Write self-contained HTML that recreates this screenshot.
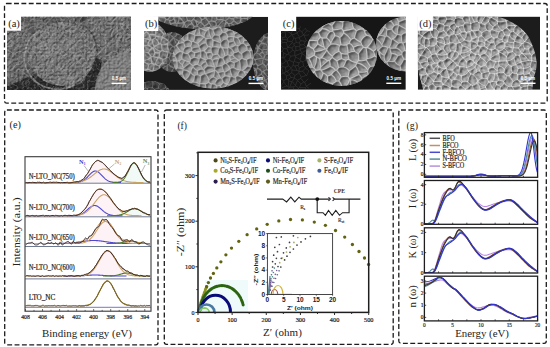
<!DOCTYPE html>
<html><head><meta charset="utf-8"><style>
html,body{margin:0;padding:0;background:#fff;width:550px;height:347px;overflow:hidden}
svg{display:block}
</style></head><body>
<svg width="550" height="347" viewBox="0 0 550 347">
<defs>
<filter id="net" x="0" y="0" width="100%" height="100%" color-interpolation-filters="sRGB">
  <feTurbulence type="turbulence" baseFrequency="0.16" numOctaves="2" seed="4" result="t"/>
  <feColorMatrix in="t" type="matrix" values="0 0 0 0 1  0 0 0 0 1  0 0 0 0 1  -4 0 0 0 1.05"/>
</filter>
<filter id="net2" x="0" y="0" width="100%" height="100%" color-interpolation-filters="sRGB">
  <feTurbulence type="turbulence" baseFrequency="0.11" numOctaves="2" seed="9" result="t"/>
  <feColorMatrix in="t" type="matrix" values="0 0 0 0 1  0 0 0 0 1  0 0 0 0 1  -4 0 0 0 1.0"/>
</filter>
<filter id="net3" x="0" y="0" width="100%" height="100%" color-interpolation-filters="sRGB">
  <feTurbulence type="turbulence" baseFrequency="0.17" numOctaves="2" seed="2" result="t"/>
  <feColorMatrix in="t" type="matrix" values="0 0 0 0 1  0 0 0 0 1  0 0 0 0 1  -4.5 0 0 0 1.1"/>
</filter>
<filter id="dk" x="0" y="0" width="100%" height="100%" color-interpolation-filters="sRGB">
  <feTurbulence type="fractalNoise" baseFrequency="0.2" numOctaves="2" seed="5" result="t"/>
  <feColorMatrix in="t" type="matrix" values="0 0 0 0 0  0 0 0 0 0  0 0 0 0 0  2.2 0 0 0 -1.0"/>
</filter>

<clipPath id="cla"><rect x="7" y="16.6" width="124" height="73.3"/></clipPath>
<clipPath id="clb"><rect x="144" y="16.8" width="124" height="73.1"/></clipPath>
<clipPath id="clc"><rect x="281" y="16.6" width="124.8" height="73.2"/></clipPath>
<clipPath id="cld"><rect x="417.8" y="16.6" width="122.2" height="73.2"/></clipPath>
<filter id="emb" x="410" y="10" width="130" height="85" filterUnits="userSpaceOnUse" color-interpolation-filters="sRGB">
  <feGaussianBlur in="SourceAlpha" stdDeviation="1.1" result="b"/>
  <feDiffuseLighting in="b" surfaceScale="1.3" diffuseConstant="1" lighting-color="#b5b5b5" result="l"><feDistantLight azimuth="225" elevation="45"/></feDiffuseLighting>
</filter>
<filter id="embA" x="0" y="0" width="100%" height="100%" color-interpolation-filters="sRGB">
  <feTurbulence type="turbulence" baseFrequency="0.28" numOctaves="2" seed="2" result="t"/>
  <feColorMatrix in="t" type="matrix" values="0 0 0 0 0  0 0 0 0 0  0 0 0 0 0  -2.5 0 0 0 1" result="a"/>
  <feDiffuseLighting in="a" surfaceScale="0.9" diffuseConstant="1" lighting-color="#b5b5b5"><feDistantLight azimuth="225" elevation="45"/></feDiffuseLighting>
</filter>
<filter id="dk2" x="0" y="0" width="100%" height="100%" color-interpolation-filters="sRGB">
  <feTurbulence type="fractalNoise" baseFrequency="0.35" numOctaves="1" seed="8" result="t"/>
  <feColorMatrix in="t" type="matrix" values="0 0 0 0 0  0 0 0 0 0  0 0 0 0 0  2.5 0 0 0 -0.9"/>
</filter>
<filter id="soft2" x="0" y="0" width="100%" height="100%"><feGaussianBlur stdDeviation="0.6"/></filter>
<filter id="soft" x="0" y="0" width="100%" height="100%"><feGaussianBlur stdDeviation="0.45"/></filter>
<radialGradient id="gapd"><stop offset="0" stop-color="#1e1e1e" stop-opacity="0.95"/><stop offset="1" stop-color="#1e1e1e" stop-opacity="0"/></radialGradient>
<radialGradient id="sg1" cx="0.4" cy="0.35" r="0.75"><stop offset="0" stop-color="#6c6c6c"/><stop offset="0.85" stop-color="#646464"/><stop offset="1" stop-color="#646464"/></radialGradient>
<clipPath id="sc1"><ellipse cx="8" cy="46" rx="23" ry="34"/></clipPath>
<radialGradient id="sg2" cx="0.4" cy="0.35" r="0.75"><stop offset="0" stop-color="#6e6e6e"/><stop offset="0.85" stop-color="#666666"/><stop offset="1" stop-color="#7a7a7a"/></radialGradient>
<clipPath id="sc2"><ellipse cx="116" cy="30" rx="32" ry="31"/></clipPath>
<radialGradient id="sg3" cx="0.4" cy="0.35" r="0.75"><stop offset="0" stop-color="#727272"/><stop offset="0.85" stop-color="#6e6e6e"/><stop offset="1" stop-color="#8c8c8c"/></radialGradient>
<clipPath id="sc3"><ellipse cx="62" cy="54" rx="33" ry="32"/></clipPath>
<radialGradient id="sg4" cx="0.4" cy="0.35" r="0.75"><stop offset="0" stop-color="#828282"/><stop offset="0.85" stop-color="#7c7c7c"/><stop offset="1" stop-color="#8e8e8e"/></radialGradient>
<clipPath id="sc4"><ellipse cx="128" cy="91" rx="33" ry="39"/></clipPath>
<radialGradient id="sg5" cx="0.4" cy="0.35" r="0.75"><stop offset="0" stop-color="#727272"/><stop offset="0.85" stop-color="#646464"/><stop offset="1" stop-color="#646464"/></radialGradient>
<clipPath id="sc5"><ellipse cx="203" cy="11" rx="52" ry="18"/></clipPath>
<radialGradient id="sg6" cx="0.4" cy="0.35" r="0.75"><stop offset="0" stop-color="#5e5e5e"/><stop offset="0.85" stop-color="#565656"/><stop offset="1" stop-color="#565656"/></radialGradient>
<clipPath id="sc6"><ellipse cx="172" cy="52" rx="16" ry="20"/></clipPath>
<radialGradient id="sg7" cx="0.4" cy="0.35" r="0.75"><stop offset="0" stop-color="#929292"/><stop offset="0.85" stop-color="#848484"/><stop offset="1" stop-color="#848484"/></radialGradient>
<clipPath id="sc7"><ellipse cx="150" cy="47" rx="19" ry="25"/></clipPath>
<radialGradient id="sg8" cx="0.4" cy="0.35" r="0.75"><stop offset="0" stop-color="#686868"/><stop offset="0.85" stop-color="#5a5a5a"/><stop offset="1" stop-color="#5a5a5a"/></radialGradient>
<clipPath id="sc8"><ellipse cx="272" cy="62" rx="19" ry="30"/></clipPath>
<radialGradient id="sg9" cx="0.4" cy="0.35" r="0.75"><stop offset="0" stop-color="#4a4a4a"/><stop offset="0.85" stop-color="#404040"/><stop offset="1" stop-color="#404040"/></radialGradient>
<clipPath id="sc9"><ellipse cx="152" cy="93" rx="18" ry="12"/></clipPath>
<radialGradient id="sg10" cx="0.4" cy="0.35" r="0.75"><stop offset="0" stop-color="#9a9a9a"/><stop offset="0.85" stop-color="#989898"/><stop offset="1" stop-color="#b0b0b0"/></radialGradient>
<clipPath id="sc10"><ellipse cx="213" cy="57.5" rx="40.5" ry="31"/></clipPath>
<filter id="emb10" x="172.5" y="26.5" width="81" height="62" filterUnits="userSpaceOnUse" color-interpolation-filters="sRGB"><feGaussianBlur in="SourceAlpha" stdDeviation="1.1" result="b"/><feDiffuseLighting in="b" surfaceScale="1.3" diffuseConstant="1" lighting-color="#b5b5b5"><feDistantLight azimuth="225" elevation="45"/></feDiffuseLighting></filter>
<radialGradient id="sg11" cx="0.4" cy="0.35" r="0.75"><stop offset="0" stop-color="#9a9a9a"/><stop offset="0.85" stop-color="#969696"/><stop offset="1" stop-color="#b0b0b0"/></radialGradient>
<clipPath id="sc11"><ellipse cx="407" cy="44" rx="31" ry="27.5"/></clipPath>
<filter id="emb11" x="376" y="16.5" width="62" height="55" filterUnits="userSpaceOnUse" color-interpolation-filters="sRGB"><feGaussianBlur in="SourceAlpha" stdDeviation="1.1" result="b"/><feDiffuseLighting in="b" surfaceScale="1.3" diffuseConstant="1" lighting-color="#b5b5b5"><feDistantLight azimuth="225" elevation="45"/></feDiffuseLighting></filter>
<radialGradient id="sg12" cx="0.4" cy="0.35" r="0.75"><stop offset="0" stop-color="#9e9e9e"/><stop offset="0.85" stop-color="#9a9a9a"/><stop offset="1" stop-color="#b8b8b8"/></radialGradient>
<clipPath id="sc12"><ellipse cx="341.5" cy="53.5" rx="35.5" ry="32.5"/></clipPath>
<filter id="emb12" x="306" y="21" width="71" height="65" filterUnits="userSpaceOnUse" color-interpolation-filters="sRGB"><feGaussianBlur in="SourceAlpha" stdDeviation="1.1" result="b"/><feDiffuseLighting in="b" surfaceScale="1.3" diffuseConstant="1" lighting-color="#b5b5b5"><feDistantLight azimuth="225" elevation="45"/></feDiffuseLighting></filter>
<clipPath id="dshape"><path d="M410,10 L495,10 L498,16.6 C510,20 522,27 528,36 C533,45 537,56 536.6,65 C536.4,70 535,74 533.5,78 L532,95 L424.5,95 L418,70 Z"/></clipPath>
<radialGradient id="dg" cx="0.55" cy="0.62" r="0.62"><stop offset="0" stop-color="#b0b0b0"/><stop offset="0.7" stop-color="#a2a2a2"/><stop offset="1" stop-color="#868686"/></radialGradient>
<clipPath id="eL"><rect x="25" y="150" width="95" height="170"/></clipPath><clipPath id="eR"><rect x="120" y="150" width="40" height="170"/></clipPath></defs>
<rect width="550" height="347" fill="#fff"/>
<rect x="4.5" y="3.5" width="542.7" height="99.7" rx="2.2" fill="none" stroke="#1c1c1c" stroke-width="1.3" stroke-dasharray="4.9 2.45"/>
<rect x="4.7" y="110" width="153.3" height="234.8" rx="2.2" fill="none" stroke="#1c1c1c" stroke-width="1.3" stroke-dasharray="4.9 2.45"/>
<rect x="164.3" y="110" width="228.9" height="234.3" rx="2.2" fill="none" stroke="#1c1c1c" stroke-width="1.3" stroke-dasharray="4.9 2.45"/>
<rect x="398.8" y="110" width="147.5" height="233.3" rx="2.2" fill="none" stroke="#1c1c1c" stroke-width="1.3" stroke-dasharray="4.9 2.45"/>
<g clip-path="url(#cla)" filter="url(#soft2)">
<rect x="7" y="16.6" width="124" height="73.30000000000001" fill="#5a5a5a"/>
<path d="M7,92 L7,86 L22,80 L34,74 L50,82 L70,88 L84,82 L90,68 L96,58 L102,60 L100,72 L94,92 Z" fill="#2a2a2a"/>
<ellipse cx="84" cy="19" rx="7" ry="5" fill="url(#gapd)" opacity="0.5"/>
<ellipse cx="8" cy="46" rx="23" ry="34" fill="url(#sg1)"/>
<ellipse cx="116" cy="30" rx="32" ry="31" fill="url(#sg2)"/>
<ellipse cx="62" cy="54" rx="33" ry="32" fill="url(#sg3)"/>
<path d="M40,30 A33,32 0 0 0 75,84.5" fill="none" stroke="#a0a0a0" stroke-width="1.6" opacity="0.6"/>
<path d="M85,26 A33,32 0 0 1 93,66" fill="none" stroke="#303030" stroke-width="1.4" opacity="0.5"/>
<rect x="7" y="16.6" width="124" height="73.30000000000001" filter="url(#embA)" style="mix-blend-mode:overlay" opacity="0.55"/>
<rect x="7" y="16.6" width="124" height="73.30000000000001" filter="url(#net3)" opacity="0.22"/>
<ellipse cx="128" cy="91" rx="33" ry="39" fill="url(#sg4)"/>
<g clip-path="url(#sc4)"><rect x="7" y="16.6" width="124" height="73.3" filter="url(#embA)" style="mix-blend-mode:overlay" opacity="0.4"/></g>
</g>
<g clip-path="url(#clb)" filter="url(#soft)">
<rect x="144" y="16.8" width="124" height="73.10000000000001" fill="#1c1c1c"/>
<ellipse cx="203" cy="11" rx="52" ry="18" fill="url(#sg5)"/>
<rect clip-path="url(#sc5)" x="151" y="-7" width="104" height="36" filter="url(#dk2)" opacity="0.4"/>
<path clip-path="url(#sc5)" d="M230.4 28.6Q229.1 26.3 228.6 23.7M233 28.2Q233.4 26.9 234.6 26.2M234.6 26.2Q233.2 24.1 230.8 23.4M228.6 23.7Q229.6 23.1 230.8 23.4M226.1 22.4Q225 24 224.7 26M226.1 22.4Q227.4 22.9 228.6 23.7M227.8 31.6Q226.3 29.9 224.7 28.2M224.7 28.2Q224.9 27.1 224.7 26M239.4 27.6Q238 26.6 238 24.9M238 24.9Q236.3 25.6 234.6 26.2M234 20.8Q236.1 22.4 238.1 24.2M234 20.8Q232.5 22.2 230.8 23.4M238.1 24.2Q238.2 24.6 238 24.9M233.6 18.8Q231 19.3 229.1 17.5M233.6 18.8Q233.8 19.8 234 20.8M226.1 22.4Q225.7 21.6 225.4 20.8M229.1 17.5Q227.5 19.5 225.4 20.8M238.7 1.3Q238.7 1.3 238.7 1.4M238.7 1.3Q240 -0.6 241.8 -2M238.7 1.4Q240.4 3.7 242.8 5.4M242.8 5.4Q246.1 3.3 247.5 -0.3M247.5 -0.3Q244.9 -1.9 241.8 -2M235.5 -5.4Q236.9 -2.8 235.7 -0.2M235.7 -0.2Q237.3 0.3 238.7 1.3M241.8 -2Q241.7 -3.9 241.7 -5.7M217.2 19.7Q215.9 20.5 215.4 21.9M217.2 19.7Q220.1 19.6 223 19.3M223 19.3Q223.3 19.8 223.9 20.1M223.9 20.1Q220.3 22.6 217.9 26.3M215.4 21.9Q216.6 23.6 216.2 25.6M217.9 26.3Q217.2 25.6 216.2 25.6M225.4 20.8Q224.7 20.4 223.9 20.1M224.7 26Q221.4 25.9 218.2 26.6M217.9 26.3Q218.1 26.4 218.2 26.6M224.7 28.2Q221.8 28.5 220 30.7M218.2 26.6Q218 29.1 220 30.7M227.7 -3.5Q226.8 -4.3 226.1 -5.3M227.7 -3.5Q230.4 -5.3 233.1 -7M226.1 -5.3Q225.7 -8.2 227.6 -10.5M238.1 24.2Q239.5 23.3 240.3 21.8M240.3 21.8Q243.6 23.8 247.4 24.7M233.6 18.8Q234.2 17.6 235.4 16.9M235.4 16.9Q237.8 18.3 240.6 17.9M240.3 21.8Q240.7 20.2 240.9 18.6M240.6 17.9Q240.6 18.3 240.9 18.6M235.4 16.9Q235.7 14.2 234.4 11.8M229.1 17.5Q228.5 15.4 229.5 13.4M229.5 13.4Q231.7 12 234.4 11.8M237.5 10.3Q238.7 12.9 241.3 14.3M237.5 10.3Q236.5 10.7 235.6 10.2M240.6 17.9Q240.3 16 241.3 14.3M234.4 11.8Q235.3 11.3 235.6 10.2M171.6 -6Q172.8 -4.7 174.5 -4.3M170.2 -5.5Q170.3 -4 169.7 -2.6M169.7 -2.6Q170.5 -0.3 170.5 2.1M172.2 2.6Q171.2 2.8 170.5 2.1M172.2 2.6Q173.4 0.4 175.8 -0.4M175.8 -0.4Q174.2 -2 174.5 -4.3M175.6 -10.7Q177.6 -7.6 180.2 -4.8M174.5 -4.3Q177.4 -4.2 180.2 -4.8M207.8 -0.3Q207.5 -0.7 207.4 -1.2M207.8 -0.3Q209.7 1.1 212 1.2M212 1.2Q213.5 -0.9 215 -3M215 -3Q213.7 -5.4 212 -7.5M207.4 -1.2Q210.2 -4 212 -7.5M258.1 14.7Q256.1 15.7 254 15.4M254 15.4Q253.6 17.9 254.7 20.1M240.9 18.6Q244.2 18.3 247.5 18.7M247.5 18.7Q247.8 21.1 248.1 23.6M219.1 8.4Q222 5.7 225.9 5.6M219.1 8.4Q217.8 7.8 217 6.6M217 6.6Q216.8 5.8 216.7 5.1M218.7 2.6Q217.4 3.6 216.7 5.1M218.7 2.6Q221.2 1.8 223.7 1.3M223.7 1.3Q224.7 3.5 225.9 5.6M228.2 12.4Q228.1 10.7 227.1 9.3M228.2 12.4Q225.3 13.9 222.2 14.8M227.1 9.3Q224.4 12.5 220.3 12.3M222.2 14.8Q221.3 13.5 220.3 12.3M223 19.3Q223.6 16.8 222.2 14.8M229.5 13.4Q228.6 13.2 228.2 12.4M220.1 12.2Q220.2 12.3 220.3 12.3M220.1 12.2Q219.9 10.2 219.1 8.4M225.9 5.6Q226.6 5.9 227.2 6.2M227.2 6.2Q227.8 7.8 227.1 9.3M215.4 15.1Q216.3 17.4 217.2 19.7M215.4 15.1Q217.1 12.6 220.1 12.2M170.9 29Q173.6 27 176.8 27.6M179.2 29.9Q177.8 28.9 176.8 27.6M161.5 10.6Q164 12.6 165 15.7M161.5 10.6Q163.3 9.7 165.1 8.8M165.1 8.8Q166.2 9.9 167.7 10M167.7 10Q168 12 167.2 14M167.2 14Q165.7 14.3 165 15.7M169.7 -2.6Q167.6 -1.3 165.2 -0.7M162.1 -2.3Q163.4 -1 165.2 -0.7M170.5 2.1Q169.9 2.5 169.4 3M169.4 3Q167.4 2.9 165.7 3.8M165.2 -0.7Q164.7 1.6 165.7 3.8M170 9.5Q170.8 6.2 169.4 3M170 9.5Q168.9 10.1 167.7 10M165.1 8.8Q166.2 6.4 165.3 4.1M165.3 4.1Q165.5 3.8 165.7 3.8M180.2 -4.8Q180.3 -4.7 180.5 -4.7M180.5 -4.7Q181.2 -5.7 182.5 -5.8M182.3 -10.4Q182.8 -8.1 182.5 -5.8M197.1 -10Q197.5 -8.5 196.7 -7.1M196.7 -7.1Q194.2 -6.6 191.9 -5.5M189.3 -10.3Q190.2 -8.4 190.4 -6.3M191.9 -5.5Q191.2 -5.9 190.4 -6.3M182.5 -5.8Q184.4 -5.7 186 -4.5M190.4 -6.3Q188.3 -5.2 186 -4.5M247.5 -0.3Q247.9 -0.3 248.2 -0.6M221.9 -1.7Q221.2 -3.8 220.2 -5.6M221.9 -1.7Q220.1 -1 218.3 -0.3M220.2 -5.6Q218.3 -4.7 217 -3.1M218.3 -0.3Q218.3 -2 217 -3.1M227.7 -3.5Q227.7 -3.2 227.7 -2.8M226.1 -5.3Q223.1 -5 220.8 -6.9M220.8 -6.9Q220.7 -6.2 220.2 -5.6M223.8 0.7Q225.2 -1.7 227.7 -2.8M223.8 0.7Q222.7 -0.4 221.9 -1.7M218.7 2.6Q218.8 1.1 218.3 -0.3M223.8 0.7Q223.7 0.9 223.7 1.3M216.7 5.1Q214.1 4.5 212.7 2.4M212.7 2.4Q212.1 1.9 212 1.2M215 -3Q216 -3.2 217 -3.1M220.8 -6.9Q220.8 -7.3 220.6 -7.7M206.1 2.5Q203.8 3.1 201.4 3.5M206.1 2.5Q207 1.1 207.8 -0.3M201.4 3.5Q201.2 0.9 202.1 -1.6M207.4 -1.2Q206.6 -1.8 205.7 -2.4M205.7 -2.4Q203.9 -2.1 202.1 -1.6M196.7 -7.1Q197.5 -6.8 198 -6.2M197.8 -0.3Q198.7 -1.4 199.3 -2.7M197.8 -0.3Q195.3 -1.8 192.3 -2M192.3 -2Q191.8 -3.7 191.9 -5.5M198 -6.2Q198.7 -4.5 199.3 -2.7M198 -6.2Q200.6 -7.9 203.7 -7.5M202.3 -11.9Q203.6 -9.9 203.7 -7.5M205.7 -2.4Q204 -4.5 204.5 -7.2M202.1 -1.6Q200.5 -1.5 199.3 -2.7M203.7 -7.5Q204.2 -7.5 204.5 -7.2M212 -7.5Q212 -7.6 212 -7.7M213.5 -10.7Q212.4 -9.4 212 -7.7M204.5 -7.2Q205.3 -7.6 206 -8.2M212 -7.7Q209.1 -8.8 206 -8.2M253.7 15.3Q252.3 15.5 251 14.9M253.7 15.3Q253.7 12.1 254.7 9M251 14.9Q250.6 11.8 249.8 8.8M254.7 9Q253.3 7.3 251.2 6.9M249.8 8.8Q250.4 7.9 250.9 7M250.9 7Q251 6.9 251.2 6.9M254 15.4Q253.8 15.4 253.7 15.3M247.5 18.7Q247.7 16.6 249.5 15.4M249.5 15.4Q250.3 15.4 251 14.9M257.9 7Q255.9 7.4 254.7 9M254.6 2.7Q253.6 5.4 251.2 6.9M249.4 5.6Q250 2.5 248.7 -0.4M249.4 5.6Q250.4 6 250.9 7M244.8 12.7Q245 12.8 245.2 12.8M244.8 12.7Q244.5 9.1 242.8 5.8M245.2 12.8Q246.4 10.8 247.7 8.9M247.7 8.9Q245.4 7.4 243.1 5.8M243.1 5.8Q243 5.8 242.9 5.7M242.9 5.7Q242.8 5.8 242.8 5.8M241.3 14.3Q242.9 13.1 244.8 12.7M249.5 15.4Q247 14.6 245.2 12.8M237.5 10.3Q240.8 8.8 242.8 5.8M249.8 8.8Q248.8 8.8 247.7 8.9M249.4 5.6Q246.3 5.7 243.1 5.8M242.8 5.4Q242.8 5.6 242.9 5.7M228.6 5.7Q229.4 3 231.8 1.6M228.6 5.7Q232.9 6.6 235.5 10.1M235.5 7.4Q234.8 8.8 235.5 10.1M235.5 7.4Q234.5 4.2 232.4 1.5M232.4 1.5Q232.1 1.5 231.8 1.6M227.7 -2.8Q229.6 -0.5 231.8 1.6M227.2 6.2Q227.8 5.8 228.6 5.7M235.6 10.2Q235.5 10.2 235.5 10.1M238.7 1.4Q236.8 4.3 235.5 7.4M235.7 -0.2Q234.5 1.5 232.4 1.5M186.7 29.3Q186 31.4 183.9 32.2M186.7 29.3Q189.4 29.4 191.9 30.4M186.7 29.3Q186.7 28.7 186.5 28.1M179.2 29.9Q183.1 27.7 184.3 23.4M186.5 28.1Q185.3 25.8 184.3 23.4M176.8 27.6Q176.6 25.7 177.1 23.7M177.3 23.6Q177.2 23.6 177.1 23.7M177.3 23.6Q180.7 22.5 184.2 22.9M184.3 23.4Q184.2 23.1 184.2 22.9M179.1 16.5Q181.7 19.6 184.3 22.8M179.1 16.5Q179 16.5 179 16.5M179 16.5Q179.6 20.4 177.3 23.6M184.3 22.8Q184.3 22.8 184.2 22.9M189.9 2.6Q188.4 0.2 185.8 -0.9M189.9 2.6Q190 2.6 190.2 2.6M192.3 -2Q191.5 -0.2 191.4 1.7M185.8 -0.9Q185.8 -2.7 186 -4.5M191.4 1.7Q190.8 2.1 190.2 2.6M197.8 -0.3Q196.9 1.8 197.6 3.9M191.4 1.7Q194.6 2.5 197.6 3.9M201.4 3.5Q200.6 5.2 198.9 5.8M197.6 3.9Q198.1 5 198.9 5.8M179.1 16.5Q179.1 16 179.4 15.8M179.4 15.8Q181.9 14.5 184.3 13.1M184.3 13.1Q185.5 14.1 186.5 15.4M184.3 22.8Q185.8 21.5 187.6 20.4M186.5 15.4Q186.4 18 187.6 20.4M206.1 2.5Q205.8 4.7 206.9 6.6M212.7 2.4Q209.7 3.9 209 7.2M209 7.2Q208 6.6 206.9 6.6M177.1 23.7Q176.3 23 175.2 22.8M175.2 22.8Q172.7 22.6 170.9 24.2M169.3 28.1Q169.9 26.1 170.9 24.2M158.1 4.6Q156.8 3.9 155.7 2.7M158.1 4.6Q159.3 3 161.2 2.9M155.7 2.7Q156.4 0.3 157.2 -2.1M161.2 2.9Q160.4 0.4 161.7 -1.8M157.2 -2.1Q159.5 -2.6 161.7 -1.8M152.3 2.5Q154 2.5 155.7 2.7M162.1 -2.3Q161.9 -2.1 161.7 -1.8M165.3 4.1Q163.4 3 161.2 2.9M170 9.5Q171.4 9.9 172.9 10.4M172.9 10.4Q173.4 10.2 173.9 9.9M172.2 2.6Q173 2.9 173.2 3.7M173.9 9.9Q174.2 6.7 173.2 3.7M179.4 15.8Q178.4 12.4 175.9 9.9M184.3 13.1Q183.6 11.2 184.6 9.5M184.6 9.5Q181.9 8.8 179.4 7.3M175.9 9.9Q177.8 8.9 179.4 7.3M206 -8.2Q205.7 -10.5 206.9 -12.5M216.2 25.6Q213.6 26.5 211.9 28.7M213.7 30.7Q213.2 29.3 211.8 28.8M211.9 28.7Q211.9 28.7 211.8 28.8M186.5 15.4Q189.8 14.7 192.9 13.3M185.6 8.7Q185 9 184.6 9.5M185.6 8.7Q188.5 10.7 191.9 10M192.9 13.3Q193.1 11.4 191.9 10M189.9 2.6Q188.4 4.5 186.4 5.7M190.2 2.6Q191.1 5.7 193 8.4M186.4 5.7Q186.6 7.4 185.6 8.7M191.9 10Q192.8 9.4 193 8.4M198.9 5.8Q198.9 5.9 198.9 6M193 8.4Q195.7 6.6 198.9 6M203.2 9.1Q205.2 8 206.9 6.6M203.2 9.1Q201.1 8.6 199.5 7.1M199.5 7.1Q199.1 6.6 198.9 6M164.6 17.7Q165.4 18.5 165.8 19.5M164.6 17.7Q161.6 17.2 158.6 17.7M165.8 19.5Q164.7 22 163.7 24.6M158.6 17.7Q159.6 21.9 162.9 24.8M163.7 24.6Q163.3 24.6 162.9 24.8M169.3 28.1Q166.9 25.7 163.7 24.6M167.5 19.5Q168.9 19.6 169.7 20.7M167.5 19.5Q169.7 17.7 171 15.2M169.7 20.7Q172.1 20.6 173.7 18.8M172.1 14.9Q173.6 15.7 174.2 17.3M172.1 14.9Q171.5 14.9 171 15.2M174.2 17.3Q173.7 18 173.7 18.8M170.9 24.2Q169.6 22.7 169.7 20.7M165.8 19.5Q166.6 19.6 167.5 19.5M167.2 14Q169.2 14.2 171 15.2M165 15.7Q164.9 16.7 164.6 17.7M175.2 22.8Q175.4 20.4 173.7 18.8M172.9 10.4Q172.3 12.6 172.1 14.9M179 16.5Q176.6 17 174.2 17.3M173.9 9.9Q174.9 10.2 175.9 9.9M150 4.5Q151.5 6.8 152.5 9.3M158.1 4.6Q158.9 6.5 158.2 8.5M158.2 8.5Q155.1 7.5 152.5 9.3M161.5 10.6Q160.5 10.9 159.5 10.5M158.2 8.5Q158.4 9.7 159.5 10.5M147.2 11Q150 11.6 152.2 9.9M152.5 9.3Q152.4 9.6 152.2 9.9M178.5 0.5Q179 -0.7 180.2 -1.2M178.5 0.5Q178.7 2.3 178.7 4.1M180.2 -1.2Q181.8 -0.1 183.6 0.8M178.7 4.1Q178.8 4.3 178.9 4.4M178.9 4.4Q181.7 4.6 183.5 2.5M183.6 0.8Q183.7 1.7 183.5 2.5M175.8 -0.4Q177.4 -0.6 178.5 0.5M180.5 -4.7Q179.5 -3 180.2 -1.2M173.2 3.7Q176.1 2.5 178.7 4.1M185.8 -0.9Q184.3 -0.6 183.6 0.8M179.4 7.3Q179.7 5.8 178.9 4.4M186.4 5.7Q185.6 3.6 183.5 2.5M211.8 28.8Q210.8 29.6 209.7 30.2M192.9 13.3Q194.5 14 195.4 15.5M199.5 7.1Q197.6 11 196.6 15.2M196.6 15.2Q196 15.4 195.4 15.5M211.9 28.7Q211.1 25.2 208.9 22.4M209.7 30.2Q207 30.8 204.4 29.8M204.4 29.8Q204.3 27.8 204.3 25.8M204.3 25.8Q207.3 25.1 208.9 22.4M215.4 15.1Q214.1 14.6 212.7 14.4M217 6.6Q213.7 7.4 212.1 10.3M212.7 14.4Q212.9 12.3 212.1 10.3M209 7.2Q210.2 8.1 210.6 9.6M212.1 10.3Q211.4 9.8 210.6 9.6M203.2 9.1Q203.9 9.9 203.9 10.9M210.6 9.6Q209 11.7 206.3 12.1M203.9 10.9Q205 11.6 206.3 12.1M198.2 15.9Q197.2 15.9 196.6 15.2M198.2 15.9Q199.9 13.3 202.9 12.8M203.9 10.9Q203.5 11.9 202.9 12.8M198.2 15.9Q200.5 17.2 201.6 19.6M201.6 19.6Q203.4 19.2 205 18.2M202.9 12.8Q204.6 15.3 205 18.2M197.1 25.4Q197 25.8 196.7 26M197.1 25.4Q196.4 22.9 195.4 20.5M196.7 26Q195.4 26.3 194 26.7M194 26.7Q193.5 24.7 191.8 23.5M191.8 23.5Q191.7 22.1 190.7 21.1M190.7 21.1Q192.6 20.6 193.5 18.8M195.4 20.5Q194.1 20 193.5 18.8M200.5 22.3Q197.5 22.6 195.4 20.5M200.5 22.3Q198.4 23.4 197.1 25.4M191.9 30.4Q192.4 29.5 193.1 28.8M186.5 28.1Q188.1 24.6 191.8 23.5M193.1 28.8Q193.6 27.8 194 26.7M187.6 20.4Q189.2 20.5 190.7 21.1M195.4 15.5Q194.9 17.4 193.5 18.8M200.5 22.3Q200.8 22.2 201 22M201 22Q201.6 20.9 201.6 19.6M158.6 17.7Q157.5 17.6 156.5 17M155 23.4Q156.3 20.3 156.5 17M159.5 10.5Q158.9 14.1 156.5 16.9M152.2 9.9Q151.4 12.8 152.7 15.6M152.7 15.6Q154.7 16.1 156.5 16.9M147.2 11Q148.4 13.6 149.5 16.2M152.7 15.6Q151.2 16.4 149.5 16.2M156.5 17Q156.5 17 156.5 16.9M149.3 16.4Q149.4 16.3 149.5 16.2M193.1 28.8Q196.3 31.7 200.5 32.6M196.7 26Q200.5 27.6 202.5 31.3M204.4 29.8Q203.5 30.5 202.7 31.2M204.3 25.8Q202.5 24.1 201 22M211.8 20.8Q210.1 20.9 208.9 22.2M211.8 20.8Q212.2 18 211.8 15.2M208.9 22.2Q207.5 20.1 205.7 18.2M205.7 18.2Q206.4 16.5 208 15.6M211.8 15.2Q209.9 16.1 208 15.6M215.4 21.9Q213.7 21.2 211.8 20.8M208.9 22.4Q209 22.3 208.9 22.2M212.7 14.4Q212.4 15 211.8 15.2M205 18.2Q205.4 18.2 205.7 18.2M206.3 12.1Q207.4 13.7 208 15.6" stroke="#c4c4c4" stroke-width="1.2" opacity="0.5" fill="none" stroke-linecap="round"/>
<ellipse cx="172" cy="52" rx="16" ry="20" fill="url(#sg6)"/>
<rect clip-path="url(#sc6)" x="156" y="32" width="32" height="40" filter="url(#dk2)" opacity="0.4"/>
<path clip-path="url(#sc6)" d="M184.3 40.4Q185 40.1 185.2 39.5M184.3 40.4Q188.8 39.9 192.4 42.6M191 36.5Q187.6 37.1 185.2 39.5M186.5 34Q186.9 37 185.2 39.5M167.2 73.3Q167.1 69.4 167.3 65.5M162.2 71.6Q162.8 70.2 162.5 68.6M167.3 65.5Q164.5 66.4 162.5 68.6M158.9 64.8Q160.1 67.3 162.5 68.6M158.9 64.8Q157.7 65.4 156.3 65.5M190 68.9Q186.5 66 182.7 63.4M185.6 70.8Q182.7 69.8 181.2 67.3M181.2 67.3Q181.7 66.7 181.6 65.9M181.6 65.9Q182.5 64.8 182.7 63.4M179.3 75Q178.1 72.1 177.5 69.1M177.5 69.1Q175.9 68.5 174.3 67.9M171.1 73.3Q172.3 74.1 173.6 74.7M171.1 73.3Q172 70.4 173.8 68M174.3 67.9Q174.1 68 173.8 68M181.2 67.3Q179 67.4 177.5 69.1M181.6 65.9Q178.5 65.4 176.4 63.1M176.4 63.1Q174.3 65 174.3 67.9M169.4 74.2Q170.3 73.8 171.1 73.3M184.3 40.4Q183.9 40.5 183.6 40.7M186.5 44.9Q185 42.8 183.6 40.7M186.5 44.9Q189.3 44.4 191.3 46.3M186.5 44.9Q186.1 47.3 184.9 49.4M190.3 50.3Q187.6 50 184.9 49.4M180.5 44.3Q182.8 46.9 182.3 50.3M180.5 44.3Q178.8 45.4 176.9 44.6M176.9 44.6Q176.2 46.2 174.5 46.7M182.1 50.6Q182.2 50.4 182.3 50.3M182.1 50.6Q178.6 51.8 175.5 49.8M174.5 46.7Q174.3 48.5 175.5 49.8M183.6 40.7Q183.6 40.7 183.5 40.7M182.5 32Q181.3 33 180.6 34.3M180.6 34.3Q183.5 36.8 183.5 40.7M180.5 44.3Q181.7 42.8 182.8 41.2M184.9 49.4Q183.7 50.2 182.3 50.3M182.8 41.2Q183.3 41.1 183.5 40.7M176.9 44.6Q174.9 41.6 173.9 38.2M182.8 41.2Q177.9 41.1 173.9 38.2M170.3 44.6Q169.9 43.5 169.6 42.3M170.3 44.6Q171.6 45.3 172.7 46.4M169.6 42.3Q170.8 39.4 173.6 37.9M172.7 46.4Q173.5 46.8 174.5 46.7M173.9 38.2Q173.7 38.1 173.6 37.9M170.3 44.6Q168.5 45.3 167.6 47.1M169.6 42.3Q168.9 41.9 168.1 41.8M167.6 47.1Q166 46.3 164.2 46.7M164.2 46.7Q163.6 45.5 162.5 44.6M162.5 44.6Q165.9 44.3 168.1 41.8M167.6 47.1Q166.9 49.6 168.4 51.8M164.2 46.7Q165.5 49.7 164 52.5M164 52.5Q166.1 51.6 168.4 51.8M172.7 46.4Q169.8 48.5 169.2 52.1M175.5 49.8Q174.6 51.8 173.9 53.8M173.9 53.8Q172.4 53.2 171 53.8M171 53.8Q170 53 169.2 52.1M168.4 51.8Q168.8 51.9 169.2 52.1M190.6 52.9Q188.6 53 187 54.2M182.1 50.6Q182.3 51.3 182.1 52M182.1 52Q184.6 52.8 187 54.2M174.3 54.2Q177.2 56 180.6 55.8M174.3 54.2Q174.1 54 173.9 53.8M182.1 52Q181.1 53.8 180.6 55.8M174.3 54.2Q175.3 57 174.4 59.9M174.4 59.9Q175.8 60.1 176.8 61.1M176.8 61.1Q179.7 61.2 181.6 59.1M180.6 55.8Q181.6 57.3 181.6 59.1M177.1 34.2Q175.9 36.5 173.6 37.6M177.1 34.2Q175.1 32.4 175.3 29.8M172.6 29.7Q172.1 32.8 169.7 34.5M169.7 34.5Q171.8 35.9 173.6 37.6M180.6 34.3Q178.8 34 177.1 34.2M173.6 37.9Q173.7 37.7 173.6 37.6M160.9 62Q159.2 62.9 158.9 64.8M160.9 62Q160.4 60.4 160.5 58.7M155.1 58.8Q157.8 58.7 160.5 58.7M158.3 34.8Q160.3 34.3 162.4 34.2M162.4 34.2Q162.6 32.3 163 30.4M164.8 36.8Q166.8 36 167.9 34.2M164.8 36.8Q164.6 37.2 164.4 37.7M167.9 41.6Q166.7 39.2 164.4 37.7M167.9 41.6Q169.6 38.1 168.6 34.4M168.6 34.4Q168.2 34.3 167.9 34.2M165.5 29.2Q167.1 31.5 167.9 34.2M162.4 34.2Q164.1 35 164.8 36.8M168.1 41.8Q168.1 41.7 167.9 41.6M169.7 34.5Q169.2 34.3 168.6 34.4M165 57.2Q167.1 57.8 169.2 57.7M165 57.2Q166.3 60.2 166.2 63.4M169.2 57.7Q169.5 59.4 170.4 60.9M170.4 60.9Q170.1 62.9 168.8 64.4M166.2 63.4Q166.9 64.3 168 64.6M168.8 64.4Q168.4 64.3 168 64.6M164 52.5Q163.1 53.5 161.9 54.1M171 53.8Q169.9 55.7 169.2 57.7M161.9 54.1Q162 54.8 162.1 55.5M162.1 55.5Q163.7 56.1 165 57.2M160.9 62Q163.3 63.8 166.2 63.4M160.5 58.7Q161 57 162.1 55.5M174.4 59.9Q172.2 59.8 170.4 60.9M176.4 63.1Q176.8 62.2 176.8 61.1M173.8 68Q170.6 67.1 168.8 64.4M167.3 65.5Q167.8 65.2 168 64.6M190.5 58.3Q188 58.6 185.4 58.2M189.4 63.3Q186 62.7 182.9 61.4M185.4 58.2Q183.8 59 182.2 59.5M182.9 61.4Q182.5 60.5 182.2 59.5M187 54.2Q186.4 56.2 185.4 58.2M182.7 63.4Q183.1 62.4 182.9 61.4M181.6 59.1Q181.9 59.3 182.2 59.5M159.9 45.7Q157.9 47.2 155.4 47.2M159.9 45.7Q159.1 49.4 160.3 53M155.4 47.2Q155.1 48.5 154.6 49.8M154.6 49.8Q155.1 50.8 155.7 51.7M155.7 51.7Q156.6 51.9 157.2 52.6M160.3 53Q158.8 52.5 157.2 52.6M162.5 44.6Q161.8 44.3 161.1 44.1M161.9 54.1Q161.2 53.4 160.3 53M161.1 44.1Q160.1 44.7 159.9 45.7M151.2 55.4Q152.6 52.6 155.7 51.7M154.6 58.1Q155.9 55.4 157.2 52.6M160.3 39.9Q161.1 41.4 160.6 42.9M160.3 39.9Q158.7 38.9 157.4 37.5M160.6 42.9Q156.7 42.6 152.8 43.3M161.1 44.1Q161 43.5 160.6 42.9M164.4 37.7Q162.6 39.3 160.3 39.9M155.4 47.2Q154.9 44.7 152.8 43.3" stroke="#b4b4b4" stroke-width="1.1" opacity="0.45" fill="none" stroke-linecap="round"/>
<ellipse cx="150" cy="47" rx="19" ry="25" fill="url(#sg7)"/>
<rect clip-path="url(#sc7)" x="131" y="22" width="38" height="50" filter="url(#dk2)" opacity="0.4"/>
<path clip-path="url(#sc7)" d="M130.8 51.4Q128.5 52.1 126.2 52.7M130.8 51.4Q131.4 51.4 132 51.7M132 51.7Q134.2 53.7 134.6 56.6M125.8 58.2Q129.8 55.3 134.6 56.6M168.9 50.6Q170.4 48.8 172.6 48.2M168.9 50.6Q168.9 51.3 168.5 51.9M174.4 54.1Q171.5 53.1 168.6 52.1M168.5 51.9Q168.5 52 168.6 52.1M134 67.4Q135.9 66.8 137.6 67.8M137.6 67.8Q139.5 70.6 138.7 73.8M134.6 56.6Q134.7 56.8 134.9 56.8M133 62.5Q132.5 59.2 134.9 56.8M130.8 51.4Q128.6 48 128.7 44M135.7 37.2Q132 38.6 129.4 41.6M135.7 37.2Q135.9 39.8 136.6 42.2M136.6 42.2Q135.5 43.5 134.3 44.6M134.3 44.6Q132.1 42.8 129.4 43.3M132 51.7Q132.8 49.9 134.6 49.2M134.6 49.2Q135 48.2 135.1 47.2M135.1 47.2Q135.2 45.8 134.3 44.6M170.6 61Q169.5 58.4 166.9 57.4M166.9 57.4Q165.3 59.2 162.9 59.3M167.3 66.3Q165.2 64.3 162.9 62.6M162.9 62.6Q162.5 60.9 162.9 59.3M166.9 57.4Q167.4 54.6 168.6 52.1M168.5 51.9Q165 52.2 162.2 50.2M162.2 50.2Q161.4 51.2 160.2 51.4M159.6 52.6Q160.2 52.1 160.2 51.4M159.6 52.6Q159.7 55 159 57.4M162.9 59.3Q160.9 58.4 159 57.4M153 56.3Q155.5 57.5 158.2 57.7M153 56.3Q154.7 54.6 154.7 52.3M154.7 52.3Q157.1 53.3 159.6 52.6M159 57.4Q158.6 57.5 158.2 57.7M143.6 74.6Q144.3 73.8 144.3 72.7M144.3 72.7Q148.3 72.8 152 74.7M137.6 67.8Q139.3 68 140.9 67.2M140.9 67.2Q143.4 68.2 144.4 70.8M144.3 72.7Q144.6 71.7 144.4 70.8M162.9 62.6Q160.7 63.9 159.4 66.2M158.2 57.7Q156.1 60.6 155.2 64.1M155.2 64.1Q157.2 65.5 159.4 66.2M157.7 76.2Q158.8 73.5 157.3 70.9M162.8 70.3Q161.1 70 160 68.7M157.3 70.9Q158.6 69.8 160 68.7M160 68.7Q159.4 67.5 159.4 66.2M148.3 19.7Q146.2 22.7 144 25.6M148.3 19.7Q149.5 21.5 151.4 22.5M151.4 22.5Q149.2 25.3 148.8 28.8M144 25.6Q144 25.7 144.1 25.9M144.1 25.9Q146.4 27 147.2 29.4M148.8 28.8Q148.1 29.4 147.2 29.4M140.4 22.8Q142 24.5 144 25.6M155.1 18.8Q154.5 20.5 154.4 22.2M154.4 22.2Q152.9 21.9 151.4 22.5M138.1 30.3Q140.8 27.7 144.1 25.9M138.1 30.3Q136.9 28.7 135.4 27.4M138.1 30.3Q139.3 32.3 139.6 34.6M139.6 34.6Q141 35.3 142.6 35.3M147.2 29.4Q147.3 30.8 146.4 31.9M142.6 35.3Q144.3 33.4 146.4 31.9M135 56.8Q136.6 59.9 139.9 61.1M135 56.8Q139 55.5 142.3 52.9M142.4 52.9Q142.3 52.9 142.3 52.9M142.4 52.9Q143.1 56.8 143.8 60.7M139.9 61.1Q141.5 61 142.7 62M143.8 60.7Q143.8 61.1 143.6 61.4M142.7 62Q143.3 61.9 143.6 61.4M133.7 64.3Q136.3 61.9 139.9 61.1M134.9 56.8Q134.9 56.8 135 56.8M134.6 49.2Q139 49.9 142.3 52.9M135.1 47.2Q139.1 48.8 143 46.8M143 46.8Q143 49.3 143.4 51.8M143.4 51.8Q143 52.4 142.4 52.9M148.4 52.6Q149.6 54.8 151.3 56.6M148.4 52.6Q145.8 52.6 143.4 51.8M151.3 56.6Q151.2 57 150.9 57.3M150.9 57.3Q148 60.3 143.8 60.7M140.9 67.2Q141.3 64.4 142.7 62M165.7 28Q164.3 30.6 165.4 33.3M169.6 34.2Q167.5 33.8 165.4 33.3M147.7 69.1Q150 69.9 152.1 71M147.7 69.1Q148.2 66.8 148.9 64.5M148.9 64.5Q150.1 63.4 151.7 63.4M152.1 71Q152.8 70.8 153.2 70.1M153.2 70.1Q154 67.3 154.1 64.4M151.7 63.4Q153 63.7 154.1 64.4M144.4 70.8Q146 69.8 147.7 69.1M152 74.7Q152.7 72.9 152.1 71M143.6 61.4Q146.1 63.2 148.9 64.5M150.9 57.3Q151.9 60.3 151.7 63.4M157.3 70.9Q155.1 71.2 153.2 70.1M155.2 64.1Q154.6 64 154.1 64.4M151.3 56.6Q152.2 56.5 153 56.3M133.6 27.5Q132.5 30.9 132.7 34.6M132.7 34.6Q130.7 34.8 128.6 34.7M135.9 36.4Q134.2 35.7 132.7 34.6M135.9 36.4Q137.5 35 139.6 34.6M154.4 22.2Q155.9 23.5 157.3 24.8M161.8 17.2Q158.3 20.3 157.3 24.8M148.4 52.6Q149.4 49.3 152.6 47.9M154.7 52.3Q154.1 50 153.2 47.7M152.6 47.9Q152.9 47.8 153.2 47.7M160.2 51.4Q156.4 50.2 154.1 47M153.2 47.7Q153.5 47.1 154.1 47M148.9 34.2Q149.8 37.1 151 39.9M148.9 34.2Q152.4 34.3 155.8 35M155.1 38.2Q153.4 38.8 152.2 40M155.1 38.2Q155.7 37.2 156.2 36.1M152.2 40Q151.6 40 151 39.9M155.8 35Q155.9 35.6 156.2 36.1M155.8 29.8Q155.5 32.4 155.8 35M155.8 29.8Q152.2 30.1 148.8 28.8M146.4 31.9Q147.9 32.7 148.9 34.2M159.1 43.7Q158.1 40.2 155.1 38.2M159.1 43.7Q156.6 45.2 154.2 46.8M154.2 46.8Q152.5 43.6 152.2 40M157.8 28Q156.5 28.5 155.8 29.8M157.8 28Q161.3 30.7 164 34.1M162.3 36.8Q162.7 35.2 164 34.1M162.3 36.8Q159.2 37.3 156.2 36.1M162.5 37.2Q166.2 38.7 168.9 41.7M162.5 37.2Q160.8 40.2 160.6 43.7M161.6 44.5Q161 44.2 160.6 43.7M161.6 44.5Q164.9 45.4 167.8 43.6M167.8 43.6Q168 42.4 168.9 41.7M162.3 36.8Q162.4 37 162.5 37.2M170.6 40.8Q169.6 41.1 168.9 41.7M164 34.1Q164.9 34.1 165.4 33.3M159.1 43.7Q159.9 44 160.6 43.7M162.2 50.2Q161.5 47.4 161.6 44.5M154.1 47Q154.2 46.9 154.2 46.8M168.9 50.6Q166.7 47.3 167.8 43.6M135.9 36.4Q135.9 36.9 135.7 37.2M162.3 26.8Q162.4 23.1 165 20.4M162.3 26.8Q160.1 26.7 158.1 27.4M165 20.4Q162.6 24.8 157.8 26M158.1 27.4Q157.6 26.7 157.8 26M165.7 28Q164.2 27 162.3 26.8M157.8 28Q157.8 27.6 158.1 27.4M157.3 24.8Q157.5 25.4 157.8 26M143.6 38.7Q147.2 38.1 150 40.3M143.6 38.7Q143.1 41.2 142.3 43.6M150 40.3Q147.8 42.1 148 44.9M148 44.9Q145.7 46 143.2 46M143.2 46Q143.3 44.6 142.3 43.6M142.6 35.3Q142.9 37.1 143.6 38.7M151 39.9Q150.4 39.9 150 40.3M136.6 42.2Q139.6 42.3 142.3 43.6M152.6 47.9Q150.4 46.3 148 44.9M143 46.8Q143 46.4 143.2 46" stroke="#d0d0d0" stroke-width="1.2" opacity="0.55" fill="none" stroke-linecap="round"/>
<ellipse cx="272" cy="62" rx="19" ry="30" fill="url(#sg8)"/>
<rect clip-path="url(#sc8)" x="253" y="32" width="38" height="60" filter="url(#dk2)" opacity="0.4"/>
<path clip-path="url(#sc8)" d="M287.8 84.3Q286.8 80.8 287.1 77.2M287.8 84.3Q285.5 84.8 283.3 84.3M283.3 84.3Q282.7 81.9 280.8 80.1M287.1 77.2Q283.7 78.1 280.8 80.1M282.1 86.4Q283.1 85.6 283.3 84.3M282.1 86.4Q279.6 85.6 277.1 86.6M280.2 79.7Q280.4 80.1 280.8 80.1M280.2 79.7Q278.6 79.2 277 79.1M277 79.1Q276.3 79.9 275.3 80.1M275.3 80.1Q275.1 81.2 274.7 82.2M274.7 82.2Q275.9 84.4 277.1 86.6M291.1 67.7Q291.3 68.2 291.9 68.3M291.1 67.7Q291.3 65.5 290.1 63.6M290.1 63.6Q290.9 63.2 291.5 62.5M293.1 68.3Q292.5 68.1 291.9 68.3M292.8 62.1Q292.2 62.6 291.5 62.5M293.4 53.5Q292.1 54.4 290.7 55.1M290.7 55.1Q291.1 58.8 291.5 62.5M286.5 48.5Q287.5 48.2 288.4 47.9M286.5 48.5Q286 48.5 285.6 48.2M285.6 48.2Q283.1 46.5 281.2 44.1M288.9 45.2Q286.9 43.3 284.2 42.7M288.9 45.2Q288.3 46.5 288.4 47.9M284.2 42.7Q282.5 42.9 281.2 44.1M280 52.1Q282.7 50 285.6 48.2M280 52.1Q279 51.2 278.6 50M281.2 44.1Q280.7 44 280.2 43.9M278.6 50Q280.8 47.3 280.2 43.9M291.2 41.6Q290.3 43.6 288.9 45.2M292.5 50.5Q290.2 49.6 288.4 47.9M265.9 66.5Q264.6 64.6 262.7 63.5M265.9 66.5Q267.6 64.4 269.4 62.5M262.7 63.5Q262.3 61 263.5 58.8M263.5 58.8Q265.1 59.3 266.7 60M269.4 62.5Q268.5 60.8 266.7 60M290.7 55.1Q290.1 55.1 289.5 55.4M286.5 48.5Q286.2 51 285.7 53.6M285.7 53.6Q288 53.7 289.5 55.4M282.8 74.4Q284.9 75.2 287.1 74.8M282.8 74.4Q282 73.1 281.1 72M287.1 74.8Q286 72.4 286.2 69.8M286.2 69.8Q284 69.8 282.6 68.1M281.1 72Q280.9 70.6 281.7 69.3M282.6 68.1Q282.4 68.9 281.7 69.3M280.2 79.7Q281.4 77 282.8 74.4M276.9 74.6Q277.4 76.9 277 79.1M276.9 74.6Q279.4 73.9 281.1 72M276.9 74.6Q276.2 73.7 275.4 72.8M275.4 72.8Q276.5 71.4 276.8 69.8M276.8 69.8Q279.3 69.5 281.7 69.3M287.5 76.7Q287.4 75.8 287.2 74.9M287.5 76.7Q290.4 78.9 294 79.1M287.2 74.9Q290 74.7 291.9 72.6M287.1 77.2Q287.2 76.9 287.5 76.7M287.1 74.8Q287.1 74.9 287.2 74.9M291.1 67.7Q289 69.6 286.2 69.8M291.9 68.3Q291.6 70.5 291.9 72.6M254.6 85.3Q256.1 82.9 257.2 80.3M252.6 78.5Q254.8 78 256.8 78.9M257.2 80.3Q257.1 79.6 256.8 78.9M254.7 85.4Q257.6 85.2 260.3 86.1M262.3 89.1Q261.7 87.3 260.3 86.1M262.3 89.1Q260.7 89.9 260 91.6M268 95.1Q267.7 93.3 267.6 91.5M262.3 89.1Q263.7 88.5 265.1 89.1M267.6 91.5Q266.6 90 265.1 89.1M276.3 88.4Q274.3 87.9 272.4 88.8M276.3 88.4Q277.9 90.7 278.5 93.4M272.4 88.8Q273 91.6 274.8 93.7M274.8 93.7Q276.4 94.1 278 93.9M274.7 82.2Q273.2 84 271.3 85.2M277.1 86.6Q277 87.6 276.3 88.4M271.3 85.2Q271.7 86.8 271.5 88.5M271.5 88.5Q272 88.6 272.4 88.8M269.2 96.2Q272.3 95.5 274.8 93.7M271.5 88.5Q269.5 89.9 267.6 91.5M263.5 58.8Q263.4 58.6 263.3 58.4M263.3 58.4Q264.8 57.2 265 55.3M266.7 60Q269.7 58.9 271.5 56.3M271.5 56.3Q269.6 54.5 267.1 53.9M265 55.3Q266.1 54.6 267.1 53.9M278.6 50Q276.1 49.6 273.6 50M273.6 50Q273.5 49.9 273.4 49.8M273.4 49.8Q273.2 46.2 273.3 42.7M280.2 43.9Q279.3 43.5 279 42.5M273.3 42.7Q276.1 41.9 279 42.5M257.7 68.3Q257.8 67 257.7 65.8M257.7 68.3Q257.1 69.1 256.2 69.3M257.7 65.8Q257.2 64.2 255.7 63.5M255.7 63.5Q252.8 65.1 249.8 66.3M256.2 69.3Q253.2 67.4 249.8 66.3M262.7 63.5Q260.4 65 257.7 65.8M263.3 58.4Q262.8 58.2 262.3 58.1M255.7 63.5Q256.2 61.5 255 59.8M262.3 58.1Q258.6 58.8 255 59.8M249.8 58.8Q251.6 58.2 253.5 58.3M249 49.9Q250.6 53.5 254.5 54.4M254.5 54.4Q253.1 56.1 253.5 58.3M253.5 58.3Q254.2 59.1 255 59.8M264.1 36.8Q263.5 39.7 261.3 41.6M264.1 36.8Q262.1 34.3 262.7 31.1M261.3 41.6Q258.3 40.9 256.3 38.7M272 62.4Q272.1 61.3 271.9 60.1M272 62.4Q270.7 62.5 269.4 62.5M271.5 56.3Q271.6 56.4 271.7 56.4M271.9 60.1Q272 58.2 271.7 56.4M273.6 50Q273.1 52.7 273.3 55.5M273.4 49.8Q270.6 50 267.9 49.9M267.1 53.9Q266.5 51.7 267.9 49.9M271.7 56.4Q272.5 55.9 273.3 55.5M269.7 77.1Q272.6 75.5 273.7 72.3M269.7 77.1Q269.3 73.4 268 69.9M273.7 72.3Q271.9 71.2 270.9 69.4M268 69.9Q269.4 69.4 270.9 69.4M275.3 80.1Q272.3 79.3 269.6 77.7M269.6 77.7Q269.6 77.4 269.7 77.1M275.4 72.8Q274.4 72.9 273.7 72.3M276.8 69.8Q276.7 66.7 274.5 64.6M274.5 64.6Q271.9 66.4 270.9 69.4M265.9 66.5Q266.5 67.8 266.4 69.4M266.4 69.4Q267.2 69.8 268 69.9M272 62.4Q273.6 62.9 274.5 64.3M274.5 64.3Q274.5 64.5 274.5 64.6M274.5 64.3Q276.6 63.5 278.6 62.7M282.6 68.1Q282.7 66.5 282 65M278.6 62.7Q280.8 63.1 282 65M290.1 63.6Q288.8 62.3 287 62.3M282 65Q284.1 62.9 287 62.3M289.5 55.4Q288.7 58 286.7 59.7M287 62.3Q287.3 60.9 286.7 59.7M289.4 89.3Q285.8 90.4 282.3 89.4M282.3 89.4Q282.3 91 281.5 92.5M282.1 86.4Q281.5 88 282.3 89.4M260.3 86.1Q260.7 84.2 262.1 82.9M265.1 89.1Q265.1 88.1 265.6 87.2M262.1 82.9Q264.3 84.7 265.6 87.2M257.2 80.3Q259.8 80.8 262.4 81.6M262.1 82.9Q262.2 82.3 262.4 81.6M271.3 85.2Q269.3 85 267.7 83.9M267.7 83.9Q266.6 85.6 265.6 87.2M269.3 77.8Q265.5 75.4 263.4 71.4M269.3 77.8Q267.6 78.9 265.9 79.9M265.9 79.9Q265.5 79.8 265.1 79.8M265.1 79.8Q264.3 76.4 261.5 74.2M261.5 74.2Q261.3 73 262 72M262 72Q262.7 71.6 263.4 71.4M266.4 69.4Q264.9 70.3 263.4 71.4M269.6 77.7Q269.4 77.7 269.3 77.8M267.7 83.9Q265.9 82.3 265.9 79.9M262.4 81.6Q263.9 80.9 265.1 79.8M257.4 76.5Q257.2 77.7 256.8 78.9M257.4 76.5Q259.4 75.3 261.5 74.2M257.7 68.3Q260.7 69.2 262 72M287.4 33.3Q284.9 34.2 282.3 34.5M287.8 38.5Q284.9 39.2 282 38.7M282 38.7Q282.1 36.6 282.3 34.5M284.2 42.7Q285.6 40.2 287.8 38.5M279.2 41.4Q278.9 41.9 279 42.5M279.2 41.4Q281 40.4 282 38.7M264.1 36.8Q265.6 37.8 267.5 37.4M266.6 44.5Q267.3 43.9 268.2 43.5M266.6 44.5Q264.2 43.6 261.8 42.9M261.8 42.9Q261.6 42.2 261.3 41.6M268.2 43.5Q266.6 40.6 267.5 37.4M266.6 44.5Q267.7 46.7 267.3 49.1M267.3 49.1Q267.6 49.5 267.9 49.9M273.3 42.7Q273.3 42.6 273.2 42.6M268.2 43.5Q270.5 42.1 273.2 42.6M262.7 31.1Q265.6 31 268.4 31.4M268.4 31.4Q270.6 33.1 270.7 36M267.5 37.4Q268.8 36.1 270.7 36M252.1 73.9Q254 75.3 256.4 75.6M250.8 72.7Q253.7 71.5 256 69.5M256.4 75.6Q257.3 72.5 256 69.5M257.4 76.5Q257 75.9 256.4 75.6M256.2 69.3Q256.1 69.4 256 69.5M259.3 54.4Q257.9 53.4 256.5 52.8M259.3 54.4Q260.4 52.7 262.3 52.2M256.5 52.8Q257.7 50.7 258 48.3M261.8 50.2Q262.4 51.1 262.3 52.2M261.8 50.2Q260.3 48.8 258.5 48M258 48.3Q258.2 48.2 258.2 48.1M258.5 48Q258.3 48 258.2 48.1M262.3 58.1Q261.6 55.6 259.3 54.4M254.5 54.4Q255.4 53.4 256.5 52.8M265 55.3Q263.7 53.7 262.3 52.2M250.8 47.5Q254.4 47.9 258 48.3M267.3 49.1Q264.5 49.3 261.8 50.2M261.8 42.9Q258.9 44.6 258.5 48M253.2 42.1Q257 44.1 258.2 48.1M278.7 61.8Q281 59.5 283.7 57.7M278.7 61.8Q278.2 59.8 277.7 57.7M277.5 56.7Q277.6 57.2 277.7 57.7M277.5 56.7Q278.5 54.7 280.3 53.4M283.7 57.7Q283.3 56.1 282.9 54.5M280.3 53.4Q281.4 54.5 282.9 54.5M278.6 62.7Q278.5 62.3 278.7 61.8M286.7 59.7Q284.8 59.3 283.7 57.7M271.9 60.1Q274.8 58.9 277.7 57.7M273.3 55.5Q275.3 56.3 277.5 56.7M280 52.1Q279.9 52.8 280.3 53.4M285.7 53.6Q284.2 53.6 282.9 54.5M268.4 31.4Q270.1 29.7 271.8 27.9M271.4 36.2Q271.7 36.9 272.3 37.5M271.4 36.2Q272.8 33.6 275.2 31.9M272.3 37.5Q275.4 38.1 278 36.2M275.2 31.9Q276.6 32.9 278.2 32.4M278 36.2Q278.1 34.8 278.8 33.5M278.8 33.5Q278.7 32.8 278.2 32.4M273.2 42.6Q272 40.2 272.3 37.5M270.7 36Q271.1 36 271.4 36.2M271.8 27.9Q273.2 30.2 275.2 31.9M279.2 41.4Q279.9 38.5 278 36.2M280.3 27.5Q279.1 29.9 278.2 32.4M282.3 34.5Q280.7 33.6 278.8 33.5" stroke="#bcbcbc" stroke-width="1.1" opacity="0.45" fill="none" stroke-linecap="round"/>
<ellipse cx="152" cy="93" rx="18" ry="12" fill="url(#sg9)"/>
<rect clip-path="url(#sc9)" x="134" y="81" width="36" height="24" filter="url(#dk2)" opacity="0.4"/>
<path clip-path="url(#sc9)" d="M143.8 101.2Q145.4 98.9 146.2 96.3M143.8 101.2Q142.9 101.4 142 101.5M142 101.5Q142 96.8 138.3 93.9M146.2 96.3Q143.7 95.2 142.4 92.8M142.4 92.8Q140.5 94 138.3 93.9M144.8 82.5Q147.9 82.2 150.4 80.4M144.8 82.5Q144.1 81.5 142.9 81.3M149.8 76.7Q151 78.4 150.4 80.4M171.9 86.9Q170.1 88 168.1 88.7M168.1 88.7Q171.3 91.3 171.5 95.5M133.5 99.6Q134.7 98.9 136 98.5M136 98.5Q136 95.8 137.7 93.8M137.7 93.8Q137.3 93 136.4 92.8M132.3 93Q134.4 93.4 136.4 92.8M136 98.5Q136.9 100.9 139.3 101.9M134.9 104.6Q137.3 103.6 139.3 101.9M142 101.5Q142 101.5 142 101.5M137.7 93.8Q138.1 93.7 138.3 93.9M139.3 101.9Q140.6 101.6 142 101.5M154.1 102.1Q154.6 105.1 152.5 107.4M154.1 102.1Q150.7 103.9 147.2 102.6M147.6 107Q147 104.9 146.1 103M147.2 102.6Q146.6 102.7 146.1 103M154.8 101.1Q154.5 101.6 154.1 102.1M154.8 101.1Q153 99.6 150.9 98.5M150.9 98.5Q149.3 100.8 147.2 102.6M150.9 98.5Q150.1 97.5 149.6 96.4M149.6 96.4Q148 96.1 146.4 96.2M143.8 101.2Q144.9 102.2 146.1 103M146.4 96.2Q146.3 96.2 146.2 96.3M152.3 93.5Q150.4 92 147.9 91.3M152.3 93.5Q153.2 92.6 154.5 92.5M154.5 92.5Q154.8 91.1 154.4 89.7M154.4 89.7Q152.9 88.8 152.3 87.2M152.3 87.2Q149.5 86.8 147.2 88.5M147.2 88.5Q147.6 89.9 147.9 91.3M149.6 96.4Q150.8 94.8 152.3 93.5M146.4 96.2Q147.3 93.8 147.9 91.3M154.8 101.1Q155.5 101.2 156 100.7M156 100.7Q157.9 97.9 156.9 94.8M156.9 94.8Q155.2 94.1 154.5 92.5M159.4 84Q158.3 85.8 158.3 88M159.4 84Q157.6 82.2 155.2 81.4M158.3 88Q156.2 88.6 154.4 89.7M153 82.1Q153.9 81.3 155.2 81.4M153 82.1Q153 84.7 152.3 87.2M144.8 82.5Q145.8 85.1 145.2 87.9M145.2 87.9Q146.1 88.3 147.2 88.5M150.4 80.4Q152 80.8 153 82.1M145.2 87.9Q144.8 88.3 144.2 88.5M144.2 88.5Q142.4 90.3 142.4 92.8M165.8 87.7Q163.6 89.1 161 89.6M165.8 87.7Q166.7 87.9 167.1 88.6M167.1 88.6Q164.9 90.9 164.7 94M161 89.6Q160.3 91.8 159.9 94.1M164.7 94Q163.1 95 161.2 94.6M161.2 94.6Q160.6 94.3 159.9 94.1M163.7 83.3Q161.4 82.9 159.4 84M163.7 83.3Q165.8 85 165.8 87.7M158.3 88Q159.5 89 161 89.6M163.7 83.3Q163.7 82.8 164 82.3M168.1 88.7Q167.6 88.8 167.1 88.6M156.9 94.8Q158.3 93.8 159.9 94.1M171.1 96.1Q169 96.3 167.2 97.6M167.2 97.6Q167 99 166.2 100.2M166.2 100.2Q168 101.8 169.8 103.5M164.7 94Q166.7 95.3 167.2 97.6M140.2 87.4Q138.7 87.5 137.4 88M140.2 87.4Q141.4 85.2 140.6 82.7M137.4 88Q136.3 85.7 134.7 83.7M140.6 82.7Q137.7 83.8 134.7 83.7M144.2 88.5Q142.3 87.4 140.2 87.4M136.4 92.8Q137.2 90.5 137.4 88M142.9 81.3Q141.7 81.9 140.6 82.7M162.3 102.7Q163.2 101.4 164.6 100.8M162.3 102.7Q160.5 102.6 158.8 102.1M158.8 102.1Q158.7 102 158.6 102M158.6 102Q160.8 99.8 161.7 96.8M164.6 100.8Q163.2 98.8 161.7 96.8M163.6 107.1Q163.6 104.7 162.3 102.7M166.2 100.2Q165.4 100.4 164.6 100.8M157.9 108Q157.1 104.9 158.8 102.1M156 100.7Q157.5 100.9 158.6 102M161.2 94.6Q161.7 95.6 161.7 96.8M155.2 81.4Q157.4 79.9 157.7 77.3M142 101.5Q142.7 105.1 140.9 108.4" stroke="#a0a0a0" stroke-width="1.0" opacity="0.35" fill="none" stroke-linecap="round"/>
<ellipse cx="213" cy="57.5" rx="40.5" ry="31" fill="url(#sg10)"/>
<rect clip-path="url(#sc10)" x="172.5" y="26.5" width="81" height="62" filter="url(#dk2)" opacity="0.2"/>
<g clip-path="url(#sc10)"><g filter="url(#emb10)" style="mix-blend-mode:overlay" opacity="0.6"><path d="M204.2 50.5Q204.7 52.2 206.3 52.9M204.2 50.5Q202.4 51.1 200.5 50.9M206.3 52.9Q206.5 55.9 207.7 58.6M205.8 59.8Q206.9 59.5 207.7 58.6M205.8 59.8Q203.1 58.7 200.4 57.6M200.4 57.6Q201.1 54.3 200.5 50.9M193.3 41.2Q194.9 43.2 197.5 43.1M193.3 41.2Q192.3 41.3 191.4 41.9M191.4 41.9Q192 44.3 190.4 46.1M197.5 43.1Q198.9 44.7 198.7 46.9M191.6 48.4Q191.5 47 190.4 46.1M191.6 48.4Q195 46.6 198.7 47M198.7 47Q198.7 46.9 198.7 46.9M203.8 37.1Q201.1 40.6 197.5 43.1M203.8 37.1Q202.2 35.6 200.1 35.1M194.9 35.4Q197.5 35.3 200.1 35.1M194.9 35.4Q194.7 38.5 193.3 41.2M187.7 53.5Q189.7 55.9 190.4 59M187.7 53.5Q189.2 51.6 191.4 50.7M191.4 50.7Q193 51.7 194.6 52.6M194.6 52.6Q194.8 55 193.9 57.2M190.4 59Q192.1 58.1 193.9 57.2M200.4 50.9Q197.8 52.6 194.6 52.6M200.4 50.9Q200.4 48.6 198.7 47M191.6 48.4Q191.8 49.6 191.4 50.7M199.3 58.4Q196.7 57.5 193.9 57.2M199.3 58.4Q199.8 58 200.4 57.6M200.4 50.9Q200.5 50.9 200.5 50.9M205.8 59.8Q205.6 60.6 205.6 61.5M199.3 58.4Q198.9 61.4 197.5 64.1M197.5 64.1Q198.7 65.6 200.6 65.7M205.6 61.5Q202.2 62.5 200.6 65.7M189.5 62Q190.6 60.6 190.4 59M189.5 62Q189.5 62.5 189.8 63.1M197.5 64.1Q194.9 64.1 193.1 65.9M189.8 63.1Q191.3 64.6 193.1 65.9M200.6 65.7Q202 67 202.4 68.9M197.2 70.6Q199.5 69 202.4 68.9M197.2 70.6Q194.6 69.3 193.1 66.7M193.1 65.9Q193.3 66.3 193.1 66.7M174.7 56Q174.8 55.5 175 55.1M174.7 56Q171.6 56.3 168.6 56.7M175 55.1Q172.8 52.3 170.9 49.3M169.3 62.8Q172.5 60.4 176.6 60.9M176.6 60.9Q176.4 58.1 174.7 56M170.9 40.5Q171.6 43.9 174.7 45.4M174.7 45.4Q172.4 47 170.9 49.3M203.8 37.1Q203.9 37 204 37.1M200.1 35.1Q199.1 31.2 198.6 27.3M198.6 27.3Q202.2 29.6 206.3 30.8M204 37.1Q204 33.6 206.3 30.8M209.2 27.9Q208.9 28.1 208.8 28.4M209.2 27.9Q204.8 25.6 201.1 22.3M198.6 27.3Q198.3 26.8 198 26.4M198 26.4Q198.6 23.9 200.6 22.4M206.3 30.8Q207.5 29.6 208.8 28.4M209.3 27.9Q209.3 27.9 209.2 27.9M209.3 27.9Q210.5 25.3 210.6 22.4M209.3 27.9Q211.1 28.5 212.8 29.3M212.8 29.3Q215.7 29 217.8 26.8M216.7 20.4Q218.4 23.4 217.8 26.8M194 34.4Q195.9 30.8 196.3 26.8M194 34.4Q194.7 34.7 194.9 35.4M198 26.4Q197.5 26.6 197.1 26.5M182.5 26Q186.6 27 189.2 30.4M180.1 31.5Q182.3 31.7 183.9 33.3M183.9 33.3Q185.8 34 187.8 33.9M187.8 33.9Q188.2 33.2 189.1 32.9M189.1 32.9Q188.6 31.6 189.2 30.4M191.7 26.3Q190.2 28.2 189.2 30.4M183 39.3Q182.8 36.2 183.9 33.3M183 39.3Q180.2 38.9 178.5 36.6M187.6 39.9Q185.9 40.3 184.4 41.1M187.6 39.9Q188 36.9 187.8 33.9M183 39.3Q183.7 40.2 184.4 41.1M187.6 39.9Q189.9 40.1 191.4 41.9M194 34.4Q191.6 33.6 189.1 32.9M200.8 92.2Q202.5 89.6 205.7 89.2M205.7 89.2Q207.8 90.3 209.7 91.7M199 86.9Q200.5 89.3 200.8 92.2M199 86.9Q197.3 89.3 194.4 89.6M216.6 89.8Q217.3 90.8 217.8 92M216.6 89.8Q213.5 90.6 210.2 91M194.4 89.6Q191.2 88.4 189.7 85.3M189.7 85.3Q189.7 88.4 187.4 90.3M189.8 83.1Q188.3 80.9 185.6 80.4M189.8 83.1Q190 84.3 189.7 85.3M183.6 81.2Q184.5 80.5 185.6 80.4M183.6 81.2Q182.1 84.7 180.9 88.4M211.6 52.5Q208.9 52.1 206.3 52.9M211.6 52.5Q212.3 53.7 212.8 55.1M207.7 58.6Q209.3 58.6 210.9 58.5M210.9 58.5Q211.9 56.8 212.8 55.1M185.6 79.6Q183 77.2 182.4 73.7M185.6 79.6Q189 76.7 190.3 72.5M190.3 72.5Q187.2 69.9 183.1 69.8M182.4 73.7Q182.5 71.7 183.1 69.8M183.6 67.7Q182.9 68.2 182.8 69.1M183.6 67.7Q186.6 65.3 189.8 63.1M182.8 69.1Q183 69.4 183.1 69.8M190.7 72.3Q190.5 72.4 190.3 72.5M190.7 72.3Q190.7 69 193.1 66.7M182.3 64.7Q179.6 63.4 178.8 60.6M182.3 64.7Q184.2 62.9 184.5 60.3M178.8 60.6Q180.6 60.2 181.9 58.9M184.5 60.3Q182.9 60.1 181.9 58.9M176.9 68Q177.5 64.5 176.6 60.9M176.9 68Q180 67.8 182.8 69.1M183.6 67.7Q182.4 66.5 182.3 64.7M176.6 60.9Q177.8 61.2 178.8 60.6M189.5 62Q186.8 61.5 184.5 60.3M187.7 53.5Q185.2 53.7 183.2 52.1M183.2 52.1Q181.3 55.3 181.9 58.9M182.9 51.8Q181.5 52.1 180.4 51.1M182.9 51.8Q182.9 49 185.1 47.3M180.4 51.1Q178.2 48.4 176.3 45.5M185.1 47.3Q184.4 44.8 183.6 42.3M183.6 42.3Q180.8 43.1 177.9 43.9M177.9 43.9Q177.2 44.8 176.3 45.5M176.6 60.9Q176.6 60.9 176.6 60.9M183.2 52.1Q183.1 51.9 182.9 51.8M175 55.1Q176.9 52.1 180.4 51.1M190.4 46.1Q187.6 45.9 185.1 47.3M174.7 45.4Q175.5 45.1 176.3 45.5M184.4 41.1Q184.3 41.9 183.6 42.3M178.1 37.1Q179.6 40.5 177.9 43.9M205.8 38.6Q208.5 38.7 211.1 38.2M205.8 38.6Q205.8 40.6 206.1 42.6M206.1 42.6Q206.7 44.9 208 46.8M212.9 40Q213.1 43.5 212.4 47M212.9 40Q212.1 39.2 211.8 38.2M208 46.8Q209.9 46.2 211.4 47.4M211.8 38.2Q211.4 38.2 211.1 38.2M211.4 47.4Q211.8 47.1 212.4 47M204 37.1Q205 37.7 205.8 38.6M208.8 28.4Q208.3 33.7 211.1 38.2M198.7 46.9Q201.4 42.9 206.1 42.6M204.2 50.5Q206.5 49 208 46.8M211.6 52.5Q210.4 50 211.4 47.4M214.8 34.7Q213.2 32.2 212.8 29.3M214.8 34.7Q212.7 35.9 211.8 38.2M220.6 27.9Q219.3 27 217.8 26.8M220.6 27.9Q221.8 24.7 224.8 23.3M210.9 58.5Q211.4 59.6 212.4 60.3M212.4 60.3Q215.1 58 218.6 58.7M212.8 55.1Q215.3 54.5 217.8 54M218.6 58.7Q219.1 57.8 220.1 57.2M220.1 57.2Q218.7 55.8 217.8 54M212.4 47Q216 46 219.4 47.5M217.8 54Q217.6 50.5 219.4 47.5M220.1 57.2Q221.3 57.8 222.7 58M219.4 47.5Q220.1 47.1 220.8 46.5M220.8 46.5Q224.7 50.4 224.7 55.9M222.7 58Q223.5 56.8 224.7 55.9M210.2 91Q210.9 87.5 211.3 83.9M205.7 89.2Q205.9 86.4 205.2 83.8M205.2 83.8Q207.3 83.6 208.8 82M211.3 83.9Q209.7 83.5 208.8 82M203.8 69.9Q205 71.5 204.8 73.5M203.8 69.9Q204.8 67.2 207.4 65.9M207.4 65.9Q211.1 65.8 214.5 67M204.8 73.5Q205 73.7 205.2 73.7M205.2 73.7Q209.9 72.4 214.3 70.4M214.5 67Q214.7 67.2 214.9 67.4M214.9 67.4Q214.5 68.7 214.6 70M214.6 70Q214.5 70.2 214.3 70.4M205.6 61.5Q207.2 63.4 207.4 65.9M202.4 68.9Q203.3 69.2 203.8 69.9M212.4 60.3Q213.4 63.7 214.5 67M213.3 76.7Q210.4 77.6 208.9 80.1M213.3 76.7Q214.8 73.7 214.3 70.4M208.9 80.1Q207.9 76.4 205.2 73.7M216.6 66.5Q217 62.5 218.6 58.7M216.6 66.5Q215.7 66.9 214.9 67.4M177 75.4Q176.6 75.9 176.7 76.6M177 75.4Q175.8 72.6 174.3 70M174.3 70Q173.4 70.5 172.4 70M183.6 81.2Q180.8 79.5 177.7 80.5M185.6 80.4Q185.6 80 185.6 79.6M182.4 73.7Q179.5 73.9 177 75.4M176.9 68Q176 69.5 174.3 70M217.7 72.5Q219.2 75.2 220.6 78M217.7 72.5Q216.6 70.7 214.6 70M213.3 76.7Q215.6 77.7 217.4 79.3M220.6 78Q218.7 77.9 217.4 79.3M211.3 83.9Q213.1 83.4 214.7 84.2M208.8 82Q208.7 81.1 208.9 80.1M217.4 79.3Q215 81.2 214.7 84.2M216.6 89.8Q216.8 87.9 216.8 86.1M223.5 90.2Q221.2 88.4 220.1 85.6M220.1 85.6Q218.4 85.4 216.8 86.1M216.8 86.1Q216.1 84.8 214.7 84.2M216.6 66.5Q219.3 66.1 222 65.5M217.7 72.5Q220.6 72 223.5 71.3M223.5 71.3Q222.5 68.5 222 65.5M222.7 58Q224.2 60.5 224.8 63.4M222 65.5Q223.2 64.2 224.8 63.4M223.5 71.3Q224.1 71.8 224.7 72.3M224.8 63.4Q225.5 63.3 226.1 63.6M226.1 63.6Q228.9 65.4 229.7 68.6M224.7 72.3Q227.6 71 229.7 68.6M245.5 75.5Q249.4 73.8 253.4 75.4M245.5 75.5Q244.4 77.5 245.2 79.7M245.2 79.7Q245.5 80.7 246 81.7M252.9 72.6Q252.9 69.7 251.3 67.2M252.1 66.4Q255 64.1 258.7 64.5M252.1 66.4Q251.8 66.9 251.3 67.2M243.9 71.6Q248.3 73 252.9 72.6M243.9 71.6Q245.2 73.4 245.5 75.5M243.9 71.6Q243.1 70.9 242.3 70.3M251.3 67.2Q249.6 65.9 247.3 65.9M242.3 70.3Q245.5 68.8 247.3 65.9M214.8 34.7Q217 35.1 219.2 35.3M220.6 27.9Q221.6 29.9 222.4 32M222.4 32Q221.2 34.1 219.2 35.3M232.4 30Q229.5 29.6 227.1 31.1M232.4 30Q233.7 31.9 234.4 34M234.4 34Q233.9 35.2 234 36.4M227.7 36.9Q227.4 34.3 225.4 32.5M227.7 36.9Q230.7 36.2 233.8 36.6M234 36.4Q233.9 36.5 233.8 36.6M227.1 31.1Q226 31.6 225.4 32.5M226.8 23.6Q227.9 27.3 227.1 31.1M233.1 27.9Q232.5 28.8 232.4 30M241.7 31.1Q237.7 31.7 234.4 34M244 33.2Q244.2 34.4 243.4 35.4M243.4 35.4Q240.4 36.4 237.4 37.7M237.4 37.7Q235.4 37.8 234 36.4M222.4 32Q223.9 32.6 225.4 32.5M197.6 74.8Q199.2 75 200.4 76M197.6 74.8Q195.8 74.4 194.3 75.5M200.4 76Q200.6 79.8 199.6 83.4M194.3 75.5Q194.8 79.2 192.4 82.2M192.4 82.2Q196.1 81.7 199.3 83.6M199.3 83.6Q199.5 83.5 199.6 83.4M197.2 70.6Q197.6 72.7 197.6 74.8M204.8 73.5Q202.3 74.3 200.4 76M190.7 72.3Q191.9 74.6 194.3 75.5M205.2 83.8Q202.4 83.9 199.6 83.4M189.8 83.1Q191.3 83.2 192.4 82.2M199 86.9Q199.5 85.3 199.3 83.6M240.8 88.5Q239.4 85.8 236.9 84.1M246 81.7Q241.4 84 236.5 82.6M236.5 82.6Q236.7 83.3 236.9 84.1M235.6 86.3Q236.7 85.5 236.9 84.1M220.6 78Q221.2 78.2 221.8 78.3M220.1 85.6Q222 84.2 223.2 82.2M221.8 78.3Q222.4 80.3 223.2 82.2M224.7 72.3Q224.5 74.1 225 75.9M221.8 78.3Q223.2 76.8 225 75.9M223.5 90.2Q224.9 86.9 227.2 84.1M223.2 82.2Q224.9 83.9 227.2 84.1M245.2 79.7Q241.9 76.4 237.4 75.5M242.3 70.3Q241.3 69.8 240.3 70.2M237.4 75.5Q238.1 72.4 240.3 70.2M247.3 65.9Q247.1 62.7 246.4 59.6M246.4 59.6Q243.9 59.7 242 58M242 58Q240.6 59 239.4 60.2M239.4 60.2Q240.5 65.1 240.2 70M240.3 70.2Q240.3 70.1 240.2 70M239.4 60.2Q239.1 60.3 238.8 60.2M238.8 60.2Q236.6 61.8 234 62.5M234 62.5Q234.8 65.1 233.6 67.5M240.2 70Q236.5 69.8 233.6 67.5M226.1 63.6Q227.8 61.9 230.2 61M229.7 68.6Q229.8 68.6 229.9 68.7M230.2 61Q232.1 61.8 234 62.5M233.6 67.5Q231.5 67.5 229.9 68.7M249.4 50.9Q251 50.8 252 49.6M249.4 50.9Q251.3 54.2 250.6 57.9M252 49.6Q255.4 52.5 256.1 56.9M250.6 57.9Q251.6 57.8 252.5 58.2M252.5 58.2Q253.8 57.5 255.2 57.9M255.2 57.9Q255.9 57.6 256.1 56.9M241.3 53.6Q242.6 55.7 242 58M241.3 53.6Q243.9 51.4 247 50M247 50Q248.2 50.3 249.4 50.9M246.4 59.6Q248.2 57.9 250.6 57.9M257.1 49.1Q255 49.6 253.3 48.4M253.3 48.4Q252.9 49.3 252 49.6M252.1 66.4Q253.7 62.4 252.5 58.2M258.8 64.4Q257.8 60.7 255.2 57.9M252.1 43.6Q252.3 42.2 253.1 41.1M252.1 43.6Q249.4 45.6 246.1 45.7M246.1 45.7Q244.9 43.9 242.9 43.1M252.2 39.7Q248.2 40.8 244.2 40.1M242.9 43.1Q243.5 41.6 244.2 40.1M253.3 48.4Q253.6 45.8 252.1 43.6M247 50Q247.3 47.7 246.1 45.7M241.3 53.6Q239.5 52.8 238.6 51M238.6 51Q237.2 48.5 238.1 45.9M240.4 44Q239.7 45.4 238.1 45.9M240.4 44Q241.7 43.5 242.9 43.1M243.4 35.4Q243.4 37.8 244.2 40.1M240.4 44Q239.9 40.4 237.4 37.7M220.8 46.5Q220.8 46.5 220.8 46.5M224.7 55.9Q226.4 55.7 227.6 54.5M227.6 54.5Q228.4 51.1 227.5 47.7M227.5 47.7Q223.9 48.7 220.8 46.5M219.2 35.3Q220 38.6 221 41.8M227.7 36.9Q227.5 37.9 226.9 38.7M226.9 38.7Q223.3 39 221 41.8M212.9 40Q216.8 41.3 220.7 42.8M220.8 46.5Q220.3 44.6 220.7 42.8M220.7 42.8Q220.8 42.3 221 41.8M230.4 59.6Q232.9 58.6 235.5 58M230.4 59.6Q229.3 57.7 230.2 55.7M230.2 55.7Q231.6 55.4 232.8 54.6M235.5 58Q233.3 56.9 232.8 54.6M230.2 61Q230.3 60.3 230.4 59.6M238.8 60.2Q237 59.3 235.5 58M227.6 54.5Q228.9 55 230.2 55.7M238.6 51Q236.6 52.6 234 52.8M234 52.8Q233.2 53.5 232.8 54.6M235.6 45Q235 42.6 233.6 40.7M235.6 45Q232.6 47.3 228.9 47.3M233.6 40.7Q231.4 41.9 228.9 42M228.9 42Q227.7 44.5 228.5 47.2M228.9 47.3Q228.7 47.3 228.5 47.2M238.1 45.9Q237 45.1 235.6 45M233.8 36.6Q233.4 38.6 233.6 40.7M234 52.8Q232.6 48.9 228.9 47.3M226.9 38.7Q227.7 40.5 228.9 42M227.5 47.7Q228.1 47.7 228.5 47.2M235.4 77.2Q233.4 77.5 232 76.1M235.4 77.2Q236 79.6 236.1 82.1M236.1 82.1Q233.1 84.8 229 85M230 76.8Q230.1 81 227.3 84.1M230 76.8Q231.1 76.7 232 76.1M229 85Q228.1 84.7 227.3 84.1M237.4 75.5Q236.1 75.9 235.4 77.2M229.9 68.7Q230.4 72.6 232 76.1M236.5 82.6Q236.3 82.3 236.1 82.1M230.5 89.4Q229 87.5 229 85M225 75.9Q227.6 75.6 230 76.8M227.2 84.1Q227.2 84.2 227.3 84.1" stroke="#fff" stroke-width="2.2" fill="none" stroke-linecap="round"/></g></g>
<path clip-path="url(#sc10)" d="M204.2 50.5Q204.7 52.2 206.3 52.9M204.2 50.5Q202.4 51.1 200.5 50.9M206.3 52.9Q206.5 55.9 207.7 58.6M205.8 59.8Q206.9 59.5 207.7 58.6M205.8 59.8Q203.1 58.7 200.4 57.6M200.4 57.6Q201.1 54.3 200.5 50.9M193.3 41.2Q194.9 43.2 197.5 43.1M193.3 41.2Q192.3 41.3 191.4 41.9M191.4 41.9Q192 44.3 190.4 46.1M197.5 43.1Q198.9 44.7 198.7 46.9M191.6 48.4Q191.5 47 190.4 46.1M191.6 48.4Q195 46.6 198.7 47M198.7 47Q198.7 46.9 198.7 46.9M203.8 37.1Q201.1 40.6 197.5 43.1M203.8 37.1Q202.2 35.6 200.1 35.1M194.9 35.4Q197.5 35.3 200.1 35.1M194.9 35.4Q194.7 38.5 193.3 41.2M187.7 53.5Q189.7 55.9 190.4 59M187.7 53.5Q189.2 51.6 191.4 50.7M191.4 50.7Q193 51.7 194.6 52.6M194.6 52.6Q194.8 55 193.9 57.2M190.4 59Q192.1 58.1 193.9 57.2M200.4 50.9Q197.8 52.6 194.6 52.6M200.4 50.9Q200.4 48.6 198.7 47M191.6 48.4Q191.8 49.6 191.4 50.7M199.3 58.4Q196.7 57.5 193.9 57.2M199.3 58.4Q199.8 58 200.4 57.6M200.4 50.9Q200.5 50.9 200.5 50.9M205.8 59.8Q205.6 60.6 205.6 61.5M199.3 58.4Q198.9 61.4 197.5 64.1M197.5 64.1Q198.7 65.6 200.6 65.7M205.6 61.5Q202.2 62.5 200.6 65.7M189.5 62Q190.6 60.6 190.4 59M189.5 62Q189.5 62.5 189.8 63.1M197.5 64.1Q194.9 64.1 193.1 65.9M189.8 63.1Q191.3 64.6 193.1 65.9M200.6 65.7Q202 67 202.4 68.9M197.2 70.6Q199.5 69 202.4 68.9M197.2 70.6Q194.6 69.3 193.1 66.7M193.1 65.9Q193.3 66.3 193.1 66.7M174.7 56Q174.8 55.5 175 55.1M174.7 56Q171.6 56.3 168.6 56.7M175 55.1Q172.8 52.3 170.9 49.3M169.3 62.8Q172.5 60.4 176.6 60.9M176.6 60.9Q176.4 58.1 174.7 56M170.9 40.5Q171.6 43.9 174.7 45.4M174.7 45.4Q172.4 47 170.9 49.3M203.8 37.1Q203.9 37 204 37.1M200.1 35.1Q199.1 31.2 198.6 27.3M198.6 27.3Q202.2 29.6 206.3 30.8M204 37.1Q204 33.6 206.3 30.8M209.2 27.9Q208.9 28.1 208.8 28.4M209.2 27.9Q204.8 25.6 201.1 22.3M198.6 27.3Q198.3 26.8 198 26.4M198 26.4Q198.6 23.9 200.6 22.4M206.3 30.8Q207.5 29.6 208.8 28.4M209.3 27.9Q209.3 27.9 209.2 27.9M209.3 27.9Q210.5 25.3 210.6 22.4M209.3 27.9Q211.1 28.5 212.8 29.3M212.8 29.3Q215.7 29 217.8 26.8M216.7 20.4Q218.4 23.4 217.8 26.8M194 34.4Q195.9 30.8 196.3 26.8M194 34.4Q194.7 34.7 194.9 35.4M198 26.4Q197.5 26.6 197.1 26.5M182.5 26Q186.6 27 189.2 30.4M180.1 31.5Q182.3 31.7 183.9 33.3M183.9 33.3Q185.8 34 187.8 33.9M187.8 33.9Q188.2 33.2 189.1 32.9M189.1 32.9Q188.6 31.6 189.2 30.4M191.7 26.3Q190.2 28.2 189.2 30.4M183 39.3Q182.8 36.2 183.9 33.3M183 39.3Q180.2 38.9 178.5 36.6M187.6 39.9Q185.9 40.3 184.4 41.1M187.6 39.9Q188 36.9 187.8 33.9M183 39.3Q183.7 40.2 184.4 41.1M187.6 39.9Q189.9 40.1 191.4 41.9M194 34.4Q191.6 33.6 189.1 32.9M200.8 92.2Q202.5 89.6 205.7 89.2M205.7 89.2Q207.8 90.3 209.7 91.7M199 86.9Q200.5 89.3 200.8 92.2M199 86.9Q197.3 89.3 194.4 89.6M216.6 89.8Q217.3 90.8 217.8 92M216.6 89.8Q213.5 90.6 210.2 91M194.4 89.6Q191.2 88.4 189.7 85.3M189.7 85.3Q189.7 88.4 187.4 90.3M189.8 83.1Q188.3 80.9 185.6 80.4M189.8 83.1Q190 84.3 189.7 85.3M183.6 81.2Q184.5 80.5 185.6 80.4M183.6 81.2Q182.1 84.7 180.9 88.4M211.6 52.5Q208.9 52.1 206.3 52.9M211.6 52.5Q212.3 53.7 212.8 55.1M207.7 58.6Q209.3 58.6 210.9 58.5M210.9 58.5Q211.9 56.8 212.8 55.1M185.6 79.6Q183 77.2 182.4 73.7M185.6 79.6Q189 76.7 190.3 72.5M190.3 72.5Q187.2 69.9 183.1 69.8M182.4 73.7Q182.5 71.7 183.1 69.8M183.6 67.7Q182.9 68.2 182.8 69.1M183.6 67.7Q186.6 65.3 189.8 63.1M182.8 69.1Q183 69.4 183.1 69.8M190.7 72.3Q190.5 72.4 190.3 72.5M190.7 72.3Q190.7 69 193.1 66.7M182.3 64.7Q179.6 63.4 178.8 60.6M182.3 64.7Q184.2 62.9 184.5 60.3M178.8 60.6Q180.6 60.2 181.9 58.9M184.5 60.3Q182.9 60.1 181.9 58.9M176.9 68Q177.5 64.5 176.6 60.9M176.9 68Q180 67.8 182.8 69.1M183.6 67.7Q182.4 66.5 182.3 64.7M176.6 60.9Q177.8 61.2 178.8 60.6M189.5 62Q186.8 61.5 184.5 60.3M187.7 53.5Q185.2 53.7 183.2 52.1M183.2 52.1Q181.3 55.3 181.9 58.9M182.9 51.8Q181.5 52.1 180.4 51.1M182.9 51.8Q182.9 49 185.1 47.3M180.4 51.1Q178.2 48.4 176.3 45.5M185.1 47.3Q184.4 44.8 183.6 42.3M183.6 42.3Q180.8 43.1 177.9 43.9M177.9 43.9Q177.2 44.8 176.3 45.5M176.6 60.9Q176.6 60.9 176.6 60.9M183.2 52.1Q183.1 51.9 182.9 51.8M175 55.1Q176.9 52.1 180.4 51.1M190.4 46.1Q187.6 45.9 185.1 47.3M174.7 45.4Q175.5 45.1 176.3 45.5M184.4 41.1Q184.3 41.9 183.6 42.3M178.1 37.1Q179.6 40.5 177.9 43.9M205.8 38.6Q208.5 38.7 211.1 38.2M205.8 38.6Q205.8 40.6 206.1 42.6M206.1 42.6Q206.7 44.9 208 46.8M212.9 40Q213.1 43.5 212.4 47M212.9 40Q212.1 39.2 211.8 38.2M208 46.8Q209.9 46.2 211.4 47.4M211.8 38.2Q211.4 38.2 211.1 38.2M211.4 47.4Q211.8 47.1 212.4 47M204 37.1Q205 37.7 205.8 38.6M208.8 28.4Q208.3 33.7 211.1 38.2M198.7 46.9Q201.4 42.9 206.1 42.6M204.2 50.5Q206.5 49 208 46.8M211.6 52.5Q210.4 50 211.4 47.4M214.8 34.7Q213.2 32.2 212.8 29.3M214.8 34.7Q212.7 35.9 211.8 38.2M220.6 27.9Q219.3 27 217.8 26.8M220.6 27.9Q221.8 24.7 224.8 23.3M210.9 58.5Q211.4 59.6 212.4 60.3M212.4 60.3Q215.1 58 218.6 58.7M212.8 55.1Q215.3 54.5 217.8 54M218.6 58.7Q219.1 57.8 220.1 57.2M220.1 57.2Q218.7 55.8 217.8 54M212.4 47Q216 46 219.4 47.5M217.8 54Q217.6 50.5 219.4 47.5M220.1 57.2Q221.3 57.8 222.7 58M219.4 47.5Q220.1 47.1 220.8 46.5M220.8 46.5Q224.7 50.4 224.7 55.9M222.7 58Q223.5 56.8 224.7 55.9M210.2 91Q210.9 87.5 211.3 83.9M205.7 89.2Q205.9 86.4 205.2 83.8M205.2 83.8Q207.3 83.6 208.8 82M211.3 83.9Q209.7 83.5 208.8 82M203.8 69.9Q205 71.5 204.8 73.5M203.8 69.9Q204.8 67.2 207.4 65.9M207.4 65.9Q211.1 65.8 214.5 67M204.8 73.5Q205 73.7 205.2 73.7M205.2 73.7Q209.9 72.4 214.3 70.4M214.5 67Q214.7 67.2 214.9 67.4M214.9 67.4Q214.5 68.7 214.6 70M214.6 70Q214.5 70.2 214.3 70.4M205.6 61.5Q207.2 63.4 207.4 65.9M202.4 68.9Q203.3 69.2 203.8 69.9M212.4 60.3Q213.4 63.7 214.5 67M213.3 76.7Q210.4 77.6 208.9 80.1M213.3 76.7Q214.8 73.7 214.3 70.4M208.9 80.1Q207.9 76.4 205.2 73.7M216.6 66.5Q217 62.5 218.6 58.7M216.6 66.5Q215.7 66.9 214.9 67.4M177 75.4Q176.6 75.9 176.7 76.6M177 75.4Q175.8 72.6 174.3 70M174.3 70Q173.4 70.5 172.4 70M183.6 81.2Q180.8 79.5 177.7 80.5M185.6 80.4Q185.6 80 185.6 79.6M182.4 73.7Q179.5 73.9 177 75.4M176.9 68Q176 69.5 174.3 70M217.7 72.5Q219.2 75.2 220.6 78M217.7 72.5Q216.6 70.7 214.6 70M213.3 76.7Q215.6 77.7 217.4 79.3M220.6 78Q218.7 77.9 217.4 79.3M211.3 83.9Q213.1 83.4 214.7 84.2M208.8 82Q208.7 81.1 208.9 80.1M217.4 79.3Q215 81.2 214.7 84.2M216.6 89.8Q216.8 87.9 216.8 86.1M223.5 90.2Q221.2 88.4 220.1 85.6M220.1 85.6Q218.4 85.4 216.8 86.1M216.8 86.1Q216.1 84.8 214.7 84.2M216.6 66.5Q219.3 66.1 222 65.5M217.7 72.5Q220.6 72 223.5 71.3M223.5 71.3Q222.5 68.5 222 65.5M222.7 58Q224.2 60.5 224.8 63.4M222 65.5Q223.2 64.2 224.8 63.4M223.5 71.3Q224.1 71.8 224.7 72.3M224.8 63.4Q225.5 63.3 226.1 63.6M226.1 63.6Q228.9 65.4 229.7 68.6M224.7 72.3Q227.6 71 229.7 68.6M245.5 75.5Q249.4 73.8 253.4 75.4M245.5 75.5Q244.4 77.5 245.2 79.7M245.2 79.7Q245.5 80.7 246 81.7M252.9 72.6Q252.9 69.7 251.3 67.2M252.1 66.4Q255 64.1 258.7 64.5M252.1 66.4Q251.8 66.9 251.3 67.2M243.9 71.6Q248.3 73 252.9 72.6M243.9 71.6Q245.2 73.4 245.5 75.5M243.9 71.6Q243.1 70.9 242.3 70.3M251.3 67.2Q249.6 65.9 247.3 65.9M242.3 70.3Q245.5 68.8 247.3 65.9M214.8 34.7Q217 35.1 219.2 35.3M220.6 27.9Q221.6 29.9 222.4 32M222.4 32Q221.2 34.1 219.2 35.3M232.4 30Q229.5 29.6 227.1 31.1M232.4 30Q233.7 31.9 234.4 34M234.4 34Q233.9 35.2 234 36.4M227.7 36.9Q227.4 34.3 225.4 32.5M227.7 36.9Q230.7 36.2 233.8 36.6M234 36.4Q233.9 36.5 233.8 36.6M227.1 31.1Q226 31.6 225.4 32.5M226.8 23.6Q227.9 27.3 227.1 31.1M233.1 27.9Q232.5 28.8 232.4 30M241.7 31.1Q237.7 31.7 234.4 34M244 33.2Q244.2 34.4 243.4 35.4M243.4 35.4Q240.4 36.4 237.4 37.7M237.4 37.7Q235.4 37.8 234 36.4M222.4 32Q223.9 32.6 225.4 32.5M197.6 74.8Q199.2 75 200.4 76M197.6 74.8Q195.8 74.4 194.3 75.5M200.4 76Q200.6 79.8 199.6 83.4M194.3 75.5Q194.8 79.2 192.4 82.2M192.4 82.2Q196.1 81.7 199.3 83.6M199.3 83.6Q199.5 83.5 199.6 83.4M197.2 70.6Q197.6 72.7 197.6 74.8M204.8 73.5Q202.3 74.3 200.4 76M190.7 72.3Q191.9 74.6 194.3 75.5M205.2 83.8Q202.4 83.9 199.6 83.4M189.8 83.1Q191.3 83.2 192.4 82.2M199 86.9Q199.5 85.3 199.3 83.6M240.8 88.5Q239.4 85.8 236.9 84.1M246 81.7Q241.4 84 236.5 82.6M236.5 82.6Q236.7 83.3 236.9 84.1M235.6 86.3Q236.7 85.5 236.9 84.1M220.6 78Q221.2 78.2 221.8 78.3M220.1 85.6Q222 84.2 223.2 82.2M221.8 78.3Q222.4 80.3 223.2 82.2M224.7 72.3Q224.5 74.1 225 75.9M221.8 78.3Q223.2 76.8 225 75.9M223.5 90.2Q224.9 86.9 227.2 84.1M223.2 82.2Q224.9 83.9 227.2 84.1M245.2 79.7Q241.9 76.4 237.4 75.5M242.3 70.3Q241.3 69.8 240.3 70.2M237.4 75.5Q238.1 72.4 240.3 70.2M247.3 65.9Q247.1 62.7 246.4 59.6M246.4 59.6Q243.9 59.7 242 58M242 58Q240.6 59 239.4 60.2M239.4 60.2Q240.5 65.1 240.2 70M240.3 70.2Q240.3 70.1 240.2 70M239.4 60.2Q239.1 60.3 238.8 60.2M238.8 60.2Q236.6 61.8 234 62.5M234 62.5Q234.8 65.1 233.6 67.5M240.2 70Q236.5 69.8 233.6 67.5M226.1 63.6Q227.8 61.9 230.2 61M229.7 68.6Q229.8 68.6 229.9 68.7M230.2 61Q232.1 61.8 234 62.5M233.6 67.5Q231.5 67.5 229.9 68.7M249.4 50.9Q251 50.8 252 49.6M249.4 50.9Q251.3 54.2 250.6 57.9M252 49.6Q255.4 52.5 256.1 56.9M250.6 57.9Q251.6 57.8 252.5 58.2M252.5 58.2Q253.8 57.5 255.2 57.9M255.2 57.9Q255.9 57.6 256.1 56.9M241.3 53.6Q242.6 55.7 242 58M241.3 53.6Q243.9 51.4 247 50M247 50Q248.2 50.3 249.4 50.9M246.4 59.6Q248.2 57.9 250.6 57.9M257.1 49.1Q255 49.6 253.3 48.4M253.3 48.4Q252.9 49.3 252 49.6M252.1 66.4Q253.7 62.4 252.5 58.2M258.8 64.4Q257.8 60.7 255.2 57.9M252.1 43.6Q252.3 42.2 253.1 41.1M252.1 43.6Q249.4 45.6 246.1 45.7M246.1 45.7Q244.9 43.9 242.9 43.1M252.2 39.7Q248.2 40.8 244.2 40.1M242.9 43.1Q243.5 41.6 244.2 40.1M253.3 48.4Q253.6 45.8 252.1 43.6M247 50Q247.3 47.7 246.1 45.7M241.3 53.6Q239.5 52.8 238.6 51M238.6 51Q237.2 48.5 238.1 45.9M240.4 44Q239.7 45.4 238.1 45.9M240.4 44Q241.7 43.5 242.9 43.1M243.4 35.4Q243.4 37.8 244.2 40.1M240.4 44Q239.9 40.4 237.4 37.7M220.8 46.5Q220.8 46.5 220.8 46.5M224.7 55.9Q226.4 55.7 227.6 54.5M227.6 54.5Q228.4 51.1 227.5 47.7M227.5 47.7Q223.9 48.7 220.8 46.5M219.2 35.3Q220 38.6 221 41.8M227.7 36.9Q227.5 37.9 226.9 38.7M226.9 38.7Q223.3 39 221 41.8M212.9 40Q216.8 41.3 220.7 42.8M220.8 46.5Q220.3 44.6 220.7 42.8M220.7 42.8Q220.8 42.3 221 41.8M230.4 59.6Q232.9 58.6 235.5 58M230.4 59.6Q229.3 57.7 230.2 55.7M230.2 55.7Q231.6 55.4 232.8 54.6M235.5 58Q233.3 56.9 232.8 54.6M230.2 61Q230.3 60.3 230.4 59.6M238.8 60.2Q237 59.3 235.5 58M227.6 54.5Q228.9 55 230.2 55.7M238.6 51Q236.6 52.6 234 52.8M234 52.8Q233.2 53.5 232.8 54.6M235.6 45Q235 42.6 233.6 40.7M235.6 45Q232.6 47.3 228.9 47.3M233.6 40.7Q231.4 41.9 228.9 42M228.9 42Q227.7 44.5 228.5 47.2M228.9 47.3Q228.7 47.3 228.5 47.2M238.1 45.9Q237 45.1 235.6 45M233.8 36.6Q233.4 38.6 233.6 40.7M234 52.8Q232.6 48.9 228.9 47.3M226.9 38.7Q227.7 40.5 228.9 42M227.5 47.7Q228.1 47.7 228.5 47.2M235.4 77.2Q233.4 77.5 232 76.1M235.4 77.2Q236 79.6 236.1 82.1M236.1 82.1Q233.1 84.8 229 85M230 76.8Q230.1 81 227.3 84.1M230 76.8Q231.1 76.7 232 76.1M229 85Q228.1 84.7 227.3 84.1M237.4 75.5Q236.1 75.9 235.4 77.2M229.9 68.7Q230.4 72.6 232 76.1M236.5 82.6Q236.3 82.3 236.1 82.1M230.5 89.4Q229 87.5 229 85M225 75.9Q227.6 75.6 230 76.8M227.2 84.1Q227.2 84.2 227.3 84.1" stroke="#d4d4d4" stroke-width="1.1" opacity="0.55" fill="none" stroke-linecap="round"/>
</g>
<g clip-path="url(#clc)" filter="url(#soft)">
<rect x="281" y="16.6" width="124.80000000000001" height="73.19999999999999" fill="#141414"/>
<path d="M277.2 50L280.1 52.3M277.2 50L281.6 46.5M283.5 48.9L281.6 46.5M283.5 48.9L282.2 51.2M280.1 52.3L282.2 51.2M280.2 27.1L279.5 29.4M279.5 29.4L276.5 31.5M300.2 59.6L302.1 53.8M300.2 59.6L295.5 57M295 55.9L295.5 57M295 55.9L301.7 53M301.7 53L302.1 53.8M294.2 61.5L295.5 57M294.2 61.5L299.1 62.9M299.1 62.9L301.1 61.3M301.1 61.3L300.2 59.6M308.9 52.9L306.4 50.3M308 54.4L305.4 55.8M305.4 55.8L302.1 53.8M301.7 52.7L306.4 50.3M301.7 52.7L301.7 53M292.4 92.9L288.8 89.5M294 92.6L293.1 86.8M293.1 86.8L289.8 87.2M289.8 87.2L289.1 87.4M289.1 87.4L288.8 89.5M286.1 94.7L286.5 91.8M288.8 89.5L286.5 91.8M281.2 93.3L282.4 90M286.5 91.8L282.4 90M289.8 87.2L291.9 81.6M291.9 81.6L288.8 80.9M289.1 87.4L288.1 86.5M288.8 80.9L288.1 86.5M282.4 90L281.6 88.5M281.6 88.5L281.9 87.7M281.9 87.7L286.8 86M288.1 86.5L286.8 86M281.3 85.1L281.9 87.7M281.3 85.1L283.9 82.1M286.8 86L283.9 82.1M310.3 90.3L305.9 93.7M288.8 80.9L287.9 79.7M287.9 79.7L286.6 79.2M283.9 82.1L283.8 80.5M283.8 80.5L286.6 79.2M281.6 46.5L280.7 44.9M280.7 44.9L278.4 45.2M279 56.1L280.1 52.3M279.5 29.4L282.9 32.3M282.9 32.3L279.9 35.2M279.9 35.2L278 35.1M280.7 44.9L282 42.3M276.1 39.6L281.6 41.5M282 42.3L281.6 41.5M282.2 37.7L279.9 35.2M282.2 37.7L282 39.3M282 39.3L281.6 41.5M306.4 50.3L306.6 47.5M307.7 47L306.6 47.5M282 42.3L286.5 42.5M286.5 42.5L287.7 41M282 39.3L287.6 39.9M287.6 39.9L287.7 41M282.2 37.7L285.5 37M287.6 39.9L287.6 38.3M285.5 37L287.6 38.3M305.4 67.8L303.6 65.9M305.4 67.8L308.3 64.7M303.6 65.9L302.6 61.7M308.3 64.7L305.8 60.4M302.6 61.7L305.7 60.4M305.8 60.4L305.7 60.4M309 70.8L305.5 68.3M305.5 68.3L305.4 67.8M310.5 59.4L305.8 60.4M305.4 55.8L305.7 60.4M301.1 61.3L302.6 61.7M299.1 62.9L298.1 65.3M303.6 65.9L299.3 68M299.3 68L298.1 65.3M299.3 68L298.9 71.2M298.1 65.3L294.9 65.9M294.9 65.9L297.2 70.5M297.2 70.5L298.9 71.2M305.5 68.3L302.5 71.1M302.5 71.1L299.1 71.6M299.1 71.6L298.9 71.2M289.4 74.7L286.6 75.9M289.4 74.7L289.7 74.1M289.7 74.1L287 71.5M286.6 75.9L284 73.2M284 73.2L286 71.6M286 71.6L287 71.5M291 77.5L287.9 79.7M291 77.5L289.4 74.7M286.6 79.2L286.6 75.9M291.1 68.5L287 71.5M291.1 68.5L292 69.9M291.9 72.6L292 69.9M291.9 72.6L289.7 74.1M281.7 64.4L280.3 59.7M281.7 64.4L286.4 61.1M286.4 61.1L283.9 58.1M283.9 58.1L282.8 57.9M282.8 57.9L280.7 57.8M280.7 57.8L280.3 59.7M281.6 64.8L281.7 64.4M281.6 64.8L277 64M276.6 62.3L280.3 59.7M283.8 53L282.8 57.9M283.8 53L286.8 54.6M286.8 54.6L283.9 58.1M279 56.1L280.7 57.8M283.8 53L282.2 51.2M293.1 65.6L291 67.6M293.1 65.6L293.4 62.1M291 67.6L288.4 66M288.4 66L287.3 61.3M293.4 62.1L289.1 60.2M289.1 60.2L287.3 61.3M291.1 68.5L291 67.6M294.9 65.9L293.1 65.6M292 69.9L297.2 70.5M294.2 61.5L293.4 62.1M285.5 67.2L288.4 66M285.5 67.2L286 71.6M282.1 66.7L285.5 67.2M282.1 66.7L281.6 64.8M286.4 61.1L287.3 61.3M300.2 49.8L300.3 49.2M300.2 49.8L295.9 50.7M295.7 46.4L295.9 50.7M295.7 46.4L299.7 46.3M299.7 46.3L300.3 49.2M301.7 52.7L300.2 49.8M306.6 47.5L306.1 47.2M300.3 49.2L306.1 47.2M283.5 48.9L286.8 48.3M286.5 42.5L287.6 47.4M286.8 48.3L287.6 47.4M277.7 92.1L279.2 88.9M279.2 88.9L277.2 87.4M281.6 88.5L279.2 88.9M281.3 85.1L276.7 82.9M281.6 79.3L283.8 80.5M281.6 79.3L277.7 81.7M298.6 89.8L303.5 92.6M298.6 89.8L298.6 88M298.6 88L299.5 87.4M299.5 87.4L305.5 87.3M305.5 87.3L304.7 92.7M296.7 93L298.6 89.8M293.1 86.8L295.6 85.9M295.6 85.9L298.6 88M308.9 88.1L306.3 86.5M306.3 86.5L305.5 87.3M306.3 86.5L306.3 86.2M311 83.1L306.3 86.2M280.5 74.8L283.1 73.1M280.5 74.8L278.1 74.1M283.1 73.1L281.7 67.4M281.7 67.4L277.8 69.2M281.6 79.3L280.5 74.8M284 73.2L283.1 73.1M282.1 66.7L281.7 67.4M306.2 40.6L307.1 40.8M306.2 40.6L304.1 35.4M309.2 34.9L304.1 35.4M305.4 41.2L303.9 44.7M305.4 41.2L300.3 40.7M303.9 44.7L300.1 45.1M300.3 40.7L299.4 43M299.4 43L300.1 45.1M306.2 40.6L305.4 41.2M306.1 47.2L303.9 44.7M299.6 37.3L303.5 35M299.6 37.3L299.4 37.6M299.4 37.6L300.3 40.7M303.5 35L304.1 35.4M299.7 46.3L300.1 45.1M299.4 37.6L295.5 38.3M296.2 42.5L295.5 38.3M296.2 42.5L299.4 43M287.9 47.4L291.9 48M287.9 47.4L292.2 42.6M291.9 48L294 45.6M294 45.6L293.8 44M293.8 44L292.2 42.6M291.8 41.8L287.7 41M291.8 41.8L292.2 42.6M287.6 47.4L287.9 47.4M295.7 46.4L294 45.6M296.2 42.5L293.8 44M295.5 38.3L293.9 37.9M293.9 37.9L291.8 41.8M294.8 51.4L292.9 50.1M294.8 51.4L294.8 55.8M292.9 50.1L288.7 53.5M294.8 55.8L290.6 56.1M290.6 56.1L288.6 54.1M288.6 54.1L288.7 53.5M295.9 50.7L294.8 51.4M291.9 48L292.9 50.1M295 55.9L294.8 55.8M286.8 48.3L288.7 53.5M289.1 60.2L290.6 56.1M286.8 54.6L288.6 54.1M291.9 81.6L292.2 81.5M295.6 85.9L295.5 85.5M292.2 81.5L295.5 85.5M306.3 86.2L304.6 82.1M304.6 82.1L308.5 78.8M309 70.8L306.7 75.5M307 75.9L306.7 75.5M302.5 71.1L306.4 75.4M306.7 75.5L306.4 75.4M282.9 32.3L285 31.7M283 26.3L285 31.7M285.5 37L285.2 31.7M285 31.7L285.2 31.7M305.3 28.2L306.9 30.7M305.3 28.2L301.9 31.9M306.9 30.7L303.5 35M301.9 31.9L303.5 35M305.3 27.7L305.3 28.2M310 31.4L306.9 30.7M303.5 35L303.5 35M291 77.5L294.3 77.9M292.2 81.5L294.4 78.1M294.3 77.9L294.4 78.1M291.9 72.6L294.8 75.6M294.3 77.9L294.8 75.6M299.1 71.6L298.9 72.8M294.8 75.6L298.9 72.8M306.4 75.4L301.3 77M298.9 72.8L301.3 77M301 83.9L297.4 80.5M301 83.9L303.8 81.9M303.8 81.9L300.9 78.4M300.9 78.4L297.4 80.2M297.4 80.5L297.4 80.2M299.5 87.4L301 83.9M295.5 85.5L297.4 80.5M304.6 82.1L303.8 81.9M301.3 77L300.9 78.4M294.4 78.1L297.4 80.2M293.9 37.9L292 35M287.6 38.3L291.6 34.8M292 35L291.6 34.8M299.6 37.3L297.1 33.1M292 35L297.1 33.1M285.2 31.7L287.4 31.4M288.9 26.9L287.4 31.4M291.6 34.8L291.1 33.5M287.4 31.4L291.1 33.5M294.3 27.7L299.5 28.7M297.2 32.7L293.9 28.5M297.2 32.7L300 30.5M294 27.9L293.9 28.5M300 30.5L299.5 28.7M300.9 26.2L299.5 28.7M297.1 33.1L297.2 32.7M291.1 33.5L293.9 28.5M301.9 31.9L300 30.5" stroke="#383838" stroke-width="0.7" fill="none"/>
<ellipse cx="407" cy="44" rx="31" ry="27.5" fill="url(#sg11)"/>
<rect clip-path="url(#sc11)" x="376" y="16.5" width="62" height="55" filter="url(#dk2)" opacity="0.2"/>
<g clip-path="url(#sc11)"><g filter="url(#emb11)" style="mix-blend-mode:overlay" opacity="0.6"><path d="M381.8 44.8Q379.8 41.1 376.2 38.8M381.8 44.8Q384.1 40.8 385.3 36.4M376.2 38.8Q377 36.9 378.7 35.8M385.3 36.4Q382.1 34.9 378.7 35.8M386.7 35.8Q385.9 32.6 387.1 29.6M386.7 35.8Q386.1 36.3 385.3 36.4M387.1 29.6Q386.3 28.1 384.7 27.3M378.7 35.2Q378.7 35.5 378.7 35.8M378.7 35.2Q382.9 32.4 384.1 27.5M384.1 27.5Q384.4 27.5 384.7 27.3M394 25.7Q392.7 27.2 391.7 29M394 25.7Q392.9 22.8 390.5 20.9M391.7 29Q389.4 29.5 387.1 29.6M390.5 20.9Q388.2 20.9 385.9 21.1M384.7 27.3Q385.4 24.2 385.9 21.1M391.7 29Q393.1 32.9 397 34.6M397 34.6Q395.6 37.7 392.4 38.9M386.7 35.8Q389.3 37.1 391.3 39.3M392.4 38.9Q392 39.4 391.3 39.3M398.1 24.5Q395.9 24.4 394 25.7M398.1 24.5Q398.9 23.3 398.7 21.8M390.5 20.9Q392.1 17.9 395.2 16.5M395.2 16.5Q398 18.4 398.7 21.8M413.1 52.7Q412.6 56.4 412 60.1M413.1 52.7Q412.5 50.8 411.5 49.1M412 60.1Q410.9 53.9 405.6 50.5M411.5 49.1Q408.9 51.1 405.6 50.5M412.1 48.2Q412 44.5 410.6 41M412.1 48.2Q411.8 48.7 411.5 49.1M404.2 50.6Q405 46.6 402.8 43.2M404.2 50.6Q404.9 50.5 405.6 50.5M410.6 41Q406.4 41.1 402.8 43.2M398.1 24.5Q398.4 24.8 398.6 25.1M397 34.6Q397.1 34.5 397.2 34.5M398.6 25.1Q397.1 29.7 397.2 34.5M392.4 38.9Q395.5 41.1 398.6 43.3M398.6 43.3Q400.2 42.6 401.9 42.4M401.9 42.4Q401.3 38.9 401.3 35.3M397.2 34.5Q399.4 34.2 401.3 35.3M402.7 12.2Q403.5 15.8 405.4 19.1M413.4 12.1Q411.8 16.9 408.7 21M408.7 21Q406.9 20.2 405.4 19.1M395.2 16.5Q394.8 14.1 395.4 11.7M398.7 21.8Q401.9 20.1 405.4 19.1M400.5 70Q400.2 70.2 399.9 70.5M400.5 70Q402.3 69.7 404.1 70.3M399.9 70.5Q399.9 73.6 398.7 76.5M404.1 70.3Q407.3 71.4 408.5 74.7M411.9 61.1Q411.9 63 411.6 64.9M411.9 61.1Q407.9 59.6 403.7 58.9M400.5 70Q400.8 67.7 400 65.6M400 65.6Q402.4 62.5 403.7 58.9M404.1 70.3Q409 69.2 411.6 64.9M437.9 52.6Q439.2 53 440.4 53.6M437.9 52.6Q436.8 49.5 437.2 46.3M437.2 46.3Q437.5 45.8 437.8 45.4M437.8 45.4Q439.9 43.4 442.7 42.5M432.7 55.4Q431.8 58.1 433.2 60.5M432.7 55.4Q435.6 54.6 437.9 52.6M433.2 60.5Q433.7 62.9 435.8 64M419.4 59.6Q417.6 57 417.3 53.9M419.4 59.6Q420.8 59.5 422 60.1M422 60.1Q424.8 57.2 426.8 53.6M417.3 53.9Q420 50.9 423.1 48.2M426.8 53.6Q425.7 52.2 425.4 50.4M425.4 50.4Q423.9 49.6 423.1 48.2M412 61.1Q415.5 59.7 419.4 59.6M412 61.1Q411.9 60.6 412 60.1M413.1 52.7Q415.2 53.4 417.3 53.9M432.7 55.4Q429.8 54.2 426.8 53.6M433.2 60.5Q428.3 61.2 425.6 65.4M423.9 65.1Q424.7 65.2 425.6 65.4M423.9 65.1Q422.3 62.8 422 60.1M421.9 46.3Q417.5 49.7 412.1 48.2M421.9 46.3Q422.5 47.2 423.1 48.2M432.5 45.1Q434.7 46.3 437.2 46.3M432.5 45.1Q428.5 47.3 425.4 50.4M400 65.6Q396.2 64.4 394.4 60.9M394.4 60.9Q396.5 58.4 397.9 55.5M403.7 58.9Q402.1 56.6 401.7 53.9M397.9 55.5Q400.2 55.5 401.7 53.9M404.2 50.6Q402.9 51.4 402 52.7M398.6 43.3Q396.4 45.2 395.3 47.9M401.9 42.4Q402.3 42.9 402.8 43.2M395.3 47.9Q399.7 48.8 402 52.7M411.9 61.1Q412 61.1 412 61.1M402 52.7Q402.1 53.3 401.7 53.9M399.9 70.5Q395.2 72.2 390.9 69.6M390.9 69.6Q390.8 70.6 389.9 71.1M421.9 46.3Q421.8 45 422.2 43.8M410.6 41Q411.7 40 411.6 38.4M411.6 38.4Q417.2 40.6 422.2 43.8M409.8 23.2Q413.2 23.1 416.5 24.1M409.8 23.2Q408.6 26.5 406.4 29.2M416.5 24.1Q416.5 31.1 411.3 35.9M406.4 29.2Q406.4 30.8 406.4 32.4M411.3 35.9Q409.7 32.9 406.4 32.4M418.5 24Q417.5 23.7 416.5 24.1M418.5 24Q420.5 22.7 420.9 20.3M420.9 20.3Q415.6 17.6 413.4 12.1M408.7 21Q409.5 22 409.8 23.2M398.6 25.1Q402.4 27.3 406.4 29.2M401.3 35.3Q403.1 32.6 406.4 32.4M411.6 38.4Q411 37.3 411.4 36.1M411.4 36.1Q411.4 36 411.3 35.9M420.9 20.3Q421.2 20 421.6 19.9M421.6 19.9Q421.8 18 423.2 16.7M414.5 68.1Q414.6 69.6 415 71.1M414.5 68.1Q419.5 68 423.7 65.4M415 71.1Q418.9 70.8 422.3 72.5M423.7 65.4Q422 68.8 422.3 72.5M411.6 64.9Q412.4 67.1 414.5 68.1M413.6 74.1Q414.8 72.8 415 71.1M423.9 65.1Q423.8 65.3 423.7 65.4M425.6 65.4Q429.6 66.9 432.1 70.3M371.6 48.3Q373.5 50 376.1 50.5M376.1 50.5Q373.8 54.9 374 59.8M394.4 60.9Q391.5 62.1 388.5 60.9M390.9 69.6Q388 66.2 386.7 62M386.7 62Q387.5 61.3 388.5 60.9M397.9 55.5Q394.9 53.2 391.1 53.4M388.5 60.9Q391.5 57.8 391.1 53.4M395.3 47.9Q392.6 48.6 389.9 47.9M391.1 53.4Q390.1 50.7 389.9 47.9M391.3 39.3Q391.7 43.7 389.2 47.3M389.2 47.3Q389.6 47.4 389.9 47.9M384.1 27.5Q380.7 25.4 376.9 26.6M376.2 38.8Q373.8 38.8 371.6 39.4M378.7 35.2Q375.8 32.2 375.2 28M411.4 36.1Q414.8 35.1 418 33.8M422.2 43.8Q422.9 41.6 424.3 39.7M424.3 39.7Q422.6 35.3 418 33.8M432.5 45.1Q431 41 428.1 37.6M424.3 39.7Q426.2 38.6 428.1 37.6M436.8 42.9Q432.8 39.9 428.7 36.9M436.8 42.9Q437.9 43.9 437.8 45.4M428.1 37.6Q428.3 37.1 428.7 36.9M421.6 19.9Q426.8 21 431.6 23.3M436.8 42.9Q434.7 38.8 436.1 34.4M428.7 36.9Q429.1 36.4 429.3 35.9M429.3 35.9Q432.8 35.7 436.1 34.4M436.1 34.4Q437.6 32.7 439.8 32.3M386.7 62Q386.2 62 385.7 61.9M384.1 70.7Q385.1 66.6 383.9 62.4M385.7 61.9Q384.9 62.6 383.9 62.4M380.1 63.1Q380.9 62.6 381.8 62.6M383.9 62.4Q382.9 63 381.8 62.6M428.4 28.4Q428.8 31.7 428.9 35.1M428.4 28.4Q424.4 25.9 419.8 26.7M428.9 35.1Q423.7 33.2 419.8 29.3M419.8 26.7Q419.4 28 419.8 29.3M431.6 23.3Q430 25.9 428.4 28.4M429.3 35.9Q429.1 35.5 428.9 35.1M418.5 24Q418.7 25.6 419.8 26.7M418 33.8Q419.6 31.8 419.8 29.3M384.4 55.6Q380.9 54 378.8 50.8M384.4 55.6Q386.4 51.6 387.9 47.4M382.4 46.4Q380.1 47.9 378.3 50.1M382.4 46.4Q385.3 46 387.9 47.4M378.3 50.1Q378.5 50.4 378.8 50.8M385.7 61.9Q383.5 59.1 384.4 55.6M381.8 62.6Q379.9 56.8 378.8 50.8M389.2 47.3Q388.5 47.2 387.9 47.4M381.8 44.8Q382.4 45.5 382.4 46.4M376.1 50.5Q377.2 50.5 378.3 50.1" stroke="#fff" stroke-width="2.2" fill="none" stroke-linecap="round"/></g></g>
<path clip-path="url(#sc11)" d="M381.8 44.8Q379.8 41.1 376.2 38.8M381.8 44.8Q384.1 40.8 385.3 36.4M376.2 38.8Q377 36.9 378.7 35.8M385.3 36.4Q382.1 34.9 378.7 35.8M386.7 35.8Q385.9 32.6 387.1 29.6M386.7 35.8Q386.1 36.3 385.3 36.4M387.1 29.6Q386.3 28.1 384.7 27.3M378.7 35.2Q378.7 35.5 378.7 35.8M378.7 35.2Q382.9 32.4 384.1 27.5M384.1 27.5Q384.4 27.5 384.7 27.3M394 25.7Q392.7 27.2 391.7 29M394 25.7Q392.9 22.8 390.5 20.9M391.7 29Q389.4 29.5 387.1 29.6M390.5 20.9Q388.2 20.9 385.9 21.1M384.7 27.3Q385.4 24.2 385.9 21.1M391.7 29Q393.1 32.9 397 34.6M397 34.6Q395.6 37.7 392.4 38.9M386.7 35.8Q389.3 37.1 391.3 39.3M392.4 38.9Q392 39.4 391.3 39.3M398.1 24.5Q395.9 24.4 394 25.7M398.1 24.5Q398.9 23.3 398.7 21.8M390.5 20.9Q392.1 17.9 395.2 16.5M395.2 16.5Q398 18.4 398.7 21.8M413.1 52.7Q412.6 56.4 412 60.1M413.1 52.7Q412.5 50.8 411.5 49.1M412 60.1Q410.9 53.9 405.6 50.5M411.5 49.1Q408.9 51.1 405.6 50.5M412.1 48.2Q412 44.5 410.6 41M412.1 48.2Q411.8 48.7 411.5 49.1M404.2 50.6Q405 46.6 402.8 43.2M404.2 50.6Q404.9 50.5 405.6 50.5M410.6 41Q406.4 41.1 402.8 43.2M398.1 24.5Q398.4 24.8 398.6 25.1M397 34.6Q397.1 34.5 397.2 34.5M398.6 25.1Q397.1 29.7 397.2 34.5M392.4 38.9Q395.5 41.1 398.6 43.3M398.6 43.3Q400.2 42.6 401.9 42.4M401.9 42.4Q401.3 38.9 401.3 35.3M397.2 34.5Q399.4 34.2 401.3 35.3M402.7 12.2Q403.5 15.8 405.4 19.1M413.4 12.1Q411.8 16.9 408.7 21M408.7 21Q406.9 20.2 405.4 19.1M395.2 16.5Q394.8 14.1 395.4 11.7M398.7 21.8Q401.9 20.1 405.4 19.1M400.5 70Q400.2 70.2 399.9 70.5M400.5 70Q402.3 69.7 404.1 70.3M399.9 70.5Q399.9 73.6 398.7 76.5M404.1 70.3Q407.3 71.4 408.5 74.7M411.9 61.1Q411.9 63 411.6 64.9M411.9 61.1Q407.9 59.6 403.7 58.9M400.5 70Q400.8 67.7 400 65.6M400 65.6Q402.4 62.5 403.7 58.9M404.1 70.3Q409 69.2 411.6 64.9M437.9 52.6Q439.2 53 440.4 53.6M437.9 52.6Q436.8 49.5 437.2 46.3M437.2 46.3Q437.5 45.8 437.8 45.4M437.8 45.4Q439.9 43.4 442.7 42.5M432.7 55.4Q431.8 58.1 433.2 60.5M432.7 55.4Q435.6 54.6 437.9 52.6M433.2 60.5Q433.7 62.9 435.8 64M419.4 59.6Q417.6 57 417.3 53.9M419.4 59.6Q420.8 59.5 422 60.1M422 60.1Q424.8 57.2 426.8 53.6M417.3 53.9Q420 50.9 423.1 48.2M426.8 53.6Q425.7 52.2 425.4 50.4M425.4 50.4Q423.9 49.6 423.1 48.2M412 61.1Q415.5 59.7 419.4 59.6M412 61.1Q411.9 60.6 412 60.1M413.1 52.7Q415.2 53.4 417.3 53.9M432.7 55.4Q429.8 54.2 426.8 53.6M433.2 60.5Q428.3 61.2 425.6 65.4M423.9 65.1Q424.7 65.2 425.6 65.4M423.9 65.1Q422.3 62.8 422 60.1M421.9 46.3Q417.5 49.7 412.1 48.2M421.9 46.3Q422.5 47.2 423.1 48.2M432.5 45.1Q434.7 46.3 437.2 46.3M432.5 45.1Q428.5 47.3 425.4 50.4M400 65.6Q396.2 64.4 394.4 60.9M394.4 60.9Q396.5 58.4 397.9 55.5M403.7 58.9Q402.1 56.6 401.7 53.9M397.9 55.5Q400.2 55.5 401.7 53.9M404.2 50.6Q402.9 51.4 402 52.7M398.6 43.3Q396.4 45.2 395.3 47.9M401.9 42.4Q402.3 42.9 402.8 43.2M395.3 47.9Q399.7 48.8 402 52.7M411.9 61.1Q412 61.1 412 61.1M402 52.7Q402.1 53.3 401.7 53.9M399.9 70.5Q395.2 72.2 390.9 69.6M390.9 69.6Q390.8 70.6 389.9 71.1M421.9 46.3Q421.8 45 422.2 43.8M410.6 41Q411.7 40 411.6 38.4M411.6 38.4Q417.2 40.6 422.2 43.8M409.8 23.2Q413.2 23.1 416.5 24.1M409.8 23.2Q408.6 26.5 406.4 29.2M416.5 24.1Q416.5 31.1 411.3 35.9M406.4 29.2Q406.4 30.8 406.4 32.4M411.3 35.9Q409.7 32.9 406.4 32.4M418.5 24Q417.5 23.7 416.5 24.1M418.5 24Q420.5 22.7 420.9 20.3M420.9 20.3Q415.6 17.6 413.4 12.1M408.7 21Q409.5 22 409.8 23.2M398.6 25.1Q402.4 27.3 406.4 29.2M401.3 35.3Q403.1 32.6 406.4 32.4M411.6 38.4Q411 37.3 411.4 36.1M411.4 36.1Q411.4 36 411.3 35.9M420.9 20.3Q421.2 20 421.6 19.9M421.6 19.9Q421.8 18 423.2 16.7M414.5 68.1Q414.6 69.6 415 71.1M414.5 68.1Q419.5 68 423.7 65.4M415 71.1Q418.9 70.8 422.3 72.5M423.7 65.4Q422 68.8 422.3 72.5M411.6 64.9Q412.4 67.1 414.5 68.1M413.6 74.1Q414.8 72.8 415 71.1M423.9 65.1Q423.8 65.3 423.7 65.4M425.6 65.4Q429.6 66.9 432.1 70.3M371.6 48.3Q373.5 50 376.1 50.5M376.1 50.5Q373.8 54.9 374 59.8M394.4 60.9Q391.5 62.1 388.5 60.9M390.9 69.6Q388 66.2 386.7 62M386.7 62Q387.5 61.3 388.5 60.9M397.9 55.5Q394.9 53.2 391.1 53.4M388.5 60.9Q391.5 57.8 391.1 53.4M395.3 47.9Q392.6 48.6 389.9 47.9M391.1 53.4Q390.1 50.7 389.9 47.9M391.3 39.3Q391.7 43.7 389.2 47.3M389.2 47.3Q389.6 47.4 389.9 47.9M384.1 27.5Q380.7 25.4 376.9 26.6M376.2 38.8Q373.8 38.8 371.6 39.4M378.7 35.2Q375.8 32.2 375.2 28M411.4 36.1Q414.8 35.1 418 33.8M422.2 43.8Q422.9 41.6 424.3 39.7M424.3 39.7Q422.6 35.3 418 33.8M432.5 45.1Q431 41 428.1 37.6M424.3 39.7Q426.2 38.6 428.1 37.6M436.8 42.9Q432.8 39.9 428.7 36.9M436.8 42.9Q437.9 43.9 437.8 45.4M428.1 37.6Q428.3 37.1 428.7 36.9M421.6 19.9Q426.8 21 431.6 23.3M436.8 42.9Q434.7 38.8 436.1 34.4M428.7 36.9Q429.1 36.4 429.3 35.9M429.3 35.9Q432.8 35.7 436.1 34.4M436.1 34.4Q437.6 32.7 439.8 32.3M386.7 62Q386.2 62 385.7 61.9M384.1 70.7Q385.1 66.6 383.9 62.4M385.7 61.9Q384.9 62.6 383.9 62.4M380.1 63.1Q380.9 62.6 381.8 62.6M383.9 62.4Q382.9 63 381.8 62.6M428.4 28.4Q428.8 31.7 428.9 35.1M428.4 28.4Q424.4 25.9 419.8 26.7M428.9 35.1Q423.7 33.2 419.8 29.3M419.8 26.7Q419.4 28 419.8 29.3M431.6 23.3Q430 25.9 428.4 28.4M429.3 35.9Q429.1 35.5 428.9 35.1M418.5 24Q418.7 25.6 419.8 26.7M418 33.8Q419.6 31.8 419.8 29.3M384.4 55.6Q380.9 54 378.8 50.8M384.4 55.6Q386.4 51.6 387.9 47.4M382.4 46.4Q380.1 47.9 378.3 50.1M382.4 46.4Q385.3 46 387.9 47.4M378.3 50.1Q378.5 50.4 378.8 50.8M385.7 61.9Q383.5 59.1 384.4 55.6M381.8 62.6Q379.9 56.8 378.8 50.8M389.2 47.3Q388.5 47.2 387.9 47.4M381.8 44.8Q382.4 45.5 382.4 46.4M376.1 50.5Q377.2 50.5 378.3 50.1" stroke="#dcdcdc" stroke-width="1.1" opacity="0.6" fill="none" stroke-linecap="round"/>
<ellipse cx="341.5" cy="53.5" rx="35.5" ry="32.5" fill="url(#sg12)"/>
<rect clip-path="url(#sc12)" x="306" y="21" width="71" height="65" filter="url(#dk2)" opacity="0.2"/>
<g clip-path="url(#sc12)"><g filter="url(#emb12)" style="mix-blend-mode:overlay" opacity="0.6"><path d="M350.6 79.8Q350.6 83.7 350.8 87.7M350.6 79.8Q356.4 80 360.1 84.5M321.8 37.8Q324.2 38.3 326.5 37.7M321.8 37.8Q321 37.8 320.4 37.2M318.4 32.3Q319.5 34.7 320.4 37.2M318.4 32.3Q320.6 30.8 322 28.6M326.5 37.7Q326.9 33.9 329.9 31.7M322 28.6Q326.6 28.5 329.9 31.7M330.7 42.9Q329.4 39.6 326.5 37.7M330.7 42.9Q332.6 39.2 334.8 35.7M334.8 35.7Q334.7 32.7 332.3 30.9M329.9 31.7Q331.3 31.7 332.3 30.9M354.3 38Q355 34.4 356.4 30.9M354.3 38Q357.3 40.4 360.6 42.2M356.4 30.9Q359.3 28.4 363.1 29.2M364.4 30.9Q363.8 30 363.1 29.2M364.4 30.9Q364.6 33.7 366.8 35.3M360.6 42.2Q362 37.2 366.8 35.3M364.4 30.9Q369.1 29.2 374 29.8M374 29.8Q374.5 34.3 371.4 37.6M366.8 35.3Q369.7 35.4 371.4 37.6M339.8 37.6Q342.4 35.7 343.6 32.8M339.8 37.6Q340.2 41.1 340.9 44.5M343.6 32.8Q348.2 35.4 351.1 39.7M340.9 44.5Q343.8 45.6 346.7 44.7M346.7 44.7Q347.7 43.8 349 43.3M351.1 39.7Q349.6 41.2 349 43.3M334.8 35.7Q337.7 35.5 339.8 37.6M341.9 28.5Q342.3 30 343.6 30.8M341.9 28.5Q337.5 29.7 332.9 29.9M343.6 30.8Q343.4 31.8 343.6 32.8M332.9 29.9Q332.8 30.5 332.3 30.9M339.6 45.4Q340.2 44.9 340.9 44.5M339.6 45.4Q335.6 43.2 331 44.1M331 44.1Q330.7 43.5 330.7 42.9M354.3 38Q352.3 38.1 351.1 39.7M356.4 30.9Q355.4 29.4 353.8 28.6M343.6 30.8Q348.7 29.9 353.8 28.6M353.3 47.2Q353.4 49.5 354.8 51.4M353.3 47.2Q352.1 44.2 349 43.3M354.8 51.4Q351.2 51.3 348 52.9M348 52.9Q348 48.7 346.7 44.7M353.3 47.2Q357.2 45.1 361.6 44.8M361.6 44.8Q361.7 43.3 360.6 42.2M356.8 13.9Q355.2 18.1 353.2 22.2M347.5 15.1Q346.7 17.2 346.9 19.4M346.9 19.4Q350.3 19.9 352.2 22.8M353.2 22.2Q352.7 22.5 352.2 22.8M342.7 22Q344.5 20.1 346.9 19.4M342.7 22Q343.2 25.3 341.9 28.5M353.8 28.6Q352.1 26 352.2 22.8M350.6 79.8Q350.1 79.4 349.8 78.8M342.4 88.9Q348.3 85.5 349.8 78.8M372.8 39.2Q372.3 38.2 371.4 37.6M372.8 39.2Q374.7 39.7 376.6 39.8M318.4 32.3Q317.4 32 316.3 31.9M318.5 18.8Q321 22.5 322.2 26.9M322 28.6Q322.1 27.7 322.2 26.9M316.3 31.9Q313 27.8 311.7 22.6M332 25.5Q330.1 24.5 328.3 23.4M332 25.5Q334.2 22.3 336.4 19.2M328.3 23.4Q325.8 19.9 326.2 15.7M336.4 19.2Q336.4 18.2 335.6 17.6M322.2 26.9Q324.7 24.3 328.3 23.4M332.9 29.9Q332.1 27.7 332 25.5M342.7 22Q339.2 21.4 336.4 19.2M324.2 47.3Q323 42.6 321.8 37.8M324.2 47.3Q324.5 48.2 325.3 48.8M331 44.1Q328.1 46 326.6 49.2M325.3 48.8Q326 48.7 326.6 49.2M339.6 45.4Q338.3 48.2 338.9 51.3M326.6 49.2Q326.8 49.6 326.8 50M326.8 50Q328.6 53.8 332.2 56.1M332.2 56.1Q334.8 52.6 338.9 51.3M348 52.9Q347.8 53.3 347.6 53.7M347.6 53.7Q344.3 54.6 341.1 53.3M338.9 51.3Q340.2 52.1 341.1 53.3M324.2 47.3Q320.6 46 317.7 43.7M320.4 37.2Q318.6 38.6 317.6 40.7M317.7 43.7Q317.7 42.2 317.6 40.7M312.4 67Q306.4 67.4 300.4 68.3M312.4 67Q311.5 62.2 308.7 58.2M300.4 67.8Q302.7 62.2 307 58M308.7 58.2Q307.9 57.8 307 58M309.1 40.1Q308.7 42.8 309 45.6M309.1 40.1Q313.3 40.4 317.6 40.7M317.7 43.7Q316.1 46.6 313.4 48.7M309 45.6Q310.6 48 313.4 48.7M325.3 48.8Q320.4 51.7 314.8 51.7M313.4 48.7Q313.6 50.4 314.8 51.7M307 58Q304.4 55.6 301.6 53.3M308.7 58.2Q311.6 56.9 314.2 55M309 45.6Q304.5 46.2 301.7 49.7M314.8 51.7Q314.8 53.4 314.2 55M354.8 51.4Q356.5 52.5 358.2 53.7M361.6 44.8Q362.9 45.7 363.3 47.2M363.3 47.2Q360.6 50.3 358.2 53.7M356.5 62.5Q357.7 61.6 358.5 60.2M356.5 62.5Q352 62.3 348.7 59.1M348.7 59.1Q348.9 56.3 347.6 53.7M358.2 53.7Q358.9 56.9 358.5 60.2M372.8 39.2Q370.8 43.9 367 47.4M363.3 47.2Q364.6 47.7 366 47.6M367 47.4Q366.5 47.4 366 47.6M375.7 75.8Q374.1 71.7 375.8 67.7M375.8 67.7Q378.4 68.5 381 67.9M367.8 70Q367.9 70.5 367.7 70.9M367.8 70Q363.7 63.9 356.4 62.9M367.7 70.9Q363.2 73 358.6 71.7M358.6 71.7Q357.8 68.4 355.5 65.8M356.4 62.9Q356.4 64.5 355.5 65.8M349.3 70.6Q348.6 73.6 348.1 76.5M349.3 70.6Q352.6 68.5 355.5 65.8M358.8 74.5Q358.6 73.1 358.6 71.7M358.8 74.5Q354.3 76.7 349.8 78.7M348.1 76.5Q348.5 77.9 349.8 78.7M371.4 76.5Q369.9 75.6 368.5 74.6M368.5 74.6Q364.9 76.1 361.8 78.4M361 83.5Q360.8 80.9 361.8 78.4M358.8 74.5Q360.9 76 361.8 78.4M367.7 70.9Q367.2 73 368.5 74.6M349.8 78.8Q349.8 78.8 349.8 78.7M363.2 29Q368.4 27.8 372.7 24.7M363.2 29Q362 24.3 362.9 19.5M363.1 29.2Q363.2 29.1 363.2 29M353.2 22.2Q358.7 23 362.9 19.5M308.9 39.6Q305.4 39.9 302.2 38.3M308.9 39.6Q308.6 36.5 310.7 34.2M310.7 34.2Q309.3 30.5 305.6 29.1M309.1 40.1Q309 39.8 308.9 39.6M316.3 31.9Q313.4 32.8 310.7 34.2M348.1 76.5Q344.6 75.8 341.2 76.9M342.4 88.9Q341.9 84.3 338.8 81M341.2 76.9Q339.7 78.8 338.8 81M333.4 89.9Q332.3 86.8 332.4 83.5M332.4 83.5Q334.7 83 336.3 81.2M338.8 81Q337.5 80.9 336.3 81.2M331.2 74.5Q332.9 71.9 335.6 70.3M331.2 74.5Q335 76.9 336.3 81.2M341.2 76.9Q339.3 73.2 336.6 70.1M336.6 70.1Q336.1 70.2 335.6 70.3M376.6 39.8Q377.4 43.3 377.6 46.8M367 47.4Q370.6 48.5 373.3 51.2M373.3 51.2Q376 49.5 377.6 46.8M377.6 46.8Q378.5 48 380.1 48.1M370.3 66.4Q372.1 65.8 374.1 66M370.3 66.4Q368.1 63.1 366 59.7M374.1 66Q377.3 63.2 377.2 58.9M366 59.7Q366.5 59.2 367 58.7M367 58.7Q371.3 58.7 374.5 55.9M374.5 55.9Q375.8 56.3 376.8 57.3M377.2 58.9Q376.9 58.1 376.8 57.3M375.8 67.7Q374.9 66.9 374.1 66M367.8 70Q368.6 67.9 370.3 66.4M356.5 62.5Q356.5 62.7 356.4 62.9M358.5 60.2Q362.3 61.4 366 59.7M383.9 63.2Q379.9 62 377.2 58.9M366 47.6Q367.2 53.1 367 58.7M373.3 51.2Q374.7 53.3 374.5 55.9M384.1 52.3Q379.4 53.3 376.8 57.3M327.4 76Q325.7 73.8 323.1 73M327.4 76Q327.8 78.7 327.5 81.4M323.1 73Q322.2 78.3 318.6 82.2M327.5 81.4Q325.7 84.4 322.7 86.1M332.4 83.5Q329.5 83.6 327.5 81.4M331.2 74.5Q329.4 75.6 327.4 76M308.9 77Q312.1 74.8 314.5 71.7M314.5 71.7Q317.7 76.5 318.6 82.2M326.8 50Q324.4 54 321.5 57.7M314.2 55Q315 56.4 316.6 56.9M321.5 57.7Q320.6 58 319.6 58.5M316.6 56.9Q318.1 57.8 319.6 58.5M312.4 67Q313.4 67.3 313.9 68.1M316.6 56.9Q316.7 62.9 313.9 68.1M314.5 71.7Q315 70.8 315.7 70M313.9 68.1Q315 68.9 315.7 70M330.1 66.4Q330.2 63.4 329.5 60.5M330.1 66.4Q326 69.2 321.1 70.2M320.5 67Q320.3 68.2 319.9 69.4M320.5 67Q324.1 64 327.6 60.8M327.6 60.8Q328.5 60.2 329.5 60.5M321.1 70.2Q320.5 69.8 319.9 69.4M335.6 70.3Q333.6 67.3 330.1 66.4M323.1 73Q322 71.7 321.1 70.2M319.6 58.5Q320.6 62.7 320.5 67M315.7 70Q317.9 70.4 319.9 69.4M321.5 57.7Q325 58.4 327.6 60.8M332.2 56.1Q332.5 56.7 332.3 57.4M332.3 57.4Q330.7 58.8 329.5 60.5M336.9 60.8Q337.9 64.1 338.5 67.5M336.9 60.8Q338.9 59.2 341.4 58.6M346.2 60.2Q343.7 59.8 341.4 58.6M346.2 60.2Q345.1 63.7 343 66.7M343 66.7Q340.7 67 338.5 67.5M332.3 57.4Q334.5 59.2 336.9 60.8M336.6 70.1Q337.7 68.9 338.5 67.5M341.1 53.3Q341.3 56 341.4 58.6M348.7 59.1Q347.3 59.3 346.2 60.2M349.3 70.6Q347 67.4 343 66.7" stroke="#fff" stroke-width="2.2" fill="none" stroke-linecap="round"/></g></g>
<path clip-path="url(#sc12)" d="M350.6 79.8Q350.6 83.7 350.8 87.7M350.6 79.8Q356.4 80 360.1 84.5M321.8 37.8Q324.2 38.3 326.5 37.7M321.8 37.8Q321 37.8 320.4 37.2M318.4 32.3Q319.5 34.7 320.4 37.2M318.4 32.3Q320.6 30.8 322 28.6M326.5 37.7Q326.9 33.9 329.9 31.7M322 28.6Q326.6 28.5 329.9 31.7M330.7 42.9Q329.4 39.6 326.5 37.7M330.7 42.9Q332.6 39.2 334.8 35.7M334.8 35.7Q334.7 32.7 332.3 30.9M329.9 31.7Q331.3 31.7 332.3 30.9M354.3 38Q355 34.4 356.4 30.9M354.3 38Q357.3 40.4 360.6 42.2M356.4 30.9Q359.3 28.4 363.1 29.2M364.4 30.9Q363.8 30 363.1 29.2M364.4 30.9Q364.6 33.7 366.8 35.3M360.6 42.2Q362 37.2 366.8 35.3M364.4 30.9Q369.1 29.2 374 29.8M374 29.8Q374.5 34.3 371.4 37.6M366.8 35.3Q369.7 35.4 371.4 37.6M339.8 37.6Q342.4 35.7 343.6 32.8M339.8 37.6Q340.2 41.1 340.9 44.5M343.6 32.8Q348.2 35.4 351.1 39.7M340.9 44.5Q343.8 45.6 346.7 44.7M346.7 44.7Q347.7 43.8 349 43.3M351.1 39.7Q349.6 41.2 349 43.3M334.8 35.7Q337.7 35.5 339.8 37.6M341.9 28.5Q342.3 30 343.6 30.8M341.9 28.5Q337.5 29.7 332.9 29.9M343.6 30.8Q343.4 31.8 343.6 32.8M332.9 29.9Q332.8 30.5 332.3 30.9M339.6 45.4Q340.2 44.9 340.9 44.5M339.6 45.4Q335.6 43.2 331 44.1M331 44.1Q330.7 43.5 330.7 42.9M354.3 38Q352.3 38.1 351.1 39.7M356.4 30.9Q355.4 29.4 353.8 28.6M343.6 30.8Q348.7 29.9 353.8 28.6M353.3 47.2Q353.4 49.5 354.8 51.4M353.3 47.2Q352.1 44.2 349 43.3M354.8 51.4Q351.2 51.3 348 52.9M348 52.9Q348 48.7 346.7 44.7M353.3 47.2Q357.2 45.1 361.6 44.8M361.6 44.8Q361.7 43.3 360.6 42.2M356.8 13.9Q355.2 18.1 353.2 22.2M347.5 15.1Q346.7 17.2 346.9 19.4M346.9 19.4Q350.3 19.9 352.2 22.8M353.2 22.2Q352.7 22.5 352.2 22.8M342.7 22Q344.5 20.1 346.9 19.4M342.7 22Q343.2 25.3 341.9 28.5M353.8 28.6Q352.1 26 352.2 22.8M350.6 79.8Q350.1 79.4 349.8 78.8M342.4 88.9Q348.3 85.5 349.8 78.8M372.8 39.2Q372.3 38.2 371.4 37.6M372.8 39.2Q374.7 39.7 376.6 39.8M318.4 32.3Q317.4 32 316.3 31.9M318.5 18.8Q321 22.5 322.2 26.9M322 28.6Q322.1 27.7 322.2 26.9M316.3 31.9Q313 27.8 311.7 22.6M332 25.5Q330.1 24.5 328.3 23.4M332 25.5Q334.2 22.3 336.4 19.2M328.3 23.4Q325.8 19.9 326.2 15.7M336.4 19.2Q336.4 18.2 335.6 17.6M322.2 26.9Q324.7 24.3 328.3 23.4M332.9 29.9Q332.1 27.7 332 25.5M342.7 22Q339.2 21.4 336.4 19.2M324.2 47.3Q323 42.6 321.8 37.8M324.2 47.3Q324.5 48.2 325.3 48.8M331 44.1Q328.1 46 326.6 49.2M325.3 48.8Q326 48.7 326.6 49.2M339.6 45.4Q338.3 48.2 338.9 51.3M326.6 49.2Q326.8 49.6 326.8 50M326.8 50Q328.6 53.8 332.2 56.1M332.2 56.1Q334.8 52.6 338.9 51.3M348 52.9Q347.8 53.3 347.6 53.7M347.6 53.7Q344.3 54.6 341.1 53.3M338.9 51.3Q340.2 52.1 341.1 53.3M324.2 47.3Q320.6 46 317.7 43.7M320.4 37.2Q318.6 38.6 317.6 40.7M317.7 43.7Q317.7 42.2 317.6 40.7M312.4 67Q306.4 67.4 300.4 68.3M312.4 67Q311.5 62.2 308.7 58.2M300.4 67.8Q302.7 62.2 307 58M308.7 58.2Q307.9 57.8 307 58M309.1 40.1Q308.7 42.8 309 45.6M309.1 40.1Q313.3 40.4 317.6 40.7M317.7 43.7Q316.1 46.6 313.4 48.7M309 45.6Q310.6 48 313.4 48.7M325.3 48.8Q320.4 51.7 314.8 51.7M313.4 48.7Q313.6 50.4 314.8 51.7M307 58Q304.4 55.6 301.6 53.3M308.7 58.2Q311.6 56.9 314.2 55M309 45.6Q304.5 46.2 301.7 49.7M314.8 51.7Q314.8 53.4 314.2 55M354.8 51.4Q356.5 52.5 358.2 53.7M361.6 44.8Q362.9 45.7 363.3 47.2M363.3 47.2Q360.6 50.3 358.2 53.7M356.5 62.5Q357.7 61.6 358.5 60.2M356.5 62.5Q352 62.3 348.7 59.1M348.7 59.1Q348.9 56.3 347.6 53.7M358.2 53.7Q358.9 56.9 358.5 60.2M372.8 39.2Q370.8 43.9 367 47.4M363.3 47.2Q364.6 47.7 366 47.6M367 47.4Q366.5 47.4 366 47.6M375.7 75.8Q374.1 71.7 375.8 67.7M375.8 67.7Q378.4 68.5 381 67.9M367.8 70Q367.9 70.5 367.7 70.9M367.8 70Q363.7 63.9 356.4 62.9M367.7 70.9Q363.2 73 358.6 71.7M358.6 71.7Q357.8 68.4 355.5 65.8M356.4 62.9Q356.4 64.5 355.5 65.8M349.3 70.6Q348.6 73.6 348.1 76.5M349.3 70.6Q352.6 68.5 355.5 65.8M358.8 74.5Q358.6 73.1 358.6 71.7M358.8 74.5Q354.3 76.7 349.8 78.7M348.1 76.5Q348.5 77.9 349.8 78.7M371.4 76.5Q369.9 75.6 368.5 74.6M368.5 74.6Q364.9 76.1 361.8 78.4M361 83.5Q360.8 80.9 361.8 78.4M358.8 74.5Q360.9 76 361.8 78.4M367.7 70.9Q367.2 73 368.5 74.6M349.8 78.8Q349.8 78.8 349.8 78.7M363.2 29Q368.4 27.8 372.7 24.7M363.2 29Q362 24.3 362.9 19.5M363.1 29.2Q363.2 29.1 363.2 29M353.2 22.2Q358.7 23 362.9 19.5M308.9 39.6Q305.4 39.9 302.2 38.3M308.9 39.6Q308.6 36.5 310.7 34.2M310.7 34.2Q309.3 30.5 305.6 29.1M309.1 40.1Q309 39.8 308.9 39.6M316.3 31.9Q313.4 32.8 310.7 34.2M348.1 76.5Q344.6 75.8 341.2 76.9M342.4 88.9Q341.9 84.3 338.8 81M341.2 76.9Q339.7 78.8 338.8 81M333.4 89.9Q332.3 86.8 332.4 83.5M332.4 83.5Q334.7 83 336.3 81.2M338.8 81Q337.5 80.9 336.3 81.2M331.2 74.5Q332.9 71.9 335.6 70.3M331.2 74.5Q335 76.9 336.3 81.2M341.2 76.9Q339.3 73.2 336.6 70.1M336.6 70.1Q336.1 70.2 335.6 70.3M376.6 39.8Q377.4 43.3 377.6 46.8M367 47.4Q370.6 48.5 373.3 51.2M373.3 51.2Q376 49.5 377.6 46.8M377.6 46.8Q378.5 48 380.1 48.1M370.3 66.4Q372.1 65.8 374.1 66M370.3 66.4Q368.1 63.1 366 59.7M374.1 66Q377.3 63.2 377.2 58.9M366 59.7Q366.5 59.2 367 58.7M367 58.7Q371.3 58.7 374.5 55.9M374.5 55.9Q375.8 56.3 376.8 57.3M377.2 58.9Q376.9 58.1 376.8 57.3M375.8 67.7Q374.9 66.9 374.1 66M367.8 70Q368.6 67.9 370.3 66.4M356.5 62.5Q356.5 62.7 356.4 62.9M358.5 60.2Q362.3 61.4 366 59.7M383.9 63.2Q379.9 62 377.2 58.9M366 47.6Q367.2 53.1 367 58.7M373.3 51.2Q374.7 53.3 374.5 55.9M384.1 52.3Q379.4 53.3 376.8 57.3M327.4 76Q325.7 73.8 323.1 73M327.4 76Q327.8 78.7 327.5 81.4M323.1 73Q322.2 78.3 318.6 82.2M327.5 81.4Q325.7 84.4 322.7 86.1M332.4 83.5Q329.5 83.6 327.5 81.4M331.2 74.5Q329.4 75.6 327.4 76M308.9 77Q312.1 74.8 314.5 71.7M314.5 71.7Q317.7 76.5 318.6 82.2M326.8 50Q324.4 54 321.5 57.7M314.2 55Q315 56.4 316.6 56.9M321.5 57.7Q320.6 58 319.6 58.5M316.6 56.9Q318.1 57.8 319.6 58.5M312.4 67Q313.4 67.3 313.9 68.1M316.6 56.9Q316.7 62.9 313.9 68.1M314.5 71.7Q315 70.8 315.7 70M313.9 68.1Q315 68.9 315.7 70M330.1 66.4Q330.2 63.4 329.5 60.5M330.1 66.4Q326 69.2 321.1 70.2M320.5 67Q320.3 68.2 319.9 69.4M320.5 67Q324.1 64 327.6 60.8M327.6 60.8Q328.5 60.2 329.5 60.5M321.1 70.2Q320.5 69.8 319.9 69.4M335.6 70.3Q333.6 67.3 330.1 66.4M323.1 73Q322 71.7 321.1 70.2M319.6 58.5Q320.6 62.7 320.5 67M315.7 70Q317.9 70.4 319.9 69.4M321.5 57.7Q325 58.4 327.6 60.8M332.2 56.1Q332.5 56.7 332.3 57.4M332.3 57.4Q330.7 58.8 329.5 60.5M336.9 60.8Q337.9 64.1 338.5 67.5M336.9 60.8Q338.9 59.2 341.4 58.6M346.2 60.2Q343.7 59.8 341.4 58.6M346.2 60.2Q345.1 63.7 343 66.7M343 66.7Q340.7 67 338.5 67.5M332.3 57.4Q334.5 59.2 336.9 60.8M336.6 70.1Q337.7 68.9 338.5 67.5M341.1 53.3Q341.3 56 341.4 58.6M348.7 59.1Q347.3 59.3 346.2 60.2M349.3 70.6Q347 67.4 343 66.7" stroke="#e0e0e0" stroke-width="1.1" opacity="0.65" fill="none" stroke-linecap="round"/>
</g>
<g clip-path="url(#cld)" filter="url(#soft)">
<rect x="417.8" y="16.6" width="122.19999999999999" height="73.19999999999999" fill="#1c1c1c"/>
<g clip-path="url(#dshape)">
<rect x="410" y="10" width="130" height="85" fill="url(#dg)"/>
<rect x="410" y="10" width="130" height="85" filter="url(#dk2)" opacity="0.3"/>
<g filter="url(#emb)" style="mix-blend-mode:overlay" opacity="0.6"><rect x="410" y="10" width="130" height="85" fill="none"/><path d="M546.2 83.2Q543.6 81.8 541.9 79.3M543.1 86.3Q541.1 86.6 539.1 86.9M539.1 86.9Q542.3 83.7 541.9 79.3M548.8 74.4Q544.3 74.5 541.6 78.1M541.6 78.1Q541.9 78.7 541.9 79.3M442.8 37.7Q439.5 36.6 436.5 38.4M442.8 37.7Q445.1 40.5 444.6 44.1M444.6 44.1Q440.9 42.4 437 41.5M437 41.5Q436.3 40 436.5 38.4M449.1 36Q451 33.9 453.8 33.8M449.1 36Q448.7 39.5 449.6 42.8M453.8 33.8Q455 33.9 455.6 34.8M459.4 42.4Q457.9 38.4 455.6 34.8M459.4 42.4Q457.7 43 456.1 44M456.1 44Q453.2 41.8 449.6 42.8M442.8 37.7Q445.2 36.6 447.3 35.1M444.6 44.1Q444.8 44.5 445.2 44.6M445.2 44.6Q447.1 43.9 449 43.4M449.1 36Q448.4 35.3 447.3 35.1M449.6 42.8Q449.4 43.2 449 43.4M447 54.4Q441.5 56.5 436.2 54M447 54.4Q447 54.2 447 54.1M447 54.1Q445.2 51.4 443.2 48.9M443.2 48.9Q442.1 48.8 441 49.3M441 49.3Q437.9 50.9 436.2 54M436.2 54Q436.2 54 436.2 54M445.2 44.6Q443.5 46.4 443.2 48.9M450.5 51Q448.5 47.4 449 43.4M450.5 51Q449.1 53 447 54.1M437 41.5Q436.2 42.5 436.1 43.7M436.1 43.7Q438.1 46.9 441 49.3M436.1 43.7Q435.4 45.1 434 45.7M434 45.7Q434.7 49.7 435.3 53.8M435.3 53.8Q435.8 53.9 436.2 54M473 74.4Q471.9 74 470.8 73.9M473 74.4Q474.6 72.9 476.5 72M476.5 72Q477 69.1 475 67M470.8 73.9Q470.1 72.2 468.5 71.5M468.5 71.5Q468.3 71.3 468.3 71M475 67Q472.3 70.1 468.3 71M429.9 30.2Q430.2 29.5 430.6 28.8M429.9 30.2Q430.3 34.1 432.8 37.1M430.6 28.8Q433.2 28 435.8 28.7M435.8 28.7Q437.2 30.4 438.6 32M438.6 32Q437.9 35.2 436.2 38M432.8 37.1Q434.4 37.8 436.2 38M437.8 19.2Q435.8 20.1 433.9 19.1M437.8 19.2Q437.7 21.6 439.5 23.1M439.5 23.1Q438.7 24.1 437.6 24.7M437.6 24.7Q434.3 23.8 430.9 23M430.9 23Q432.1 20.8 433.9 19.1M429.3 23.9Q430.7 26.2 430.6 28.8M429.3 23.9Q430.3 23.8 430.9 23M435.8 28.7Q437.4 27 437.6 24.7M429.9 13.2Q429.2 16.8 426.1 18.8M425.2 10Q421.5 12.5 419.3 16.4M426.1 18.8Q422.5 18.2 419.3 16.4M429.3 23.9Q428 23.5 426.9 22.7M429.9 13.2Q432.8 15.6 433.9 19.1M426.1 18.8Q426.8 20.6 426.9 22.7M415.9 16.7Q416.1 16.8 416.3 16.9M419.3 16.4Q417.8 16.4 416.3 16.9M447.3 57.4Q447.5 55.8 447 54.4M447.3 57.4Q445.8 60.1 442.8 60.8M436.2 54Q437.6 57.7 440.1 60.6M442.8 60.8Q441.4 61.2 440.1 60.6M430.8 55.9Q431.3 55.4 431.6 54.9M430.8 55.9Q431.6 60 434.5 63M431.6 54.9Q433.3 53.7 435.3 53.8M440.1 60.6Q438.7 61.6 437.6 63M434.5 63Q436.1 63.6 437.6 63M458.9 54Q457.5 58.7 452.9 60.6M458.9 54Q457.8 51.7 455.4 51M454.7 51.1Q455 50.9 455.4 51M454.7 51.1Q453.4 55.5 450.6 59M450.6 59Q451.9 59.6 452.9 60.6M450.5 51Q452.6 50.2 454.7 51.1M456.1 44Q456.6 47.6 455.4 51M447.3 57.4Q449 58.1 450.6 59M460.2 54Q459.5 53.9 458.9 54M460.2 54Q460.7 53.7 460.9 53.1M459.4 42.4Q460 42.6 460.6 42.5M460.9 53.1Q461.3 49.4 462.2 45.7M460.6 42.5Q461 44.3 462.2 45.7M460.9 53.1Q466.2 53.4 470.4 50.2M470.4 50.2Q470.4 50 470.4 49.8M470.4 49.8Q470.2 49.6 470.2 49.3M462.2 45.7Q466.7 46.3 470.2 49.3M471.8 38.9Q474.4 38.6 476.4 36.9M471.8 38.9Q470.2 35.4 469.9 31.6M469.9 31.6Q470.4 30.8 471.3 30.4M471.3 30.4Q472 30.7 472.9 30.8M476.4 36.9Q474.9 33.7 472.9 30.8M484.9 24.4Q482.6 24.5 481.2 22.9M484.9 24.4Q484.8 27.5 486.5 30.1M486.5 30.1Q483.8 30.9 481.8 33M481.2 22.9Q480 23.2 478.9 22.7M478.9 22.7Q480.6 26.5 478.6 30.1M481.8 33Q480.3 31.4 478.6 30.1M486.7 47.7Q485.2 47.3 484.4 45.9M486.7 47.7Q486.9 48.3 487.4 48.6M487.4 48.6Q487.3 51.5 484.8 53.2M478.7 54.4Q478.4 50.4 480.3 46.9M478.7 54.4Q479.5 54.7 479.9 55.4M479.9 55.4Q482.3 54.1 484.8 53.2M484.4 45.9Q482.3 46.3 480.3 46.9M470.4 49.8Q474.8 48.9 477.9 45.6M470.8 40.8Q474.3 41.4 477.1 43.4M470.8 40.8Q470.3 40.9 470 41.3M470 41.3Q470.7 45.3 470.2 49.3M477.9 45.6Q477.5 44.5 477.1 43.4M474.2 62.6Q471.8 66.9 466.8 67.6M474.2 62.6Q475.1 62.8 476 63.2M475 67Q475.3 65.2 476.6 64M468.3 71Q466.9 69.6 466.8 67.6M476 63.2Q476.1 63.8 476.6 64M476.5 72Q477.7 70.7 479.5 70.8M479.5 70.8Q479.4 68.4 481.1 66.8M476.6 64Q478.9 65.4 481.1 66.8M480.4 57.1Q484 59.3 486.6 62.6M480.4 57.1Q478.7 60.5 476 63.2M481.1 66.8Q483.4 65.8 485.8 65M486.6 62.6Q485.7 63.7 485.8 65M479.5 70.8Q480.7 72 481.5 73.4M481.5 73.4Q485 72.2 488.7 71.4M488.7 71.4Q488.5 70.1 488.2 68.7M488.2 68.7Q486.2 67.4 485.8 65M494.6 73.8Q495.7 73.6 496.8 73.5M494.6 73.8Q495.1 78 492.7 81.4M492.7 81.4Q494.6 81.4 496.5 81.9M496.5 81.9Q497.9 81.2 498.9 80M498.9 80Q498 76.7 496.8 73.5M497.1 70.5Q496.9 71.8 497.2 73.1M497.1 70.5Q494.5 69.7 493.5 67.2M489.7 73.2Q489.3 72.3 488.7 71.4M489.7 73.2Q492.2 73 494.6 73.8M493.5 67.2Q490.7 67.5 488.2 68.7M497.2 73.1Q496.9 73.2 496.8 73.5M497.1 70.5Q497.2 67.8 499 65.9M503.7 72.5Q500.3 71.5 497.2 73.1M503.7 72.5Q504.7 71 504.4 69.2M499 65.9Q502.5 66.2 504.4 69.2M475.5 54.3Q473.1 53.4 471.1 51.7M475.5 54.3Q475.5 57.8 473.2 60.6M473.2 60.6Q471.9 59.3 470 59.3M470 59.3Q470.2 57.1 469.4 54.9M471.1 51.7Q470.6 53.5 469.4 54.9M478.7 54.4Q477.1 53.9 475.5 54.3M470.4 50.2Q470.4 51.1 471.1 51.7M480.3 46.9Q479.3 45.8 477.9 45.6M479.9 55.4Q480.5 56.2 480.4 57.1M474.2 62.6Q473.5 61.7 473.2 60.6M466.8 67.6Q466.7 67.4 466.4 67.3M466.4 67.3Q465.9 64.5 466.4 61.7M466.4 61.7Q468 60.2 470 59.3M466.4 61.7Q465.1 59.4 463.1 57.7M463.1 57.7Q466.2 56.2 469.4 54.9M460.2 54Q461 56.1 462.7 57.5M462.7 57.5Q462.9 57.6 463.1 57.7M519.5 85.7Q520.4 86.5 520.9 87.6M519.5 85.7Q515.9 86.5 512.1 86.5M512.1 86.5Q514 89.1 514.3 92.2M520.9 87.6Q520.4 90 520.3 92.5M414.4 29.9Q416.8 31.3 417.6 33.9M417.6 33.9Q418.3 33.7 419.1 33.8M419.1 33.8Q419.3 30 421.2 26.7M414.7 25.3Q415.8 23.6 417.8 22.9M417.8 22.9Q419.5 24.3 421.2 25.6M421.2 26.7Q421.3 26.2 421.2 25.6M415.2 35.4Q416.6 34.9 417.6 33.9M428.6 30.6Q425.3 27.8 421.2 26.7M428.6 30.6Q424.7 32.6 421.9 35.8M421.9 35.8Q420.1 35.3 419.1 33.8M416.3 16.9Q417.2 19.9 417.8 22.9M426.9 22.7Q423.4 23 421.2 25.6M428.6 30.6Q429.3 30.7 429.9 30.2M444.2 25.8Q446.8 25.1 449.4 26.1M444.2 25.8Q443.3 28.1 443.6 30.4M443.6 30.4Q445.3 31.3 446 33M446 33Q447.2 29.9 450 28.4M450 28.4Q449.3 27.3 449.4 26.1M454.2 22.9Q451.3 23.7 449.4 26.1M454.2 22.9Q454.1 21.6 454 20.2M454 20.2Q450.5 18.3 446.6 19.1M446.6 19.1Q445.9 22.2 443.4 24.3M443.4 24.3Q443.5 25.2 444.2 25.8M443.4 24.3Q441.4 23.9 439.5 23.1M438.6 32Q441.5 32.3 443.6 30.4M447.3 35.1Q446.4 34.2 446 33M436.5 38.4Q436.4 38.2 436.2 38M453.8 33.8Q453.5 32.8 454 31.9M454 31.9Q452.5 29.7 450 28.4M456.6 26.5Q454.2 28.7 454 31.9M456.6 26.5Q456.1 24.3 454.2 22.9M445.4 16.4Q445.8 15 446 13.5M445.4 16.4Q442.2 16.8 438.9 16.9M438.9 16.9Q438.2 13.7 437.3 10.7M446.6 19.1Q446.4 17.5 445.4 16.4M437.8 19.2Q438.9 18.3 438.9 16.9M455.4 18.2Q455.1 17.6 455.2 17M455.4 18.2Q454.2 18.9 454 20.2M455.2 17Q453.8 14.6 451.6 12.9M458.6 10.2Q457.3 13.8 455.2 17M485.8 9.5Q484.4 12.4 485.8 15.2M483.1 8.9Q480.8 12.2 478.1 15.1M485.8 15.2Q482 14.1 478.2 15.2M478.2 15.2Q478.1 15.2 478.1 15.1M475.6 12.3Q477.3 13.3 478.1 15.1M485.9 15.3Q483.2 18.9 481.2 22.9M485.9 15.3Q485.9 15.3 485.8 15.2M478.9 22.7Q478 21.9 477 21.3M477 21.3Q476.2 18 478.2 15.2M417.2 69.9Q417.5 72 416.4 73.8M417.2 69.9Q416.2 66.5 413 65M416.4 73.8Q415.7 74.3 415.1 74.9M447.5 98.3Q448.6 94.8 448.4 91.2M440.3 93.3Q441.1 92.4 441.5 91.4M441.5 91.4Q445 90.8 448.4 91.2M434.5 63Q432.6 63.7 431.2 65M437.6 63Q437.9 64 437.8 65.1M437.8 65.1Q435 66.5 433.7 69.3M433.7 69.3Q431.5 67.8 431.2 65M422.4 67.4Q419.9 69 417.2 69.9M422.4 67.4Q423.8 67.8 425.2 68.3M421.7 75.1Q418.8 75.6 416.4 73.8M421.7 75.1Q424.5 75.6 426.7 73.9M425.2 68.3Q424.6 71.5 426.7 73.9M420 63Q420.9 65.4 422.4 67.4M420 63Q423.7 61.9 427.4 61.1M427.4 61.1Q428.2 62.8 428.2 64.7M425.2 68.3Q426.6 66.4 428.2 64.7M427.4 61.1Q427.4 59.6 427.4 58.1M430.8 55.9Q429.5 57.7 427.4 58.1M428.2 64.7Q429.7 65 431.2 65M470.8 73.9Q468.2 77.3 467.6 81.6M468.5 71.5Q466.1 75.4 461.5 75.9M467.6 81.6Q464.9 80.5 462.2 81.9M461.5 75.9Q460.5 79.1 462.2 81.9M451.9 86.1Q454.9 87.8 458.2 87.1M451.9 86.1Q450.4 83.2 451.8 80.3M458.2 87.1Q459.6 86.3 460.7 85.1M460.7 85.1Q461.8 84 461.7 82.4M461.7 82.4Q458.8 79.4 454.5 79.1M451.8 80.3Q452.9 79.1 454.5 79.1M442.8 60.8Q443.9 64.7 445.8 68.3M452.9 60.6Q453 60.9 453.1 61.2M453.1 61.2Q448.7 64 445.8 68.3M448.4 91.2Q449.2 90.4 449.8 89.3M449.8 89.3Q454.1 91.4 456.2 95.7M460.7 85.1Q462.8 87.4 465.5 89M467.6 81.6Q468.6 83.7 470.6 84.8M461.7 82.4Q462 82.1 462.2 81.9M470.6 84.8Q468.9 87.9 465.5 89M420 63Q418.9 61.7 417.7 60.5M427.4 58.1Q424.5 55.3 420.5 55.4M420.5 55.4Q420.3 55.5 420.2 55.5M420.2 55.5Q419.4 58.2 417.7 60.5M417.7 60.5Q416.1 62.2 413.8 62.3M434 45.7Q431.5 46.7 429 45.8M432.8 37.1Q430.8 38.2 428.7 38.9M429 45.8Q430.3 42.3 428.7 38.9M431.6 54.9Q430.7 50.2 426.6 47.6M429 45.8Q427.5 46.3 426.6 47.6M420.5 55.4Q423.5 51.8 425.6 47.7M426.6 47.6Q426.1 47.4 425.6 47.7M471.3 30.4Q469.7 27 470.9 23.4M477 21.3Q475.7 21.8 474.2 22M472.9 30.8Q475.7 30.8 478.6 30.1M470.9 23.4Q472.5 22.6 474.2 22M474.2 22Q471.9 18 471 13.4M485.4 40.1Q484.6 41.4 484.7 42.9M485.4 40.1Q484.1 37.2 481.3 35.7M484.7 42.9Q481.8 40.8 478.2 40.8M481.3 35.7Q480 36.4 478.8 37.2M478.8 37.2Q478.7 39 478.2 40.8M486.7 47.7Q489.1 45.8 490.4 42.9M485.9 39.9Q487.9 41.7 490.4 42.9M485.9 39.9Q485.6 39.9 485.4 40.1M484.4 45.9Q485.3 44.5 484.7 42.9M477.1 43.4Q477 41.8 478.2 40.8M476.4 36.9Q477.6 36.7 478.8 37.2M481.8 33Q482 34.4 481.3 35.7M471.8 38.9Q470.9 39.6 470.8 40.8M459.8 33.5Q461.3 37.2 464.2 39.8M459.8 33.5Q460.4 32.7 461.2 32.1M461.2 32.1Q463.2 31.9 465.1 31.7M464.3 39.8Q464.2 39.8 464.2 39.8M464.3 39.8Q466.9 36.6 466.4 32.5M466.4 32.5Q465.6 32.3 465.1 31.7M455.6 34.8Q458 35 459.8 33.5M460.6 42.5Q462.7 41.5 464.2 39.8M456.6 26.5Q457.3 26.9 458 26.7M458 26.7Q459.8 29.3 461.2 32.1M458 26.7Q460.4 25.6 463.1 25.2M463.1 25.2Q463.7 28.6 465.1 31.7M470 41.3Q466.9 41.5 464.3 39.8M469.9 31.6Q468 31.5 466.4 32.5M485.9 15.3Q487.8 16.8 490.1 17.8M484.9 24.4Q486.8 23.1 488.4 21.5M488.4 21.5Q488.4 19.2 490.1 17.8M494.2 10.2Q491.8 13.4 491.6 17.4M491.6 17.4Q490.8 17.4 490.1 17.8M485.9 39.9Q488.7 38.2 491.6 36.6M486.5 30.1Q488 31.4 490 31.1M490 31.1Q489.9 34.1 491.6 36.6M493.5 67.2Q494.4 64.3 495.7 61.5M499 65.9Q498.2 63.7 498.6 61.4M498.6 61.4Q497.1 61.3 495.7 61.5M486.6 62.6Q487.8 60.4 490.2 59.8M495.7 61.5Q492.8 61.2 490.2 59.8M487.4 48.6Q489.3 49.6 491.5 49.8M484.8 53.2Q488.6 55.5 490.2 59.6M491.5 49.8Q491.5 53.7 490.8 57.6M490.8 57.6Q490.4 58.6 490.2 59.6M490.2 59.6Q490.1 59.7 490.2 59.8M528.3 84.9Q527.9 85.3 527.7 85.8M528.3 84.9Q531.7 86.4 535.5 86.2M527.7 85.8Q527.8 89.8 527.6 93.8M536.5 91.1Q537 90.4 537.3 89.5M536.5 91.1Q535.6 93.1 533.7 94.2M535.5 86.2Q536.7 86.8 537.3 88M537.3 88Q537.3 88.7 537.3 89.5M520.9 87.6Q524.1 86 527.7 85.8M542 98.4Q539.9 94.3 536.5 91.1M546.1 94.1Q542.2 90.8 537.3 89.5M539.1 86.9Q538.1 87.3 537.3 88M433.7 69.3Q433.4 70.5 434 71.6M426.7 73.9Q426.9 74 427.1 74.2M434 71.6Q431.2 74.5 427.1 74.2M440.3 93.3Q437.6 92.9 435.4 91.1M441.5 91.4Q442.2 89 441 86.7M441 86.7Q438.4 86.2 435.9 86.9M435.4 91.1Q436.2 89 435.9 86.9M458.8 74.4Q458 74.9 457 74.8M458.8 74.4Q459.1 70.5 459.7 66.6M457 74.8Q455.5 72.9 453.2 72.2M459.7 66.6Q459 65.5 457.7 65.3M453.2 72.2Q453.5 71 452.7 69.9M452.7 69.9Q455.1 67.8 456.7 65.1M457.7 65.3Q457.2 65.3 456.7 65.1M461.5 75.9Q460 75.5 458.8 74.4M454.5 79.1Q456.5 77.3 457 74.8M466.4 67.3Q463.1 66.3 459.7 66.6M462.7 57.5Q459.1 60.7 457.7 65.3M453.1 61.2Q455.8 62.3 456.7 65.1M445.8 68.3Q445.8 68.3 445.8 68.3M445.8 68.3Q446 68.5 446.1 68.6M446.1 68.6Q449.2 70.7 452.7 69.9M451.9 86.1Q450.7 86.5 450.1 87.6M458.2 87.1Q457.4 90.3 459.2 93.1M449.8 89.3Q449.9 88.5 450.1 87.6M465.5 89Q466.3 90.2 465.8 91.5M459.2 93.1Q462.8 93.6 465.8 91.5M420.2 55.5Q418.4 52.4 415.1 51M421.9 35.8Q421.9 36 422.1 36.1M428.7 38.9Q426.9 38.7 425.1 38M422.1 36.1Q423.3 37.5 425.1 38M465 22.9Q467.8 22.5 470.6 23.3M465 22.9Q463.1 20.9 462.3 18.4M470.6 23.3Q469.1 19.3 468.8 15.1M462.3 18.4Q463.6 16.8 464.3 14.9M464.3 14.9Q466.5 15.1 468.8 15.1M463.1 25.2Q463.9 24 465 22.9M470.9 23.4Q470.8 23.3 470.6 23.3M455.4 18.2Q458.9 16.7 462.3 18.4M471 13.4Q469.8 14.2 468.8 15.1M462.8 9.7Q464.3 12.1 464.3 14.9M503.7 72.5Q505 74.6 507 75.8M498.9 80Q501.2 80.8 503.5 81.3M503.5 81.3Q506.4 79.2 507 75.8M519.5 85.7Q520.7 83.7 520.1 81.5M520.1 81.5Q518.4 81 517.4 79.6M512.1 86.5Q511.9 86.1 511.5 86M517.4 79.6Q514.8 79.5 513 81.3M511.5 86Q511.5 83.4 513 81.3M504.4 69.2Q505.5 66.2 508.3 64.5M508.3 64.5Q509.7 65.4 511.2 66.3M507 75.8Q508.1 75.9 509.1 75.6M509.1 75.6Q511.2 74.7 512.2 72.7M511.2 66.3Q510.9 69.6 512.2 72.7M501.3 12Q504.4 16 505.9 20.9M501.3 12Q497.1 15.1 497 20.4M505.9 20.9Q501.9 22.1 497.7 21.7M497 20.4Q497.6 20.9 497.7 21.7M491.6 17.4Q494 19.3 497 20.4M507.8 10Q508.3 14.6 508.9 19.1M505.9 20.9Q506 20.9 506.1 21M506.1 21Q507.6 20.1 508.9 19.1M516.5 14.9Q519 14 520.7 12M516.5 14.9Q513.2 11.8 511.8 7.5M516.5 16.5Q516.5 15.7 516.5 14.9M516.5 16.5Q513.5 17 511.4 19.1M511.4 19.1Q510.2 18.7 508.9 19.1M543.5 15.2Q542.4 16 541.2 16.4M535.1 12.5Q536.1 13.3 536.8 14.3M541.2 16.4Q539 15.3 536.8 14.3M488.4 21.5Q489.7 25.1 493 27M497.7 21.7Q497.6 22.6 497.3 23.5M497.3 23.5Q495 25.1 493 27M490 31.1Q490.6 29.9 491.9 29.6M493 27Q492.9 28.5 491.9 29.6M490.4 42.9Q492.3 43.2 493.9 41.9M491.6 36.6Q493 36.9 493.8 38.1M493.9 41.9Q494.2 40 493.8 38.1M421.7 75.1Q422 77.5 420.6 79.4M415.3 77.8Q417.5 79.8 420.6 79.4M492.7 81.4Q491.2 81.6 489.9 82.2M496.5 81.9Q496.3 83.1 496.6 84.3M494.2 89.3Q494.8 86.6 496.6 84.3M494.2 89.3Q494 89.3 493.9 89.3M489.9 82.2Q490.7 86.4 493.9 89.3M493.9 97.6Q495.9 94.8 496.7 91.4M487.4 92.3Q487.4 91.9 487.6 91.6M496.7 91.4Q495.2 90.7 494.2 89.3M493.9 89.3Q490.9 90.8 487.6 91.6M477.9 80.7Q477.7 81.1 477.7 81.5M477.9 80.7Q479.8 79.1 482 78.1M477.7 81.5Q481.1 84.8 485.6 86.3M482 78.1Q484.5 79.1 487.1 78.7M487.1 78.7Q488 80.3 488.7 81.9M488.7 81.9Q487.3 84.2 485.6 86.3M473 74.4Q476.4 76.8 477.9 80.7M481.5 73.4Q481.5 75.8 482 78.1M489.7 73.2Q488.4 76 487.1 78.7M489.9 82.2Q489.2 82.3 488.7 81.9M485.5 87.4Q485.4 86.8 485.6 86.3M485.5 87.4Q487 89.3 487.6 91.6M472.5 85.5Q473.7 88.3 473.1 91.2M472.5 85.5Q475.2 85 476.8 82.9M476.8 82.9Q479.8 85.2 480.1 89M473.1 91.2Q475.1 91.8 476.3 93.5M480.1 89Q480.2 91.1 478.6 92.4M470.6 84.8Q471.7 84.7 472.5 85.5M468 93.6Q466.5 93 465.8 91.5M468 93.6Q470.1 91.4 473.1 91.2M477.7 81.5Q476.9 82 476.8 82.9M485.5 87.4Q482.8 88.1 480.1 89M441.8 76.5Q445.1 78.4 448.7 77.2M441.8 76.5Q442.4 79.1 441.1 81.4M441.1 81.4Q442.4 82.7 443 84.4M449 77.7Q448.9 77.4 448.7 77.2M449 77.7Q446.4 81.4 443.1 84.4M443 84.4Q443 84.4 443.1 84.4M448.7 77.2Q448.7 77.2 448.7 77.2M441 86.7Q442.1 85.6 443 84.4M433.5 81.4Q437.3 81.8 441.1 81.4M433.5 81.4Q433 82.5 432.8 83.7M435.9 86.9Q433.7 85.9 432.8 83.7M451.8 80.3Q449.8 79.6 449 77.7M453.2 72.2Q451.9 75.5 448.7 77.2M450.1 87.6Q447.1 84.9 443.1 84.4M446.1 68.6Q448.2 72.6 448.7 77.2M439.8 73.7Q441.5 70.2 445.1 68.7M439.8 73.7Q439 73.3 438.2 73.4M438.1 73.4Q438.2 73.4 438.2 73.4M438.1 73.4Q436.7 69.8 438.4 66.4M438.4 66.4Q441.4 68.7 445.1 68.7M445.8 68.3Q445.4 68.5 445.1 68.7M441.8 76.5Q441.1 74.9 439.8 73.7M433.5 81.4Q433.4 81.3 433.4 81.1M433.4 81.1Q435.9 77.3 438.2 73.4M434 71.6Q435.6 73.5 438.1 73.4M433.4 81.1Q430.8 77.5 427.3 74.8M427.3 74.8Q427.1 74.5 427.1 74.2M437.8 65.1Q438 65.8 438.4 66.4M426.8 94Q428.5 92.1 429.4 89.8M433.2 92.6Q431.4 91.1 429.4 89.8M435.4 91.1Q434.1 91.5 433.2 92.6M432.8 83.7Q430 83.9 428.4 86.2M428.4 86.2Q428.5 88.1 429.4 89.8M425.3 47.5Q424.8 47 424.5 46.5M425.3 47.5Q420.2 49.1 414.9 49M424.5 46.5Q421.5 45.9 419.7 43.3M419.7 43.3Q418.8 43.8 417.8 44.1M417.8 44.1Q415.1 45.8 414.9 49M425.6 47.7Q425.4 47.6 425.3 47.5M425.1 38Q423.2 42.1 424.5 46.5M422.1 36.1Q419.3 39.2 419.7 43.3M412.8 39Q414.3 42.5 417.8 44.1M504.1 82.8Q505.5 85.3 508.2 86.3M504.1 82.8Q503.3 85.6 500.6 86.7M508.2 86.3Q507.1 88.8 505.6 91.2M500.6 86.7Q499.5 88.9 499.5 91.4M505.6 91.2Q503.7 91.7 502.5 93.2M499.5 91.4Q501 92.3 502.5 93.2M503.5 81.3Q503.6 82.1 504.1 82.8M511.5 86Q509.9 86.8 508.2 86.3M513 81.3Q511 78.4 509.1 75.6M496.6 84.3Q498.8 85.3 500.6 86.7M512.3 95.2Q508.7 93.6 505.6 91.2M496.7 91.4Q498.1 91.5 499.5 91.4M517.4 79.6Q517 77 517.6 74.4M512.2 72.7Q514.2 73.8 516.4 73.4M517.6 74.4Q516.9 74 516.4 73.4M530.7 11.1Q531 16 531.5 21M536.8 14.3Q532.9 16.7 532.3 21.2M531.5 21Q531.9 21.1 532.3 21.2M498.6 61.4Q498.8 61.1 499.1 61.1M490.8 57.6Q494.4 55 498.5 53.3M498.5 53.3Q500.2 57.1 499.1 61.1M506.8 61.1Q507.7 62.7 508.3 64.5M506.8 61.1Q506.5 60.9 506.3 60.8M506.3 60.8Q502.7 61 499.1 61.1M532.7 35.3Q530.7 34.8 529 36.1M532.7 35.3Q534.1 33.2 533.6 30.6M523.3 31Q525.1 28.5 527.9 27.2M523.3 31Q524.4 31.7 524.8 32.9M533.6 30.6Q530.4 29.6 527.9 27.2M524.8 32.9Q527.7 33.5 529 36.1M541.2 16.4Q540.8 18.8 540 21M532.3 21.2Q534.6 21.7 535.9 23.7M540 21Q538.4 23 535.9 23.7M540 21Q542.3 21.5 543.2 23.6M533.6 30.6Q534.5 29.2 535.8 28.3M527.9 27.2Q527.6 24.6 527.2 22.1M527.2 22.1Q529.4 21.7 531.5 21M535.9 23.7Q536 26 535.8 28.3M543 32.8Q541.6 31.6 541.7 29.8M541.7 29.8Q541.9 29.6 542 29.4M542 29.4Q547.4 28.9 551.8 25.6M532.7 35.3Q535.5 36.3 536.4 39.1M536.4 39.1Q539.9 36.1 543 32.8M535.8 28.3Q538.9 28.3 541.7 29.8M543.2 23.6Q542 26.4 542 29.4M415.7 86.9Q416.7 86.1 417.3 85M415.7 86.9Q417.3 90.2 419.3 93.2M417.3 85Q419.3 83.2 422 83.7M419.3 93.2Q420.7 91.9 422.7 91.6M422.7 91.6Q423.6 88.4 425.6 85.7M422 83.7Q422.8 83.8 423.7 83.9M423.7 83.9Q425 84.4 425.6 85.7M415.1 78.8Q417.2 81.5 417.3 85M420.6 79.4Q422.2 81.2 422 83.7M426.8 94Q424.9 92.6 422.7 91.6M428.4 86.2Q426.9 86.6 425.6 85.7M427.3 74.8Q427.2 80 423.7 83.9M507 26.1Q510.7 25 514.4 25.5M507 26.1Q506.5 26.7 506.6 27.6M506.6 27.6Q508.6 30 511.2 31.8M514.4 25.5Q514.9 25.8 515.4 26M515.4 26Q513.2 28.3 513.6 31.4M511.2 31.8Q512.5 32 513.6 31.4M506.1 21Q506.8 23.5 507 26.1M511.4 19.1Q512.3 22.6 514.4 25.5M517.4 34.6Q515.1 33.5 513.6 31.4M517.4 34.6Q519.8 32.7 522.1 30.7M519.4 24.8Q521 27.7 522.1 30.7M519.4 24.8Q517.3 25.2 515.4 26M518.1 18.1Q521.4 18 523.6 15.5M518.1 18.1Q518.9 20.6 520.6 22.5M520.6 22.5Q523.3 22 526 21.5M526 21.5Q525.7 18.6 525.9 15.7M523.6 15.5Q524.8 15.1 525.9 15.7M516.5 16.5Q517.2 17.4 518.1 18.1M520.7 12Q522.3 13.6 523.6 15.5M519.4 24.8Q519.7 23.5 520.6 22.5M523.3 31Q522.8 30.8 522.1 30.7M527.2 22.1Q526.6 21.9 526 21.5M528.7 11.3Q526.2 12.8 525.9 15.7M509.2 35.2Q509.4 33 511.2 31.8M509.2 35.2Q510.9 38.9 514.7 40.1M517.4 34.6Q517.5 34.8 517.4 35M514.7 40.1Q514.9 36.9 517.4 35M524.8 32.9Q523.4 35.5 521.7 37.8M517.4 35Q519.7 36.1 521.7 37.8M529 36.1Q527.2 39 524.8 41.5M524.8 41.5Q524.6 41.5 524.3 41.7M521.7 37.8Q523.3 39.5 524.3 41.7M517.6 74.4Q520.6 75.1 523.2 73.6M516.4 73.4Q517.4 71.1 518.1 68.6M523.2 73.6Q523.9 71 523.6 68.4M523.6 68.4Q520.8 67.2 518.1 68.6M511.2 66.3Q513.4 65.5 515.7 64.8M518.1 68.6Q517.5 66.4 515.7 64.8M506.8 61.1Q510.9 60.8 513.9 57.9M513.9 57.9Q514.1 61.4 516 64.4M515.7 64.8Q515.9 64.7 516 64.4M544.4 52Q543.7 54.5 541.9 56.1M541.9 56.1Q542.1 57.4 541.6 58.7M541.6 58.7Q544.3 59.5 547 60.3M543.5 66.6Q541.4 63.8 539.7 60.7M539.7 60.7Q540.4 59.5 541.6 58.7M535.9 49.1Q539.1 49.5 542.3 49.9M535.9 49.1Q535 47.1 534.4 45.1M542.3 49.9Q541.4 44.5 537.5 40.8M534.4 45.1Q535.8 42.9 536.9 40.6M537.5 40.8Q537.2 40.7 536.9 40.6M535 52.2Q539.1 53 541.9 56.1M535 52.2Q535 50.5 535.9 49.1M545 41.9Q540.9 43.1 537.5 40.8M531.8 45.5Q529 42.3 524.8 41.5M531.8 45.5Q533.1 45.3 534.4 45.1M536.4 39.1Q536.5 39.9 536.9 40.6M520.1 81.5Q522.9 81.5 525.1 79.8M523.2 73.6Q523.5 73.9 523.9 74.2M523.9 74.2Q524.5 77 525.1 79.8M528.3 84.9Q527.1 83.2 527.2 81.1M525.1 79.8Q525.9 80.8 527.2 81.1M504.6 34.7Q502.8 36.9 502 39.7M504.6 34.7Q503.3 32.6 502.6 30.3M499 31.9Q500.7 31.6 501.6 30.2M499 31.9Q498.3 34.6 497.1 37.1M497.1 37.1Q498.9 39.6 502 39.7M501.6 30.2Q502.1 30 502.6 30.3M509.2 35.2Q509 35.5 508.7 35.5M508.7 35.5Q506.6 35.3 504.6 34.7M506.6 27.6Q504.3 28.6 502.6 30.3M497.3 23.5Q497.8 27.9 501.6 30.2M491.9 29.6Q495.4 30.9 499 31.9M493.8 38.1Q495.5 37.8 497.1 37.1M531.8 45.5Q530.1 47.2 528.6 48.9M531.7 55.3Q531.1 54.2 530 53.8M531.7 55.3Q533.2 53.6 535 52.2M528.6 48.9Q528.3 51.6 530 53.8M523.7 68.3Q522.9 65 521 62.1M523.7 68.3Q527.1 68.4 530 66.6M530 66.6Q530.3 63.5 531.8 60.8M521.2 61.7Q521.2 61.9 521 62.1M521.2 61.7Q524.9 61.3 528.5 60.3M528.5 60.3Q530.1 60.4 531.7 60.7M531.7 60.7Q531.8 60.8 531.8 60.8M523.6 68.4Q523.6 68.3 523.7 68.3M516 64.4Q518.4 62.9 521 62.1M513.9 57.9Q514.5 56.2 516 55.1M516 55.1Q517.6 54.9 519.2 55.4M519.2 55.4Q520.3 58.5 521.2 61.7M531.7 55.3Q531.4 58 531.7 60.7M522.3 53.5Q526.1 54.5 530 53.8M522.3 53.5Q526.1 56.3 528.5 60.3M539.7 60.7Q538.2 61.8 536.4 61.6M536.4 61.6Q534.1 61.2 531.8 60.8M536.4 61.6Q538.9 65.5 538 70M530 66.6Q530.8 67.7 531.2 69M538 70Q534.8 68.5 531.2 69M543.5 66.6Q541.7 69.2 538.9 70.8M538 70Q538.3 70.6 538.9 70.8M548.5 73.2Q543.7 72.4 539 71.3M539 71.3Q538.9 71.1 538.9 70.8M541.6 78.1Q540 76.8 537.9 76.3M539 71.3Q539.6 74 537.9 76.3M508.7 35.5Q508.1 38.7 507.2 41.8M514.7 40.1Q514.4 40.7 514.7 41.3M514.7 41.3Q514.1 41.7 513.7 42.3M507.2 41.8Q510.4 42.9 513.7 42.3M498.5 53.3Q498.7 52.5 498.8 51.7M506.3 60.8Q505.7 58.6 506.5 56.5M498.8 51.7Q503.2 53.1 506.5 56.5M516 55.1Q515 52.6 512.6 51.6M512.6 51.6Q510.3 52 508.1 52.9M506.5 56.5Q507.8 54.9 508.1 52.9M521.5 53.3Q520.2 50.5 518.4 48M521.5 53.3Q521.6 53.2 521.7 53.2M521.7 53.2Q524.2 51.5 524.4 48.4M518.4 48Q520.6 46 521.9 43.4M524.4 48.4Q523 46 522.9 43.3M522.9 43.3Q522.4 43.2 521.9 43.4M519.2 55.4Q520.3 54.3 521.5 53.3M512.6 51.6Q512.3 49.7 513.2 48M513.5 47.5Q513.3 47.7 513.2 48M513.5 47.5Q515.9 48.1 518.4 48M522.3 53.5Q522 53.5 521.7 53.2M528.6 48.9Q526.4 49.7 524.4 48.4M514.7 41.3Q518.3 42.3 521.9 43.4M513.7 42.3Q514.1 44.9 513.5 47.5M524.3 41.7Q523.4 42.2 522.9 43.3M529.3 73.2Q531.1 75.2 531.6 77.7M529.3 73.2Q529.9 71.6 531 70.3M531 70.3Q535.5 72.1 536.8 76.7M531.6 77.7Q533.7 78.1 535.7 77.7M535.7 77.7Q536.5 77.4 536.8 76.7M523.9 74.2Q526.8 74.8 529.3 73.2M527.2 81.1Q529.4 79.4 531.6 77.7M531.2 69Q531.3 69.7 531 70.3M537.9 76.3Q537.3 76.4 536.8 76.7M535.5 86.2Q535.3 81.9 535.7 77.7M504.9 46Q504.4 44.4 504.8 42.9M504.9 46Q504.5 47.2 504 48.3M504 48.3Q501.9 50.8 498.7 50.9M502.7 41.3Q503.4 42.5 504.8 42.9M502.7 41.3Q498.3 42.3 495.4 45.8M498.7 50.9Q497.2 49.2 495 48.5M495 48.5Q494.8 47.1 495.4 45.8M507.2 41.8Q506.1 42.6 504.8 42.9M513.2 48Q509.1 46.8 504.9 46M508.1 52.9Q507 49.8 504 48.3M498.8 51.7Q498.6 51.3 498.7 50.9M502 39.7Q502.2 40.5 502.7 41.3M493.9 41.9Q494.3 44 495.4 45.8M491.5 49.8Q493.6 50.1 495 48.5" stroke="#fff" stroke-width="2.2" fill="none" stroke-linecap="round"/></g>
<path d="M546.2 83.2Q543.6 81.8 541.9 79.3M543.1 86.3Q541.1 86.6 539.1 86.9M539.1 86.9Q542.3 83.7 541.9 79.3M548.8 74.4Q544.3 74.5 541.6 78.1M541.6 78.1Q541.9 78.7 541.9 79.3M442.8 37.7Q439.5 36.6 436.5 38.4M442.8 37.7Q445.1 40.5 444.6 44.1M444.6 44.1Q440.9 42.4 437 41.5M437 41.5Q436.3 40 436.5 38.4M449.1 36Q451 33.9 453.8 33.8M449.1 36Q448.7 39.5 449.6 42.8M453.8 33.8Q455 33.9 455.6 34.8M459.4 42.4Q457.9 38.4 455.6 34.8M459.4 42.4Q457.7 43 456.1 44M456.1 44Q453.2 41.8 449.6 42.8M442.8 37.7Q445.2 36.6 447.3 35.1M444.6 44.1Q444.8 44.5 445.2 44.6M445.2 44.6Q447.1 43.9 449 43.4M449.1 36Q448.4 35.3 447.3 35.1M449.6 42.8Q449.4 43.2 449 43.4M447 54.4Q441.5 56.5 436.2 54M447 54.4Q447 54.2 447 54.1M447 54.1Q445.2 51.4 443.2 48.9M443.2 48.9Q442.1 48.8 441 49.3M441 49.3Q437.9 50.9 436.2 54M436.2 54Q436.2 54 436.2 54M445.2 44.6Q443.5 46.4 443.2 48.9M450.5 51Q448.5 47.4 449 43.4M450.5 51Q449.1 53 447 54.1M437 41.5Q436.2 42.5 436.1 43.7M436.1 43.7Q438.1 46.9 441 49.3M436.1 43.7Q435.4 45.1 434 45.7M434 45.7Q434.7 49.7 435.3 53.8M435.3 53.8Q435.8 53.9 436.2 54M473 74.4Q471.9 74 470.8 73.9M473 74.4Q474.6 72.9 476.5 72M476.5 72Q477 69.1 475 67M470.8 73.9Q470.1 72.2 468.5 71.5M468.5 71.5Q468.3 71.3 468.3 71M475 67Q472.3 70.1 468.3 71M429.9 30.2Q430.2 29.5 430.6 28.8M429.9 30.2Q430.3 34.1 432.8 37.1M430.6 28.8Q433.2 28 435.8 28.7M435.8 28.7Q437.2 30.4 438.6 32M438.6 32Q437.9 35.2 436.2 38M432.8 37.1Q434.4 37.8 436.2 38M437.8 19.2Q435.8 20.1 433.9 19.1M437.8 19.2Q437.7 21.6 439.5 23.1M439.5 23.1Q438.7 24.1 437.6 24.7M437.6 24.7Q434.3 23.8 430.9 23M430.9 23Q432.1 20.8 433.9 19.1M429.3 23.9Q430.7 26.2 430.6 28.8M429.3 23.9Q430.3 23.8 430.9 23M435.8 28.7Q437.4 27 437.6 24.7M429.9 13.2Q429.2 16.8 426.1 18.8M425.2 10Q421.5 12.5 419.3 16.4M426.1 18.8Q422.5 18.2 419.3 16.4M429.3 23.9Q428 23.5 426.9 22.7M429.9 13.2Q432.8 15.6 433.9 19.1M426.1 18.8Q426.8 20.6 426.9 22.7M415.9 16.7Q416.1 16.8 416.3 16.9M419.3 16.4Q417.8 16.4 416.3 16.9M447.3 57.4Q447.5 55.8 447 54.4M447.3 57.4Q445.8 60.1 442.8 60.8M436.2 54Q437.6 57.7 440.1 60.6M442.8 60.8Q441.4 61.2 440.1 60.6M430.8 55.9Q431.3 55.4 431.6 54.9M430.8 55.9Q431.6 60 434.5 63M431.6 54.9Q433.3 53.7 435.3 53.8M440.1 60.6Q438.7 61.6 437.6 63M434.5 63Q436.1 63.6 437.6 63M458.9 54Q457.5 58.7 452.9 60.6M458.9 54Q457.8 51.7 455.4 51M454.7 51.1Q455 50.9 455.4 51M454.7 51.1Q453.4 55.5 450.6 59M450.6 59Q451.9 59.6 452.9 60.6M450.5 51Q452.6 50.2 454.7 51.1M456.1 44Q456.6 47.6 455.4 51M447.3 57.4Q449 58.1 450.6 59M460.2 54Q459.5 53.9 458.9 54M460.2 54Q460.7 53.7 460.9 53.1M459.4 42.4Q460 42.6 460.6 42.5M460.9 53.1Q461.3 49.4 462.2 45.7M460.6 42.5Q461 44.3 462.2 45.7M460.9 53.1Q466.2 53.4 470.4 50.2M470.4 50.2Q470.4 50 470.4 49.8M470.4 49.8Q470.2 49.6 470.2 49.3M462.2 45.7Q466.7 46.3 470.2 49.3M471.8 38.9Q474.4 38.6 476.4 36.9M471.8 38.9Q470.2 35.4 469.9 31.6M469.9 31.6Q470.4 30.8 471.3 30.4M471.3 30.4Q472 30.7 472.9 30.8M476.4 36.9Q474.9 33.7 472.9 30.8M484.9 24.4Q482.6 24.5 481.2 22.9M484.9 24.4Q484.8 27.5 486.5 30.1M486.5 30.1Q483.8 30.9 481.8 33M481.2 22.9Q480 23.2 478.9 22.7M478.9 22.7Q480.6 26.5 478.6 30.1M481.8 33Q480.3 31.4 478.6 30.1M486.7 47.7Q485.2 47.3 484.4 45.9M486.7 47.7Q486.9 48.3 487.4 48.6M487.4 48.6Q487.3 51.5 484.8 53.2M478.7 54.4Q478.4 50.4 480.3 46.9M478.7 54.4Q479.5 54.7 479.9 55.4M479.9 55.4Q482.3 54.1 484.8 53.2M484.4 45.9Q482.3 46.3 480.3 46.9M470.4 49.8Q474.8 48.9 477.9 45.6M470.8 40.8Q474.3 41.4 477.1 43.4M470.8 40.8Q470.3 40.9 470 41.3M470 41.3Q470.7 45.3 470.2 49.3M477.9 45.6Q477.5 44.5 477.1 43.4M474.2 62.6Q471.8 66.9 466.8 67.6M474.2 62.6Q475.1 62.8 476 63.2M475 67Q475.3 65.2 476.6 64M468.3 71Q466.9 69.6 466.8 67.6M476 63.2Q476.1 63.8 476.6 64M476.5 72Q477.7 70.7 479.5 70.8M479.5 70.8Q479.4 68.4 481.1 66.8M476.6 64Q478.9 65.4 481.1 66.8M480.4 57.1Q484 59.3 486.6 62.6M480.4 57.1Q478.7 60.5 476 63.2M481.1 66.8Q483.4 65.8 485.8 65M486.6 62.6Q485.7 63.7 485.8 65M479.5 70.8Q480.7 72 481.5 73.4M481.5 73.4Q485 72.2 488.7 71.4M488.7 71.4Q488.5 70.1 488.2 68.7M488.2 68.7Q486.2 67.4 485.8 65M494.6 73.8Q495.7 73.6 496.8 73.5M494.6 73.8Q495.1 78 492.7 81.4M492.7 81.4Q494.6 81.4 496.5 81.9M496.5 81.9Q497.9 81.2 498.9 80M498.9 80Q498 76.7 496.8 73.5M497.1 70.5Q496.9 71.8 497.2 73.1M497.1 70.5Q494.5 69.7 493.5 67.2M489.7 73.2Q489.3 72.3 488.7 71.4M489.7 73.2Q492.2 73 494.6 73.8M493.5 67.2Q490.7 67.5 488.2 68.7M497.2 73.1Q496.9 73.2 496.8 73.5M497.1 70.5Q497.2 67.8 499 65.9M503.7 72.5Q500.3 71.5 497.2 73.1M503.7 72.5Q504.7 71 504.4 69.2M499 65.9Q502.5 66.2 504.4 69.2M475.5 54.3Q473.1 53.4 471.1 51.7M475.5 54.3Q475.5 57.8 473.2 60.6M473.2 60.6Q471.9 59.3 470 59.3M470 59.3Q470.2 57.1 469.4 54.9M471.1 51.7Q470.6 53.5 469.4 54.9M478.7 54.4Q477.1 53.9 475.5 54.3M470.4 50.2Q470.4 51.1 471.1 51.7M480.3 46.9Q479.3 45.8 477.9 45.6M479.9 55.4Q480.5 56.2 480.4 57.1M474.2 62.6Q473.5 61.7 473.2 60.6M466.8 67.6Q466.7 67.4 466.4 67.3M466.4 67.3Q465.9 64.5 466.4 61.7M466.4 61.7Q468 60.2 470 59.3M466.4 61.7Q465.1 59.4 463.1 57.7M463.1 57.7Q466.2 56.2 469.4 54.9M460.2 54Q461 56.1 462.7 57.5M462.7 57.5Q462.9 57.6 463.1 57.7M519.5 85.7Q520.4 86.5 520.9 87.6M519.5 85.7Q515.9 86.5 512.1 86.5M512.1 86.5Q514 89.1 514.3 92.2M520.9 87.6Q520.4 90 520.3 92.5M414.4 29.9Q416.8 31.3 417.6 33.9M417.6 33.9Q418.3 33.7 419.1 33.8M419.1 33.8Q419.3 30 421.2 26.7M414.7 25.3Q415.8 23.6 417.8 22.9M417.8 22.9Q419.5 24.3 421.2 25.6M421.2 26.7Q421.3 26.2 421.2 25.6M415.2 35.4Q416.6 34.9 417.6 33.9M428.6 30.6Q425.3 27.8 421.2 26.7M428.6 30.6Q424.7 32.6 421.9 35.8M421.9 35.8Q420.1 35.3 419.1 33.8M416.3 16.9Q417.2 19.9 417.8 22.9M426.9 22.7Q423.4 23 421.2 25.6M428.6 30.6Q429.3 30.7 429.9 30.2M444.2 25.8Q446.8 25.1 449.4 26.1M444.2 25.8Q443.3 28.1 443.6 30.4M443.6 30.4Q445.3 31.3 446 33M446 33Q447.2 29.9 450 28.4M450 28.4Q449.3 27.3 449.4 26.1M454.2 22.9Q451.3 23.7 449.4 26.1M454.2 22.9Q454.1 21.6 454 20.2M454 20.2Q450.5 18.3 446.6 19.1M446.6 19.1Q445.9 22.2 443.4 24.3M443.4 24.3Q443.5 25.2 444.2 25.8M443.4 24.3Q441.4 23.9 439.5 23.1M438.6 32Q441.5 32.3 443.6 30.4M447.3 35.1Q446.4 34.2 446 33M436.5 38.4Q436.4 38.2 436.2 38M453.8 33.8Q453.5 32.8 454 31.9M454 31.9Q452.5 29.7 450 28.4M456.6 26.5Q454.2 28.7 454 31.9M456.6 26.5Q456.1 24.3 454.2 22.9M445.4 16.4Q445.8 15 446 13.5M445.4 16.4Q442.2 16.8 438.9 16.9M438.9 16.9Q438.2 13.7 437.3 10.7M446.6 19.1Q446.4 17.5 445.4 16.4M437.8 19.2Q438.9 18.3 438.9 16.9M455.4 18.2Q455.1 17.6 455.2 17M455.4 18.2Q454.2 18.9 454 20.2M455.2 17Q453.8 14.6 451.6 12.9M458.6 10.2Q457.3 13.8 455.2 17M485.8 9.5Q484.4 12.4 485.8 15.2M483.1 8.9Q480.8 12.2 478.1 15.1M485.8 15.2Q482 14.1 478.2 15.2M478.2 15.2Q478.1 15.2 478.1 15.1M475.6 12.3Q477.3 13.3 478.1 15.1M485.9 15.3Q483.2 18.9 481.2 22.9M485.9 15.3Q485.9 15.3 485.8 15.2M478.9 22.7Q478 21.9 477 21.3M477 21.3Q476.2 18 478.2 15.2M417.2 69.9Q417.5 72 416.4 73.8M417.2 69.9Q416.2 66.5 413 65M416.4 73.8Q415.7 74.3 415.1 74.9M447.5 98.3Q448.6 94.8 448.4 91.2M440.3 93.3Q441.1 92.4 441.5 91.4M441.5 91.4Q445 90.8 448.4 91.2M434.5 63Q432.6 63.7 431.2 65M437.6 63Q437.9 64 437.8 65.1M437.8 65.1Q435 66.5 433.7 69.3M433.7 69.3Q431.5 67.8 431.2 65M422.4 67.4Q419.9 69 417.2 69.9M422.4 67.4Q423.8 67.8 425.2 68.3M421.7 75.1Q418.8 75.6 416.4 73.8M421.7 75.1Q424.5 75.6 426.7 73.9M425.2 68.3Q424.6 71.5 426.7 73.9M420 63Q420.9 65.4 422.4 67.4M420 63Q423.7 61.9 427.4 61.1M427.4 61.1Q428.2 62.8 428.2 64.7M425.2 68.3Q426.6 66.4 428.2 64.7M427.4 61.1Q427.4 59.6 427.4 58.1M430.8 55.9Q429.5 57.7 427.4 58.1M428.2 64.7Q429.7 65 431.2 65M470.8 73.9Q468.2 77.3 467.6 81.6M468.5 71.5Q466.1 75.4 461.5 75.9M467.6 81.6Q464.9 80.5 462.2 81.9M461.5 75.9Q460.5 79.1 462.2 81.9M451.9 86.1Q454.9 87.8 458.2 87.1M451.9 86.1Q450.4 83.2 451.8 80.3M458.2 87.1Q459.6 86.3 460.7 85.1M460.7 85.1Q461.8 84 461.7 82.4M461.7 82.4Q458.8 79.4 454.5 79.1M451.8 80.3Q452.9 79.1 454.5 79.1M442.8 60.8Q443.9 64.7 445.8 68.3M452.9 60.6Q453 60.9 453.1 61.2M453.1 61.2Q448.7 64 445.8 68.3M448.4 91.2Q449.2 90.4 449.8 89.3M449.8 89.3Q454.1 91.4 456.2 95.7M460.7 85.1Q462.8 87.4 465.5 89M467.6 81.6Q468.6 83.7 470.6 84.8M461.7 82.4Q462 82.1 462.2 81.9M470.6 84.8Q468.9 87.9 465.5 89M420 63Q418.9 61.7 417.7 60.5M427.4 58.1Q424.5 55.3 420.5 55.4M420.5 55.4Q420.3 55.5 420.2 55.5M420.2 55.5Q419.4 58.2 417.7 60.5M417.7 60.5Q416.1 62.2 413.8 62.3M434 45.7Q431.5 46.7 429 45.8M432.8 37.1Q430.8 38.2 428.7 38.9M429 45.8Q430.3 42.3 428.7 38.9M431.6 54.9Q430.7 50.2 426.6 47.6M429 45.8Q427.5 46.3 426.6 47.6M420.5 55.4Q423.5 51.8 425.6 47.7M426.6 47.6Q426.1 47.4 425.6 47.7M471.3 30.4Q469.7 27 470.9 23.4M477 21.3Q475.7 21.8 474.2 22M472.9 30.8Q475.7 30.8 478.6 30.1M470.9 23.4Q472.5 22.6 474.2 22M474.2 22Q471.9 18 471 13.4M485.4 40.1Q484.6 41.4 484.7 42.9M485.4 40.1Q484.1 37.2 481.3 35.7M484.7 42.9Q481.8 40.8 478.2 40.8M481.3 35.7Q480 36.4 478.8 37.2M478.8 37.2Q478.7 39 478.2 40.8M486.7 47.7Q489.1 45.8 490.4 42.9M485.9 39.9Q487.9 41.7 490.4 42.9M485.9 39.9Q485.6 39.9 485.4 40.1M484.4 45.9Q485.3 44.5 484.7 42.9M477.1 43.4Q477 41.8 478.2 40.8M476.4 36.9Q477.6 36.7 478.8 37.2M481.8 33Q482 34.4 481.3 35.7M471.8 38.9Q470.9 39.6 470.8 40.8M459.8 33.5Q461.3 37.2 464.2 39.8M459.8 33.5Q460.4 32.7 461.2 32.1M461.2 32.1Q463.2 31.9 465.1 31.7M464.3 39.8Q464.2 39.8 464.2 39.8M464.3 39.8Q466.9 36.6 466.4 32.5M466.4 32.5Q465.6 32.3 465.1 31.7M455.6 34.8Q458 35 459.8 33.5M460.6 42.5Q462.7 41.5 464.2 39.8M456.6 26.5Q457.3 26.9 458 26.7M458 26.7Q459.8 29.3 461.2 32.1M458 26.7Q460.4 25.6 463.1 25.2M463.1 25.2Q463.7 28.6 465.1 31.7M470 41.3Q466.9 41.5 464.3 39.8M469.9 31.6Q468 31.5 466.4 32.5M485.9 15.3Q487.8 16.8 490.1 17.8M484.9 24.4Q486.8 23.1 488.4 21.5M488.4 21.5Q488.4 19.2 490.1 17.8M494.2 10.2Q491.8 13.4 491.6 17.4M491.6 17.4Q490.8 17.4 490.1 17.8M485.9 39.9Q488.7 38.2 491.6 36.6M486.5 30.1Q488 31.4 490 31.1M490 31.1Q489.9 34.1 491.6 36.6M493.5 67.2Q494.4 64.3 495.7 61.5M499 65.9Q498.2 63.7 498.6 61.4M498.6 61.4Q497.1 61.3 495.7 61.5M486.6 62.6Q487.8 60.4 490.2 59.8M495.7 61.5Q492.8 61.2 490.2 59.8M487.4 48.6Q489.3 49.6 491.5 49.8M484.8 53.2Q488.6 55.5 490.2 59.6M491.5 49.8Q491.5 53.7 490.8 57.6M490.8 57.6Q490.4 58.6 490.2 59.6M490.2 59.6Q490.1 59.7 490.2 59.8M528.3 84.9Q527.9 85.3 527.7 85.8M528.3 84.9Q531.7 86.4 535.5 86.2M527.7 85.8Q527.8 89.8 527.6 93.8M536.5 91.1Q537 90.4 537.3 89.5M536.5 91.1Q535.6 93.1 533.7 94.2M535.5 86.2Q536.7 86.8 537.3 88M537.3 88Q537.3 88.7 537.3 89.5M520.9 87.6Q524.1 86 527.7 85.8M542 98.4Q539.9 94.3 536.5 91.1M546.1 94.1Q542.2 90.8 537.3 89.5M539.1 86.9Q538.1 87.3 537.3 88M433.7 69.3Q433.4 70.5 434 71.6M426.7 73.9Q426.9 74 427.1 74.2M434 71.6Q431.2 74.5 427.1 74.2M440.3 93.3Q437.6 92.9 435.4 91.1M441.5 91.4Q442.2 89 441 86.7M441 86.7Q438.4 86.2 435.9 86.9M435.4 91.1Q436.2 89 435.9 86.9M458.8 74.4Q458 74.9 457 74.8M458.8 74.4Q459.1 70.5 459.7 66.6M457 74.8Q455.5 72.9 453.2 72.2M459.7 66.6Q459 65.5 457.7 65.3M453.2 72.2Q453.5 71 452.7 69.9M452.7 69.9Q455.1 67.8 456.7 65.1M457.7 65.3Q457.2 65.3 456.7 65.1M461.5 75.9Q460 75.5 458.8 74.4M454.5 79.1Q456.5 77.3 457 74.8M466.4 67.3Q463.1 66.3 459.7 66.6M462.7 57.5Q459.1 60.7 457.7 65.3M453.1 61.2Q455.8 62.3 456.7 65.1M445.8 68.3Q445.8 68.3 445.8 68.3M445.8 68.3Q446 68.5 446.1 68.6M446.1 68.6Q449.2 70.7 452.7 69.9M451.9 86.1Q450.7 86.5 450.1 87.6M458.2 87.1Q457.4 90.3 459.2 93.1M449.8 89.3Q449.9 88.5 450.1 87.6M465.5 89Q466.3 90.2 465.8 91.5M459.2 93.1Q462.8 93.6 465.8 91.5M420.2 55.5Q418.4 52.4 415.1 51M421.9 35.8Q421.9 36 422.1 36.1M428.7 38.9Q426.9 38.7 425.1 38M422.1 36.1Q423.3 37.5 425.1 38M465 22.9Q467.8 22.5 470.6 23.3M465 22.9Q463.1 20.9 462.3 18.4M470.6 23.3Q469.1 19.3 468.8 15.1M462.3 18.4Q463.6 16.8 464.3 14.9M464.3 14.9Q466.5 15.1 468.8 15.1M463.1 25.2Q463.9 24 465 22.9M470.9 23.4Q470.8 23.3 470.6 23.3M455.4 18.2Q458.9 16.7 462.3 18.4M471 13.4Q469.8 14.2 468.8 15.1M462.8 9.7Q464.3 12.1 464.3 14.9M503.7 72.5Q505 74.6 507 75.8M498.9 80Q501.2 80.8 503.5 81.3M503.5 81.3Q506.4 79.2 507 75.8M519.5 85.7Q520.7 83.7 520.1 81.5M520.1 81.5Q518.4 81 517.4 79.6M512.1 86.5Q511.9 86.1 511.5 86M517.4 79.6Q514.8 79.5 513 81.3M511.5 86Q511.5 83.4 513 81.3M504.4 69.2Q505.5 66.2 508.3 64.5M508.3 64.5Q509.7 65.4 511.2 66.3M507 75.8Q508.1 75.9 509.1 75.6M509.1 75.6Q511.2 74.7 512.2 72.7M511.2 66.3Q510.9 69.6 512.2 72.7M501.3 12Q504.4 16 505.9 20.9M501.3 12Q497.1 15.1 497 20.4M505.9 20.9Q501.9 22.1 497.7 21.7M497 20.4Q497.6 20.9 497.7 21.7M491.6 17.4Q494 19.3 497 20.4M507.8 10Q508.3 14.6 508.9 19.1M505.9 20.9Q506 20.9 506.1 21M506.1 21Q507.6 20.1 508.9 19.1M516.5 14.9Q519 14 520.7 12M516.5 14.9Q513.2 11.8 511.8 7.5M516.5 16.5Q516.5 15.7 516.5 14.9M516.5 16.5Q513.5 17 511.4 19.1M511.4 19.1Q510.2 18.7 508.9 19.1M543.5 15.2Q542.4 16 541.2 16.4M535.1 12.5Q536.1 13.3 536.8 14.3M541.2 16.4Q539 15.3 536.8 14.3M488.4 21.5Q489.7 25.1 493 27M497.7 21.7Q497.6 22.6 497.3 23.5M497.3 23.5Q495 25.1 493 27M490 31.1Q490.6 29.9 491.9 29.6M493 27Q492.9 28.5 491.9 29.6M490.4 42.9Q492.3 43.2 493.9 41.9M491.6 36.6Q493 36.9 493.8 38.1M493.9 41.9Q494.2 40 493.8 38.1M421.7 75.1Q422 77.5 420.6 79.4M415.3 77.8Q417.5 79.8 420.6 79.4M492.7 81.4Q491.2 81.6 489.9 82.2M496.5 81.9Q496.3 83.1 496.6 84.3M494.2 89.3Q494.8 86.6 496.6 84.3M494.2 89.3Q494 89.3 493.9 89.3M489.9 82.2Q490.7 86.4 493.9 89.3M493.9 97.6Q495.9 94.8 496.7 91.4M487.4 92.3Q487.4 91.9 487.6 91.6M496.7 91.4Q495.2 90.7 494.2 89.3M493.9 89.3Q490.9 90.8 487.6 91.6M477.9 80.7Q477.7 81.1 477.7 81.5M477.9 80.7Q479.8 79.1 482 78.1M477.7 81.5Q481.1 84.8 485.6 86.3M482 78.1Q484.5 79.1 487.1 78.7M487.1 78.7Q488 80.3 488.7 81.9M488.7 81.9Q487.3 84.2 485.6 86.3M473 74.4Q476.4 76.8 477.9 80.7M481.5 73.4Q481.5 75.8 482 78.1M489.7 73.2Q488.4 76 487.1 78.7M489.9 82.2Q489.2 82.3 488.7 81.9M485.5 87.4Q485.4 86.8 485.6 86.3M485.5 87.4Q487 89.3 487.6 91.6M472.5 85.5Q473.7 88.3 473.1 91.2M472.5 85.5Q475.2 85 476.8 82.9M476.8 82.9Q479.8 85.2 480.1 89M473.1 91.2Q475.1 91.8 476.3 93.5M480.1 89Q480.2 91.1 478.6 92.4M470.6 84.8Q471.7 84.7 472.5 85.5M468 93.6Q466.5 93 465.8 91.5M468 93.6Q470.1 91.4 473.1 91.2M477.7 81.5Q476.9 82 476.8 82.9M485.5 87.4Q482.8 88.1 480.1 89M441.8 76.5Q445.1 78.4 448.7 77.2M441.8 76.5Q442.4 79.1 441.1 81.4M441.1 81.4Q442.4 82.7 443 84.4M449 77.7Q448.9 77.4 448.7 77.2M449 77.7Q446.4 81.4 443.1 84.4M443 84.4Q443 84.4 443.1 84.4M448.7 77.2Q448.7 77.2 448.7 77.2M441 86.7Q442.1 85.6 443 84.4M433.5 81.4Q437.3 81.8 441.1 81.4M433.5 81.4Q433 82.5 432.8 83.7M435.9 86.9Q433.7 85.9 432.8 83.7M451.8 80.3Q449.8 79.6 449 77.7M453.2 72.2Q451.9 75.5 448.7 77.2M450.1 87.6Q447.1 84.9 443.1 84.4M446.1 68.6Q448.2 72.6 448.7 77.2M439.8 73.7Q441.5 70.2 445.1 68.7M439.8 73.7Q439 73.3 438.2 73.4M438.1 73.4Q438.2 73.4 438.2 73.4M438.1 73.4Q436.7 69.8 438.4 66.4M438.4 66.4Q441.4 68.7 445.1 68.7M445.8 68.3Q445.4 68.5 445.1 68.7M441.8 76.5Q441.1 74.9 439.8 73.7M433.5 81.4Q433.4 81.3 433.4 81.1M433.4 81.1Q435.9 77.3 438.2 73.4M434 71.6Q435.6 73.5 438.1 73.4M433.4 81.1Q430.8 77.5 427.3 74.8M427.3 74.8Q427.1 74.5 427.1 74.2M437.8 65.1Q438 65.8 438.4 66.4M426.8 94Q428.5 92.1 429.4 89.8M433.2 92.6Q431.4 91.1 429.4 89.8M435.4 91.1Q434.1 91.5 433.2 92.6M432.8 83.7Q430 83.9 428.4 86.2M428.4 86.2Q428.5 88.1 429.4 89.8M425.3 47.5Q424.8 47 424.5 46.5M425.3 47.5Q420.2 49.1 414.9 49M424.5 46.5Q421.5 45.9 419.7 43.3M419.7 43.3Q418.8 43.8 417.8 44.1M417.8 44.1Q415.1 45.8 414.9 49M425.6 47.7Q425.4 47.6 425.3 47.5M425.1 38Q423.2 42.1 424.5 46.5M422.1 36.1Q419.3 39.2 419.7 43.3M412.8 39Q414.3 42.5 417.8 44.1M504.1 82.8Q505.5 85.3 508.2 86.3M504.1 82.8Q503.3 85.6 500.6 86.7M508.2 86.3Q507.1 88.8 505.6 91.2M500.6 86.7Q499.5 88.9 499.5 91.4M505.6 91.2Q503.7 91.7 502.5 93.2M499.5 91.4Q501 92.3 502.5 93.2M503.5 81.3Q503.6 82.1 504.1 82.8M511.5 86Q509.9 86.8 508.2 86.3M513 81.3Q511 78.4 509.1 75.6M496.6 84.3Q498.8 85.3 500.6 86.7M512.3 95.2Q508.7 93.6 505.6 91.2M496.7 91.4Q498.1 91.5 499.5 91.4M517.4 79.6Q517 77 517.6 74.4M512.2 72.7Q514.2 73.8 516.4 73.4M517.6 74.4Q516.9 74 516.4 73.4M530.7 11.1Q531 16 531.5 21M536.8 14.3Q532.9 16.7 532.3 21.2M531.5 21Q531.9 21.1 532.3 21.2M498.6 61.4Q498.8 61.1 499.1 61.1M490.8 57.6Q494.4 55 498.5 53.3M498.5 53.3Q500.2 57.1 499.1 61.1M506.8 61.1Q507.7 62.7 508.3 64.5M506.8 61.1Q506.5 60.9 506.3 60.8M506.3 60.8Q502.7 61 499.1 61.1M532.7 35.3Q530.7 34.8 529 36.1M532.7 35.3Q534.1 33.2 533.6 30.6M523.3 31Q525.1 28.5 527.9 27.2M523.3 31Q524.4 31.7 524.8 32.9M533.6 30.6Q530.4 29.6 527.9 27.2M524.8 32.9Q527.7 33.5 529 36.1M541.2 16.4Q540.8 18.8 540 21M532.3 21.2Q534.6 21.7 535.9 23.7M540 21Q538.4 23 535.9 23.7M540 21Q542.3 21.5 543.2 23.6M533.6 30.6Q534.5 29.2 535.8 28.3M527.9 27.2Q527.6 24.6 527.2 22.1M527.2 22.1Q529.4 21.7 531.5 21M535.9 23.7Q536 26 535.8 28.3M543 32.8Q541.6 31.6 541.7 29.8M541.7 29.8Q541.9 29.6 542 29.4M542 29.4Q547.4 28.9 551.8 25.6M532.7 35.3Q535.5 36.3 536.4 39.1M536.4 39.1Q539.9 36.1 543 32.8M535.8 28.3Q538.9 28.3 541.7 29.8M543.2 23.6Q542 26.4 542 29.4M415.7 86.9Q416.7 86.1 417.3 85M415.7 86.9Q417.3 90.2 419.3 93.2M417.3 85Q419.3 83.2 422 83.7M419.3 93.2Q420.7 91.9 422.7 91.6M422.7 91.6Q423.6 88.4 425.6 85.7M422 83.7Q422.8 83.8 423.7 83.9M423.7 83.9Q425 84.4 425.6 85.7M415.1 78.8Q417.2 81.5 417.3 85M420.6 79.4Q422.2 81.2 422 83.7M426.8 94Q424.9 92.6 422.7 91.6M428.4 86.2Q426.9 86.6 425.6 85.7M427.3 74.8Q427.2 80 423.7 83.9M507 26.1Q510.7 25 514.4 25.5M507 26.1Q506.5 26.7 506.6 27.6M506.6 27.6Q508.6 30 511.2 31.8M514.4 25.5Q514.9 25.8 515.4 26M515.4 26Q513.2 28.3 513.6 31.4M511.2 31.8Q512.5 32 513.6 31.4M506.1 21Q506.8 23.5 507 26.1M511.4 19.1Q512.3 22.6 514.4 25.5M517.4 34.6Q515.1 33.5 513.6 31.4M517.4 34.6Q519.8 32.7 522.1 30.7M519.4 24.8Q521 27.7 522.1 30.7M519.4 24.8Q517.3 25.2 515.4 26M518.1 18.1Q521.4 18 523.6 15.5M518.1 18.1Q518.9 20.6 520.6 22.5M520.6 22.5Q523.3 22 526 21.5M526 21.5Q525.7 18.6 525.9 15.7M523.6 15.5Q524.8 15.1 525.9 15.7M516.5 16.5Q517.2 17.4 518.1 18.1M520.7 12Q522.3 13.6 523.6 15.5M519.4 24.8Q519.7 23.5 520.6 22.5M523.3 31Q522.8 30.8 522.1 30.7M527.2 22.1Q526.6 21.9 526 21.5M528.7 11.3Q526.2 12.8 525.9 15.7M509.2 35.2Q509.4 33 511.2 31.8M509.2 35.2Q510.9 38.9 514.7 40.1M517.4 34.6Q517.5 34.8 517.4 35M514.7 40.1Q514.9 36.9 517.4 35M524.8 32.9Q523.4 35.5 521.7 37.8M517.4 35Q519.7 36.1 521.7 37.8M529 36.1Q527.2 39 524.8 41.5M524.8 41.5Q524.6 41.5 524.3 41.7M521.7 37.8Q523.3 39.5 524.3 41.7M517.6 74.4Q520.6 75.1 523.2 73.6M516.4 73.4Q517.4 71.1 518.1 68.6M523.2 73.6Q523.9 71 523.6 68.4M523.6 68.4Q520.8 67.2 518.1 68.6M511.2 66.3Q513.4 65.5 515.7 64.8M518.1 68.6Q517.5 66.4 515.7 64.8M506.8 61.1Q510.9 60.8 513.9 57.9M513.9 57.9Q514.1 61.4 516 64.4M515.7 64.8Q515.9 64.7 516 64.4M544.4 52Q543.7 54.5 541.9 56.1M541.9 56.1Q542.1 57.4 541.6 58.7M541.6 58.7Q544.3 59.5 547 60.3M543.5 66.6Q541.4 63.8 539.7 60.7M539.7 60.7Q540.4 59.5 541.6 58.7M535.9 49.1Q539.1 49.5 542.3 49.9M535.9 49.1Q535 47.1 534.4 45.1M542.3 49.9Q541.4 44.5 537.5 40.8M534.4 45.1Q535.8 42.9 536.9 40.6M537.5 40.8Q537.2 40.7 536.9 40.6M535 52.2Q539.1 53 541.9 56.1M535 52.2Q535 50.5 535.9 49.1M545 41.9Q540.9 43.1 537.5 40.8M531.8 45.5Q529 42.3 524.8 41.5M531.8 45.5Q533.1 45.3 534.4 45.1M536.4 39.1Q536.5 39.9 536.9 40.6M520.1 81.5Q522.9 81.5 525.1 79.8M523.2 73.6Q523.5 73.9 523.9 74.2M523.9 74.2Q524.5 77 525.1 79.8M528.3 84.9Q527.1 83.2 527.2 81.1M525.1 79.8Q525.9 80.8 527.2 81.1M504.6 34.7Q502.8 36.9 502 39.7M504.6 34.7Q503.3 32.6 502.6 30.3M499 31.9Q500.7 31.6 501.6 30.2M499 31.9Q498.3 34.6 497.1 37.1M497.1 37.1Q498.9 39.6 502 39.7M501.6 30.2Q502.1 30 502.6 30.3M509.2 35.2Q509 35.5 508.7 35.5M508.7 35.5Q506.6 35.3 504.6 34.7M506.6 27.6Q504.3 28.6 502.6 30.3M497.3 23.5Q497.8 27.9 501.6 30.2M491.9 29.6Q495.4 30.9 499 31.9M493.8 38.1Q495.5 37.8 497.1 37.1M531.8 45.5Q530.1 47.2 528.6 48.9M531.7 55.3Q531.1 54.2 530 53.8M531.7 55.3Q533.2 53.6 535 52.2M528.6 48.9Q528.3 51.6 530 53.8M523.7 68.3Q522.9 65 521 62.1M523.7 68.3Q527.1 68.4 530 66.6M530 66.6Q530.3 63.5 531.8 60.8M521.2 61.7Q521.2 61.9 521 62.1M521.2 61.7Q524.9 61.3 528.5 60.3M528.5 60.3Q530.1 60.4 531.7 60.7M531.7 60.7Q531.8 60.8 531.8 60.8M523.6 68.4Q523.6 68.3 523.7 68.3M516 64.4Q518.4 62.9 521 62.1M513.9 57.9Q514.5 56.2 516 55.1M516 55.1Q517.6 54.9 519.2 55.4M519.2 55.4Q520.3 58.5 521.2 61.7M531.7 55.3Q531.4 58 531.7 60.7M522.3 53.5Q526.1 54.5 530 53.8M522.3 53.5Q526.1 56.3 528.5 60.3M539.7 60.7Q538.2 61.8 536.4 61.6M536.4 61.6Q534.1 61.2 531.8 60.8M536.4 61.6Q538.9 65.5 538 70M530 66.6Q530.8 67.7 531.2 69M538 70Q534.8 68.5 531.2 69M543.5 66.6Q541.7 69.2 538.9 70.8M538 70Q538.3 70.6 538.9 70.8M548.5 73.2Q543.7 72.4 539 71.3M539 71.3Q538.9 71.1 538.9 70.8M541.6 78.1Q540 76.8 537.9 76.3M539 71.3Q539.6 74 537.9 76.3M508.7 35.5Q508.1 38.7 507.2 41.8M514.7 40.1Q514.4 40.7 514.7 41.3M514.7 41.3Q514.1 41.7 513.7 42.3M507.2 41.8Q510.4 42.9 513.7 42.3M498.5 53.3Q498.7 52.5 498.8 51.7M506.3 60.8Q505.7 58.6 506.5 56.5M498.8 51.7Q503.2 53.1 506.5 56.5M516 55.1Q515 52.6 512.6 51.6M512.6 51.6Q510.3 52 508.1 52.9M506.5 56.5Q507.8 54.9 508.1 52.9M521.5 53.3Q520.2 50.5 518.4 48M521.5 53.3Q521.6 53.2 521.7 53.2M521.7 53.2Q524.2 51.5 524.4 48.4M518.4 48Q520.6 46 521.9 43.4M524.4 48.4Q523 46 522.9 43.3M522.9 43.3Q522.4 43.2 521.9 43.4M519.2 55.4Q520.3 54.3 521.5 53.3M512.6 51.6Q512.3 49.7 513.2 48M513.5 47.5Q513.3 47.7 513.2 48M513.5 47.5Q515.9 48.1 518.4 48M522.3 53.5Q522 53.5 521.7 53.2M528.6 48.9Q526.4 49.7 524.4 48.4M514.7 41.3Q518.3 42.3 521.9 43.4M513.7 42.3Q514.1 44.9 513.5 47.5M524.3 41.7Q523.4 42.2 522.9 43.3M529.3 73.2Q531.1 75.2 531.6 77.7M529.3 73.2Q529.9 71.6 531 70.3M531 70.3Q535.5 72.1 536.8 76.7M531.6 77.7Q533.7 78.1 535.7 77.7M535.7 77.7Q536.5 77.4 536.8 76.7M523.9 74.2Q526.8 74.8 529.3 73.2M527.2 81.1Q529.4 79.4 531.6 77.7M531.2 69Q531.3 69.7 531 70.3M537.9 76.3Q537.3 76.4 536.8 76.7M535.5 86.2Q535.3 81.9 535.7 77.7M504.9 46Q504.4 44.4 504.8 42.9M504.9 46Q504.5 47.2 504 48.3M504 48.3Q501.9 50.8 498.7 50.9M502.7 41.3Q503.4 42.5 504.8 42.9M502.7 41.3Q498.3 42.3 495.4 45.8M498.7 50.9Q497.2 49.2 495 48.5M495 48.5Q494.8 47.1 495.4 45.8M507.2 41.8Q506.1 42.6 504.8 42.9M513.2 48Q509.1 46.8 504.9 46M508.1 52.9Q507 49.8 504 48.3M498.8 51.7Q498.6 51.3 498.7 50.9M502 39.7Q502.2 40.5 502.7 41.3M493.9 41.9Q494.3 44 495.4 45.8M491.5 49.8Q493.6 50.1 495 48.5" stroke="#e4e4e4" stroke-width="1.0" opacity="0.6" fill="none" stroke-linecap="round"/>
</g>
</g>
<rect x="6.5" y="16.0" width="14.5" height="14.7" fill="#fff"/>
<text x="14" y="26.7" font-size="10.5" text-anchor="middle" font-family="Liberation Serif" fill="#222">(a)</text>
<rect x="143.5" y="16.2" width="14.8" height="14.8" fill="#fff"/>
<text x="151.15" y="27" font-size="10.5" text-anchor="middle" font-family="Liberation Serif" fill="#222">(b)</text>
<rect x="280.5" y="16.0" width="15.7" height="15" fill="#fff"/>
<text x="288.6" y="27" font-size="10.5" text-anchor="middle" font-family="Liberation Serif" fill="#222">(c)</text>
<rect x="417.3" y="16.0" width="15.6" height="14.7" fill="#fff"/>
<text x="425.35" y="26.7" font-size="10.5" text-anchor="middle" font-family="Liberation Serif" fill="#222">(d)</text>
<text x="119" y="80.4" font-size="4.6" text-anchor="middle" font-family="Liberation Sans" font-weight="bold" fill="#fff">0.5 µm</text>
<rect x="111.5" y="82.7" width="15" height="1.4" fill="#fff"/>
<text x="256" y="80.4" font-size="4.6" text-anchor="middle" font-family="Liberation Sans" font-weight="bold" fill="#fff">0.5 µm</text>
<rect x="248.5" y="82.7" width="15" height="1.4" fill="#fff"/>
<text x="393.8" y="80.3" font-size="4.6" text-anchor="middle" font-family="Liberation Sans" font-weight="bold" fill="#fff">0.5 µm</text>
<rect x="386.3" y="82.6" width="15" height="1.4" fill="#fff"/>
<text x="528" y="80.3" font-size="4.6" text-anchor="middle" font-family="Liberation Sans" font-weight="bold" fill="#fff">0.5 µm</text>
<rect x="520.5" y="82.6" width="15" height="1.4" fill="#fff"/>
<text x="15.3" y="128.3" font-size="10.5" text-anchor="middle" fill="#222" font-family="Liberation Serif" textLength="11.4" lengthAdjust="spacingAndGlyphs" >(e)</text>
<path clip-path="url(#eL)" d="M25.5,182.5 L26.5,182.5 L27.5,182.5 L28.5,182.5 L29.5,182.5 L30.5,182.5 L31.5,182.5 L32.5,182.5 L33.5,182.5 L34.5,182.5 L35.5,182.5 L36.5,182.5 L37.5,182.5 L38.5,182.5 L39.5,182.5 L40.5,182.5 L41.5,182.5 L42.5,182.5 L43.5,182.5 L44.5,182.5 L45.5,182.5 L46.5,182.5 L47.5,182.5 L48.5,182.5 L49.5,182.5 L50.5,182.5 L51.5,182.5 L52.5,182.5 L53.5,182.5 L54.5,182.5 L55.5,182.5 L56.5,182.5 L57.5,182.5 L58.5,182.5 L59.5,182.5 L60.5,182.5 L61.5,182.5 L62.5,182.5 L63.5,182.5 L64.5,182.49 L65.5,182.49 L66.5,182.49 L67.5,182.48 L68.5,182.47 L69.5,182.46 L70.5,182.44 L71.5,182.42 L72.5,182.38 L73.5,182.33 L74.5,182.26 L75.5,182.16 L76.5,182.02 L77.5,181.84 L78.5,181.59 L79.5,181.25 L80.5,180.82 L81.5,180.26 L82.5,179.56 L83.5,178.7 L84.5,177.66 L85.5,176.46 L86.5,175.08 L87.5,173.54 L88.5,171.89 L89.5,170.16 L90.5,168.42 L91.5,166.71 L92.5,165.12 L93.5,163.7 L94.5,162.51 L95.5,161.59 L96.5,160.97 L97.5,160.66 L98.5,160.63 L99.5,160.87 L100.5,161.35 L101.5,162.01 L102.5,162.82 L103.5,163.73 L104.5,164.7 L105.5,165.71 L106.5,166.74 L107.5,167.77 L108.5,168.79 L109.5,169.8 L110.5,170.79 L111.5,171.77 L112.5,172.72 L113.5,173.65 L114.5,174.53 L115.5,175.37 L116.5,176.14 L117.5,176.82 L118.5,177.39 L119.5,177.82 L120.5,178.07 L121.5,178.1 L122.5,177.87 L123.5,177.33 L124.5,176.46 L125.5,175.25 L126.5,173.73 L127.5,171.95 L128.5,170 L129.5,168.02 L130.5,166.17 L131.5,164.61 L132.5,163.48 L133.5,162.91 L134.5,162.95 L135.5,163.62 L136.5,164.85 L137.5,166.52 L138.5,168.51 L139.5,170.65 L140.5,172.78 L141.5,174.79 L142.5,176.58 L143.5,178.11 L144.5,179.34 L145.5,180.31 L146.5,181.02 L147.5,181.54 L148.5,181.9 L149.5,182.13 L150,182.5 L25.5,182.5 Z" fill="#fdf2f5"/>
<path clip-path="url(#eR)" d="M25.5,182.5 L26.5,182.5 L27.5,182.5 L28.5,182.5 L29.5,182.5 L30.5,182.5 L31.5,182.5 L32.5,182.5 L33.5,182.5 L34.5,182.5 L35.5,182.5 L36.5,182.5 L37.5,182.5 L38.5,182.5 L39.5,182.5 L40.5,182.5 L41.5,182.5 L42.5,182.5 L43.5,182.5 L44.5,182.5 L45.5,182.5 L46.5,182.5 L47.5,182.5 L48.5,182.5 L49.5,182.5 L50.5,182.5 L51.5,182.5 L52.5,182.5 L53.5,182.5 L54.5,182.5 L55.5,182.5 L56.5,182.5 L57.5,182.5 L58.5,182.5 L59.5,182.5 L60.5,182.5 L61.5,182.5 L62.5,182.5 L63.5,182.5 L64.5,182.49 L65.5,182.49 L66.5,182.49 L67.5,182.48 L68.5,182.47 L69.5,182.46 L70.5,182.44 L71.5,182.42 L72.5,182.38 L73.5,182.33 L74.5,182.26 L75.5,182.16 L76.5,182.02 L77.5,181.84 L78.5,181.59 L79.5,181.25 L80.5,180.82 L81.5,180.26 L82.5,179.56 L83.5,178.7 L84.5,177.66 L85.5,176.46 L86.5,175.08 L87.5,173.54 L88.5,171.89 L89.5,170.16 L90.5,168.42 L91.5,166.71 L92.5,165.12 L93.5,163.7 L94.5,162.51 L95.5,161.59 L96.5,160.97 L97.5,160.66 L98.5,160.63 L99.5,160.87 L100.5,161.35 L101.5,162.01 L102.5,162.82 L103.5,163.73 L104.5,164.7 L105.5,165.71 L106.5,166.74 L107.5,167.77 L108.5,168.79 L109.5,169.8 L110.5,170.79 L111.5,171.77 L112.5,172.72 L113.5,173.65 L114.5,174.53 L115.5,175.37 L116.5,176.14 L117.5,176.82 L118.5,177.39 L119.5,177.82 L120.5,178.07 L121.5,178.1 L122.5,177.87 L123.5,177.33 L124.5,176.46 L125.5,175.25 L126.5,173.73 L127.5,171.95 L128.5,170 L129.5,168.02 L130.5,166.17 L131.5,164.61 L132.5,163.48 L133.5,162.91 L134.5,162.95 L135.5,163.62 L136.5,164.85 L137.5,166.52 L138.5,168.51 L139.5,170.65 L140.5,172.78 L141.5,174.79 L142.5,176.58 L143.5,178.11 L144.5,179.34 L145.5,180.31 L146.5,181.02 L147.5,181.54 L148.5,181.9 L149.5,182.13 L150,182.5 L25.5,182.5 Z" fill="#f2faf7"/>
<path clip-path="url(#eL)" d="M25.5,215.7 L26.5,215.7 L27.5,215.7 L28.5,215.7 L29.5,215.7 L30.5,215.7 L31.5,215.7 L32.5,215.7 L33.5,215.7 L34.5,215.7 L35.5,215.7 L36.5,215.7 L37.5,215.7 L38.5,215.7 L39.5,215.7 L40.5,215.7 L41.5,215.7 L42.5,215.7 L43.5,215.7 L44.5,215.7 L45.5,215.7 L46.5,215.7 L47.5,215.7 L48.5,215.7 L49.5,215.7 L50.5,215.7 L51.5,215.7 L52.5,215.7 L53.5,215.7 L54.5,215.7 L55.5,215.7 L56.5,215.7 L57.5,215.7 L58.5,215.7 L59.5,215.7 L60.5,215.7 L61.5,215.7 L62.5,215.7 L63.5,215.7 L64.5,215.7 L65.5,215.69 L66.5,215.69 L67.5,215.68 L68.5,215.67 L69.5,215.65 L70.5,215.63 L71.5,215.6 L72.5,215.54 L73.5,215.47 L74.5,215.37 L75.5,215.22 L76.5,215.02 L77.5,214.75 L78.5,214.4 L79.5,213.95 L80.5,213.37 L81.5,212.66 L82.5,211.79 L83.5,210.75 L84.5,209.54 L85.5,208.17 L86.5,206.63 L87.5,204.95 L88.5,203.17 L89.5,201.33 L90.5,199.46 L91.5,197.62 L92.5,195.86 L93.5,194.22 L94.5,192.76 L95.5,191.51 L96.5,190.49 L97.5,189.72 L98.5,189.21 L99.5,188.94 L100.5,188.93 L101.5,189.14 L102.5,189.56 L103.5,190.18 L104.5,190.98 L105.5,191.92 L106.5,193.01 L107.5,194.21 L108.5,195.5 L109.5,196.87 L110.5,198.29 L111.5,199.74 L112.5,201.19 L113.5,202.62 L114.5,204.01 L115.5,205.32 L116.5,206.54 L117.5,207.65 L118.5,208.62 L119.5,209.45 L120.5,210.12 L121.5,210.63 L122.5,210.97 L123.5,211.15 L124.5,211.18 L125.5,211.07 L126.5,210.84 L127.5,210.53 L128.5,210.16 L129.5,209.76 L130.5,209.37 L131.5,209.04 L132.5,208.77 L133.5,208.62 L134.5,208.58 L135.5,208.67 L136.5,208.89 L137.5,209.23 L138.5,209.68 L139.5,210.2 L140.5,210.78 L141.5,211.38 L142.5,211.99 L143.5,212.58 L144.5,213.12 L145.5,213.62 L146.5,214.05 L147.5,214.42 L148.5,214.72 L149.5,214.97 L150,215.7 L25.5,215.7 Z" fill="#fdf2f5"/>
<path clip-path="url(#eR)" d="M25.5,215.7 L26.5,215.7 L27.5,215.7 L28.5,215.7 L29.5,215.7 L30.5,215.7 L31.5,215.7 L32.5,215.7 L33.5,215.7 L34.5,215.7 L35.5,215.7 L36.5,215.7 L37.5,215.7 L38.5,215.7 L39.5,215.7 L40.5,215.7 L41.5,215.7 L42.5,215.7 L43.5,215.7 L44.5,215.7 L45.5,215.7 L46.5,215.7 L47.5,215.7 L48.5,215.7 L49.5,215.7 L50.5,215.7 L51.5,215.7 L52.5,215.7 L53.5,215.7 L54.5,215.7 L55.5,215.7 L56.5,215.7 L57.5,215.7 L58.5,215.7 L59.5,215.7 L60.5,215.7 L61.5,215.7 L62.5,215.7 L63.5,215.7 L64.5,215.7 L65.5,215.69 L66.5,215.69 L67.5,215.68 L68.5,215.67 L69.5,215.65 L70.5,215.63 L71.5,215.6 L72.5,215.54 L73.5,215.47 L74.5,215.37 L75.5,215.22 L76.5,215.02 L77.5,214.75 L78.5,214.4 L79.5,213.95 L80.5,213.37 L81.5,212.66 L82.5,211.79 L83.5,210.75 L84.5,209.54 L85.5,208.17 L86.5,206.63 L87.5,204.95 L88.5,203.17 L89.5,201.33 L90.5,199.46 L91.5,197.62 L92.5,195.86 L93.5,194.22 L94.5,192.76 L95.5,191.51 L96.5,190.49 L97.5,189.72 L98.5,189.21 L99.5,188.94 L100.5,188.93 L101.5,189.14 L102.5,189.56 L103.5,190.18 L104.5,190.98 L105.5,191.92 L106.5,193.01 L107.5,194.21 L108.5,195.5 L109.5,196.87 L110.5,198.29 L111.5,199.74 L112.5,201.19 L113.5,202.62 L114.5,204.01 L115.5,205.32 L116.5,206.54 L117.5,207.65 L118.5,208.62 L119.5,209.45 L120.5,210.12 L121.5,210.63 L122.5,210.97 L123.5,211.15 L124.5,211.18 L125.5,211.07 L126.5,210.84 L127.5,210.53 L128.5,210.16 L129.5,209.76 L130.5,209.37 L131.5,209.04 L132.5,208.77 L133.5,208.62 L134.5,208.58 L135.5,208.67 L136.5,208.89 L137.5,209.23 L138.5,209.68 L139.5,210.2 L140.5,210.78 L141.5,211.38 L142.5,211.99 L143.5,212.58 L144.5,213.12 L145.5,213.62 L146.5,214.05 L147.5,214.42 L148.5,214.72 L149.5,214.97 L150,215.7 L25.5,215.7 Z" fill="#f2faf7"/>
<path clip-path="url(#eL)" d="M25.5,243.5 L26.5,243.5 L27.5,243.5 L28.5,243.5 L29.5,243.5 L30.5,243.5 L31.5,243.5 L32.5,243.5 L33.5,243.5 L34.5,243.5 L35.5,243.5 L36.5,243.5 L37.5,243.5 L38.5,243.5 L39.5,243.5 L40.5,243.5 L41.5,243.5 L42.5,243.5 L43.5,243.5 L44.5,243.5 L45.5,243.5 L46.5,243.5 L47.5,243.5 L48.5,243.5 L49.5,243.5 L50.5,243.5 L51.5,243.49 L52.5,243.49 L53.5,243.49 L54.5,243.49 L55.5,243.48 L56.5,243.47 L57.5,243.47 L58.5,243.46 L59.5,243.45 L60.5,243.43 L61.5,243.42 L62.5,243.4 L63.5,243.37 L64.5,243.34 L65.5,243.31 L66.5,243.27 L67.5,243.22 L68.5,243.16 L69.5,243.1 L70.5,243.02 L71.5,242.94 L72.5,242.85 L73.5,242.74 L74.5,242.63 L75.5,242.49 L76.5,242.35 L77.5,242.18 L78.5,241.99 L79.5,241.78 L80.5,241.55 L81.5,241.27 L82.5,240.96 L83.5,240.6 L84.5,240.18 L85.5,239.69 L86.5,239.12 L87.5,238.47 L88.5,237.71 L89.5,236.85 L90.5,235.87 L91.5,234.77 L92.5,233.56 L93.5,232.24 L94.5,230.84 L95.5,229.37 L96.5,227.87 L97.5,226.37 L98.5,224.92 L99.5,223.55 L100.5,222.33 L101.5,221.28 L102.5,220.47 L103.5,219.91 L104.5,219.64 L105.5,219.67 L106.5,220 L107.5,220.63 L108.5,221.52 L109.5,222.66 L110.5,224 L111.5,225.49 L112.5,227.08 L113.5,228.71 L114.5,230.35 L115.5,231.94 L116.5,233.44 L117.5,234.81 L118.5,236.04 L119.5,237.11 L120.5,238 L121.5,238.72 L122.5,239.28 L123.5,239.7 L124.5,239.99 L125.5,240.18 L126.5,240.31 L127.5,240.4 L128.5,240.49 L129.5,240.58 L130.5,240.7 L131.5,240.86 L132.5,241.06 L133.5,241.29 L134.5,241.54 L135.5,241.81 L136.5,242.08 L137.5,242.33 L138.5,242.57 L139.5,242.78 L140.5,242.95 L141.5,243.1 L142.5,243.21 L143.5,243.3 L144.5,243.36 L145.5,243.41 L146.5,243.44 L147.5,243.46 L148.5,243.48 L149.5,243.49 L150,243.5 L25.5,243.5 Z" fill="#fdf2f5"/>
<path clip-path="url(#eR)" d="M25.5,243.5 L26.5,243.5 L27.5,243.5 L28.5,243.5 L29.5,243.5 L30.5,243.5 L31.5,243.5 L32.5,243.5 L33.5,243.5 L34.5,243.5 L35.5,243.5 L36.5,243.5 L37.5,243.5 L38.5,243.5 L39.5,243.5 L40.5,243.5 L41.5,243.5 L42.5,243.5 L43.5,243.5 L44.5,243.5 L45.5,243.5 L46.5,243.5 L47.5,243.5 L48.5,243.5 L49.5,243.5 L50.5,243.5 L51.5,243.49 L52.5,243.49 L53.5,243.49 L54.5,243.49 L55.5,243.48 L56.5,243.47 L57.5,243.47 L58.5,243.46 L59.5,243.45 L60.5,243.43 L61.5,243.42 L62.5,243.4 L63.5,243.37 L64.5,243.34 L65.5,243.31 L66.5,243.27 L67.5,243.22 L68.5,243.16 L69.5,243.1 L70.5,243.02 L71.5,242.94 L72.5,242.85 L73.5,242.74 L74.5,242.63 L75.5,242.49 L76.5,242.35 L77.5,242.18 L78.5,241.99 L79.5,241.78 L80.5,241.55 L81.5,241.27 L82.5,240.96 L83.5,240.6 L84.5,240.18 L85.5,239.69 L86.5,239.12 L87.5,238.47 L88.5,237.71 L89.5,236.85 L90.5,235.87 L91.5,234.77 L92.5,233.56 L93.5,232.24 L94.5,230.84 L95.5,229.37 L96.5,227.87 L97.5,226.37 L98.5,224.92 L99.5,223.55 L100.5,222.33 L101.5,221.28 L102.5,220.47 L103.5,219.91 L104.5,219.64 L105.5,219.67 L106.5,220 L107.5,220.63 L108.5,221.52 L109.5,222.66 L110.5,224 L111.5,225.49 L112.5,227.08 L113.5,228.71 L114.5,230.35 L115.5,231.94 L116.5,233.44 L117.5,234.81 L118.5,236.04 L119.5,237.11 L120.5,238 L121.5,238.72 L122.5,239.28 L123.5,239.7 L124.5,239.99 L125.5,240.18 L126.5,240.31 L127.5,240.4 L128.5,240.49 L129.5,240.58 L130.5,240.7 L131.5,240.86 L132.5,241.06 L133.5,241.29 L134.5,241.54 L135.5,241.81 L136.5,242.08 L137.5,242.33 L138.5,242.57 L139.5,242.78 L140.5,242.95 L141.5,243.1 L142.5,243.21 L143.5,243.3 L144.5,243.36 L145.5,243.41 L146.5,243.44 L147.5,243.46 L148.5,243.48 L149.5,243.49 L150,243.5 L25.5,243.5 Z" fill="#fdf2f5"/>
<path clip-path="url(#eL)" d="M25.5,276 L26.5,276 L27.5,276 L28.5,276 L29.5,276 L30.5,276 L31.5,276 L32.5,276 L33.5,276 L34.5,276 L35.5,276 L36.5,276 L37.5,276 L38.5,276 L39.5,276 L40.5,276 L41.5,276 L42.5,276 L43.5,276 L44.5,276 L45.5,276 L46.5,276 L47.5,276 L48.5,276 L49.5,276 L50.5,276 L51.5,276 L52.5,276 L53.5,276 L54.5,276 L55.5,276 L56.5,276 L57.5,276 L58.5,276 L59.5,276 L60.5,276 L61.5,276 L62.5,276 L63.5,276 L64.5,276 L65.5,276 L66.5,276 L67.5,276 L68.5,276 L69.5,275.99 L70.5,275.99 L71.5,275.98 L72.5,275.98 L73.5,275.97 L74.5,275.95 L75.5,275.93 L76.5,275.9 L77.5,275.86 L78.5,275.81 L79.5,275.75 L80.5,275.66 L81.5,275.54 L82.5,275.4 L83.5,275.21 L84.5,274.97 L85.5,274.68 L86.5,274.32 L87.5,273.87 L88.5,273.33 L89.5,272.68 L90.5,271.92 L91.5,271.03 L92.5,269.99 L93.5,268.82 L94.5,267.52 L95.5,266.08 L96.5,264.52 L97.5,262.88 L98.5,261.17 L99.5,259.45 L100.5,257.75 L101.5,256.12 L102.5,254.62 L103.5,253.3 L104.5,252.21 L105.5,251.39 L106.5,250.88 L107.5,250.69 L108.5,250.84 L109.5,251.31 L110.5,252.09 L111.5,253.13 L112.5,254.4 L113.5,255.85 L114.5,257.4 L115.5,259.01 L116.5,260.62 L117.5,262.17 L118.5,263.63 L119.5,264.96 L120.5,266.16 L121.5,267.21 L122.5,268.13 L123.5,268.93 L124.5,269.63 L125.5,270.26 L126.5,270.83 L127.5,271.37 L128.5,271.89 L129.5,272.4 L130.5,272.89 L131.5,273.35 L132.5,273.8 L133.5,274.2 L134.5,274.57 L135.5,274.88 L136.5,275.15 L137.5,275.37 L138.5,275.55 L139.5,275.68 L140.5,275.78 L141.5,275.85 L142.5,275.9 L143.5,275.94 L144.5,275.96 L145.5,275.98 L146.5,275.99 L147.5,275.99 L148.5,276 L149.5,276 L150,276 L25.5,276 Z" fill="#fdf2f5"/>
<path clip-path="url(#eR)" d="M25.5,276 L26.5,276 L27.5,276 L28.5,276 L29.5,276 L30.5,276 L31.5,276 L32.5,276 L33.5,276 L34.5,276 L35.5,276 L36.5,276 L37.5,276 L38.5,276 L39.5,276 L40.5,276 L41.5,276 L42.5,276 L43.5,276 L44.5,276 L45.5,276 L46.5,276 L47.5,276 L48.5,276 L49.5,276 L50.5,276 L51.5,276 L52.5,276 L53.5,276 L54.5,276 L55.5,276 L56.5,276 L57.5,276 L58.5,276 L59.5,276 L60.5,276 L61.5,276 L62.5,276 L63.5,276 L64.5,276 L65.5,276 L66.5,276 L67.5,276 L68.5,276 L69.5,275.99 L70.5,275.99 L71.5,275.98 L72.5,275.98 L73.5,275.97 L74.5,275.95 L75.5,275.93 L76.5,275.9 L77.5,275.86 L78.5,275.81 L79.5,275.75 L80.5,275.66 L81.5,275.54 L82.5,275.4 L83.5,275.21 L84.5,274.97 L85.5,274.68 L86.5,274.32 L87.5,273.87 L88.5,273.33 L89.5,272.68 L90.5,271.92 L91.5,271.03 L92.5,269.99 L93.5,268.82 L94.5,267.52 L95.5,266.08 L96.5,264.52 L97.5,262.88 L98.5,261.17 L99.5,259.45 L100.5,257.75 L101.5,256.12 L102.5,254.62 L103.5,253.3 L104.5,252.21 L105.5,251.39 L106.5,250.88 L107.5,250.69 L108.5,250.84 L109.5,251.31 L110.5,252.09 L111.5,253.13 L112.5,254.4 L113.5,255.85 L114.5,257.4 L115.5,259.01 L116.5,260.62 L117.5,262.17 L118.5,263.63 L119.5,264.96 L120.5,266.16 L121.5,267.21 L122.5,268.13 L123.5,268.93 L124.5,269.63 L125.5,270.26 L126.5,270.83 L127.5,271.37 L128.5,271.89 L129.5,272.4 L130.5,272.89 L131.5,273.35 L132.5,273.8 L133.5,274.2 L134.5,274.57 L135.5,274.88 L136.5,275.15 L137.5,275.37 L138.5,275.55 L139.5,275.68 L140.5,275.78 L141.5,275.85 L142.5,275.9 L143.5,275.94 L144.5,275.96 L145.5,275.98 L146.5,275.99 L147.5,275.99 L148.5,276 L149.5,276 L150,276 L25.5,276 Z" fill="#fdf2f5"/>
<line x1="25" y1="183.2" x2="151" y2="183.2" stroke="#5d6a86" stroke-width="0.9"/>
<line x1="25" y1="216.8" x2="151" y2="216.8" stroke="#5d6a86" stroke-width="0.9"/>
<line x1="25" y1="246.5" x2="151" y2="246.5" stroke="#5d6a86" stroke-width="0.9"/>
<line x1="25" y1="278.9" x2="151" y2="278.9" stroke="#5d6a86" stroke-width="0.9"/>
<path d="M69.5,182.5 L70,182.49 L70.5,182.49 L71,182.49 L71.5,182.49 L72,182.48 L72.5,182.48 L73,182.47 L73.5,182.46 L74,182.45 L74.5,182.43 L75,182.42 L75.5,182.39 L76,182.37 L76.5,182.33 L77,182.29 L77.5,182.24 L78,182.18 L78.5,182.11 L79,182.02 L79.5,181.92 L80,181.81 L80.5,181.67 L81,181.51 L81.5,181.33 L82,181.13 L82.5,180.9 L83,180.64 L83.5,180.35 L84,180.03 L84.5,179.68 L85,179.3 L85.5,178.89 L86,178.46 L86.5,178 L87,177.51 L87.5,177.01 L88,176.48 L88.5,175.95 L89,175.42 L89.5,174.88 L90,174.36 L90.5,173.84 L91,173.35 L91.5,172.89 L92,172.47 L92.5,172.09 L93,171.76 L93.5,171.48 L94,171.26 L94.5,171.11 L95,171.02 L95.5,171 L96,171.05 L96.5,171.16 L97,171.34 L97.5,171.58 L98,171.88 L98.5,172.24 L99,172.64 L99.5,173.07 L100,173.55 L100.5,174.05 L101,174.57 L101.5,175.1 L102,175.63 L102.5,176.17 L103,176.69 L103.5,177.21 L104,177.71 L104.5,178.18 L105,178.64 L105.5,179.06 L106,179.46 L106.5,179.82 L107,180.16 L107.5,180.47 L108,180.74 L108.5,180.99 L109,181.21 L109.5,181.41 L110,181.58 L110.5,181.73 L111,181.85 L111.5,181.96 L112,182.06 L112.5,182.14 L113,182.21 L113.5,182.26 L114,182.31 L114.5,182.35 L115,182.38 L115.5,182.4 L116,182.42 L116.5,182.44 L117,182.45 L117.5,182.46 L118,182.47 L118.5,182.48 L119,182.48 L119.5,182.49 L120,182.49 L120.5,182.49 L121,182.5" fill="none" stroke="#4c46d0" stroke-width="1.1"/>
<path d="M64.5,182.49 L65,182.49 L65.5,182.49 L66,182.49 L66.5,182.49 L67,182.49 L67.5,182.48 L68,182.48 L68.5,182.48 L69,182.47 L69.5,182.46 L70,182.46 L70.5,182.45 L71,182.44 L71.5,182.43 L72,182.42 L72.5,182.41 L73,182.39 L73.5,182.37 L74,182.35 L74.5,182.33 L75,182.3 L75.5,182.27 L76,182.23 L76.5,182.19 L77,182.15 L77.5,182.1 L78,182.04 L78.5,181.98 L79,181.91 L79.5,181.83 L80,181.74 L80.5,181.65 L81,181.54 L81.5,181.43 L82,181.3 L82.5,181.16 L83,181.01 L83.5,180.85 L84,180.67 L84.5,180.48 L85,180.28 L85.5,180.06 L86,179.83 L86.5,179.58 L87,179.32 L87.5,179.04 L88,178.75 L88.5,178.44 L89,178.12 L89.5,177.78 L90,177.43 L90.5,177.07 L91,176.7 L91.5,176.32 L92,175.93 L92.5,175.53 L93,175.13 L93.5,174.72 L94,174.31 L94.5,173.9 L95,173.5 L95.5,173.09 L96,172.7 L96.5,172.31 L97,171.93 L97.5,171.57 L98,171.22 L98.5,170.89 L99,170.59 L99.5,170.3 L100,170.04 L100.5,169.8 L101,169.59 L101.5,169.42 L102,169.27 L102.5,169.15 L103,169.07 L103.5,169.02 L104,169 L104.5,169.02 L105,169.07 L105.5,169.15 L106,169.27 L106.5,169.42 L107,169.59 L107.5,169.8 L108,170.04 L108.5,170.3 L109,170.59 L109.5,170.89 L110,171.22 L110.5,171.57 L111,171.93 L111.5,172.31 L112,172.7 L112.5,173.09 L113,173.5 L113.5,173.9 L114,174.31 L114.5,174.72 L115,175.13 L115.5,175.53 L116,175.93 L116.5,176.32 L117,176.7 L117.5,177.07 L118,177.43 L118.5,177.78 L119,178.12 L119.5,178.44 L120,178.75 L120.5,179.04 L121,179.32 L121.5,179.58 L122,179.83 L122.5,180.06 L123,180.28 L123.5,180.48 L124,180.67 L124.5,180.85 L125,181.01 L125.5,181.16 L126,181.3 L126.5,181.43 L127,181.54 L127.5,181.65 L128,181.74 L128.5,181.83 L129,181.91 L129.5,181.98 L130,182.04 L130.5,182.1 L131,182.15 L131.5,182.19 L132,182.23 L132.5,182.27 L133,182.3 L133.5,182.33 L134,182.35 L134.5,182.37 L135,182.39 L135.5,182.41 L136,182.42 L136.5,182.43 L137,182.44 L137.5,182.45 L138,182.46 L138.5,182.46 L139,182.47 L139.5,182.48 L140,182.48 L140.5,182.48 L141,182.49 L141.5,182.49 L142,182.49 L142.5,182.49 L143,182.49 L143.5,182.49" fill="none" stroke="#c9a465" stroke-width="1.1"/>
<path d="M112.5,182.49 L113,182.49 L113.5,182.48 L114,182.47 L114.5,182.46 L115,182.45 L115.5,182.43 L116,182.41 L116.5,182.38 L117,182.34 L117.5,182.28 L118,182.22 L118.5,182.13 L119,182.03 L119.5,181.9 L120,181.74 L120.5,181.54 L121,181.31 L121.5,181.03 L122,180.7 L122.5,180.31 L123,179.86 L123.5,179.35 L124,178.77 L124.5,178.11 L125,177.39 L125.5,176.59 L126,175.73 L126.5,174.8 L127,173.82 L127.5,172.8 L128,171.74 L128.5,170.67 L129,169.6 L129.5,168.55 L130,167.53 L130.5,166.57 L131,165.7 L131.5,164.91 L132,164.25 L132.5,163.71 L133,163.32 L133.5,163.08 L134,163 L134.5,163.08 L135,163.32 L135.5,163.71 L136,164.25 L136.5,164.91 L137,165.7 L137.5,166.57 L138,167.53 L138.5,168.55 L139,169.6 L139.5,170.67 L140,171.74 L140.5,172.8 L141,173.82 L141.5,174.8 L142,175.73 L142.5,176.59 L143,177.39 L143.5,178.11 L144,178.77 L144.5,179.35 L145,179.86 L145.5,180.31 L146,180.7 L146.5,181.03 L147,181.31 L147.5,181.54 L148,181.74 L148.5,181.9 L149,182.03 L149.5,182.13 L150,182.22" fill="none" stroke="#4e7a2e" stroke-width="1.1"/>
<path d="M25.5,182.5 L26,182.5 L26.5,182.5 L27,182.5 L27.5,182.5 L28,182.5 L28.5,182.5 L29,182.5 L29.5,182.5 L30,182.5 L30.5,182.5 L31,182.5 L31.5,182.5 L32,182.5 L32.5,182.5 L33,182.5 L33.5,182.5 L34,182.5 L34.5,182.5 L35,182.5 L35.5,182.5 L36,182.5 L36.5,182.5 L37,182.5 L37.5,182.5 L38,182.5 L38.5,182.5 L39,182.5 L39.5,182.5 L40,182.5 L40.5,182.5 L41,182.5 L41.5,182.5 L42,182.5 L42.5,182.5 L43,182.5 L43.5,182.5 L44,182.5 L44.5,182.5 L45,182.5 L45.5,182.5 L46,182.5 L46.5,182.5 L47,182.5 L47.5,182.5 L48,182.5 L48.5,182.5 L49,182.5 L49.5,182.5 L50,182.5 L50.5,182.5 L51,182.5 L51.5,182.5 L52,182.5 L52.5,182.5 L53,182.5 L53.5,182.5 L54,182.5 L54.5,182.5 L55,182.5 L55.5,182.5 L56,182.5 L56.5,182.5 L57,182.5 L57.5,182.5 L58,182.5 L58.5,182.5 L59,182.5 L59.5,182.5 L60,182.5 L60.5,182.5 L61,182.5 L61.5,182.5 L62,182.5 L62.5,182.5 L63,182.5 L63.5,182.5 L64,182.5 L64.5,182.49 L65,182.49 L65.5,182.49 L66,182.49 L66.5,182.49 L67,182.48 L67.5,182.48 L68,182.48 L68.5,182.47 L69,182.47 L69.5,182.46 L70,182.45 L70.5,182.44 L71,182.43 L71.5,182.42 L72,182.4 L72.5,182.38 L73,182.36 L73.5,182.33 L74,182.3 L74.5,182.26 L75,182.22 L75.5,182.16 L76,182.1 L76.5,182.02 L77,181.94 L77.5,181.84 L78,181.72 L78.5,181.59 L79,181.43 L79.5,181.25 L80,181.05 L80.5,180.82 L81,180.55 L81.5,180.26 L82,179.93 L82.5,179.56 L83,179.15 L83.5,178.7 L84,178.2 L84.5,177.66 L85,177.08 L85.5,176.46 L86,175.79 L86.5,175.08 L87,174.33 L87.5,173.54 L88,172.73 L88.5,171.89 L89,171.03 L89.5,170.16 L90,169.29 L90.5,168.42 L91,167.56 L91.5,166.71 L92,165.9 L92.5,165.12 L93,164.39 L93.5,163.7 L94,163.08 L94.5,162.51 L95,162.02 L95.5,161.59 L96,161.25 L96.5,160.97 L97,160.78 L97.5,160.66 L98,160.61 L98.5,160.63 L99,160.72 L99.5,160.87 L100,161.09 L100.5,161.35 L101,161.66 L101.5,162.01 L102,162.4 L102.5,162.82 L103,163.26 L103.5,163.73 L104,164.21 L104.5,164.7 L105,165.2 L105.5,165.71 L106,166.22 L106.5,166.74 L107,167.25 L107.5,167.77 L108,168.28 L108.5,168.79 L109,169.3 L109.5,169.8 L110,170.3 L110.5,170.79 L111,171.28 L111.5,171.77 L112,172.25 L112.5,172.72 L113,173.19 L113.5,173.65 L114,174.09 L114.5,174.53 L115,174.96 L115.5,175.37 L116,175.76 L116.5,176.14 L117,176.49 L117.5,176.82 L118,177.12 L118.5,177.39 L119,177.63 L119.5,177.82 L120,177.97 L120.5,178.07 L121,178.12 L121.5,178.1 L122,178.02 L122.5,177.87 L123,177.64 L123.5,177.33 L124,176.94 L124.5,176.46 L125,175.9 L125.5,175.25 L126,174.53 L126.5,173.73 L127,172.87 L127.5,171.95 L128,170.99 L128.5,170 L129,169.01 L129.5,168.02 L130,167.07 L130.5,166.17 L131,165.34 L131.5,164.61 L132,163.98 L132.5,163.48 L133,163.12 L133.5,162.91 L134,162.85 L134.5,162.95 L135,163.21 L135.5,163.62 L136,164.17 L136.5,164.85 L137,165.64 L137.5,166.52 L138,167.49 L138.5,168.51 L139,169.57 L139.5,170.65 L140,171.72 L140.5,172.78 L141,173.81 L141.5,174.79 L142,175.72 L142.5,176.58 L143,177.38 L143.5,178.11 L144,178.76 L144.5,179.34 L145,179.86 L145.5,180.31 L146,180.69 L146.5,181.02 L147,181.31 L147.5,181.54 L148,181.74 L148.5,181.9 L149,182.03 L149.5,182.13 L150,182.22" fill="none" stroke="#d08a48" stroke-width="1"/>
<path d="M25.5,182.46 L26.7,182.55 L27.9,182.84 L29.1,182.47 L30.3,182.51 L31.5,182.57 L32.7,182.25 L33.9,182.51 L35.1,182.6 L36.3,182.73 L37.5,182.18 L38.7,182.34 L39.9,182.17 L41.1,182.75 L42.3,182.65 L43.5,182.13 L44.7,182.89 L45.9,182.87 L47.1,182.62 L48.3,182.59 L49.5,182.23 L50.7,182.11 L51.9,182.52 L53.1,182.15 L54.3,182.25 L55.5,182.29 L56.7,182.12 L57.9,182.47 L59.1,182.45 L60.3,182.77 L61.5,182.51 L62.7,182.61 L63.9,182.5 L65.1,182.62 L66.3,182.45 L67.5,182.3 L68.7,182.87 L69.9,182.85 L71.1,182.7 L72.3,182.56 L73.5,182.18 L74.7,182.03 L75.9,181.94 L77.1,181.58 L78.3,181.86 L79.5,181.17 L80.7,180.99 L81.9,179.9 L83.1,179.43 L84.3,178.16 L85.5,176.06 L86.7,174.55 L87.9,173.22 L89.1,170.84 L90.3,169.15 L91.5,166.63 L92.7,164.48 L93.9,163.3 L95.1,162.15 L96.3,160.89 L97.5,160.33 L98.7,160.53 L99.9,161.41 L101.1,161.93 L102.3,162.34 L103.5,163.52 L104.7,164.58 L105.9,165.77 L107.1,167.59 L108.3,168.33 L109.5,169.85 L110.7,170.95 L111.9,171.91 L113.1,173.47 L114.3,174.06 L115.5,175.48 L116.7,175.97 L117.9,177 L119.1,177.44 L120.3,177.86 L121.5,178.48 L122.7,178.03 L123.9,176.87 L125.1,176.08 L126.3,173.83 L127.5,171.86 L128.7,169.89 L129.9,167.37 L131.1,164.87 L132.3,164.05 L133.5,162.68 L134.7,162.84 L135.9,164.26 L137.1,165.67 L138.3,167.93 L139.5,170.31 L140.7,172.87 L141.9,175.61 L143.1,177.33 L144.3,179.2 L145.5,180.2 L146.7,181.11 L147.9,182.07 L149.1,182.04 L150.3,182.32" fill="none" stroke="#2a1e24" stroke-width="0.9"/>
<text x="28.7" y="179.4" font-size="7.8" text-anchor="start" fill="#1e1e1e" font-family="Liberation Serif" textLength="46" lengthAdjust="spacingAndGlyphs" stroke="#1e1e1e" stroke-width="0.22">N-LTO_NC(750)</text>
<path d="M67,215.7 L67.5,215.69 L68,215.69 L68.5,215.69 L69,215.69 L69.5,215.68 L70,215.68 L70.5,215.67 L71,215.67 L71.5,215.66 L72,215.64 L72.5,215.63 L73,215.61 L73.5,215.59 L74,215.57 L74.5,215.53 L75,215.5 L75.5,215.45 L76,215.4 L76.5,215.34 L77,215.27 L77.5,215.18 L78,215.09 L78.5,214.98 L79,214.85 L79.5,214.7 L80,214.54 L80.5,214.36 L81,214.15 L81.5,213.93 L82,213.68 L82.5,213.41 L83,213.12 L83.5,212.8 L84,212.46 L84.5,212.1 L85,211.72 L85.5,211.32 L86,210.9 L86.5,210.48 L87,210.04 L87.5,209.6 L88,209.16 L88.5,208.72 L89,208.29 L89.5,207.88 L90,207.48 L90.5,207.11 L91,206.76 L91.5,206.45 L92,206.18 L92.5,205.95 L93,205.76 L93.5,205.63 L94,205.54 L94.5,205.5 L95,205.52 L95.5,205.58 L96,205.7 L96.5,205.87 L97,206.08 L97.5,206.34 L98,206.63 L98.5,206.97 L99,207.33 L99.5,207.72 L100,208.13 L100.5,208.55 L101,208.98 L101.5,209.43 L102,209.87 L102.5,210.3 L103,210.74 L103.5,211.15 L104,211.56 L104.5,211.95 L105,212.32 L105.5,212.67 L106,212.99 L106.5,213.3 L107,213.58 L107.5,213.83 L108,214.07 L108.5,214.28 L109,214.47 L109.5,214.64 L110,214.79 L110.5,214.93 L111,215.04 L111.5,215.15 L112,215.24 L112.5,215.31 L113,215.38 L113.5,215.43 L114,215.48 L114.5,215.52 L115,215.55 L115.5,215.58 L116,215.6 L116.5,215.62 L117,215.64 L117.5,215.65 L118,215.66 L118.5,215.67 L119,215.68 L119.5,215.68 L120,215.69 L120.5,215.69 L121,215.69 L121.5,215.69 L122,215.7 L122.5,215.7" fill="none" stroke="#4c46d0" stroke-width="1.1"/>
<path d="M66.5,215.69 L67,215.69 L67.5,215.69 L68,215.68 L68.5,215.68 L69,215.68 L69.5,215.67 L70,215.67 L70.5,215.66 L71,215.65 L71.5,215.64 L72,215.63 L72.5,215.61 L73,215.6 L73.5,215.58 L74,215.56 L74.5,215.53 L75,215.5 L75.5,215.47 L76,215.43 L76.5,215.38 L77,215.33 L77.5,215.27 L78,215.2 L78.5,215.13 L79,215.04 L79.5,214.94 L80,214.84 L80.5,214.71 L81,214.58 L81.5,214.43 L82,214.26 L82.5,214.08 L83,213.88 L83.5,213.65 L84,213.41 L84.5,213.15 L85,212.86 L85.5,212.55 L86,212.21 L86.5,211.85 L87,211.46 L87.5,211.05 L88,210.62 L88.5,210.15 L89,209.66 L89.5,209.15 L90,208.61 L90.5,208.05 L91,207.47 L91.5,206.86 L92,206.24 L92.5,205.61 L93,204.96 L93.5,204.3 L94,203.63 L94.5,202.96 L95,202.29 L95.5,201.63 L96,200.97 L96.5,200.32 L97,199.69 L97.5,199.08 L98,198.5 L98.5,197.94 L99,197.42 L99.5,196.93 L100,196.48 L100.5,196.08 L101,195.72 L101.5,195.41 L102,195.16 L102.5,194.96 L103,194.82 L103.5,194.73 L104,194.7 L104.5,194.73 L105,194.82 L105.5,194.96 L106,195.16 L106.5,195.41 L107,195.72 L107.5,196.08 L108,196.48 L108.5,196.93 L109,197.42 L109.5,197.94 L110,198.5 L110.5,199.08 L111,199.69 L111.5,200.32 L112,200.97 L112.5,201.63 L113,202.29 L113.5,202.96 L114,203.63 L114.5,204.3 L115,204.96 L115.5,205.61 L116,206.24 L116.5,206.86 L117,207.47 L117.5,208.05 L118,208.61 L118.5,209.15 L119,209.66 L119.5,210.15 L120,210.62 L120.5,211.05 L121,211.46 L121.5,211.85 L122,212.21 L122.5,212.55 L123,212.86 L123.5,213.15 L124,213.41 L124.5,213.65 L125,213.88 L125.5,214.08 L126,214.26 L126.5,214.43 L127,214.58 L127.5,214.71 L128,214.84 L128.5,214.94 L129,215.04 L129.5,215.13 L130,215.2 L130.5,215.27 L131,215.33 L131.5,215.38 L132,215.43 L132.5,215.47 L133,215.5 L133.5,215.53 L134,215.56 L134.5,215.58 L135,215.6 L135.5,215.61 L136,215.63 L136.5,215.64 L137,215.65 L137.5,215.66 L138,215.67 L138.5,215.67 L139,215.68 L139.5,215.68 L140,215.68 L140.5,215.69 L141,215.69 L141.5,215.69" fill="none" stroke="#c9a465" stroke-width="1.1"/>
<path d="M107,215.7 L107.5,215.7 L108,215.69 L108.5,215.69 L109,215.69 L109.5,215.69 L110,215.69 L110.5,215.68 L111,215.68 L111.5,215.67 L112,215.66 L112.5,215.65 L113,215.64 L113.5,215.63 L114,215.61 L114.5,215.59 L115,215.56 L115.5,215.53 L116,215.49 L116.5,215.45 L117,215.4 L117.5,215.35 L118,215.28 L118.5,215.2 L119,215.12 L119.5,215.02 L120,214.9 L120.5,214.78 L121,214.64 L121.5,214.48 L122,214.31 L122.5,214.13 L123,213.93 L123.5,213.71 L124,213.48 L124.5,213.23 L125,212.97 L125.5,212.69 L126,212.41 L126.5,212.12 L127,211.82 L127.5,211.51 L128,211.21 L128.5,210.91 L129,210.62 L129.5,210.33 L130,210.06 L130.5,209.8 L131,209.57 L131.5,209.35 L132,209.17 L132.5,209.01 L133,208.88 L133.5,208.79 L134,208.73 L134.5,208.7 L135,208.71 L135.5,208.76 L136,208.84 L136.5,208.95 L137,209.1 L137.5,209.28 L138,209.48 L138.5,209.71 L139,209.95 L139.5,210.22 L140,210.5 L140.5,210.79 L141,211.09 L141.5,211.39 L142,211.7 L142.5,212 L143,212.29 L143.5,212.58 L144,212.86 L144.5,213.13 L145,213.38 L145.5,213.62 L146,213.84 L146.5,214.05 L147,214.24 L147.5,214.42 L148,214.58 L148.5,214.73 L149,214.86 L149.5,214.97 L150,215.08" fill="none" stroke="#4e7a2e" stroke-width="1.1"/>
<path d="M25.5,215.7 L26,215.7 L26.5,215.7 L27,215.7 L27.5,215.7 L28,215.7 L28.5,215.7 L29,215.7 L29.5,215.7 L30,215.7 L30.5,215.7 L31,215.7 L31.5,215.7 L32,215.7 L32.5,215.7 L33,215.7 L33.5,215.7 L34,215.7 L34.5,215.7 L35,215.7 L35.5,215.7 L36,215.7 L36.5,215.7 L37,215.7 L37.5,215.7 L38,215.7 L38.5,215.7 L39,215.7 L39.5,215.7 L40,215.7 L40.5,215.7 L41,215.7 L41.5,215.7 L42,215.7 L42.5,215.7 L43,215.7 L43.5,215.7 L44,215.7 L44.5,215.7 L45,215.7 L45.5,215.7 L46,215.7 L46.5,215.7 L47,215.7 L47.5,215.7 L48,215.7 L48.5,215.7 L49,215.7 L49.5,215.7 L50,215.7 L50.5,215.7 L51,215.7 L51.5,215.7 L52,215.7 L52.5,215.7 L53,215.7 L53.5,215.7 L54,215.7 L54.5,215.7 L55,215.7 L55.5,215.7 L56,215.7 L56.5,215.7 L57,215.7 L57.5,215.7 L58,215.7 L58.5,215.7 L59,215.7 L59.5,215.7 L60,215.7 L60.5,215.7 L61,215.7 L61.5,215.7 L62,215.7 L62.5,215.7 L63,215.7 L63.5,215.7 L64,215.7 L64.5,215.7 L65,215.69 L65.5,215.69 L66,215.69 L66.5,215.69 L67,215.69 L67.5,215.68 L68,215.68 L68.5,215.67 L69,215.66 L69.5,215.65 L70,215.64 L70.5,215.63 L71,215.61 L71.5,215.6 L72,215.57 L72.5,215.54 L73,215.51 L73.5,215.47 L74,215.42 L74.5,215.37 L75,215.3 L75.5,215.22 L76,215.13 L76.5,215.02 L77,214.9 L77.5,214.75 L78,214.59 L78.5,214.4 L79,214.19 L79.5,213.95 L80,213.68 L80.5,213.37 L81,213.03 L81.5,212.66 L82,212.24 L82.5,211.79 L83,211.29 L83.5,210.75 L84,210.17 L84.5,209.54 L85,208.88 L85.5,208.17 L86,207.42 L86.5,206.63 L87,205.81 L87.5,204.95 L88,204.08 L88.5,203.17 L89,202.26 L89.5,201.33 L90,200.39 L90.5,199.46 L91,198.53 L91.5,197.62 L92,196.72 L92.5,195.86 L93,195.02 L93.5,194.22 L94,193.47 L94.5,192.76 L95,192.11 L95.5,191.51 L96,190.97 L96.5,190.49 L97,190.07 L97.5,189.72 L98,189.43 L98.5,189.21 L99,189.04 L99.5,188.94 L100,188.91 L100.5,188.93 L101,189.01 L101.5,189.14 L102,189.33 L102.5,189.56 L103,189.85 L103.5,190.18 L104,190.56 L104.5,190.98 L105,191.43 L105.5,191.92 L106,192.45 L106.5,193.01 L107,193.59 L107.5,194.21 L108,194.84 L108.5,195.5 L109,196.18 L109.5,196.87 L110,197.58 L110.5,198.29 L111,199.01 L111.5,199.74 L112,200.47 L112.5,201.19 L113,201.91 L113.5,202.62 L114,203.32 L114.5,204.01 L115,204.67 L115.5,205.32 L116,205.94 L116.5,206.54 L117,207.11 L117.5,207.65 L118,208.15 L118.5,208.62 L119,209.05 L119.5,209.45 L120,209.81 L120.5,210.12 L121,210.4 L121.5,210.63 L122,210.82 L122.5,210.97 L123,211.08 L123.5,211.15 L124,211.18 L124.5,211.18 L125,211.14 L125.5,211.07 L126,210.97 L126.5,210.84 L127,210.7 L127.5,210.53 L128,210.35 L128.5,210.16 L129,209.96 L129.5,209.76 L130,209.56 L130.5,209.37 L131,209.2 L131.5,209.04 L132,208.89 L132.5,208.77 L133,208.68 L133.5,208.62 L134,208.58 L134.5,208.58 L135,208.61 L135.5,208.67 L136,208.77 L136.5,208.89 L137,209.05 L137.5,209.23 L138,209.44 L138.5,209.68 L139,209.93 L139.5,210.2 L140,210.49 L140.5,210.78 L141,211.08 L141.5,211.38 L142,211.69 L142.5,211.99 L143,212.29 L143.5,212.58 L144,212.86 L144.5,213.12 L145,213.38 L145.5,213.62 L146,213.84 L146.5,214.05 L147,214.24 L147.5,214.42 L148,214.58 L148.5,214.72 L149,214.86 L149.5,214.97 L150,215.08" fill="none" stroke="#d08a48" stroke-width="1"/>
<path d="M25.5,215.99 L26.7,215.45 L27.9,215.42 L29.1,216.03 L30.3,215.95 L31.5,215.5 L32.7,215.45 L33.9,215.89 L35.1,216.05 L36.3,215.46 L37.5,216.06 L38.7,216.01 L39.9,215.78 L41.1,215.64 L42.3,215.38 L43.5,215.33 L44.7,216.07 L45.9,215.49 L47.1,215.86 L48.3,215.51 L49.5,215.96 L50.7,215.78 L51.9,215.53 L53.1,215.44 L54.3,215.88 L55.5,215.35 L56.7,215.48 L57.9,215.75 L59.1,215.98 L60.3,215.79 L61.5,215.52 L62.7,216.03 L63.9,215.46 L65.1,215.31 L66.3,215.5 L67.5,215.64 L68.7,215.32 L69.9,215.39 L71.1,215.51 L72.3,215.61 L73.5,215.18 L74.7,215.23 L75.9,215.46 L77.1,215.26 L78.3,214.61 L79.5,214.1 L80.7,213.31 L81.9,212.04 L83.1,210.82 L84.3,209.41 L85.5,208.49 L86.7,206.46 L87.9,204.62 L89.1,201.69 L90.3,199.94 L91.5,197.6 L92.7,195.7 L93.9,193.47 L95.1,192.38 L96.3,190.34 L97.5,189.76 L98.7,189.32 L99.9,189.23 L101.1,189.22 L102.3,189.63 L103.5,190.42 L104.7,191.49 L105.9,192.22 L107.1,193.86 L108.3,195.56 L109.5,197.17 L110.7,198.51 L111.9,200.55 L113.1,202.34 L114.3,203.79 L115.5,205.42 L116.7,206.68 L117.9,208.12 L119.1,209.22 L120.3,209.66 L121.5,210.74 L122.7,211.42 L123.9,211.48 L125.1,211.31 L126.3,210.81 L127.5,210.72 L128.7,210.14 L129.9,209.55 L131.1,209.43 L132.3,208.49 L133.5,208.82 L134.7,208.21 L135.9,208.83 L137.1,209.07 L138.3,209.37 L139.5,210.36 L140.7,210.9 L141.9,211.72 L143.1,212.68 L144.3,212.82 L145.5,213.23 L146.7,213.97 L147.9,214.69 L149.1,214.64 L150.3,214.87" fill="none" stroke="#2a1e24" stroke-width="0.9"/>
<text x="28.7" y="209.6" font-size="7.8" text-anchor="start" fill="#1e1e1e" font-family="Liberation Serif" textLength="46" lengthAdjust="spacingAndGlyphs" stroke="#1e1e1e" stroke-width="0.22">N-LTO_NC(700)</text>
<path d="M46,243.5 L46.5,243.5 L47,243.5 L47.5,243.5 L48,243.5 L48.5,243.5 L49,243.5 L49.5,243.5 L50,243.5 L50.5,243.5 L51,243.49 L51.5,243.49 L52,243.49 L52.5,243.49 L53,243.49 L53.5,243.49 L54,243.49 L54.5,243.49 L55,243.48 L55.5,243.48 L56,243.48 L56.5,243.47 L57,243.47 L57.5,243.47 L58,243.46 L58.5,243.46 L59,243.45 L59.5,243.45 L60,243.44 L60.5,243.43 L61,243.43 L61.5,243.42 L62,243.41 L62.5,243.4 L63,243.38 L63.5,243.37 L64,243.36 L64.5,243.34 L65,243.32 L65.5,243.31 L66,243.29 L66.5,243.27 L67,243.24 L67.5,243.22 L68,243.19 L68.5,243.16 L69,243.13 L69.5,243.1 L70,243.07 L70.5,243.03 L71,242.99 L71.5,242.95 L72,242.91 L72.5,242.86 L73,242.81 L73.5,242.76 L74,242.71 L74.5,242.65 L75,242.6 L75.5,242.54 L76,242.48 L76.5,242.41 L77,242.35 L77.5,242.28 L78,242.21 L78.5,242.14 L79,242.07 L79.5,242 L80,241.92 L80.5,241.85 L81,241.77 L81.5,241.7 L82,241.62 L82.5,241.54 L83,241.47 L83.5,241.39 L84,241.32 L84.5,241.25 L85,241.18 L85.5,241.11 L86,241.05 L86.5,240.98 L87,240.92 L87.5,240.86 L88,240.81 L88.5,240.76 L89,240.71 L89.5,240.67 L90,240.63 L90.5,240.6 L91,240.57 L91.5,240.55 L92,240.53 L92.5,240.51 L93,240.5 L93.5,240.5 L94,240.5 L94.5,240.51 L95,240.52 L95.5,240.54 L96,240.56 L96.5,240.59 L97,240.62 L97.5,240.65 L98,240.7 L98.5,240.74 L99,240.79 L99.5,240.84 L100,240.9 L100.5,240.96 L101,241.02 L101.5,241.08 L102,241.15 L102.5,241.22 L103,241.29 L103.5,241.37 L104,241.44 L104.5,241.51 L105,241.59 L105.5,241.67 L106,241.74 L106.5,241.82 L107,241.89 L107.5,241.97 L108,242.04 L108.5,242.11 L109,242.18 L109.5,242.25 L110,242.32 L110.5,242.39 L111,242.45 L111.5,242.51 L112,242.57 L112.5,242.63 L113,242.69 L113.5,242.74 L114,242.79 L114.5,242.84 L115,242.89 L115.5,242.93 L116,242.97 L116.5,243.01 L117,243.05 L117.5,243.09 L118,243.12 L118.5,243.15 L119,243.18 L119.5,243.21 L120,243.23 L120.5,243.26 L121,243.28 L121.5,243.3 L122,243.32 L122.5,243.33 L123,243.35 L123.5,243.37 L124,243.38 L124.5,243.39 L125,243.4 L125.5,243.41 L126,243.42 L126.5,243.43 L127,243.44 L127.5,243.44 L128,243.45 L128.5,243.46 L129,243.46 L129.5,243.47 L130,243.47 L130.5,243.47 L131,243.48 L131.5,243.48 L132,243.48 L132.5,243.48 L133,243.49 L133.5,243.49 L134,243.49 L134.5,243.49 L135,243.49 L135.5,243.49 L136,243.49 L136.5,243.49 L137,243.5 L137.5,243.5 L138,243.5 L138.5,243.5 L139,243.5 L139.5,243.5 L140,243.5 L140.5,243.5 L141,243.5 L141.5,243.5" fill="none" stroke="#4c46d0" stroke-width="1.1"/>
<path d="M71.5,243.49 L72,243.49 L72.5,243.49 L73,243.48 L73.5,243.48 L74,243.48 L74.5,243.47 L75,243.46 L75.5,243.45 L76,243.44 L76.5,243.43 L77,243.42 L77.5,243.4 L78,243.38 L78.5,243.35 L79,243.32 L79.5,243.29 L80,243.25 L80.5,243.2 L81,243.14 L81.5,243.08 L82,243 L82.5,242.92 L83,242.82 L83.5,242.7 L84,242.58 L84.5,242.43 L85,242.27 L85.5,242.08 L86,241.87 L86.5,241.64 L87,241.39 L87.5,241.1 L88,240.79 L88.5,240.45 L89,240.08 L89.5,239.68 L90,239.24 L90.5,238.77 L91,238.26 L91.5,237.72 L92,237.15 L92.5,236.55 L93,235.91 L93.5,235.24 L94,234.55 L94.5,233.83 L95,233.09 L95.5,232.34 L96,231.56 L96.5,230.78 L97,230 L97.5,229.22 L98,228.44 L98.5,227.68 L99,226.93 L99.5,226.21 L100,225.52 L100.5,224.87 L101,224.26 L101.5,223.7 L102,223.19 L102.5,222.74 L103,222.36 L103.5,222.04 L104,221.8 L104.5,221.62 L105,221.52 L105.5,221.5 L106,221.55 L106.5,221.68 L107,221.89 L107.5,222.16 L108,222.51 L108.5,222.92 L109,223.39 L109.5,223.92 L110,224.5 L110.5,225.12 L111,225.79 L111.5,226.49 L112,227.23 L112.5,227.98 L113,228.75 L113.5,229.53 L114,230.31 L114.5,231.1 L115,231.87 L115.5,232.64 L116,233.39 L116.5,234.12 L117,234.83 L117.5,235.51 L118,236.17 L118.5,236.79 L119,237.38 L119.5,237.94 L120,238.47 L120.5,238.96 L121,239.42 L121.5,239.84 L122,240.23 L122.5,240.59 L123,240.92 L123.5,241.22 L124,241.49 L124.5,241.74 L125,241.96 L125.5,242.16 L126,242.33 L126.5,242.49 L127,242.63 L127.5,242.75 L128,242.86 L128.5,242.95 L129,243.03 L129.5,243.1 L130,243.17 L130.5,243.22 L131,243.26 L131.5,243.3 L132,243.34 L132.5,243.36 L133,243.39 L133.5,243.41 L134,243.42 L134.5,243.44 L135,243.45 L135.5,243.46 L136,243.47 L136.5,243.47 L137,243.48 L137.5,243.48 L138,243.49 L138.5,243.49 L139,243.49" fill="none" stroke="#c9a465" stroke-width="1.1"/>
<path d="M106.5,243.5 L107,243.5 L107.5,243.5 L108,243.5 L108.5,243.5 L109,243.49 L109.5,243.49 L110,243.49 L110.5,243.49 L111,243.48 L111.5,243.48 L112,243.47 L112.5,243.46 L113,243.45 L113.5,243.44 L114,243.43 L114.5,243.41 L115,243.39 L115.5,243.37 L116,243.34 L116.5,243.3 L117,243.26 L117.5,243.21 L118,243.16 L118.5,243.1 L119,243.03 L119.5,242.96 L120,242.88 L120.5,242.79 L121,242.69 L121.5,242.58 L122,242.47 L122.5,242.36 L123,242.23 L123.5,242.11 L124,241.98 L124.5,241.86 L125,241.73 L125.5,241.61 L126,241.5 L126.5,241.39 L127,241.29 L127.5,241.21 L128,241.14 L128.5,241.08 L129,241.03 L129.5,241.01 L130,241 L130.5,241.01 L131,241.03 L131.5,241.08 L132,241.14 L132.5,241.21 L133,241.29 L133.5,241.39 L134,241.5 L134.5,241.61 L135,241.73 L135.5,241.86 L136,241.98 L136.5,242.11 L137,242.23 L137.5,242.36 L138,242.47 L138.5,242.58 L139,242.69 L139.5,242.79 L140,242.88 L140.5,242.96 L141,243.03 L141.5,243.1 L142,243.16 L142.5,243.21 L143,243.26 L143.5,243.3 L144,243.34 L144.5,243.37 L145,243.39 L145.5,243.41 L146,243.43 L146.5,243.44 L147,243.45 L147.5,243.46 L148,243.47 L148.5,243.48 L149,243.48 L149.5,243.49 L150,243.49" fill="none" stroke="#4e7a2e" stroke-width="1.1"/>
<path d="M25.5,243.5 L26,243.5 L26.5,243.5 L27,243.5 L27.5,243.5 L28,243.5 L28.5,243.5 L29,243.5 L29.5,243.5 L30,243.5 L30.5,243.5 L31,243.5 L31.5,243.5 L32,243.5 L32.5,243.5 L33,243.5 L33.5,243.5 L34,243.5 L34.5,243.5 L35,243.5 L35.5,243.5 L36,243.5 L36.5,243.5 L37,243.5 L37.5,243.5 L38,243.5 L38.5,243.5 L39,243.5 L39.5,243.5 L40,243.5 L40.5,243.5 L41,243.5 L41.5,243.5 L42,243.5 L42.5,243.5 L43,243.5 L43.5,243.5 L44,243.5 L44.5,243.5 L45,243.5 L45.5,243.5 L46,243.5 L46.5,243.5 L47,243.5 L47.5,243.5 L48,243.5 L48.5,243.5 L49,243.5 L49.5,243.5 L50,243.5 L50.5,243.5 L51,243.49 L51.5,243.49 L52,243.49 L52.5,243.49 L53,243.49 L53.5,243.49 L54,243.49 L54.5,243.49 L55,243.48 L55.5,243.48 L56,243.48 L56.5,243.47 L57,243.47 L57.5,243.47 L58,243.46 L58.5,243.46 L59,243.45 L59.5,243.45 L60,243.44 L60.5,243.43 L61,243.43 L61.5,243.42 L62,243.41 L62.5,243.4 L63,243.38 L63.5,243.37 L64,243.36 L64.5,243.34 L65,243.32 L65.5,243.31 L66,243.29 L66.5,243.27 L67,243.24 L67.5,243.22 L68,243.19 L68.5,243.16 L69,243.13 L69.5,243.1 L70,243.06 L70.5,243.02 L71,242.98 L71.5,242.94 L72,242.9 L72.5,242.85 L73,242.8 L73.5,242.74 L74,242.69 L74.5,242.63 L75,242.56 L75.5,242.49 L76,242.42 L76.5,242.35 L77,242.26 L77.5,242.18 L78,242.09 L78.5,241.99 L79,241.89 L79.5,241.78 L80,241.67 L80.5,241.55 L81,241.41 L81.5,241.27 L82,241.12 L82.5,240.96 L83,240.79 L83.5,240.6 L84,240.4 L84.5,240.18 L85,239.94 L85.5,239.69 L86,239.42 L86.5,239.12 L87,238.81 L87.5,238.47 L88,238.1 L88.5,237.71 L89,237.29 L89.5,236.85 L90,236.37 L90.5,235.87 L91,235.33 L91.5,234.77 L92,234.18 L92.5,233.56 L93,232.91 L93.5,232.24 L94,231.55 L94.5,230.84 L95,230.11 L95.5,229.37 L96,228.62 L96.5,227.87 L97,227.12 L97.5,226.37 L98,225.63 L98.5,224.92 L99,224.22 L99.5,223.55 L100,222.92 L100.5,222.33 L101,221.78 L101.5,221.28 L102,220.84 L102.5,220.47 L103,220.15 L103.5,219.91 L104,219.74 L104.5,219.64 L105,219.61 L105.5,219.67 L106,219.79 L106.5,220 L107,220.28 L107.5,220.63 L108,221.04 L108.5,221.52 L109,222.07 L109.5,222.66 L110,223.31 L110.5,224 L111,224.73 L111.5,225.49 L112,226.27 L112.5,227.08 L113,227.89 L113.5,228.71 L114,229.53 L114.5,230.35 L115,231.15 L115.5,231.94 L116,232.7 L116.5,233.44 L117,234.14 L117.5,234.81 L118,235.45 L118.5,236.04 L119,236.6 L119.5,237.11 L120,237.58 L120.5,238 L121,238.38 L121.5,238.72 L122,239.02 L122.5,239.28 L123,239.51 L123.5,239.7 L124,239.86 L124.5,239.99 L125,240.09 L125.5,240.18 L126,240.25 L126.5,240.31 L127,240.36 L127.5,240.4 L128,240.44 L128.5,240.49 L129,240.53 L129.5,240.58 L130,240.64 L130.5,240.7 L131,240.78 L131.5,240.86 L132,240.95 L132.5,241.06 L133,241.17 L133.5,241.29 L134,241.41 L134.5,241.54 L135,241.67 L135.5,241.81 L136,241.94 L136.5,242.08 L137,242.21 L137.5,242.33 L138,242.45 L138.5,242.57 L139,242.68 L139.5,242.78 L140,242.87 L140.5,242.95 L141,243.03 L141.5,243.1 L142,243.16 L142.5,243.21 L143,243.26 L143.5,243.3 L144,243.33 L144.5,243.36 L145,243.39 L145.5,243.41 L146,243.43 L146.5,243.44 L147,243.45 L147.5,243.46 L148,243.47 L148.5,243.48 L149,243.48 L149.5,243.49 L150,243.49" fill="none" stroke="#d08a48" stroke-width="1"/>
<path d="M25.5,244.96 L26.08,244.48 L26.91,243.82 L27.76,243.29 L28.58,243.06 L29.43,242.97 L30.25,242.88 L31.03,242.63 L31.79,242.37 L32.52,242.41 L33.19,243.02 L33.84,243.92 L34.55,244.6 L35.37,244.88 L36.25,244.95 L37.06,244.87 L37.77,244.63 L38.41,244.25 L39.05,243.8 L39.68,243.15 L40.31,242.44 L40.96,242.19 L41.64,242.84 L42.33,243.94 L43.06,244.71 L43.85,244.82 L44.67,244.6 L45.51,244.26 L46.38,243.74 L47.26,243.09 L48.06,242.69 L48.7,242.79 L49.26,243.14 L49.83,243.32 L50.44,243.06 L51.06,242.63 L51.7,242.46 L52.36,242.88 L53.03,243.55 L53.72,243.94 L54.4,243.63 L55.08,243.03 L55.81,242.81 L56.61,243.56 L57.45,244.69 L58.25,245.2 L58.98,244.29 L59.66,242.76 L60.3,241.9 L60.88,242.53 L61.41,243.83 L61.93,244.75 L62.46,244.83 L62.99,244.52 L63.58,244.12 L64.25,243.67 L64.99,243.12 L65.75,242.61 L66.55,242.1 L67.38,241.63 L68.14,241.45 L68.77,241.75 L69.33,242.34 L69.87,242.91 L70.42,243.48 L70.95,244.02 L71.5,244.13 L72.1,243.37 L72.73,242.19 L73.34,241.47 L73.88,241.74 L74.41,242.49 L74.98,243.03 L75.63,243.05 L76.32,242.86 L77.03,242.73 L77.75,242.81 L78.5,242.95 L79.28,242.94 L80.14,242.68 L81.03,242.27 L81.84,241.84 L82.5,241.44 L83.07,241.01 L83.64,240.45 L84.23,239.57 L84.81,238.56 L85.42,237.97 L86.1,238.28 L86.81,239 L87.49,239.24 L88.1,238.46 L88.68,237.2 L89.27,236.23 L89.9,235.99 L90.55,236.03 L91.22,235.8 L91.9,235.06 L92.61,234.03 L93.34,232.87 L94.1,231.48 L94.9,229.96 L95.69,228.7 L96.52,227.96 L97.34,227.49 L98.09,226.97 L98.68,226.38 L99.19,225.74 L99.77,224.76 L100.51,222.99 L101.32,220.88 L102.1,219.43 L102.78,219.27 L103.44,219.78 L104.15,220.15 L104.96,219.92 L105.83,219.55 L106.66,219.64 L107.4,220.54 L108.1,221.9 L108.83,223.24 L109.62,224.44 L110.44,225.62 L111.22,226.66 L111.95,227.47 L112.63,228.14 L113.29,228.91 L113.89,229.9 L114.46,231 L115.09,232.1 L115.86,233.26 L116.69,234.42 L117.51,235.34 L118.29,235.72 L119.05,235.86 L119.83,236.39 L120.65,237.84 L121.48,239.68 L122.33,240.93 L123.19,241.07 L124.06,240.62 L124.91,240.21 L125.71,239.94 L126.5,239.69 L127.3,239.74 L128.15,240.44 L129.01,241.42 L129.81,241.89 L130.5,241.24 L131.12,240.06 L131.76,239.4 L132.42,239.84 L133.09,240.79 L133.8,241.54 L134.59,241.76 L135.42,241.79 L136.17,241.94 L136.76,242.43 L137.28,243.04 L137.79,243.52 L138.34,243.78 L138.89,243.91 L139.46,243.85 L140.02,243.48 L140.59,242.92 L141.23,242.47 L142,242.18 L142.85,241.99 L143.62,242.01 L144.23,242.36 L144.77,242.93 L145.37,243.46 L146.1,243.92 L146.9,244.35 L147.69,244.69 L148.54,244.9 L149.39,245.02 L149.98,245.09" fill="none" stroke="#2a1e24" stroke-width="0.9"/>
<text x="28.7" y="239.7" font-size="7.8" text-anchor="start" fill="#1e1e1e" font-family="Liberation Serif" textLength="46" lengthAdjust="spacingAndGlyphs" stroke="#1e1e1e" stroke-width="0.22">N-LTO_NC(650)</text>
<path d="M63.5,276 L64,276 L64.5,276 L65,276 L65.5,276 L66,276 L66.5,276 L67,276 L67.5,276 L68,276 L68.5,276 L69,275.99 L69.5,275.99 L70,275.99 L70.5,275.99 L71,275.99 L71.5,275.99 L72,275.98 L72.5,275.98 L73,275.98 L73.5,275.97 L74,275.97 L74.5,275.96 L75,275.96 L75.5,275.95 L76,275.94 L76.5,275.93 L77,275.92 L77.5,275.91 L78,275.9 L78.5,275.88 L79,275.86 L79.5,275.85 L80,275.83 L80.5,275.81 L81,275.78 L81.5,275.76 L82,275.73 L82.5,275.7 L83,275.68 L83.5,275.64 L84,275.61 L84.5,275.58 L85,275.54 L85.5,275.51 L86,275.47 L86.5,275.43 L87,275.39 L87.5,275.36 L88,275.32 L88.5,275.28 L89,275.25 L89.5,275.21 L90,275.18 L90.5,275.15 L91,275.12 L91.5,275.09 L92,275.07 L92.5,275.05 L93,275.03 L93.5,275.02 L94,275.01 L94.5,275 L95,275 L95.5,275 L96,275.01 L96.5,275.02 L97,275.03 L97.5,275.05 L98,275.07 L98.5,275.09 L99,275.12 L99.5,275.15 L100,275.18 L100.5,275.21 L101,275.25 L101.5,275.28 L102,275.32 L102.5,275.36 L103,275.39 L103.5,275.43 L104,275.47 L104.5,275.51 L105,275.54 L105.5,275.58 L106,275.61 L106.5,275.64 L107,275.68 L107.5,275.7 L108,275.73 L108.5,275.76 L109,275.78 L109.5,275.81 L110,275.83 L110.5,275.85 L111,275.86 L111.5,275.88 L112,275.9 L112.5,275.91 L113,275.92 L113.5,275.93 L114,275.94 L114.5,275.95 L115,275.96 L115.5,275.96 L116,275.97 L116.5,275.97 L117,275.98 L117.5,275.98 L118,275.98 L118.5,275.99 L119,275.99 L119.5,275.99 L120,275.99 L120.5,275.99 L121,275.99 L121.5,276 L122,276 L122.5,276 L123,276 L123.5,276 L124,276 L124.5,276 L125,276 L125.5,276 L126,276 L126.5,276" fill="none" stroke="#4c46d0" stroke-width="1.1"/>
<path d="M74,275.99 L74.5,275.99 L75,275.98 L75.5,275.98 L76,275.98 L76.5,275.97 L77,275.96 L77.5,275.95 L78,275.94 L78.5,275.93 L79,275.92 L79.5,275.9 L80,275.88 L80.5,275.85 L81,275.82 L81.5,275.78 L82,275.74 L82.5,275.69 L83,275.63 L83.5,275.57 L84,275.49 L84.5,275.4 L85,275.29 L85.5,275.17 L86,275.04 L86.5,274.89 L87,274.71 L87.5,274.52 L88,274.3 L88.5,274.05 L89,273.78 L89.5,273.47 L90,273.14 L90.5,272.77 L91,272.37 L91.5,271.93 L92,271.46 L92.5,270.95 L93,270.4 L93.5,269.81 L94,269.18 L94.5,268.51 L95,267.81 L95.5,267.08 L96,266.31 L96.5,265.51 L97,264.68 L97.5,263.83 L98,262.96 L98.5,262.08 L99,261.19 L99.5,260.3 L100,259.41 L100.5,258.54 L101,257.68 L101.5,256.84 L102,256.03 L102.5,255.27 L103,254.54 L103.5,253.87 L104,253.26 L104.5,252.71 L105,252.23 L105.5,251.82 L106,251.5 L106.5,251.25 L107,251.08 L107.5,251.01 L108,251.02 L108.5,251.11 L109,251.29 L109.5,251.55 L110,251.9 L110.5,252.32 L111,252.81 L111.5,253.38 L112,254 L112.5,254.68 L113,255.42 L113.5,256.19 L114,257 L114.5,257.85 L115,258.71 L115.5,259.59 L116,260.48 L116.5,261.37 L117,262.26 L117.5,263.14 L118,264 L118.5,264.85 L119,265.67 L119.5,266.46 L120,267.23 L120.5,267.96 L121,268.65 L121.5,269.31 L122,269.93 L122.5,270.51 L123,271.05 L123.5,271.56 L124,272.02 L124.5,272.45 L125,272.85 L125.5,273.21 L126,273.54 L126.5,273.83 L127,274.1 L127.5,274.34 L128,274.56 L128.5,274.75 L129,274.92 L129.5,275.07 L130,275.2 L130.5,275.32 L131,275.42 L131.5,275.5 L132,275.58 L132.5,275.65 L133,275.7 L133.5,275.75 L134,275.79 L134.5,275.83 L135,275.86 L135.5,275.88 L136,275.9 L136.5,275.92 L137,275.93 L137.5,275.95 L138,275.96 L138.5,275.96 L139,275.97 L139.5,275.98 L140,275.98 L140.5,275.99 L141,275.99 L141.5,275.99" fill="none" stroke="#c9a465" stroke-width="1.1"/>
<path d="M103,276 L103.5,276 L104,276 L104.5,276 L105,276 L105.5,275.99 L106,275.99 L106.5,275.99 L107,275.99 L107.5,275.98 L108,275.98 L108.5,275.97 L109,275.96 L109.5,275.95 L110,275.93 L110.5,275.92 L111,275.9 L111.5,275.87 L112,275.84 L112.5,275.81 L113,275.77 L113.5,275.72 L114,275.67 L114.5,275.61 L115,275.54 L115.5,275.46 L116,275.37 L116.5,275.27 L117,275.17 L117.5,275.05 L118,274.93 L118.5,274.79 L119,274.66 L119.5,274.51 L120,274.36 L120.5,274.21 L121,274.06 L121.5,273.91 L122,273.76 L122.5,273.62 L123,273.49 L123.5,273.37 L124,273.27 L124.5,273.18 L125,273.1 L125.5,273.05 L126,273.01 L126.5,273 L127,273.01 L127.5,273.03 L128,273.08 L128.5,273.15 L129,273.23 L129.5,273.33 L130,273.44 L130.5,273.57 L131,273.71 L131.5,273.85 L132,274 L132.5,274.15 L133,274.3 L133.5,274.45 L134,274.6 L134.5,274.74 L135,274.87 L135.5,275 L136,275.12 L136.5,275.23 L137,275.33 L137.5,275.42 L138,275.51 L138.5,275.58 L139,275.65 L139.5,275.7 L140,275.75 L140.5,275.8 L141,275.83 L141.5,275.86 L142,275.89 L142.5,275.91 L143,275.93 L143.5,275.94 L144,275.96 L144.5,275.96 L145,275.97 L145.5,275.98 L146,275.98 L146.5,275.99 L147,275.99 L147.5,275.99 L148,275.99 L148.5,276 L149,276 L149.5,276 L150,276" fill="none" stroke="#4e7a2e" stroke-width="1.1"/>
<path d="M25.5,276 L26,276 L26.5,276 L27,276 L27.5,276 L28,276 L28.5,276 L29,276 L29.5,276 L30,276 L30.5,276 L31,276 L31.5,276 L32,276 L32.5,276 L33,276 L33.5,276 L34,276 L34.5,276 L35,276 L35.5,276 L36,276 L36.5,276 L37,276 L37.5,276 L38,276 L38.5,276 L39,276 L39.5,276 L40,276 L40.5,276 L41,276 L41.5,276 L42,276 L42.5,276 L43,276 L43.5,276 L44,276 L44.5,276 L45,276 L45.5,276 L46,276 L46.5,276 L47,276 L47.5,276 L48,276 L48.5,276 L49,276 L49.5,276 L50,276 L50.5,276 L51,276 L51.5,276 L52,276 L52.5,276 L53,276 L53.5,276 L54,276 L54.5,276 L55,276 L55.5,276 L56,276 L56.5,276 L57,276 L57.5,276 L58,276 L58.5,276 L59,276 L59.5,276 L60,276 L60.5,276 L61,276 L61.5,276 L62,276 L62.5,276 L63,276 L63.5,276 L64,276 L64.5,276 L65,276 L65.5,276 L66,276 L66.5,276 L67,276 L67.5,276 L68,276 L68.5,276 L69,275.99 L69.5,275.99 L70,275.99 L70.5,275.99 L71,275.99 L71.5,275.98 L72,275.98 L72.5,275.98 L73,275.97 L73.5,275.97 L74,275.96 L74.5,275.95 L75,275.94 L75.5,275.93 L76,275.92 L76.5,275.9 L77,275.88 L77.5,275.86 L78,275.84 L78.5,275.81 L79,275.78 L79.5,275.75 L80,275.7 L80.5,275.66 L81,275.6 L81.5,275.54 L82,275.47 L82.5,275.4 L83,275.31 L83.5,275.21 L84,275.1 L84.5,274.97 L85,274.84 L85.5,274.68 L86,274.51 L86.5,274.32 L87,274.1 L87.5,273.87 L88,273.61 L88.5,273.33 L89,273.02 L89.5,272.68 L90,272.32 L90.5,271.92 L91,271.49 L91.5,271.03 L92,270.53 L92.5,269.99 L93,269.43 L93.5,268.82 L94,268.19 L94.5,267.52 L95,266.81 L95.5,266.08 L96,265.31 L96.5,264.52 L97,263.71 L97.5,262.88 L98,262.03 L98.5,261.17 L99,260.31 L99.5,259.45 L100,258.59 L100.5,257.75 L101,256.92 L101.5,256.12 L102,255.35 L102.5,254.62 L103,253.94 L103.5,253.3 L104,252.73 L104.5,252.21 L105,251.77 L105.5,251.39 L106,251.1 L106.5,250.88 L107,250.75 L107.5,250.69 L108,250.72 L108.5,250.84 L109,251.03 L109.5,251.31 L110,251.66 L110.5,252.09 L111,252.58 L111.5,253.13 L112,253.74 L112.5,254.4 L113,255.11 L113.5,255.85 L114,256.61 L114.5,257.4 L115,258.2 L115.5,259.01 L116,259.82 L116.5,260.62 L117,261.4 L117.5,262.17 L118,262.91 L118.5,263.63 L119,264.31 L119.5,264.96 L120,265.58 L120.5,266.16 L121,266.7 L121.5,267.21 L122,267.69 L122.5,268.13 L123,268.54 L123.5,268.93 L124,269.29 L124.5,269.63 L125,269.95 L125.5,270.26 L126,270.55 L126.5,270.83 L127,271.11 L127.5,271.37 L128,271.64 L128.5,271.89 L129,272.15 L129.5,272.4 L130,272.64 L130.5,272.89 L131,273.12 L131.5,273.35 L132,273.58 L132.5,273.8 L133,274 L133.5,274.2 L134,274.39 L134.5,274.57 L135,274.73 L135.5,274.88 L136,275.02 L136.5,275.15 L137,275.27 L137.5,275.37 L138,275.46 L138.5,275.55 L139,275.62 L139.5,275.68 L140,275.73 L140.5,275.78 L141,275.82 L141.5,275.85 L142,275.88 L142.5,275.9 L143,275.92 L143.5,275.94 L144,275.95 L144.5,275.96 L145,275.97 L145.5,275.98 L146,275.98 L146.5,275.99 L147,275.99 L147.5,275.99 L148,275.99 L148.5,276 L149,276 L149.5,276 L150,276" fill="none" stroke="#d08a48" stroke-width="1"/>
<path d="M25.5,276.45 L26.7,275.59 L27.9,275.72 L29.1,276.03 L30.3,275.79 L31.5,276.23 L32.7,276.14 L33.9,276.02 L35.1,276.34 L36.3,276.06 L37.5,275.81 L38.7,275.88 L39.9,276.35 L41.1,276.4 L42.3,275.71 L43.5,276.35 L44.7,276.47 L45.9,276.02 L47.1,276.07 L48.3,275.7 L49.5,276.04 L50.7,276 L51.9,276.11 L53.1,275.53 L54.3,276.47 L55.5,276.02 L56.7,275.9 L57.9,276.3 L59.1,276.06 L60.3,275.99 L61.5,276.19 L62.7,275.57 L63.9,276.04 L65.1,275.91 L66.3,276.46 L67.5,276.42 L68.7,275.76 L69.9,275.96 L71.1,275.61 L72.3,275.91 L73.5,276.28 L74.7,276.35 L75.9,275.9 L77.1,275.7 L78.3,275.52 L79.5,275.86 L80.7,276.06 L81.9,275.12 L83.1,275.57 L84.3,274.55 L85.5,274.37 L86.7,273.96 L87.9,273.85 L89.1,272.78 L90.3,271.94 L91.5,271.14 L92.7,269.38 L93.9,268.55 L95.1,266.29 L96.3,264.85 L97.5,262.63 L98.7,260.53 L99.9,258.79 L101.1,256.7 L102.3,254.78 L103.5,253.22 L104.7,252.06 L105.9,250.81 L107.1,250.43 L108.3,250.91 L109.5,251.45 L110.7,252.3 L111.9,253.97 L113.1,255.36 L114.3,257.44 L115.5,258.74 L116.7,261.17 L117.9,263.08 L119.1,264.85 L120.3,265.75 L121.5,267.03 L122.7,268.72 L123.9,268.94 L125.1,270.51 L126.3,271.11 L127.5,271.01 L128.7,271.74 L129.9,272.82 L131.1,272.93 L132.3,273.31 L133.5,274.53 L134.7,274.55 L135.9,275.29 L137.1,274.91 L138.3,275.42 L139.5,275.86 L140.7,275.31 L141.9,275.58 L143.1,276.11 L144.3,276.37 L145.5,276.45 L146.7,275.6 L147.9,276 L149.1,276.26 L150.3,276" fill="none" stroke="#2a1e24" stroke-width="0.9"/>
<text x="28.7" y="269.7" font-size="7.8" text-anchor="start" fill="#1e1e1e" font-family="Liberation Serif" textLength="46" lengthAdjust="spacingAndGlyphs" stroke="#1e1e1e" stroke-width="0.22">N-LTO_NC(600)</text>
<path d="M78,305.79 L78.5,305.79 L79,305.78 L79.5,305.78 L80,305.77 L80.5,305.76 L81,305.76 L81.5,305.74 L82,305.73 L82.5,305.71 L83,305.69 L83.5,305.66 L84,305.63 L84.5,305.58 L85,305.54 L85.5,305.48 L86,305.41 L86.5,305.32 L87,305.22 L87.5,305.11 L88,304.97 L88.5,304.82 L89,304.63 L89.5,304.43 L90,304.19 L90.5,303.92 L91,303.61 L91.5,303.26 L92,302.87 L92.5,302.44 L93,301.97 L93.5,301.44 L94,300.87 L94.5,300.24 L95,299.57 L95.5,298.84 L96,298.07 L96.5,297.25 L97,296.39 L97.5,295.48 L98,294.54 L98.5,293.57 L99,292.58 L99.5,291.57 L100,290.55 L100.5,289.54 L101,288.54 L101.5,287.56 L102,286.61 L102.5,285.7 L103,284.85 L103.5,284.06 L104,283.35 L104.5,282.71 L105,282.17 L105.5,281.72 L106,281.38 L106.5,281.14 L107,281.02 L107.5,281.01 L108,281.11 L108.5,281.32 L109,281.65 L109.5,282.07 L110,282.6 L110.5,283.21 L111,283.91 L111.5,284.69 L112,285.53 L112.5,286.43 L113,287.37 L113.5,288.34 L114,289.34 L114.5,290.35 L115,291.37 L115.5,292.38 L116,293.37 L116.5,294.35 L117,295.3 L117.5,296.21 L118,297.08 L118.5,297.91 L119,298.69 L119.5,299.43 L120,300.11 L120.5,300.75 L121,301.33 L121.5,301.87 L122,302.35 L122.5,302.79 L123,303.19 L123.5,303.54 L124,303.86 L124.5,304.14 L125,304.38 L125.5,304.6 L126,304.78 L126.5,304.94 L127,305.08 L127.5,305.2 L128,305.3 L128.5,305.39 L129,305.46 L129.5,305.52 L130,305.58 L130.5,305.62 L131,305.65 L131.5,305.68 L132,305.71 L132.5,305.72 L133,305.74 L133.5,305.75 L134,305.76 L134.5,305.77 L135,305.78 L135.5,305.78 L136,305.79 L136.5,305.79" fill="none" stroke="#a89048" stroke-width="1.1"/>
<path d="M25.5,305.8 L26,305.8 L26.5,305.8 L27,305.8 L27.5,305.8 L28,305.8 L28.5,305.8 L29,305.8 L29.5,305.8 L30,305.8 L30.5,305.8 L31,305.8 L31.5,305.8 L32,305.8 L32.5,305.8 L33,305.8 L33.5,305.8 L34,305.8 L34.5,305.8 L35,305.8 L35.5,305.8 L36,305.8 L36.5,305.8 L37,305.8 L37.5,305.8 L38,305.8 L38.5,305.8 L39,305.8 L39.5,305.8 L40,305.8 L40.5,305.8 L41,305.8 L41.5,305.8 L42,305.8 L42.5,305.8 L43,305.8 L43.5,305.8 L44,305.8 L44.5,305.8 L45,305.8 L45.5,305.8 L46,305.8 L46.5,305.8 L47,305.8 L47.5,305.8 L48,305.8 L48.5,305.8 L49,305.8 L49.5,305.8 L50,305.8 L50.5,305.8 L51,305.8 L51.5,305.8 L52,305.8 L52.5,305.8 L53,305.8 L53.5,305.8 L54,305.8 L54.5,305.8 L55,305.8 L55.5,305.8 L56,305.8 L56.5,305.8 L57,305.8 L57.5,305.8 L58,305.8 L58.5,305.8 L59,305.8 L59.5,305.8 L60,305.8 L60.5,305.8 L61,305.8 L61.5,305.8 L62,305.8 L62.5,305.8 L63,305.8 L63.5,305.8 L64,305.8 L64.5,305.8 L65,305.8 L65.5,305.8 L66,305.8 L66.5,305.8 L67,305.8 L67.5,305.8 L68,305.8 L68.5,305.8 L69,305.8 L69.5,305.8 L70,305.8 L70.5,305.8 L71,305.8 L71.5,305.8 L72,305.8 L72.5,305.8 L73,305.8 L73.5,305.8 L74,305.8 L74.5,305.8 L75,305.8 L75.5,305.8 L76,305.8 L76.5,305.8 L77,305.79 L77.5,305.79 L78,305.79 L78.5,305.79 L79,305.78 L79.5,305.78 L80,305.77 L80.5,305.76 L81,305.76 L81.5,305.74 L82,305.73 L82.5,305.71 L83,305.69 L83.5,305.66 L84,305.63 L84.5,305.58 L85,305.54 L85.5,305.48 L86,305.41 L86.5,305.32 L87,305.22 L87.5,305.11 L88,304.97 L88.5,304.82 L89,304.63 L89.5,304.43 L90,304.19 L90.5,303.92 L91,303.61 L91.5,303.26 L92,302.87 L92.5,302.44 L93,301.97 L93.5,301.44 L94,300.87 L94.5,300.24 L95,299.57 L95.5,298.84 L96,298.07 L96.5,297.25 L97,296.39 L97.5,295.48 L98,294.54 L98.5,293.57 L99,292.58 L99.5,291.57 L100,290.55 L100.5,289.54 L101,288.54 L101.5,287.56 L102,286.61 L102.5,285.7 L103,284.85 L103.5,284.06 L104,283.35 L104.5,282.71 L105,282.17 L105.5,281.72 L106,281.38 L106.5,281.14 L107,281.02 L107.5,281.01 L108,281.11 L108.5,281.32 L109,281.65 L109.5,282.07 L110,282.6 L110.5,283.21 L111,283.91 L111.5,284.69 L112,285.53 L112.5,286.43 L113,287.37 L113.5,288.34 L114,289.34 L114.5,290.35 L115,291.37 L115.5,292.38 L116,293.37 L116.5,294.35 L117,295.3 L117.5,296.21 L118,297.08 L118.5,297.91 L119,298.69 L119.5,299.43 L120,300.11 L120.5,300.75 L121,301.33 L121.5,301.87 L122,302.35 L122.5,302.79 L123,303.19 L123.5,303.54 L124,303.86 L124.5,304.14 L125,304.38 L125.5,304.6 L126,304.78 L126.5,304.94 L127,305.08 L127.5,305.2 L128,305.3 L128.5,305.39 L129,305.46 L129.5,305.52 L130,305.58 L130.5,305.62 L131,305.65 L131.5,305.68 L132,305.71 L132.5,305.72 L133,305.74 L133.5,305.75 L134,305.76 L134.5,305.77 L135,305.78 L135.5,305.78 L136,305.79 L136.5,305.79 L137,305.79 L137.5,305.79 L138,305.8 L138.5,305.8 L139,305.8 L139.5,305.8 L140,305.8 L140.5,305.8 L141,305.8 L141.5,305.8 L142,305.8 L142.5,305.8 L143,305.8 L143.5,305.8 L144,305.8 L144.5,305.8 L145,305.8 L145.5,305.8 L146,305.8 L146.5,305.8 L147,305.8 L147.5,305.8 L148,305.8 L148.5,305.8 L149,305.8 L149.5,305.8 L150,305.8" fill="none" stroke="#b09048" stroke-width="1"/>
<path d="M25.5,306.02 L26.7,305.43 L27.9,305.28 L29.1,305.33 L30.3,305.24 L31.5,305.86 L32.7,305.82 L33.9,305.88 L35.1,305.38 L36.3,305.42 L37.5,305.44 L38.7,306.21 L39.9,306.39 L41.1,306.31 L42.3,305.31 L43.5,305.27 L44.7,306.34 L45.9,305.75 L47.1,306.12 L48.3,305.59 L49.5,305.76 L50.7,305.82 L51.9,305.72 L53.1,305.92 L54.3,305.22 L55.5,306.04 L56.7,306.21 L57.9,305.42 L59.1,305.74 L60.3,306.09 L61.5,305.69 L62.7,305.43 L63.9,305.4 L65.1,305.82 L66.3,305.22 L67.5,306.27 L68.7,306.16 L69.9,306.05 L71.1,306.23 L72.3,305.95 L73.5,305.68 L74.7,305.92 L75.9,305.8 L77.1,306.37 L78.3,306.15 L79.5,305.49 L80.7,306.25 L81.9,306.02 L83.1,306.02 L84.3,305.98 L85.5,305.36 L86.7,305.76 L87.9,305.46 L89.1,304.83 L90.3,304.35 L91.5,303.58 L92.7,302.15 L93.9,301.25 L95.1,298.91 L96.3,297.39 L97.5,295.44 L98.7,292.59 L99.9,290.58 L101.1,288.51 L102.3,286.21 L103.5,283.74 L104.7,283.02 L105.9,281.64 L107.1,280.81 L108.3,281.42 L109.5,282.16 L110.7,283.52 L111.9,285.22 L113.1,288.16 L114.3,290.12 L115.5,292.62 L116.7,295.05 L117.9,297.49 L119.1,298.27 L120.3,300.64 L121.5,302.15 L122.7,302.66 L123.9,303.68 L125.1,303.89 L126.3,304.52 L127.5,305.05 L128.7,304.94 L129.9,305.27 L131.1,306.15 L132.3,305.78 L133.5,305.76 L134.7,306.33 L135.9,305.87 L137.1,306.39 L138.3,305.96 L139.5,306.17 L140.7,305.29 L141.9,305.92 L143.1,306.11 L144.3,305.25 L145.5,306.32 L146.7,305.39 L147.9,305.77 L149.1,305.4 L150.3,305.79" fill="none" stroke="#6a5a24" stroke-width="0.9"/>
<text x="28.7" y="299.7" font-size="7.8" text-anchor="start" fill="#1e1e1e" font-family="Liberation Serif" textLength="26.5" lengthAdjust="spacingAndGlyphs" stroke="#1e1e1e" stroke-width="0.22">LTO_NC</text>
<line x1="25" y1="307.3" x2="151" y2="307.3" stroke="#6a64c0" stroke-width="0.9"/>
<text x="82.2" y="163.6" font-size="6.4" text-anchor="middle" fill="#3a36d0" font-family="Liberation Serif" font-weight="bold">N<tspan font-size="3.5" dy="1.2">1</tspan></text>
<text x="118" y="163.6" font-size="6.4" text-anchor="middle" fill="#c8a060" font-family="Liberation Serif" font-weight="bold">N<tspan font-size="3.5" dy="1.2">2</tspan></text>
<text x="146" y="163.3" font-size="6.4" text-anchor="middle" fill="#5a8a5a" font-family="Liberation Serif" font-weight="bold">N<tspan font-size="3.5" dy="1.2">3</tspan></text>
<path d="M84,165.5 L88.5,171.5 M114.5,164 L108.5,169 M145.2,165 L141.5,172" stroke="#888" stroke-width="0.6" fill="none"/>
<rect x="25" y="156.7" width="126" height="154.5" fill="none" stroke="#3a3a3a" stroke-width="1.1"/>
<line x1="25.5" y1="311.2" x2="25.5" y2="309" stroke="#333" stroke-width="0.7"/>
<text x="25.5" y="318.8" font-size="5.9" text-anchor="middle" fill="#222" font-family="Liberation Serif" textLength="8.6" lengthAdjust="spacingAndGlyphs"  stroke="#222" stroke-width="0.2">408</text>
<line x1="34.02" y1="311.2" x2="34.02" y2="309.9" stroke="#333" stroke-width="0.7"/>
<line x1="42.54" y1="311.2" x2="42.54" y2="309" stroke="#333" stroke-width="0.7"/>
<text x="42.54" y="318.8" font-size="5.9" text-anchor="middle" fill="#222" font-family="Liberation Serif" textLength="8.6" lengthAdjust="spacingAndGlyphs"  stroke="#222" stroke-width="0.2">406</text>
<line x1="51.06" y1="311.2" x2="51.06" y2="309.9" stroke="#333" stroke-width="0.7"/>
<line x1="59.58" y1="311.2" x2="59.58" y2="309" stroke="#333" stroke-width="0.7"/>
<text x="59.58" y="318.8" font-size="5.9" text-anchor="middle" fill="#222" font-family="Liberation Serif" textLength="8.6" lengthAdjust="spacingAndGlyphs"  stroke="#222" stroke-width="0.2">404</text>
<line x1="68.1" y1="311.2" x2="68.1" y2="309.9" stroke="#333" stroke-width="0.7"/>
<line x1="76.62" y1="311.2" x2="76.62" y2="309" stroke="#333" stroke-width="0.7"/>
<text x="76.62" y="318.8" font-size="5.9" text-anchor="middle" fill="#222" font-family="Liberation Serif" textLength="8.6" lengthAdjust="spacingAndGlyphs"  stroke="#222" stroke-width="0.2">402</text>
<line x1="85.14" y1="311.2" x2="85.14" y2="309.9" stroke="#333" stroke-width="0.7"/>
<line x1="93.66" y1="311.2" x2="93.66" y2="309" stroke="#333" stroke-width="0.7"/>
<text x="93.66" y="318.8" font-size="5.9" text-anchor="middle" fill="#222" font-family="Liberation Serif" textLength="8.6" lengthAdjust="spacingAndGlyphs"  stroke="#222" stroke-width="0.2">400</text>
<line x1="102.18" y1="311.2" x2="102.18" y2="309.9" stroke="#333" stroke-width="0.7"/>
<line x1="110.7" y1="311.2" x2="110.7" y2="309" stroke="#333" stroke-width="0.7"/>
<text x="110.7" y="318.8" font-size="5.9" text-anchor="middle" fill="#222" font-family="Liberation Serif" textLength="8.6" lengthAdjust="spacingAndGlyphs"  stroke="#222" stroke-width="0.2">398</text>
<line x1="119.22" y1="311.2" x2="119.22" y2="309.9" stroke="#333" stroke-width="0.7"/>
<line x1="127.74" y1="311.2" x2="127.74" y2="309" stroke="#333" stroke-width="0.7"/>
<text x="127.74" y="318.8" font-size="5.9" text-anchor="middle" fill="#222" font-family="Liberation Serif" textLength="8.6" lengthAdjust="spacingAndGlyphs"  stroke="#222" stroke-width="0.2">396</text>
<line x1="136.26" y1="311.2" x2="136.26" y2="309.9" stroke="#333" stroke-width="0.7"/>
<line x1="144.78" y1="311.2" x2="144.78" y2="309" stroke="#333" stroke-width="0.7"/>
<text x="144.78" y="318.8" font-size="5.9" text-anchor="middle" fill="#222" font-family="Liberation Serif" textLength="8.6" lengthAdjust="spacingAndGlyphs"  stroke="#222" stroke-width="0.2">394</text>
<text x="87" y="336.8" font-size="11" text-anchor="middle" fill="#222" font-family="Liberation Serif" textLength="90" lengthAdjust="spacingAndGlyphs" >Binding energy (eV)</text>
<text transform="translate(19.8,231.9) rotate(-90)" font-size="11" text-anchor="middle" fill="#222" font-family="Liberation Serif" textLength="69" lengthAdjust="spacingAndGlyphs">Intensity (a.u.)</text>
<text x="182.2" y="128.6" font-size="10.5" text-anchor="middle" fill="#222" font-family="Liberation Serif" textLength="9.6" lengthAdjust="spacingAndGlyphs" >(f)</text>
<rect x="205" y="280" width="43" height="32" fill="#effafa"/>
<circle cx="198.6" cy="311" r="1.5" fill="#8a9020"/>
<circle cx="198.96" cy="309.37" r="1.5" fill="#8a9020"/>
<circle cx="199.39" cy="307.73" r="1.5" fill="#8a9020"/>
<circle cx="199.86" cy="306.1" r="1.5" fill="#8a9020"/>
<circle cx="200.35" cy="304.47" r="1.5" fill="#8a9020"/>
<circle cx="200.86" cy="302.83" r="1.5" fill="#8a9020"/>
<circle cx="201.39" cy="301.2" r="1.5" fill="#8a9020"/>
<circle cx="201.93" cy="299.57" r="1.5" fill="#8a9020"/>
<circle cx="202.48" cy="297.93" r="1.5" fill="#8a9020"/>
<circle cx="203.05" cy="296.3" r="1.5" fill="#8a9020"/>
<circle cx="203.62" cy="294.67" r="1.5" fill="#8a9020"/>
<circle cx="204.2" cy="293.03" r="1.5" fill="#8a9020"/>
<circle cx="204.79" cy="291.4" r="1.5" fill="#8a9020"/>
<circle cx="205.39" cy="289.77" r="1.5" fill="#8a9020"/>
<circle cx="205.99" cy="288.13" r="1.5" fill="#8a9020"/>
<circle cx="206.6" cy="286.5" r="1.5" fill="#8a9020"/>
<circle cx="206.6" cy="286.7" r="1.65" fill="#62620f"/>
<circle cx="208.4" cy="282.6" r="1.65" fill="#62620f"/>
<circle cx="210.5" cy="278" r="1.65" fill="#62620f"/>
<circle cx="213.4" cy="273.4" r="1.65" fill="#62620f"/>
<circle cx="216.8" cy="267.9" r="1.65" fill="#62620f"/>
<circle cx="220.9" cy="261.8" r="1.65" fill="#62620f"/>
<circle cx="225.9" cy="254.8" r="1.65" fill="#62620f"/>
<circle cx="231.5" cy="248.1" r="1.65" fill="#62620f"/>
<circle cx="238.8" cy="241.3" r="1.65" fill="#62620f"/>
<circle cx="247.1" cy="234.7" r="1.65" fill="#62620f"/>
<circle cx="256.7" cy="228.9" r="1.65" fill="#62620f"/>
<circle cx="267.2" cy="224.3" r="1.65" fill="#62620f"/>
<circle cx="278.8" cy="220.9" r="1.65" fill="#62620f"/>
<circle cx="290.5" cy="219.5" r="1.65" fill="#62620f"/>
<circle cx="302.4" cy="219.9" r="1.65" fill="#62620f"/>
<circle cx="314.3" cy="222.1" r="1.65" fill="#62620f"/>
<circle cx="325.4" cy="225.3" r="1.65" fill="#62620f"/>
<circle cx="335.5" cy="230.5" r="1.65" fill="#62620f"/>
<circle cx="344.7" cy="237.1" r="1.65" fill="#62620f"/>
<circle cx="352.4" cy="244.5" r="1.65" fill="#62620f"/>
<circle cx="359" cy="251.5" r="1.65" fill="#62620f"/>
<circle cx="364.5" cy="258" r="1.65" fill="#62620f"/>
<circle cx="368.6" cy="264.5" r="1.65" fill="#62620f"/>
<circle cx="200.21" cy="308.5" r="1.55" fill="#2c6410"/>
<circle cx="200.48" cy="306.67" r="1.55" fill="#2c6410"/>
<circle cx="200.85" cy="304.87" r="1.55" fill="#2c6410"/>
<circle cx="201.33" cy="303.1" r="1.55" fill="#2c6410"/>
<circle cx="201.9" cy="301.38" r="1.55" fill="#2c6410"/>
<circle cx="202.58" cy="299.71" r="1.55" fill="#2c6410"/>
<circle cx="203.34" cy="298.1" r="1.55" fill="#2c6410"/>
<circle cx="204.2" cy="296.56" r="1.55" fill="#2c6410"/>
<circle cx="205.15" cy="295.1" r="1.55" fill="#2c6410"/>
<circle cx="206.17" cy="293.72" r="1.55" fill="#2c6410"/>
<circle cx="207.28" cy="292.43" r="1.55" fill="#2c6410"/>
<circle cx="208.46" cy="291.24" r="1.55" fill="#2c6410"/>
<circle cx="209.7" cy="290.15" r="1.55" fill="#2c6410"/>
<circle cx="211" cy="289.16" r="1.55" fill="#2c6410"/>
<circle cx="212.36" cy="288.29" r="1.55" fill="#2c6410"/>
<circle cx="213.76" cy="287.54" r="1.55" fill="#2c6410"/>
<circle cx="215.2" cy="286.9" r="1.55" fill="#2c6410"/>
<circle cx="216.68" cy="286.39" r="1.55" fill="#2c6410"/>
<circle cx="218.18" cy="286" r="1.55" fill="#2c6410"/>
<circle cx="219.7" cy="285.75" r="1.55" fill="#2c6410"/>
<circle cx="221.23" cy="285.62" r="1.55" fill="#2c6410"/>
<circle cx="222.77" cy="285.62" r="1.55" fill="#2c6410"/>
<circle cx="224.3" cy="285.75" r="1.55" fill="#2c6410"/>
<circle cx="225.82" cy="286" r="1.55" fill="#2c6410"/>
<circle cx="227.32" cy="286.39" r="1.55" fill="#2c6410"/>
<circle cx="228.8" cy="286.9" r="1.55" fill="#2c6410"/>
<circle cx="230.24" cy="287.54" r="1.55" fill="#2c6410"/>
<circle cx="231.64" cy="288.29" r="1.55" fill="#2c6410"/>
<circle cx="233" cy="289.16" r="1.55" fill="#2c6410"/>
<circle cx="234.3" cy="290.15" r="1.55" fill="#2c6410"/>
<circle cx="235.54" cy="291.24" r="1.55" fill="#2c6410"/>
<circle cx="236.72" cy="292.43" r="1.55" fill="#2c6410"/>
<circle cx="237.83" cy="293.72" r="1.55" fill="#2c6410"/>
<circle cx="238.85" cy="295.1" r="1.55" fill="#2c6410"/>
<circle cx="239.8" cy="296.56" r="1.55" fill="#2c6410"/>
<circle cx="240.66" cy="298.1" r="1.55" fill="#2c6410"/>
<circle cx="241.42" cy="299.71" r="1.55" fill="#2c6410"/>
<circle cx="242.1" cy="301.38" r="1.55" fill="#2c6410"/>
<circle cx="242.67" cy="303.1" r="1.55" fill="#2c6410"/>
<circle cx="243.15" cy="304.87" r="1.55" fill="#2c6410"/>
<path d="M200.5,312.2 A15,16.9 0 0 1 230.5,312.2" fill="none" stroke="#0a0a78" stroke-width="3"/>
<path d="M198.6,312.2 A7.9,7.7 0 0 1 214.4,312.2" fill="none" stroke="#487aa2" stroke-width="2.7"/>
<path d="M199.8,312.4 A4.7,4.4 0 0 1 209.2,312.4" fill="none" stroke="#88cc6a" stroke-width="1.8"/>
<path d="M201.6,312.4 A2.7,2.6 0 0 1 207,312.4" fill="none" stroke="#dff4f2" stroke-width="1.6"/>
<rect x="198" y="152.3" width="170.7" height="160.1" fill="none" stroke="#1e1e1e" stroke-width="1.5"/>
<line x1="198" y1="312.4" x2="198" y2="315" stroke="#2a2a2a" stroke-width="1"/>
<text x="198" y="322.1" font-size="6" text-anchor="middle" fill="#222" font-family="Liberation Serif"  stroke="#222" stroke-width="0.2">0</text>
<line x1="215.07" y1="312.4" x2="215.07" y2="314" stroke="#2a2a2a" stroke-width="1"/>
<line x1="232.14" y1="312.4" x2="232.14" y2="315" stroke="#2a2a2a" stroke-width="1"/>
<text x="232.14" y="322.1" font-size="6" text-anchor="middle" fill="#222" font-family="Liberation Serif" textLength="9.4" lengthAdjust="spacingAndGlyphs"  stroke="#222" stroke-width="0.2">100</text>
<line x1="249.21" y1="312.4" x2="249.21" y2="314" stroke="#2a2a2a" stroke-width="1"/>
<line x1="266.28" y1="312.4" x2="266.28" y2="315" stroke="#2a2a2a" stroke-width="1"/>
<text x="266.28" y="322.1" font-size="6" text-anchor="middle" fill="#222" font-family="Liberation Serif" textLength="9.4" lengthAdjust="spacingAndGlyphs"  stroke="#222" stroke-width="0.2">200</text>
<line x1="283.35" y1="312.4" x2="283.35" y2="314" stroke="#2a2a2a" stroke-width="1"/>
<line x1="300.42" y1="312.4" x2="300.42" y2="315" stroke="#2a2a2a" stroke-width="1"/>
<text x="300.42" y="322.1" font-size="6" text-anchor="middle" fill="#222" font-family="Liberation Serif" textLength="9.4" lengthAdjust="spacingAndGlyphs"  stroke="#222" stroke-width="0.2">300</text>
<line x1="317.49" y1="312.4" x2="317.49" y2="314" stroke="#2a2a2a" stroke-width="1"/>
<line x1="334.56" y1="312.4" x2="334.56" y2="315" stroke="#2a2a2a" stroke-width="1"/>
<text x="334.56" y="322.1" font-size="6" text-anchor="middle" fill="#222" font-family="Liberation Serif" textLength="9.4" lengthAdjust="spacingAndGlyphs"  stroke="#222" stroke-width="0.2">400</text>
<line x1="351.63" y1="312.4" x2="351.63" y2="314" stroke="#2a2a2a" stroke-width="1"/>
<line x1="368.7" y1="312.4" x2="368.7" y2="315" stroke="#2a2a2a" stroke-width="1"/>
<text x="368.7" y="322.1" font-size="6" text-anchor="middle" fill="#222" font-family="Liberation Serif" textLength="9.4" lengthAdjust="spacingAndGlyphs"  stroke="#222" stroke-width="0.2">500</text>
<line x1="198" y1="312.4" x2="195.4" y2="312.4" stroke="#2a2a2a" stroke-width="1"/>
<text x="194.6" y="314.5" font-size="6" text-anchor="end" fill="#222" font-family="Liberation Serif"  stroke="#222" stroke-width="0.2">0</text>
<line x1="198" y1="289.6" x2="196.4" y2="289.6" stroke="#2a2a2a" stroke-width="1"/>
<line x1="198" y1="266.8" x2="195.4" y2="266.8" stroke="#2a2a2a" stroke-width="1"/>
<text x="194.6" y="268.9" font-size="6" text-anchor="end" fill="#222" font-family="Liberation Serif" textLength="9.6" lengthAdjust="spacingAndGlyphs"  stroke="#222" stroke-width="0.2">100</text>
<line x1="198" y1="244" x2="196.4" y2="244" stroke="#2a2a2a" stroke-width="1"/>
<line x1="198" y1="221.2" x2="195.4" y2="221.2" stroke="#2a2a2a" stroke-width="1"/>
<text x="194.6" y="223.3" font-size="6" text-anchor="end" fill="#222" font-family="Liberation Serif" textLength="9.6" lengthAdjust="spacingAndGlyphs"  stroke="#222" stroke-width="0.2">200</text>
<line x1="198" y1="198.4" x2="196.4" y2="198.4" stroke="#2a2a2a" stroke-width="1"/>
<line x1="198" y1="175.6" x2="195.4" y2="175.6" stroke="#2a2a2a" stroke-width="1"/>
<text x="194.6" y="177.7" font-size="6" text-anchor="end" fill="#222" font-family="Liberation Serif" textLength="9.6" lengthAdjust="spacingAndGlyphs"  stroke="#222" stroke-width="0.2">300</text>
<line x1="198" y1="152.8" x2="196.4" y2="152.8" stroke="#2a2a2a" stroke-width="1"/>
<text x="282.4" y="336.2" font-size="10" text-anchor="middle" fill="#222" font-family="Liberation Serif" textLength="38.8" lengthAdjust="spacingAndGlyphs" >Z′ (ohm)</text>
<text transform="translate(184.4,232) rotate(-90)" font-size="11" text-anchor="middle" fill="#222" font-family="Liberation Serif" textLength="48.7" lengthAdjust="spacingAndGlyphs">-Z″ (ohm)</text>
<circle cx="215.6" cy="160.4" r="2.05" fill="#4a4a1c"/>
<text x="220.3" y="162.9" font-size="8" text-anchor="start" fill="#2a2a2a" font-family="Liberation Serif" textLength="36.2" lengthAdjust="spacingAndGlyphs"  stroke="#2a2a2a" stroke-width="0.2">Ni<tspan font-size="4.6" dy="1.1">3</tspan><tspan dy="-1.1">S-Fe</tspan><tspan font-size="4.6" dy="1.1">3</tspan><tspan dy="-1.1">O</tspan><tspan font-size="4.6" dy="1.1">4</tspan><tspan dy="-1.1">/IF</tspan></text>
<circle cx="215.6" cy="170.8" r="2.05" fill="#a8a82a"/>
<text x="220.3" y="173.3" font-size="8" text-anchor="start" fill="#2a2a2a" font-family="Liberation Serif" textLength="37.7" lengthAdjust="spacingAndGlyphs"  stroke="#2a2a2a" stroke-width="0.2">Co<tspan font-size="4.6" dy="1.1">3</tspan><tspan dy="-1.1">S-Fe</tspan><tspan font-size="4.6" dy="1.1">3</tspan><tspan dy="-1.1">O</tspan><tspan font-size="4.6" dy="1.1">4</tspan><tspan dy="-1.1">/IF</tspan></text>
<circle cx="215.6" cy="181.6" r="2.05" fill="#2a1c4c"/>
<text x="220.3" y="184.1" font-size="8" text-anchor="start" fill="#2a2a2a" font-family="Liberation Serif" textLength="39.2" lengthAdjust="spacingAndGlyphs"  stroke="#2a2a2a" stroke-width="0.2">Mn<tspan font-size="4.6" dy="1.1">3</tspan><tspan dy="-1.1">S-Fe</tspan><tspan font-size="4.6" dy="1.1">3</tspan><tspan dy="-1.1">O</tspan><tspan font-size="4.6" dy="1.1">4</tspan><tspan dy="-1.1">/IF</tspan></text>
<circle cx="268" cy="160.4" r="2.05" fill="#0c0c74"/>
<text x="272.7" y="162.9" font-size="8" text-anchor="start" fill="#2a2a2a" font-family="Liberation Serif" textLength="31.6" lengthAdjust="spacingAndGlyphs"  stroke="#2a2a2a" stroke-width="0.2">Ni-Fe<tspan font-size="4.6" dy="1.1">3</tspan><tspan dy="-1.1">O</tspan><tspan font-size="4.6" dy="1.1">4</tspan><tspan dy="-1.1">/IF</tspan></text>
<circle cx="268" cy="170.8" r="2.05" fill="#1c4c1c"/>
<text x="272.7" y="173.3" font-size="8" text-anchor="start" fill="#2a2a2a" font-family="Liberation Serif" textLength="32.6" lengthAdjust="spacingAndGlyphs"  stroke="#2a2a2a" stroke-width="0.2">Co-Fe<tspan font-size="4.6" dy="1.1">3</tspan><tspan dy="-1.1">O</tspan><tspan font-size="4.6" dy="1.1">4</tspan><tspan dy="-1.1">/IF</tspan></text>
<circle cx="268" cy="181.6" r="2.05" fill="#5c5c1c"/>
<text x="272.7" y="184.1" font-size="8" text-anchor="start" fill="#2a2a2a" font-family="Liberation Serif" textLength="34.6" lengthAdjust="spacingAndGlyphs"  stroke="#2a2a2a" stroke-width="0.2">Mn-Fe<tspan font-size="4.6" dy="1.1">3</tspan><tspan dy="-1.1">O</tspan><tspan font-size="4.6" dy="1.1">4</tspan><tspan dy="-1.1">/IF</tspan></text>
<circle cx="319.4" cy="160.4" r="2.05" fill="#a4b464"/>
<text x="324.1" y="162.9" font-size="8" text-anchor="start" fill="#2a2a2a" font-family="Liberation Serif" textLength="29" lengthAdjust="spacingAndGlyphs"  stroke="#2a2a2a" stroke-width="0.2">S-Fe<tspan font-size="4.6" dy="1.1">3</tspan><tspan dy="-1.1">O</tspan><tspan font-size="4.6" dy="1.1">4</tspan><tspan dy="-1.1">/IF</tspan></text>
<circle cx="319.4" cy="170.8" r="2.05" fill="#3c5c9c"/>
<text x="324.1" y="173.3" font-size="8" text-anchor="start" fill="#2a2a2a" font-family="Liberation Serif" textLength="24.1" lengthAdjust="spacingAndGlyphs"  stroke="#2a2a2a" stroke-width="0.2">Fe<tspan font-size="4.6" dy="1.1">3</tspan><tspan dy="-1.1">O</tspan><tspan font-size="4.6" dy="1.1">4</tspan><tspan dy="-1.1">/IF</tspan></text>
<g stroke="#1e1e1e" stroke-width="1.1" fill="none">
<path d="M267,199.1 L282.7,199.1 L286.6,201.9 L290.8,197.2 L294.8,201.9 L299,197.2 L301.3,199.1 L329,199.1"/>
<path d="M328.5,197.3 L330.4,199.1 L328.5,200.9 M332.6,197.3 L334.5,199.1 L332.6,200.9"/>
<path d="M334.5,199.1 L360.4,199.1 M349.1,199.1 L349.1,212.7 L342.6,212.7 L339.5,215.3 L335.8,210.4 L332.2,215.3 L328.5,210.4 L325.4,215.3 L323,212.7 L317.2,212.7 L317.2,199.1"/>
</g>
<circle cx="317.3" cy="199.1" r="1.9" fill="#111"/>
<text x="300.2" y="209.3" font-size="5.5" text-anchor="start" fill="#444" font-family="Liberation Serif"  stroke="#444" stroke-width="0.2">R<tspan font-size="3.4" dy="1">s</tspan></text>
<text x="338" y="221.5" font-size="5.5" text-anchor="start" fill="#444" font-family="Liberation Serif"  stroke="#444" stroke-width="0.2">R<tspan font-size="3.4" dy="1">ct</tspan></text>
<text x="339.4" y="192.8" font-size="5.6" text-anchor="middle" fill="#333" font-family="Liberation Serif" font-weight="bold">CPE</text>
<rect x="267.4" y="233.6" width="65.2" height="60.9" fill="#fff"/>
<circle cx="272.6" cy="267" r="0.85" fill="#3a3a3a"/>
<circle cx="272.6" cy="261.6" r="0.85" fill="#3a3a3a"/>
<circle cx="273.7" cy="255.2" r="0.85" fill="#3a3a3a"/>
<circle cx="274.8" cy="247.3" r="0.85" fill="#3a3a3a"/>
<circle cx="276.4" cy="237.5" r="0.85" fill="#3a3a3a"/>
<circle cx="275.3" cy="263.8" r="0.85" fill="#444"/>
<circle cx="276.4" cy="258.3" r="0.85" fill="#444"/>
<circle cx="277.5" cy="251.7" r="0.85" fill="#444"/>
<circle cx="279.4" cy="244.5" r="0.85" fill="#444"/>
<circle cx="281.3" cy="236.9" r="0.85" fill="#444"/>
<circle cx="278" cy="266.5" r="0.85" fill="#3a3a4a"/>
<circle cx="281.3" cy="258.3" r="0.85" fill="#3a3a4a"/>
<circle cx="283.5" cy="252.8" r="0.85" fill="#3a3a4a"/>
<circle cx="286.3" cy="247.9" r="0.85" fill="#3a3a4a"/>
<circle cx="289.5" cy="242.4" r="0.85" fill="#3a3a4a"/>
<circle cx="293.4" cy="235.8" r="0.85" fill="#3a3a4a"/>
<circle cx="280.8" cy="267" r="0.85" fill="#3a3a3a"/>
<circle cx="284.6" cy="259.9" r="0.85" fill="#3a3a3a"/>
<circle cx="287" cy="256.2" r="0.85" fill="#3a3a3a"/>
<circle cx="290" cy="252.3" r="0.85" fill="#3a3a3a"/>
<circle cx="293.4" cy="249" r="0.85" fill="#3a3a3a"/>
<circle cx="297" cy="245.1" r="0.85" fill="#3a3a3a"/>
<circle cx="301" cy="241.9" r="0.85" fill="#3a3a3a"/>
<circle cx="305.4" cy="238.8" r="0.85" fill="#3a3a3a"/>
<circle cx="310.4" cy="236.4" r="0.85" fill="#3a3a3a"/>
<circle cx="279.7" cy="262.7" r="0.85" fill="#a8a860"/>
<circle cx="282.4" cy="258" r="0.85" fill="#a8a860"/>
<circle cx="286.5" cy="252" r="0.85" fill="#a8a860"/>
<circle cx="290.1" cy="246.8" r="0.85" fill="#a8a860"/>
<circle cx="293.9" cy="242.4" r="0.85" fill="#a8a860"/>
<circle cx="297.8" cy="237.5" r="0.85" fill="#a8a860"/>
<circle cx="269.17" cy="290.14" r="0.8" fill="#6a5a8a"/>
<circle cx="269.74" cy="286.29" r="0.8" fill="#6a5a8a"/>
<circle cx="270.31" cy="282.43" r="0.8" fill="#6a5a8a"/>
<circle cx="270.89" cy="278.57" r="0.8" fill="#6a5a8a"/>
<circle cx="271.46" cy="274.71" r="0.8" fill="#6a5a8a"/>
<circle cx="272.03" cy="270.86" r="0.8" fill="#6a5a8a"/>
<circle cx="269.56" cy="289.69" r="0.8" fill="#4a8a8a"/>
<circle cx="270.51" cy="285.37" r="0.8" fill="#4a8a8a"/>
<circle cx="271.47" cy="281.06" r="0.8" fill="#4a8a8a"/>
<circle cx="272.43" cy="276.74" r="0.8" fill="#4a8a8a"/>
<circle cx="273.39" cy="272.43" r="0.8" fill="#4a8a8a"/>
<circle cx="274.34" cy="268.11" r="0.8" fill="#4a8a8a"/>
<circle cx="269.94" cy="290.07" r="0.8" fill="#7a5a9a"/>
<circle cx="271.29" cy="286.14" r="0.8" fill="#7a5a9a"/>
<circle cx="272.63" cy="282.21" r="0.8" fill="#7a5a9a"/>
<circle cx="273.97" cy="278.29" r="0.8" fill="#7a5a9a"/>
<circle cx="275.31" cy="274.36" r="0.8" fill="#7a5a9a"/>
<circle cx="276.66" cy="270.43" r="0.8" fill="#7a5a9a"/>
<circle cx="270.34" cy="290.14" r="0.8" fill="#5a6a8a"/>
<circle cx="272.09" cy="286.29" r="0.8" fill="#5a6a8a"/>
<circle cx="273.83" cy="282.43" r="0.8" fill="#5a6a8a"/>
<circle cx="275.57" cy="278.57" r="0.8" fill="#5a6a8a"/>
<circle cx="277.31" cy="274.71" r="0.8" fill="#5a6a8a"/>
<circle cx="279.06" cy="270.86" r="0.8" fill="#5a6a8a"/>
<path d="M268.5,294 L269.5,283 L271,279 M269,294 L271,282" stroke="#7a5a9a" stroke-width="1" fill="none"/>
<path d="M268.5,294 L270,276" stroke="#4a8a8a" stroke-width="1.2" fill="none"/>
<path d="M271.3,294.5 A3.2,5 0 0 1 277.7,294.5" fill="none" stroke="#9a4a4a" stroke-width="1.2"/>
<path d="M273,294.5 A5,9 0 0 1 283,294.5" fill="none" stroke="#d4b438" stroke-width="1.2"/>
<line x1="270" y1="294.2" x2="292" y2="294.2" stroke="#e39ab0" stroke-width="0.9"/>
<rect x="267.4" y="233.6" width="65.2" height="60.9" fill="none" stroke="#333" stroke-width="0.9"/>
<line x1="267.4" y1="294.5" x2="265.8" y2="294.5" stroke="#333" stroke-width="0.6"/>
<text x="265.2" y="296.8" font-size="6.5" text-anchor="end" fill="#1a1a1a" font-family="Liberation Sans" font-weight="bold">0</text>
<line x1="267.4" y1="282.32" x2="265.8" y2="282.32" stroke="#333" stroke-width="0.6"/>
<text x="265.2" y="284.62" font-size="6.5" text-anchor="end" fill="#1a1a1a" font-family="Liberation Sans" font-weight="bold">2</text>
<line x1="267.4" y1="270.14" x2="265.8" y2="270.14" stroke="#333" stroke-width="0.6"/>
<text x="265.2" y="272.44" font-size="6.5" text-anchor="end" fill="#1a1a1a" font-family="Liberation Sans" font-weight="bold">4</text>
<line x1="267.4" y1="257.96" x2="265.8" y2="257.96" stroke="#333" stroke-width="0.6"/>
<text x="265.2" y="260.26" font-size="6.5" text-anchor="end" fill="#1a1a1a" font-family="Liberation Sans" font-weight="bold">6</text>
<line x1="267.4" y1="245.78" x2="265.8" y2="245.78" stroke="#333" stroke-width="0.6"/>
<text x="265.2" y="248.08" font-size="6.5" text-anchor="end" fill="#1a1a1a" font-family="Liberation Sans" font-weight="bold">8</text>
<line x1="267.4" y1="233.6" x2="265.8" y2="233.6" stroke="#333" stroke-width="0.6"/>
<text x="265.2" y="235.9" font-size="6.5" text-anchor="end" fill="#1a1a1a" font-family="Liberation Sans" font-weight="bold">10</text>
<line x1="267.4" y1="294.5" x2="267.4" y2="296.1" stroke="#333" stroke-width="0.6"/>
<text x="267.4" y="302.2" font-size="6.5" text-anchor="middle" fill="#1a1a1a" font-family="Liberation Sans" font-weight="bold">0</text>
<line x1="283.7" y1="294.5" x2="283.7" y2="296.1" stroke="#333" stroke-width="0.6"/>
<text x="283.7" y="302.2" font-size="6.5" text-anchor="middle" fill="#1a1a1a" font-family="Liberation Sans" font-weight="bold">5</text>
<line x1="300" y1="294.5" x2="300" y2="296.1" stroke="#333" stroke-width="0.6"/>
<text x="300" y="302.2" font-size="6.5" text-anchor="middle" fill="#1a1a1a" font-family="Liberation Sans" font-weight="bold">10</text>
<line x1="316.3" y1="294.5" x2="316.3" y2="296.1" stroke="#333" stroke-width="0.6"/>
<text x="316.3" y="302.2" font-size="6.5" text-anchor="middle" fill="#1a1a1a" font-family="Liberation Sans" font-weight="bold">15</text>
<line x1="332.6" y1="294.5" x2="332.6" y2="296.1" stroke="#333" stroke-width="0.6"/>
<text x="332.6" y="302.2" font-size="6.5" text-anchor="middle" fill="#1a1a1a" font-family="Liberation Sans" font-weight="bold">20</text>
<text x="300" y="309.8" font-size="6.2" text-anchor="middle" fill="#222" font-family="Liberation Sans" textLength="26" lengthAdjust="spacingAndGlyphs" font-weight="bold">Z′ (ohm)</text>
<text transform="translate(257.6,269.5) rotate(-90)" font-size="6.2" text-anchor="middle" fill="#222" font-family="Liberation Sans" font-weight="bold" textLength="32" lengthAdjust="spacingAndGlyphs">-Z″ (ohm)</text>
<text x="412.3" y="128.6" font-size="10.5" text-anchor="middle" fill="#222" font-family="Liberation Serif" textLength="11.4" lengthAdjust="spacingAndGlyphs" >(g)</text>
<clipPath id="gcL"><rect x="424.4" y="132.6" width="113.2" height="44.7"/></clipPath>
<g clip-path="url(#gcL)">
<path d="M424.4,176.3 L424.97,176.3 L425.53,176.3 L426.1,176.3 L426.66,176.3 L427.23,176.3 L427.8,176.3 L428.36,176.3 L428.93,176.3 L429.49,176.3 L430.06,176.3 L430.63,176.3 L431.19,176.3 L431.76,176.3 L432.32,176.3 L432.89,176.3 L433.46,176.3 L434.02,176.3 L434.59,176.3 L435.15,176.3 L435.72,176.3 L436.29,176.3 L436.85,176.3 L437.42,176.3 L437.98,176.3 L438.55,176.3 L439.12,176.3 L439.68,176.3 L440.25,176.3 L440.81,176.3 L441.38,176.3 L441.95,176.3 L442.51,176.3 L443.08,176.3 L443.64,176.3 L444.21,176.3 L444.78,176.3 L445.34,176.3 L445.91,176.3 L446.47,176.3 L447.04,176.3 L447.61,176.3 L448.17,176.3 L448.74,176.3 L449.3,176.3 L449.87,176.3 L450.44,176.3 L451,176.3 L451.57,176.3 L452.13,176.3 L452.7,176.3 L453.27,176.3 L453.83,176.3 L454.4,176.3 L454.96,176.3 L455.53,176.3 L456.1,176.3 L456.66,176.3 L457.23,176.3 L457.79,176.3 L458.36,176.3 L458.93,176.3 L459.49,176.3 L460.06,176.3 L460.62,176.3 L461.19,176.3 L461.76,176.3 L462.32,176.3 L462.89,176.3 L463.45,176.3 L464.02,176.3 L464.59,176.3 L465.15,176.3 L465.72,176.3 L466.28,176.3 L466.85,176.29 L467.42,176.29 L467.98,176.29 L468.55,176.28 L469.11,176.27 L469.68,176.26 L470.25,176.24 L470.81,176.22 L471.38,176.19 L471.94,176.15 L472.51,176.1 L473.08,176.04 L473.64,175.97 L474.21,175.89 L474.77,175.79 L475.34,175.69 L475.91,175.58 L476.47,175.46 L477.04,175.34 L477.6,175.22 L478.17,175.11 L478.74,175.01 L479.3,174.93 L479.87,174.87 L480.43,174.83 L481,174.81 L481.57,174.83 L482.13,174.86 L482.7,174.92 L483.26,175 L483.83,175.1 L484.4,175.21 L484.96,175.32 L485.53,175.43 L486.09,175.55 L486.66,175.65 L487.23,175.75 L487.79,175.84 L488.36,175.91 L488.92,175.97 L489.49,176.02 L490.06,176.06 L490.62,176.08 L491.19,176.1 L491.75,176.11 L492.32,176.11 L492.89,176.11 L493.45,176.1 L494.02,176.08 L494.58,176.07 L495.15,176.05 L495.72,176.03 L496.28,176.01 L496.85,175.99 L497.41,175.96 L497.98,175.94 L498.55,175.92 L499.11,175.89 L499.68,175.87 L500.24,175.85 L500.81,175.83 L501.38,175.81 L501.94,175.79 L502.51,175.77 L503.07,175.75 L503.64,175.74 L504.21,175.73 L504.77,175.72 L505.34,175.71 L505.9,175.71 L506.47,175.71 L507.04,175.71 L507.6,175.71 L508.17,175.72 L508.73,175.73 L509.3,175.74 L509.87,175.75 L510.43,175.77 L511,175.79 L511.56,175.8 L512.13,175.82 L512.7,175.85 L513.26,175.87 L513.83,175.89 L514.39,175.9 L514.96,175.92 L515.53,175.93 L516.09,175.93 L516.66,175.93 L517.22,175.9 L517.79,175.86 L518.36,175.78 L518.92,175.67 L519.49,175.49 L520.05,175.25 L520.62,174.91 L521.19,174.46 L521.75,173.86 L522.32,173.1 L522.88,172.14 L523.45,170.95 L524.02,169.51 L524.58,167.82 L525.15,165.85 L525.71,163.61 L526.28,161.13 L526.85,158.44 L527.41,155.59 L527.98,152.65 L528.54,149.72 L529.11,146.88 L529.68,144.25 L530.24,141.92 L530.81,139.99 L531.37,138.54 L531.94,137.65 L532.51,137.35 L533.07,137.88 L533.64,139.43 L534.2,141.87 L534.77,145.03 L535.34,148.66 L535.9,152.53 L536.47,156.42 L537.03,160.11 L537.6,163.48" fill="none" stroke="#b884e8" stroke-width="1.1"/>
<path d="M424.4,176.3 L424.97,176.3 L425.53,176.3 L426.1,176.3 L426.66,176.3 L427.23,176.3 L427.8,176.3 L428.36,176.3 L428.93,176.3 L429.49,176.3 L430.06,176.3 L430.63,176.3 L431.19,176.3 L431.76,176.3 L432.32,176.3 L432.89,176.3 L433.46,176.3 L434.02,176.3 L434.59,176.3 L435.15,176.3 L435.72,176.3 L436.29,176.3 L436.85,176.3 L437.42,176.3 L437.98,176.3 L438.55,176.3 L439.12,176.3 L439.68,176.3 L440.25,176.3 L440.81,176.3 L441.38,176.3 L441.95,176.3 L442.51,176.3 L443.08,176.3 L443.64,176.3 L444.21,176.3 L444.78,176.3 L445.34,176.3 L445.91,176.3 L446.47,176.3 L447.04,176.3 L447.61,176.3 L448.17,176.3 L448.74,176.3 L449.3,176.3 L449.87,176.3 L450.44,176.3 L451,176.3 L451.57,176.3 L452.13,176.3 L452.7,176.3 L453.27,176.3 L453.83,176.3 L454.4,176.3 L454.96,176.3 L455.53,176.3 L456.1,176.3 L456.66,176.3 L457.23,176.3 L457.79,176.3 L458.36,176.3 L458.93,176.3 L459.49,176.3 L460.06,176.3 L460.62,176.3 L461.19,176.3 L461.76,176.3 L462.32,176.3 L462.89,176.3 L463.45,176.3 L464.02,176.3 L464.59,176.3 L465.15,176.3 L465.72,176.3 L466.28,176.3 L466.85,176.29 L467.42,176.29 L467.98,176.28 L468.55,176.28 L469.11,176.27 L469.68,176.25 L470.25,176.23 L470.81,176.2 L471.38,176.17 L471.94,176.12 L472.51,176.07 L473.08,176 L473.64,175.92 L474.21,175.82 L474.77,175.71 L475.34,175.59 L475.91,175.46 L476.47,175.32 L477.04,175.18 L477.6,175.05 L478.17,174.92 L478.74,174.8 L479.3,174.7 L479.87,174.63 L480.43,174.58 L481,174.57 L481.57,174.58 L482.13,174.63 L482.7,174.7 L483.26,174.79 L483.83,174.9 L484.4,175.03 L484.96,175.16 L485.53,175.29 L486.09,175.43 L486.66,175.55 L487.23,175.67 L487.79,175.77 L488.36,175.86 L488.92,175.93 L489.49,175.99 L490.06,176.03 L490.62,176.06 L491.19,176.09 L491.75,176.1 L492.32,176.1 L492.89,176.1 L493.45,176.09 L494.02,176.08 L494.58,176.07 L495.15,176.05 L495.72,176.03 L496.28,176.01 L496.85,175.99 L497.41,175.96 L497.98,175.94 L498.55,175.92 L499.11,175.89 L499.68,175.87 L500.24,175.85 L500.81,175.83 L501.38,175.81 L501.94,175.79 L502.51,175.77 L503.07,175.75 L503.64,175.74 L504.21,175.73 L504.77,175.72 L505.34,175.71 L505.9,175.71 L506.47,175.71 L507.04,175.71 L507.6,175.71 L508.17,175.72 L508.73,175.73 L509.3,175.74 L509.87,175.75 L510.43,175.77 L511,175.79 L511.56,175.8 L512.13,175.82 L512.7,175.84 L513.26,175.86 L513.83,175.88 L514.39,175.89 L514.96,175.91 L515.53,175.91 L516.09,175.9 L516.66,175.87 L517.22,175.83 L517.79,175.75 L518.36,175.62 L518.92,175.44 L519.49,175.18 L520.05,174.83 L520.62,174.35 L521.19,173.73 L521.75,172.93 L522.32,171.92 L522.88,170.67 L523.45,169.16 L524.02,167.38 L524.58,165.31 L525.15,162.96 L525.71,160.36 L526.28,157.53 L526.85,154.53 L527.41,151.45 L527.98,148.37 L528.54,145.39 L529.11,142.62 L529.68,140.17 L530.24,138.15 L530.81,136.63 L531.37,135.69 L531.94,135.37 L532.51,135.95 L533.07,137.64 L533.64,140.3 L534.2,143.71 L534.77,147.63 L535.34,151.78 L535.9,155.92 L536.47,159.84 L537.03,163.38 L537.6,166.44" fill="none" stroke="#4a8aa8" stroke-width="1.1"/>
<path d="M424.4,176.3 L424.97,176.3 L425.53,176.3 L426.1,176.3 L426.66,176.3 L427.23,176.3 L427.8,176.3 L428.36,176.3 L428.93,176.3 L429.49,176.3 L430.06,176.3 L430.63,176.3 L431.19,176.3 L431.76,176.3 L432.32,176.3 L432.89,176.3 L433.46,176.3 L434.02,176.3 L434.59,176.3 L435.15,176.3 L435.72,176.3 L436.29,176.3 L436.85,176.3 L437.42,176.3 L437.98,176.3 L438.55,176.3 L439.12,176.3 L439.68,176.3 L440.25,176.3 L440.81,176.3 L441.38,176.3 L441.95,176.3 L442.51,176.3 L443.08,176.3 L443.64,176.3 L444.21,176.3 L444.78,176.3 L445.34,176.3 L445.91,176.3 L446.47,176.3 L447.04,176.3 L447.61,176.3 L448.17,176.3 L448.74,176.3 L449.3,176.3 L449.87,176.3 L450.44,176.3 L451,176.3 L451.57,176.3 L452.13,176.3 L452.7,176.3 L453.27,176.3 L453.83,176.3 L454.4,176.3 L454.96,176.3 L455.53,176.3 L456.1,176.3 L456.66,176.3 L457.23,176.3 L457.79,176.3 L458.36,176.3 L458.93,176.3 L459.49,176.3 L460.06,176.3 L460.62,176.3 L461.19,176.3 L461.76,176.3 L462.32,176.3 L462.89,176.3 L463.45,176.3 L464.02,176.3 L464.59,176.3 L465.15,176.3 L465.72,176.3 L466.28,176.3 L466.85,176.29 L467.42,176.29 L467.98,176.28 L468.55,176.28 L469.11,176.27 L469.68,176.25 L470.25,176.23 L470.81,176.2 L471.38,176.17 L471.94,176.12 L472.51,176.07 L473.08,176 L473.64,175.92 L474.21,175.82 L474.77,175.71 L475.34,175.59 L475.91,175.46 L476.47,175.32 L477.04,175.18 L477.6,175.05 L478.17,174.92 L478.74,174.8 L479.3,174.7 L479.87,174.63 L480.43,174.58 L481,174.57 L481.57,174.58 L482.13,174.63 L482.7,174.7 L483.26,174.79 L483.83,174.9 L484.4,175.03 L484.96,175.16 L485.53,175.29 L486.09,175.43 L486.66,175.55 L487.23,175.67 L487.79,175.77 L488.36,175.86 L488.92,175.93 L489.49,175.99 L490.06,176.03 L490.62,176.06 L491.19,176.09 L491.75,176.1 L492.32,176.1 L492.89,176.1 L493.45,176.09 L494.02,176.08 L494.58,176.07 L495.15,176.05 L495.72,176.03 L496.28,176.01 L496.85,175.99 L497.41,175.96 L497.98,175.94 L498.55,175.92 L499.11,175.89 L499.68,175.87 L500.24,175.85 L500.81,175.83 L501.38,175.81 L501.94,175.79 L502.51,175.77 L503.07,175.75 L503.64,175.74 L504.21,175.73 L504.77,175.72 L505.34,175.71 L505.9,175.71 L506.47,175.71 L507.04,175.71 L507.6,175.71 L508.17,175.72 L508.73,175.73 L509.3,175.74 L509.87,175.75 L510.43,175.77 L511,175.79 L511.56,175.81 L512.13,175.83 L512.7,175.85 L513.26,175.87 L513.83,175.89 L514.39,175.91 L514.96,175.93 L515.53,175.95 L516.09,175.97 L516.66,175.98 L517.22,175.98 L517.79,175.97 L518.36,175.95 L518.92,175.91 L519.49,175.83 L520.05,175.72 L520.62,175.55 L521.19,175.31 L521.75,174.99 L522.32,174.55 L522.88,173.98 L523.45,173.24 L524.02,172.31 L524.58,171.17 L525.15,169.79 L525.71,168.15 L526.28,166.26 L526.85,164.1 L527.41,161.71 L527.98,159.12 L528.54,156.38 L529.11,153.56 L529.68,150.73 L530.24,148.01 L530.81,145.47 L531.37,143.23 L531.94,141.37 L532.51,139.98 L533.07,139.12 L533.64,138.83 L534.2,139.32 L534.77,140.74 L535.34,143 L535.9,145.91 L536.47,149.29 L537.03,152.92 L537.6,156.58" fill="none" stroke="#a0683a" stroke-width="1.1"/>
<path d="M424.4,176.3 L424.97,176.3 L425.53,176.3 L426.1,176.3 L426.66,176.3 L427.23,176.3 L427.8,176.3 L428.36,176.3 L428.93,176.3 L429.49,176.3 L430.06,176.3 L430.63,176.3 L431.19,176.3 L431.76,176.3 L432.32,176.3 L432.89,176.3 L433.46,176.3 L434.02,176.3 L434.59,176.3 L435.15,176.3 L435.72,176.3 L436.29,176.3 L436.85,176.3 L437.42,176.3 L437.98,176.3 L438.55,176.3 L439.12,176.3 L439.68,176.3 L440.25,176.3 L440.81,176.3 L441.38,176.3 L441.95,176.3 L442.51,176.3 L443.08,176.3 L443.64,176.3 L444.21,176.3 L444.78,176.3 L445.34,176.3 L445.91,176.3 L446.47,176.3 L447.04,176.3 L447.61,176.3 L448.17,176.3 L448.74,176.3 L449.3,176.3 L449.87,176.3 L450.44,176.3 L451,176.3 L451.57,176.3 L452.13,176.3 L452.7,176.3 L453.27,176.3 L453.83,176.3 L454.4,176.3 L454.96,176.3 L455.53,176.3 L456.1,176.3 L456.66,176.3 L457.23,176.3 L457.79,176.3 L458.36,176.3 L458.93,176.3 L459.49,176.3 L460.06,176.3 L460.62,176.3 L461.19,176.3 L461.76,176.3 L462.32,176.3 L462.89,176.3 L463.45,176.3 L464.02,176.3 L464.59,176.3 L465.15,176.3 L465.72,176.3 L466.28,176.3 L466.85,176.29 L467.42,176.29 L467.98,176.29 L468.55,176.28 L469.11,176.27 L469.68,176.26 L470.25,176.24 L470.81,176.22 L471.38,176.19 L471.94,176.15 L472.51,176.1 L473.08,176.04 L473.64,175.97 L474.21,175.89 L474.77,175.79 L475.34,175.69 L475.91,175.58 L476.47,175.46 L477.04,175.34 L477.6,175.22 L478.17,175.11 L478.74,175.01 L479.3,174.93 L479.87,174.87 L480.43,174.83 L481,174.81 L481.57,174.83 L482.13,174.86 L482.7,174.92 L483.26,175 L483.83,175.1 L484.4,175.21 L484.96,175.32 L485.53,175.43 L486.09,175.55 L486.66,175.65 L487.23,175.75 L487.79,175.84 L488.36,175.91 L488.92,175.97 L489.49,176.02 L490.06,176.06 L490.62,176.08 L491.19,176.1 L491.75,176.11 L492.32,176.11 L492.89,176.11 L493.45,176.1 L494.02,176.08 L494.58,176.07 L495.15,176.05 L495.72,176.03 L496.28,176.01 L496.85,175.99 L497.41,175.96 L497.98,175.94 L498.55,175.92 L499.11,175.89 L499.68,175.87 L500.24,175.85 L500.81,175.83 L501.38,175.81 L501.94,175.79 L502.51,175.77 L503.07,175.75 L503.64,175.74 L504.21,175.73 L504.77,175.72 L505.34,175.71 L505.9,175.71 L506.47,175.71 L507.04,175.71 L507.6,175.71 L508.17,175.72 L508.73,175.73 L509.3,175.74 L509.87,175.75 L510.43,175.77 L511,175.79 L511.56,175.81 L512.13,175.83 L512.7,175.85 L513.26,175.87 L513.83,175.89 L514.39,175.91 L514.96,175.94 L515.53,175.96 L516.09,175.98 L516.66,175.99 L517.22,176 L517.79,176.01 L518.36,176 L518.92,175.98 L519.49,175.94 L520.05,175.87 L520.62,175.76 L521.19,175.6 L521.75,175.37 L522.32,175.06 L522.88,174.65 L523.45,174.1 L524.02,173.41 L524.58,172.53 L525.15,171.44 L525.71,170.13 L526.28,168.58 L526.85,166.79 L527.41,164.75 L527.98,162.48 L528.54,160.03 L529.11,157.43 L529.68,154.76 L530.24,152.08 L530.81,149.5 L531.37,147.09 L531.94,144.97 L532.51,143.21 L533.07,141.89 L533.64,141.08 L534.2,140.8 L534.77,141.18 L535.34,142.29 L535.9,144.06 L536.47,146.38 L537.03,149.13 L537.6,152.14" fill="none" stroke="#303030" stroke-width="1.1"/>
<path d="M424.4,176.3 L424.97,176.3 L425.53,176.3 L426.1,176.3 L426.66,176.3 L427.23,176.3 L427.8,176.3 L428.36,176.3 L428.93,176.3 L429.49,176.3 L430.06,176.3 L430.63,176.3 L431.19,176.3 L431.76,176.3 L432.32,176.3 L432.89,176.3 L433.46,176.3 L434.02,176.3 L434.59,176.3 L435.15,176.3 L435.72,176.3 L436.29,176.3 L436.85,176.3 L437.42,176.3 L437.98,176.3 L438.55,176.3 L439.12,176.3 L439.68,176.3 L440.25,176.3 L440.81,176.3 L441.38,176.3 L441.95,176.3 L442.51,176.3 L443.08,176.3 L443.64,176.3 L444.21,176.3 L444.78,176.3 L445.34,176.3 L445.91,176.3 L446.47,176.3 L447.04,176.3 L447.61,176.3 L448.17,176.3 L448.74,176.3 L449.3,176.3 L449.87,176.3 L450.44,176.3 L451,176.3 L451.57,176.3 L452.13,176.3 L452.7,176.3 L453.27,176.3 L453.83,176.3 L454.4,176.3 L454.96,176.3 L455.53,176.3 L456.1,176.3 L456.66,176.3 L457.23,176.3 L457.79,176.3 L458.36,176.3 L458.93,176.3 L459.49,176.3 L460.06,176.3 L460.62,176.3 L461.19,176.3 L461.76,176.3 L462.32,176.3 L462.89,176.3 L463.45,176.3 L464.02,176.3 L464.59,176.3 L465.15,176.3 L465.72,176.3 L466.28,176.29 L466.85,176.29 L467.42,176.29 L467.98,176.28 L468.55,176.27 L469.11,176.26 L469.68,176.24 L470.25,176.21 L470.81,176.18 L471.38,176.13 L471.94,176.07 L472.51,176 L473.08,175.91 L473.64,175.81 L474.21,175.68 L474.77,175.54 L475.34,175.39 L475.91,175.22 L476.47,175.04 L477.04,174.86 L477.6,174.69 L478.17,174.52 L478.74,174.37 L479.3,174.25 L479.87,174.15 L480.43,174.1 L481,174.07 L481.57,174.09 L482.13,174.15 L482.7,174.24 L483.26,174.36 L483.83,174.51 L484.4,174.67 L484.96,174.84 L485.53,175.02 L486.09,175.19 L486.66,175.35 L487.23,175.5 L487.79,175.63 L488.36,175.75 L488.92,175.84 L489.49,175.92 L490.06,175.98 L490.62,176.03 L491.19,176.06 L491.75,176.08 L492.32,176.09 L492.89,176.09 L493.45,176.09 L494.02,176.08 L494.58,176.06 L495.15,176.05 L495.72,176.03 L496.28,176.01 L496.85,175.99 L497.41,175.96 L497.98,175.94 L498.55,175.92 L499.11,175.89 L499.68,175.87 L500.24,175.85 L500.81,175.83 L501.38,175.81 L501.94,175.79 L502.51,175.77 L503.07,175.75 L503.64,175.74 L504.21,175.73 L504.77,175.72 L505.34,175.71 L505.9,175.71 L506.47,175.71 L507.04,175.71 L507.6,175.71 L508.17,175.72 L508.73,175.73 L509.3,175.74 L509.87,175.75 L510.43,175.77 L511,175.78 L511.56,175.8 L512.13,175.82 L512.7,175.83 L513.26,175.85 L513.83,175.85 L514.39,175.86 L514.96,175.85 L515.53,175.82 L516.09,175.77 L516.66,175.68 L517.22,175.55 L517.79,175.35 L518.36,175.08 L518.92,174.7 L519.49,174.19 L520.05,173.52 L520.62,172.66 L521.19,171.58 L521.75,170.24 L522.32,168.63 L522.88,166.72 L523.45,164.5 L524.02,161.99 L524.58,159.19 L525.15,156.16 L525.71,152.95 L526.28,149.65 L526.85,146.35 L527.41,143.15 L527.98,140.18 L528.54,137.56 L529.11,135.39 L529.68,133.76 L530.24,132.75 L530.81,132.41 L531.37,133.18 L531.94,135.41 L532.51,138.86 L533.07,143.22 L533.64,148.08 L534.2,153.06 L534.77,157.83 L535.34,162.13 L535.9,165.8 L536.47,168.79 L537.03,171.12 L537.6,172.85" fill="none" stroke="#3434d4" stroke-width="1.1"/>
</g>
<rect x="424.4" y="132.6" width="113.2" height="44.7" fill="none" stroke="#1e1e1e" stroke-width="1.3"/>
<line x1="424.4" y1="174.3" x2="426.2" y2="174.3" stroke="#222" stroke-width="0.8"/>
<text x="423.4" y="176.2" font-size="5.5" text-anchor="end" fill="#222" font-family="Liberation Serif"  stroke="#222" stroke-width="0.2">0</text>
<line x1="424.4" y1="164.44" x2="426.2" y2="164.44" stroke="#222" stroke-width="0.8"/>
<text x="423.4" y="166.34" font-size="5.5" text-anchor="end" fill="#222" font-family="Liberation Serif"  stroke="#222" stroke-width="0.2">2</text>
<line x1="424.4" y1="154.58" x2="426.2" y2="154.58" stroke="#222" stroke-width="0.8"/>
<text x="423.4" y="156.48" font-size="5.5" text-anchor="end" fill="#222" font-family="Liberation Serif"  stroke="#222" stroke-width="0.2">4</text>
<line x1="424.4" y1="144.72" x2="426.2" y2="144.72" stroke="#222" stroke-width="0.8"/>
<text x="423.4" y="146.62" font-size="5.5" text-anchor="end" fill="#222" font-family="Liberation Serif"  stroke="#222" stroke-width="0.2">6</text>
<line x1="424.4" y1="134.86" x2="426.2" y2="134.86" stroke="#222" stroke-width="0.8"/>
<text x="423.4" y="136.76" font-size="5.5" text-anchor="end" fill="#222" font-family="Liberation Serif"  stroke="#222" stroke-width="0.2">8</text>
<line x1="424.4" y1="177.3" x2="424.4" y2="175.7" stroke="#222" stroke-width="0.8"/>
<line x1="438.55" y1="177.3" x2="438.55" y2="175.7" stroke="#222" stroke-width="0.8"/>
<line x1="452.7" y1="177.3" x2="452.7" y2="175.7" stroke="#222" stroke-width="0.8"/>
<line x1="466.85" y1="177.3" x2="466.85" y2="175.7" stroke="#222" stroke-width="0.8"/>
<line x1="481" y1="177.3" x2="481" y2="175.7" stroke="#222" stroke-width="0.8"/>
<line x1="495.15" y1="177.3" x2="495.15" y2="175.7" stroke="#222" stroke-width="0.8"/>
<line x1="509.3" y1="177.3" x2="509.3" y2="175.7" stroke="#222" stroke-width="0.8"/>
<line x1="523.45" y1="177.3" x2="523.45" y2="175.7" stroke="#222" stroke-width="0.8"/>
<line x1="537.6" y1="177.3" x2="537.6" y2="175.7" stroke="#222" stroke-width="0.8"/>
<text transform="translate(415.6,149.9) rotate(-90)" font-size="10" text-anchor="middle" fill="#222" font-family="Liberation Serif" textLength="22.3" lengthAdjust="spacingAndGlyphs">L (ω)</text>
<clipPath id="gcI"><rect x="424.4" y="180.5" width="113.2" height="43.8"/></clipPath>
<g clip-path="url(#gcI)">
<path d="M424.4,223.6 L425.38,223.65 L426.79,223.74 L428.39,223.81 L429.94,223.79 L431.19,223.6 L432.07,223.39 L432.74,223.2 L433.31,222.83 L433.89,222.05 L434.59,220.67 L435.43,218.44 L436.34,215.5 L437.29,212.22 L438.23,208.93 L439.12,206 L439.93,203.34 L440.69,200.71 L441.44,198.25 L442.22,196.06 L443.08,194.26 L444.02,192.93 L445.01,191.99 L446.04,191.33 L447.1,190.82 L448.17,190.35 L449.27,190.02 L450.4,189.91 L451.54,189.87 L452.69,189.74 L453.83,189.37 L454.96,188.59 L456.1,187.5 L457.23,186.37 L458.36,185.43 L459.49,184.97 L460.59,184.98 L461.65,185.29 L462.72,185.88 L463.88,186.76 L465.15,187.9 L466.62,189.48 L468.24,191.49 L469.92,193.69 L471.56,195.84 L473.08,197.68 L474.45,199.24 L475.74,200.66 L476.97,201.94 L478.16,203.07 L479.3,204.04 L480.39,204.83 L481.42,205.46 L482.41,205.94 L483.4,206.28 L484.4,206.48 L485.38,206.53 L486.32,206.41 L487.29,206.17 L488.33,205.85 L489.49,205.51 L490.83,205.1 L492.3,204.59 L493.84,204.04 L495.38,203.51 L496.85,203.06 L498.24,202.69 L499.61,202.36 L500.95,202.06 L502.29,201.81 L503.64,201.59 L505.01,201.37 L506.38,201.14 L507.76,200.97 L509.11,200.94 L510.43,201.11 L511.7,201.49 L512.94,202.05 L514.15,202.76 L515.39,203.59 L516.66,204.53 L517.98,205.62 L519.33,206.88 L520.71,208.24 L522.08,209.6 L523.45,210.89 L524.8,212.1 L526.14,213.29 L527.48,214.47 L528.85,215.62 L530.24,216.75 L531.8,217.95 L533.5,219.2 L535.16,220.39 L536.59,221.41 L537.6,222.13" fill="none" stroke="#b884e8" stroke-width="1.1"/>
<path d="M424.4,223.6 L425.03,223.57 L425.94,223.56 L426.98,223.51 L428.02,223.37 L428.93,223.11 L429.68,222.63 L430.37,221.97 L431.02,221.26 L431.66,220.62 L432.32,220.18 L432.99,220.14 L433.66,220.41 L434.32,220.71 L435,220.72 L435.72,220.18 L436.46,218.96 L437.21,217.27 L437.99,215.26 L438.81,213.08 L439.68,210.89 L440.64,208.52 L441.67,205.88 L442.72,203.2 L443.78,200.71 L444.78,198.66 L445.71,197.11 L446.6,195.9 L447.48,194.93 L448.37,194.09 L449.3,193.28 L450.28,192.59 L451.27,192.1 L452.29,191.65 L453.33,191.11 L454.4,190.35 L455.48,189.13 L456.59,187.56 L457.73,185.96 L458.88,184.66 L460.06,183.99 L461.26,184.01 L462.48,184.51 L463.73,185.39 L464.99,186.55 L466.28,187.9 L467.62,189.59 L468.99,191.67 L470.37,193.94 L471.74,196.17 L473.08,198.17 L474.38,199.96 L475.66,201.69 L476.92,203.3 L478.14,204.75 L479.3,206 L480.39,207.02 L481.42,207.87 L482.41,208.54 L483.4,209.06 L484.4,209.42 L485.38,209.63 L486.32,209.69 L487.29,209.6 L488.33,209.34 L489.49,208.93 L490.83,208.28 L492.3,207.39 L493.84,206.39 L495.38,205.4 L496.85,204.53 L498.24,203.77 L499.61,203.05 L500.95,202.37 L502.29,201.78 L503.64,201.3 L505.01,200.89 L506.38,200.52 L507.76,200.27 L509.11,200.18 L510.43,200.32 L511.7,200.72 L512.94,201.32 L514.15,202.1 L515.39,203.02 L516.66,204.04 L517.98,205.21 L519.33,206.56 L520.71,208.01 L522.08,209.48 L523.45,210.89 L524.8,212.25 L526.14,213.64 L527.48,215 L528.85,216.31 L530.24,217.54 L531.8,218.74 L533.5,219.93 L535.16,221.03 L536.59,221.96 L537.6,222.62" fill="none" stroke="#4a8aa8" stroke-width="1.1"/>
<path d="M424.4,223.6 L425.38,223.64 L426.79,223.72 L428.39,223.78 L429.94,223.76 L431.19,223.6 L432.07,223.44 L432.74,223.31 L433.31,223.02 L433.89,222.37 L434.59,221.16 L435.41,219.2 L436.29,216.65 L437.21,213.75 L438.16,210.76 L439.12,207.95 L440.11,205.19 L441.14,202.32 L442.19,199.5 L443.22,196.92 L444.21,194.75 L445.14,193 L446.03,191.57 L446.91,190.42 L447.81,189.53 L448.74,188.88 L449.73,188.7 L450.76,188.99 L451.81,189.43 L452.84,189.67 L453.83,189.37 L454.74,188.2 L455.58,186.39 L456.41,184.43 L457.32,182.81 L458.36,182.03 L459.56,182.2 L460.86,182.97 L462.25,184.19 L463.68,185.73 L465.15,187.41 L466.69,189.42 L468.32,191.86 L469.97,194.47 L471.58,196.98 L473.08,199.15 L474.45,200.97 L475.74,202.61 L476.97,204.08 L478.16,205.37 L479.3,206.48 L480.39,207.42 L481.42,208.19 L482.41,208.77 L483.4,209.18 L484.4,209.42 L485.38,209.45 L486.32,209.29 L487.29,208.96 L488.33,208.5 L489.49,207.95 L490.83,207.24 L492.3,206.33 L493.84,205.35 L495.38,204.38 L496.85,203.55 L498.24,202.83 L499.61,202.15 L500.95,201.54 L502.29,201.02 L503.64,200.62 L505.01,200.28 L506.38,199.99 L507.76,199.82 L509.11,199.84 L510.43,200.13 L511.7,200.73 L512.94,201.6 L514.15,202.66 L515.39,203.83 L516.66,205.02 L517.98,206.27 L519.33,207.64 L520.71,209.07 L522.08,210.49 L523.45,211.86 L524.8,213.2 L526.14,214.54 L527.48,215.84 L528.85,217.08 L530.24,218.22 L531.8,219.3 L533.5,220.33 L535.16,221.27 L536.59,222.05 L537.6,222.62" fill="none" stroke="#a0683a" stroke-width="1.1"/>
<path d="M424.4,223.6 L425.38,223.63 L426.79,223.69 L428.39,223.74 L429.94,223.73 L431.19,223.6 L432.07,223.51 L432.74,223.47 L433.31,223.29 L433.89,222.76 L434.59,221.64 L435.41,219.79 L436.29,217.33 L437.21,214.53 L438.16,211.64 L439.12,208.93 L440.1,206.31 L441.11,203.6 L442.15,200.94 L443.18,198.43 L444.21,196.22 L445.24,194.22 L446.27,192.37 L447.31,190.75 L448.32,189.46 L449.3,188.59 L450.24,188.43 L451.13,188.93 L452.01,189.63 L452.9,190.09 L453.83,189.86 L454.8,188.54 L455.77,186.44 L456.78,184.14 L457.83,182.22 L458.93,181.25 L460.07,181.38 L461.25,182.21 L462.49,183.54 L463.78,185.18 L465.15,186.93 L466.66,188.94 L468.28,191.35 L469.95,193.92 L471.57,196.41 L473.08,198.56 L474.45,200.38 L475.74,202.02 L476.97,203.49 L478.16,204.81 L479.3,206 L480.39,207.06 L481.42,207.99 L482.41,208.76 L483.4,209.35 L484.4,209.71 L485.38,209.83 L486.32,209.71 L487.29,209.41 L488.33,208.98 L489.49,208.44 L490.83,207.74 L492.3,206.84 L493.84,205.84 L495.38,204.88 L496.85,204.04 L498.24,203.33 L499.61,202.68 L500.95,202.08 L502.29,201.56 L503.64,201.11 L505.01,200.67 L506.38,200.23 L507.76,199.9 L509.11,199.77 L510.43,199.93 L511.7,200.45 L512.94,201.25 L514.15,202.25 L515.39,203.37 L516.66,204.53 L517.98,205.76 L519.33,207.13 L520.71,208.56 L522.08,210 L523.45,211.38 L524.8,212.7 L526.14,214.03 L527.48,215.33 L528.85,216.57 L530.24,217.73 L531.8,218.85 L533.5,219.95 L535.16,220.97 L536.59,221.81 L537.6,222.43" fill="none" stroke="#303030" stroke-width="1.1"/>
<path d="M424.4,223.6 L425.46,223.63 L427,223.69 L428.75,223.74 L430.42,223.73 L431.76,223.6 L432.67,223.49 L433.35,223.43 L433.9,223.22 L434.47,222.69 L435.15,221.64 L435.98,219.92 L436.86,217.65 L437.78,215.07 L438.72,212.41 L439.68,209.91 L440.67,207.43 L441.71,204.82 L442.75,202.28 L443.78,200 L444.78,198.17 L445.71,196.93 L446.6,196.14 L447.48,195.62 L448.37,195.15 L449.3,194.55 L450.26,193.86 L451.23,193.2 L452.23,192.52 L453.28,191.75 L454.4,190.84 L455.63,189.57 L456.95,187.99 L458.32,186.41 L459.66,185.14 L460.91,184.48 L462.03,184.51 L463.07,185.02 L464.09,185.91 L465.14,187.07 L466.28,188.39 L467.56,190 L468.93,191.95 L470.33,194.08 L471.73,196.22 L473.08,198.17 L474.38,200 L475.66,201.83 L476.92,203.57 L478.14,205.15 L479.3,206.48 L480.39,207.58 L481.42,208.49 L482.41,209.21 L483.4,209.75 L484.4,210.1 L485.38,210.26 L486.32,210.22 L487.29,210 L488.33,209.63 L489.49,209.13 L490.83,208.42 L492.3,207.49 L493.84,206.46 L495.38,205.43 L496.85,204.53 L498.24,203.74 L499.61,202.98 L500.95,202.28 L502.29,201.65 L503.64,201.11 L505.01,200.6 L506.38,200.12 L507.76,199.74 L509.11,199.56 L510.43,199.64 L511.7,200.03 L512.94,200.68 L514.15,201.52 L515.39,202.49 L516.66,203.55 L517.98,204.74 L519.33,206.1 L520.71,207.55 L522.08,209.01 L523.45,210.4 L524.8,211.7 L526.14,212.99 L527.48,214.26 L528.85,215.51 L530.24,216.75 L531.8,218.08 L533.5,219.49 L535.16,220.84 L536.59,222 L537.6,222.82" fill="none" stroke="#3434d4" stroke-width="1.1"/>
</g>
<rect x="424.4" y="180.5" width="113.2" height="43.8" fill="none" stroke="#1e1e1e" stroke-width="1.3"/>
<line x1="424.4" y1="223.8" x2="426.2" y2="223.8" stroke="#222" stroke-width="0.8"/>
<text x="423.4" y="225.7" font-size="5.5" text-anchor="end" fill="#222" font-family="Liberation Serif"  stroke="#222" stroke-width="0.2">0</text>
<line x1="424.4" y1="204.24" x2="426.2" y2="204.24" stroke="#222" stroke-width="0.8"/>
<text x="423.4" y="206.14" font-size="5.5" text-anchor="end" fill="#222" font-family="Liberation Serif"  stroke="#222" stroke-width="0.2">2</text>
<line x1="424.4" y1="184.68" x2="426.2" y2="184.68" stroke="#222" stroke-width="0.8"/>
<text x="423.4" y="186.58" font-size="5.5" text-anchor="end" fill="#222" font-family="Liberation Serif"  stroke="#222" stroke-width="0.2">4</text>
<line x1="424.4" y1="224.3" x2="424.4" y2="222.7" stroke="#222" stroke-width="0.8"/>
<line x1="438.55" y1="224.3" x2="438.55" y2="222.7" stroke="#222" stroke-width="0.8"/>
<line x1="452.7" y1="224.3" x2="452.7" y2="222.7" stroke="#222" stroke-width="0.8"/>
<line x1="466.85" y1="224.3" x2="466.85" y2="222.7" stroke="#222" stroke-width="0.8"/>
<line x1="481" y1="224.3" x2="481" y2="222.7" stroke="#222" stroke-width="0.8"/>
<line x1="495.15" y1="224.3" x2="495.15" y2="222.7" stroke="#222" stroke-width="0.8"/>
<line x1="509.3" y1="224.3" x2="509.3" y2="222.7" stroke="#222" stroke-width="0.8"/>
<line x1="523.45" y1="224.3" x2="523.45" y2="222.7" stroke="#222" stroke-width="0.8"/>
<line x1="537.6" y1="224.3" x2="537.6" y2="222.7" stroke="#222" stroke-width="0.8"/>
<text transform="translate(415.6,198.4) rotate(-90)" font-size="10" text-anchor="middle" fill="#222" font-family="Liberation Serif" textLength="19.6" lengthAdjust="spacingAndGlyphs">I (ω)</text>
<clipPath id="gcK"><rect x="424.4" y="227.8" width="113.2" height="45.2"/></clipPath>
<g clip-path="url(#gcK)">
<path d="M424.4,272.6 L425.38,272.65 L426.79,272.74 L428.39,272.81 L429.94,272.79 L431.19,272.6 L432.07,272.39 L432.74,272.2 L433.31,271.81 L433.89,271.03 L434.59,269.62 L435.43,267.36 L436.34,264.38 L437.29,261.05 L438.23,257.72 L439.12,254.74 L439.93,252.04 L440.69,249.38 L441.44,246.88 L442.22,244.66 L443.08,242.83 L444.02,241.48 L445.01,240.53 L446.04,239.86 L447.1,239.34 L448.17,238.86 L449.27,238.53 L450.4,238.42 L451.54,238.38 L452.69,238.24 L453.83,237.87 L454.96,237.08 L456.1,235.98 L457.23,234.82 L458.36,233.88 L459.49,233.41 L460.59,233.41 L461.65,233.73 L462.72,234.33 L463.88,235.22 L465.15,236.38 L466.62,237.98 L468.24,240.02 L469.92,242.25 L471.56,244.43 L473.08,246.31 L474.45,247.88 L475.74,249.33 L476.97,250.63 L478.16,251.77 L479.3,252.76 L480.39,253.56 L481.42,254.2 L482.41,254.68 L483.4,255.03 L484.4,255.24 L485.38,255.28 L486.32,255.16 L487.29,254.91 L488.33,254.59 L489.49,254.24 L490.83,253.83 L492.3,253.31 L493.84,252.76 L495.38,252.22 L496.85,251.76 L498.24,251.39 L499.61,251.05 L500.95,250.75 L502.29,250.49 L503.64,250.27 L505.01,250.05 L506.38,249.81 L507.76,249.64 L509.11,249.61 L510.43,249.78 L511.7,250.17 L512.94,250.74 L514.15,251.46 L515.39,252.3 L516.66,253.25 L517.98,254.36 L519.33,255.64 L520.71,257.01 L522.08,258.39 L523.45,259.7 L524.8,260.93 L526.14,262.14 L527.48,263.33 L528.85,264.5 L530.24,265.65 L531.8,266.86 L533.5,268.13 L535.16,269.35 L536.59,270.38 L537.6,271.11" fill="none" stroke="#b884e8" stroke-width="1.1"/>
<path d="M424.4,272.6 L425.03,272.57 L425.94,272.56 L426.98,272.5 L428.02,272.37 L428.93,272.1 L429.68,271.62 L430.37,270.95 L431.02,270.22 L431.66,269.57 L432.32,269.13 L432.99,269.09 L433.66,269.37 L434.32,269.66 L435,269.68 L435.72,269.13 L436.46,267.89 L437.21,266.18 L437.99,264.14 L438.81,261.93 L439.68,259.7 L440.64,257.3 L441.67,254.62 L442.72,251.9 L443.78,249.38 L444.78,247.3 L445.71,245.72 L446.6,244.5 L447.48,243.51 L448.37,242.66 L449.3,241.84 L450.28,241.14 L451.27,240.64 L452.29,240.19 L453.33,239.64 L454.4,238.86 L455.48,237.63 L456.59,236.03 L457.73,234.41 L458.88,233.09 L460.06,232.41 L461.26,232.44 L462.48,232.94 L463.73,233.83 L464.99,235.01 L466.28,236.38 L467.62,238.09 L468.99,240.21 L470.37,242.5 L471.74,244.77 L473.08,246.8 L474.38,248.62 L475.66,250.37 L476.92,252 L478.14,253.48 L479.3,254.74 L480.39,255.78 L481.42,256.64 L482.41,257.32 L483.4,257.84 L484.4,258.21 L485.38,258.43 L486.32,258.49 L487.29,258.39 L488.33,258.13 L489.49,257.72 L490.83,257.06 L492.3,256.16 L493.84,255.14 L495.38,254.13 L496.85,253.25 L498.24,252.48 L499.61,251.75 L500.95,251.06 L502.29,250.47 L503.64,249.98 L505.01,249.56 L506.38,249.19 L507.76,248.93 L509.11,248.84 L510.43,248.98 L511.7,249.38 L512.94,250 L514.15,250.79 L515.39,251.72 L516.66,252.76 L517.98,253.94 L519.33,255.31 L520.71,256.78 L522.08,258.27 L523.45,259.7 L524.8,261.09 L526.14,262.49 L527.48,263.87 L528.85,265.2 L530.24,266.45 L531.8,267.66 L533.5,268.87 L535.16,269.99 L536.59,270.93 L537.6,271.61" fill="none" stroke="#4a8aa8" stroke-width="1.1"/>
<path d="M424.4,272.6 L425.38,272.64 L426.79,272.72 L428.39,272.78 L429.94,272.76 L431.19,272.6 L432.07,272.44 L432.74,272.31 L433.31,272.02 L433.89,271.35 L434.59,270.12 L435.41,268.14 L436.29,265.55 L437.21,262.61 L438.16,259.58 L439.12,256.72 L440.11,253.93 L441.14,251.01 L442.19,248.15 L443.22,245.53 L444.21,243.33 L445.14,241.56 L446.03,240.1 L446.91,238.93 L447.81,238.03 L448.74,237.38 L449.73,237.19 L450.76,237.49 L451.81,237.93 L452.84,238.18 L453.83,237.87 L454.74,236.68 L455.58,234.85 L456.41,232.86 L457.32,231.22 L458.36,230.43 L459.56,230.59 L460.86,231.37 L462.25,232.62 L463.68,234.18 L465.15,235.89 L466.69,237.93 L468.32,240.4 L469.97,243.04 L471.58,245.59 L473.08,247.79 L474.45,249.64 L475.74,251.31 L476.97,252.79 L478.16,254.1 L479.3,255.24 L480.39,256.19 L481.42,256.96 L482.41,257.56 L483.4,257.97 L484.4,258.21 L485.38,258.25 L486.32,258.08 L487.29,257.75 L488.33,257.28 L489.49,256.72 L490.83,256 L492.3,255.08 L493.84,254.08 L495.38,253.1 L496.85,252.26 L498.24,251.53 L499.61,250.84 L500.95,250.22 L502.29,249.69 L503.64,249.28 L505.01,248.94 L506.38,248.64 L507.76,248.47 L509.11,248.5 L510.43,248.79 L511.7,249.4 L512.94,250.28 L514.15,251.36 L515.39,252.54 L516.66,253.75 L517.98,255.02 L519.33,256.41 L520.71,257.86 L522.08,259.3 L523.45,260.69 L524.8,262.05 L526.14,263.4 L527.48,264.73 L528.85,265.99 L530.24,267.14 L531.8,268.23 L533.5,269.29 L535.16,270.24 L536.59,271.03 L537.6,271.61" fill="none" stroke="#a0683a" stroke-width="1.1"/>
<path d="M424.4,272.6 L425.38,272.63 L426.79,272.7 L428.39,272.74 L429.94,272.73 L431.19,272.6 L432.07,272.5 L432.74,272.47 L433.31,272.29 L433.89,271.74 L434.59,270.62 L435.41,268.73 L436.29,266.24 L437.21,263.4 L438.16,260.47 L439.12,257.72 L440.1,255.05 L441.11,252.31 L442.15,249.61 L443.18,247.07 L444.21,244.82 L445.24,242.79 L446.27,240.92 L447.31,239.28 L448.32,237.96 L449.3,237.08 L450.24,236.92 L451.13,237.42 L452.01,238.14 L452.9,238.61 L453.83,238.37 L454.8,237.03 L455.77,234.9 L456.78,232.57 L457.83,230.62 L458.93,229.64 L460.07,229.76 L461.25,230.6 L462.49,231.96 L463.78,233.62 L465.15,235.39 L466.66,237.43 L468.28,239.88 L469.95,242.49 L471.57,245.01 L473.08,247.2 L474.45,249.04 L475.74,250.7 L476.97,252.2 L478.16,253.54 L479.3,254.74 L480.39,255.82 L481.42,256.76 L482.41,257.55 L483.4,258.14 L484.4,258.51 L485.38,258.63 L486.32,258.51 L487.29,258.21 L488.33,257.76 L489.49,257.22 L490.83,256.51 L492.3,255.59 L493.84,254.59 L495.38,253.6 L496.85,252.76 L498.24,252.04 L499.61,251.37 L500.95,250.77 L502.29,250.24 L503.64,249.78 L505.01,249.33 L506.38,248.89 L507.76,248.56 L509.11,248.42 L510.43,248.59 L511.7,249.11 L512.94,249.92 L514.15,250.94 L515.39,252.08 L516.66,253.25 L517.98,254.5 L519.33,255.89 L520.71,257.34 L522.08,258.8 L523.45,260.2 L524.8,261.55 L526.14,262.89 L527.48,264.21 L528.85,265.47 L530.24,266.65 L531.8,267.78 L533.5,268.9 L535.16,269.93 L536.59,270.79 L537.6,271.41" fill="none" stroke="#303030" stroke-width="1.1"/>
<path d="M424.4,272.6 L425.46,272.63 L427,272.7 L428.75,272.74 L430.42,272.73 L431.76,272.6 L432.67,272.49 L433.35,272.43 L433.9,272.22 L434.47,271.68 L435.15,270.62 L435.98,268.87 L436.86,266.57 L437.78,263.95 L438.72,261.25 L439.68,258.71 L440.67,256.2 L441.71,253.55 L442.75,250.97 L443.78,248.66 L444.78,246.8 L445.71,245.54 L446.6,244.74 L447.48,244.21 L448.37,243.74 L449.3,243.13 L450.26,242.43 L451.23,241.76 L452.23,241.07 L453.28,240.29 L454.4,239.36 L455.63,238.07 L456.95,236.47 L458.32,234.87 L459.66,233.58 L460.91,232.91 L462.03,232.94 L463.07,233.46 L464.09,234.36 L465.14,235.54 L466.28,236.88 L467.56,238.51 L468.93,240.49 L470.33,242.65 L471.73,244.82 L473.08,246.8 L474.38,248.66 L475.66,250.51 L476.92,252.28 L478.14,253.88 L479.3,255.24 L480.39,256.35 L481.42,257.27 L482.41,258 L483.4,258.55 L484.4,258.91 L485.38,259.07 L486.32,259.02 L487.29,258.8 L488.33,258.42 L489.49,257.91 L490.83,257.2 L492.3,256.26 L493.84,255.21 L495.38,254.17 L496.85,253.25 L498.24,252.45 L499.61,251.68 L500.95,250.97 L502.29,250.33 L503.64,249.78 L505.01,249.27 L506.38,248.78 L507.76,248.4 L509.11,248.21 L510.43,248.29 L511.7,248.69 L512.94,249.34 L514.15,250.19 L515.39,251.19 L516.66,252.26 L517.98,253.47 L519.33,254.85 L520.71,256.32 L522.08,257.8 L523.45,259.2 L524.8,260.53 L526.14,261.83 L527.48,263.12 L528.85,264.39 L530.24,265.65 L531.8,267 L533.5,268.43 L535.16,269.8 L536.59,270.97 L537.6,271.81" fill="none" stroke="#3434d4" stroke-width="1.1"/>
</g>
<rect x="424.4" y="227.8" width="113.2" height="45.2" fill="none" stroke="#1e1e1e" stroke-width="1.3"/>
<line x1="424.4" y1="272.9" x2="426.2" y2="272.9" stroke="#222" stroke-width="0.8"/>
<text x="423.4" y="274.8" font-size="5.5" text-anchor="end" fill="#222" font-family="Liberation Serif"  stroke="#222" stroke-width="0.2">0</text>
<line x1="424.4" y1="252.65" x2="426.2" y2="252.65" stroke="#222" stroke-width="0.8"/>
<text x="423.4" y="254.55" font-size="5.5" text-anchor="end" fill="#222" font-family="Liberation Serif"  stroke="#222" stroke-width="0.2">1</text>
<line x1="424.4" y1="232.4" x2="426.2" y2="232.4" stroke="#222" stroke-width="0.8"/>
<text x="423.4" y="234.3" font-size="5.5" text-anchor="end" fill="#222" font-family="Liberation Serif"  stroke="#222" stroke-width="0.2">2</text>
<line x1="424.4" y1="273.0" x2="424.4" y2="271.4" stroke="#222" stroke-width="0.8"/>
<line x1="438.55" y1="273.0" x2="438.55" y2="271.4" stroke="#222" stroke-width="0.8"/>
<line x1="452.7" y1="273.0" x2="452.7" y2="271.4" stroke="#222" stroke-width="0.8"/>
<line x1="466.85" y1="273.0" x2="466.85" y2="271.4" stroke="#222" stroke-width="0.8"/>
<line x1="481" y1="273.0" x2="481" y2="271.4" stroke="#222" stroke-width="0.8"/>
<line x1="495.15" y1="273.0" x2="495.15" y2="271.4" stroke="#222" stroke-width="0.8"/>
<line x1="509.3" y1="273.0" x2="509.3" y2="271.4" stroke="#222" stroke-width="0.8"/>
<line x1="523.45" y1="273.0" x2="523.45" y2="271.4" stroke="#222" stroke-width="0.8"/>
<line x1="537.6" y1="273.0" x2="537.6" y2="271.4" stroke="#222" stroke-width="0.8"/>
<text transform="translate(415.6,246.8) rotate(-90)" font-size="10" text-anchor="middle" fill="#222" font-family="Liberation Serif" textLength="23.4" lengthAdjust="spacingAndGlyphs">K (ω)</text>
<clipPath id="gcn"><rect x="424.4" y="276.2" width="113.2" height="44.7"/></clipPath>
<g clip-path="url(#gcn)">
<path d="M424.4,283.99 L425.6,283.74 L427.32,283.39 L429.29,282.98 L431.24,282.56 L432.89,282.16 L434.22,281.77 L435.41,281.35 L436.5,280.94 L437.54,280.59 L438.55,280.34 L439.52,280.16 L440.42,280.01 L441.28,279.95 L442.15,280.04 L443.08,280.34 L444.07,280.93 L445.1,281.77 L446.15,282.73 L447.18,283.72 L448.17,284.59 L449.14,285.39 L450.11,286.18 L451.04,286.94 L451.91,287.64 L452.7,288.24 L453.33,288.66 L453.82,288.93 L454.28,289.16 L454.81,289.49 L455.53,290.06 L456.48,290.92 L457.59,291.99 L458.79,293.17 L460.01,294.38 L461.19,295.53 L462.32,296.63 L463.45,297.75 L464.59,298.85 L465.72,299.94 L466.85,301 L467.98,302.05 L469.11,303.12 L470.25,304.14 L471.38,305.07 L472.51,305.86 L473.64,306.5 L474.77,307.04 L475.91,307.47 L477.04,307.76 L478.17,307.92 L479.3,307.89 L480.43,307.68 L481.57,307.37 L482.7,307.02 L483.83,306.71 L484.96,306.4 L486.09,306.04 L487.23,305.7 L488.36,305.41 L489.49,305.25 L490.62,305.2 L491.75,305.24 L492.89,305.36 L494.02,305.56 L495.15,305.86 L496.28,306.27 L497.41,306.79 L498.55,307.39 L499.68,308.03 L500.81,308.65 L501.94,309.29 L503.07,309.97 L504.21,310.66 L505.34,311.32 L506.47,311.93 L507.6,312.47 L508.73,312.97 L509.87,313.43 L511,313.89 L512.13,314.36 L513.26,314.87 L514.39,315.39 L515.53,315.91 L516.66,316.38 L517.79,316.79 L518.92,317.14 L520.05,317.45 L521.19,317.71 L522.32,317.9 L523.45,318.01 L524.54,318.02 L525.58,317.95 L526.64,317.82 L527.8,317.63 L529.11,317.4 L530.76,317.08 L532.71,316.67 L534.68,316.23 L536.4,315.84 L537.6,315.58" fill="none" stroke="#b884e8" stroke-width="1.1"/>
<path d="M424.4,287.02 L425.17,286.62 L426.26,286.06 L427.52,285.39 L428.84,284.68 L430.06,283.99 L431.23,283.28 L432.43,282.51 L433.62,281.74 L434.73,281 L435.72,280.34 L436.53,279.72 L437.19,279.11 L437.78,278.56 L438.4,278.15 L439.12,277.91 L439.94,277.86 L440.82,277.94 L441.74,278.18 L442.68,278.57 L443.64,279.13 L444.64,279.94 L445.67,280.99 L446.71,282.17 L447.75,283.33 L448.74,284.35 L449.71,285.25 L450.67,286.12 L451.6,286.92 L452.48,287.64 L453.27,288.24 L453.9,288.61 L454.38,288.78 L454.84,288.9 L455.38,289.15 L456.1,289.7 L457.05,290.62 L458.16,291.8 L459.36,293.12 L460.58,294.48 L461.76,295.77 L462.89,297 L464.02,298.24 L465.15,299.47 L466.28,300.68 L467.42,301.85 L468.56,303 L469.71,304.16 L470.85,305.27 L471.98,306.29 L473.08,307.19 L474.12,308.01 L475.13,308.76 L476.12,309.39 L477.12,309.86 L478.17,310.11 L479.27,310.09 L480.39,309.84 L481.54,309.43 L482.69,308.93 L483.83,308.41 L484.96,307.79 L486.09,307.02 L487.23,306.22 L488.36,305.51 L489.49,305.01 L490.62,304.71 L491.75,304.53 L492.89,304.48 L494.02,304.56 L495.15,304.76 L496.28,305.14 L497.41,305.68 L498.55,306.33 L499.68,307.02 L500.81,307.68 L501.94,308.34 L503.07,309.04 L504.21,309.75 L505.34,310.44 L506.47,311.08 L507.6,311.66 L508.73,312.19 L509.87,312.7 L511,313.22 L512.13,313.75 L513.26,314.34 L514.39,314.96 L515.53,315.57 L516.66,316.15 L517.79,316.67 L518.92,317.14 L520.05,317.59 L521.19,317.98 L522.32,318.29 L523.45,318.49 L524.54,318.57 L525.58,318.54 L526.64,318.43 L527.8,318.24 L529.11,318.01 L530.76,317.66 L532.71,317.2 L534.68,316.7 L536.4,316.25 L537.6,315.94" fill="none" stroke="#4a8aa8" stroke-width="1.1"/>
<path d="M424.4,284.59 L425.17,284.38 L426.26,284.08 L427.52,283.72 L428.84,283.28 L430.06,282.77 L431.24,282.13 L432.46,281.36 L433.66,280.54 L434.77,279.77 L435.72,279.13 L436.44,278.59 L436.97,278.09 L437.43,277.68 L437.92,277.41 L438.55,277.3 L439.34,277.38 L440.21,277.6 L441.14,277.96 L442.11,278.47 L443.08,279.13 L444.07,280.02 L445.1,281.14 L446.15,282.36 L447.18,283.56 L448.17,284.59 L449.14,285.47 L450.11,286.27 L451.04,287 L451.91,287.66 L452.7,288.24 L453.33,288.65 L453.82,288.9 L454.28,289.11 L454.81,289.45 L455.53,290.06 L456.48,291.01 L457.59,292.19 L458.79,293.5 L460.01,294.85 L461.19,296.14 L462.32,297.37 L463.45,298.61 L464.59,299.84 L465.72,301.05 L466.85,302.21 L467.98,303.36 L469.11,304.5 L470.25,305.6 L471.38,306.59 L472.51,307.44 L473.64,308.15 L474.77,308.77 L475.91,309.26 L477.04,309.59 L478.17,309.75 L479.3,309.67 L480.43,309.38 L481.57,308.96 L482.7,308.45 L483.83,307.92 L484.96,307.3 L486.09,306.54 L487.23,305.76 L488.36,305.09 L489.49,304.64 L490.62,304.44 L491.75,304.4 L492.89,304.5 L494.02,304.71 L495.15,305.01 L496.28,305.42 L497.41,305.97 L498.55,306.6 L499.68,307.27 L500.81,307.92 L501.94,308.58 L503.07,309.28 L504.21,309.99 L505.34,310.68 L506.47,311.32 L507.6,311.9 L508.73,312.44 L509.87,312.96 L511,313.47 L512.13,314 L513.26,314.57 L514.39,315.17 L515.53,315.76 L516.66,316.31 L517.79,316.79 L518.92,317.22 L520.05,317.61 L521.19,317.95 L522.32,318.21 L523.45,318.37 L524.54,318.43 L525.58,318.38 L526.64,318.27 L527.8,318.09 L529.11,317.89 L530.76,317.6 L532.71,317.21 L534.68,316.8 L536.4,316.44 L537.6,316.19" fill="none" stroke="#a0683a" stroke-width="1.1"/>
<path d="M424.4,285.81 L425.17,285.5 L426.26,285.07 L427.52,284.56 L428.84,283.98 L430.06,283.38 L431.24,282.71 L432.46,281.95 L433.66,281.16 L434.77,280.41 L435.72,279.73 L436.44,279.11 L436.97,278.5 L437.43,277.96 L437.92,277.54 L438.55,277.3 L439.34,277.25 L440.21,277.32 L441.14,277.55 L442.11,277.95 L443.08,278.52 L444.07,279.36 L445.1,280.46 L446.15,281.68 L447.18,282.9 L448.17,283.99 L449.14,284.96 L450.11,285.92 L451.04,286.82 L451.91,287.6 L452.7,288.24 L453.33,288.6 L453.82,288.71 L454.28,288.76 L454.81,288.95 L455.53,289.45 L456.48,290.36 L457.59,291.54 L458.79,292.87 L460.01,294.24 L461.19,295.53 L462.32,296.75 L463.45,297.99 L464.59,299.22 L465.72,300.43 L466.85,301.6 L467.98,302.78 L469.11,303.96 L470.25,305.11 L471.38,306.16 L472.51,307.07 L473.64,307.87 L474.77,308.59 L475.91,309.19 L477.04,309.63 L478.17,309.87 L479.3,309.86 L480.43,309.65 L481.57,309.28 L482.7,308.81 L483.83,308.29 L484.96,307.63 L486.09,306.8 L487.23,305.94 L488.36,305.17 L489.49,304.64 L490.62,304.36 L491.75,304.23 L492.89,304.25 L494.02,304.39 L495.15,304.64 L496.28,305.05 L497.41,305.61 L498.55,306.28 L499.68,306.99 L500.81,307.68 L501.94,308.39 L503.07,309.15 L504.21,309.93 L505.34,310.66 L506.47,311.32 L507.6,311.88 L508.73,312.36 L509.87,312.8 L511,313.25 L512.13,313.75 L513.26,314.34 L514.39,314.98 L515.53,315.64 L516.66,316.25 L517.79,316.79 L518.92,317.27 L520.05,317.73 L521.19,318.12 L522.32,318.43 L523.45,318.61 L524.54,318.67 L525.58,318.62 L526.64,318.47 L527.8,318.26 L529.11,318.01 L530.76,317.65 L532.71,317.19 L534.68,316.69 L536.4,316.25 L537.6,315.94" fill="none" stroke="#303030" stroke-width="1.1"/>
<path d="M424.4,282.16 L425.17,282.02 L426.26,281.82 L427.52,281.58 L428.84,281.29 L430.06,280.95 L431.22,280.52 L432.41,280.01 L433.58,279.46 L434.7,278.95 L435.72,278.52 L436.61,278.14 L437.4,277.77 L438.14,277.47 L438.88,277.3 L439.68,277.3 L440.54,277.52 L441.43,277.9 L442.33,278.41 L443.26,279.04 L444.21,279.73 L445.2,280.57 L446.23,281.56 L447.28,282.62 L448.31,283.66 L449.3,284.59 L450.26,285.42 L451.21,286.2 L452.13,286.93 L453.01,287.61 L453.83,288.24 L454.55,288.75 L455.16,289.12 L455.76,289.49 L456.42,289.97 L457.23,290.67 L458.22,291.65 L459.33,292.84 L460.52,294.14 L461.72,295.47 L462.89,296.75 L464.02,297.98 L465.15,299.23 L466.28,300.48 L467.42,301.68 L468.55,302.82 L469.7,303.91 L470.87,304.97 L472.03,305.97 L473.15,306.88 L474.21,307.68 L475.18,308.38 L476.07,309.01 L476.94,309.53 L477.81,309.91 L478.74,310.11 L479.71,310.1 L480.71,309.9 L481.72,309.56 L482.77,309.13 L483.83,308.65 L484.93,308.05 L486.05,307.3 L487.2,306.5 L488.35,305.78 L489.49,305.25 L490.62,304.9 L491.75,304.66 L492.89,304.53 L494.02,304.52 L495.15,304.64 L496.28,304.91 L497.41,305.34 L498.55,305.87 L499.68,306.46 L500.81,307.07 L501.94,307.74 L503.07,308.48 L504.21,309.26 L505.34,310.02 L506.47,310.72 L507.6,311.33 L508.73,311.89 L509.87,312.43 L511,312.96 L512.13,313.51 L513.26,314.1 L514.39,314.72 L515.53,315.33 L516.66,315.91 L517.79,316.43 L518.92,316.89 L520.05,317.33 L521.19,317.71 L522.32,318.03 L523.45,318.25 L524.54,318.38 L525.58,318.43 L526.64,318.4 L527.8,318.3 L529.11,318.13 L530.76,317.83 L532.71,317.39 L534.68,316.91 L536.4,316.48 L537.6,316.19" fill="none" stroke="#3434d4" stroke-width="1.1"/>
</g>
<rect x="424.4" y="276.2" width="113.2" height="44.7" fill="none" stroke="#1e1e1e" stroke-width="1.3"/>
<line x1="424.4" y1="317.4" x2="426.2" y2="317.4" stroke="#222" stroke-width="0.8"/>
<text x="423.4" y="319.3" font-size="5.5" text-anchor="end" fill="#222" font-family="Liberation Serif"  stroke="#222" stroke-width="0.2">0</text>
<line x1="424.4" y1="305.25" x2="426.2" y2="305.25" stroke="#222" stroke-width="0.8"/>
<text x="423.4" y="307.15" font-size="5.5" text-anchor="end" fill="#222" font-family="Liberation Serif"  stroke="#222" stroke-width="0.2">1</text>
<line x1="424.4" y1="293.1" x2="426.2" y2="293.1" stroke="#222" stroke-width="0.8"/>
<text x="423.4" y="295" font-size="5.5" text-anchor="end" fill="#222" font-family="Liberation Serif"  stroke="#222" stroke-width="0.2">2</text>
<line x1="424.4" y1="280.95" x2="426.2" y2="280.95" stroke="#222" stroke-width="0.8"/>
<text x="423.4" y="282.85" font-size="5.5" text-anchor="end" fill="#222" font-family="Liberation Serif"  stroke="#222" stroke-width="0.2">3</text>
<line x1="424.4" y1="320.9" x2="424.4" y2="319.3" stroke="#222" stroke-width="0.8"/>
<line x1="438.55" y1="320.9" x2="438.55" y2="319.3" stroke="#222" stroke-width="0.8"/>
<line x1="452.7" y1="320.9" x2="452.7" y2="319.3" stroke="#222" stroke-width="0.8"/>
<line x1="466.85" y1="320.9" x2="466.85" y2="319.3" stroke="#222" stroke-width="0.8"/>
<line x1="481" y1="320.9" x2="481" y2="319.3" stroke="#222" stroke-width="0.8"/>
<line x1="495.15" y1="320.9" x2="495.15" y2="319.3" stroke="#222" stroke-width="0.8"/>
<line x1="509.3" y1="320.9" x2="509.3" y2="319.3" stroke="#222" stroke-width="0.8"/>
<line x1="523.45" y1="320.9" x2="523.45" y2="319.3" stroke="#222" stroke-width="0.8"/>
<line x1="537.6" y1="320.9" x2="537.6" y2="319.3" stroke="#222" stroke-width="0.8"/>
<text transform="translate(415.6,296.4) rotate(-90)" font-size="10" text-anchor="middle" fill="#222" font-family="Liberation Serif" textLength="22.4" lengthAdjust="spacingAndGlyphs">n (ω)</text>
<text x="424.4" y="326.8" font-size="5.3" text-anchor="middle" fill="#333" font-family="Liberation Serif"  stroke="#333" stroke-width="0.2">0</text>
<text x="452.7" y="326.8" font-size="5.3" text-anchor="middle" fill="#333" font-family="Liberation Serif"  stroke="#333" stroke-width="0.2">5</text>
<text x="481" y="326.8" font-size="5.3" text-anchor="middle" fill="#333" font-family="Liberation Serif"  stroke="#333" stroke-width="0.2">10</text>
<text x="509.3" y="326.8" font-size="5.3" text-anchor="middle" fill="#333" font-family="Liberation Serif"  stroke="#333" stroke-width="0.2">15</text>
<text x="537.6" y="326.8" font-size="5.3" text-anchor="middle" fill="#333" font-family="Liberation Serif"  stroke="#333" stroke-width="0.2">20</text>
<text x="482.1" y="336.5" font-size="10.5" text-anchor="middle" fill="#222" font-family="Liberation Serif" textLength="53.8" lengthAdjust="spacingAndGlyphs" >Energy (eV)</text>
<line x1="429.6" y1="138.3" x2="440" y2="138.3" stroke="#505050" stroke-width="1.5"/>
<text x="442.5" y="140.6" font-size="7.6" text-anchor="start" fill="#222" font-family="Liberation Serif" textLength="12.2" lengthAdjust="spacingAndGlyphs"  stroke="#222" stroke-width="0.2">BFO</text>
<line x1="429.6" y1="145.5" x2="440" y2="145.5" stroke="#c09068" stroke-width="1.5"/>
<text x="442.5" y="147.8" font-size="7.6" text-anchor="start" fill="#222" font-family="Liberation Serif" textLength="16" lengthAdjust="spacingAndGlyphs"  stroke="#222" stroke-width="0.2">BFCO</text>
<line x1="429.6" y1="152.3" x2="440" y2="152.3" stroke="#4a4ad0" stroke-width="1.5"/>
<text x="442.5" y="154.6" font-size="7.6" text-anchor="start" fill="#222" font-family="Liberation Serif" textLength="21.8" lengthAdjust="spacingAndGlyphs"  stroke="#222" stroke-width="0.2">F-BFCO</text>
<line x1="429.6" y1="159.1" x2="440" y2="159.1" stroke="#5a8c9c" stroke-width="1.5"/>
<text x="442.5" y="161.4" font-size="7.6" text-anchor="start" fill="#222" font-family="Liberation Serif" textLength="24.3" lengthAdjust="spacingAndGlyphs"  stroke="#222" stroke-width="0.2">N-BFCO</text>
<line x1="429.6" y1="166.1" x2="440" y2="166.1" stroke="#b890dc" stroke-width="1.5"/>
<text x="442.5" y="168.4" font-size="7.6" text-anchor="start" fill="#222" font-family="Liberation Serif" textLength="21.6" lengthAdjust="spacingAndGlyphs"  stroke="#222" stroke-width="0.2">S-BFCO</text>
</svg></body></html>
